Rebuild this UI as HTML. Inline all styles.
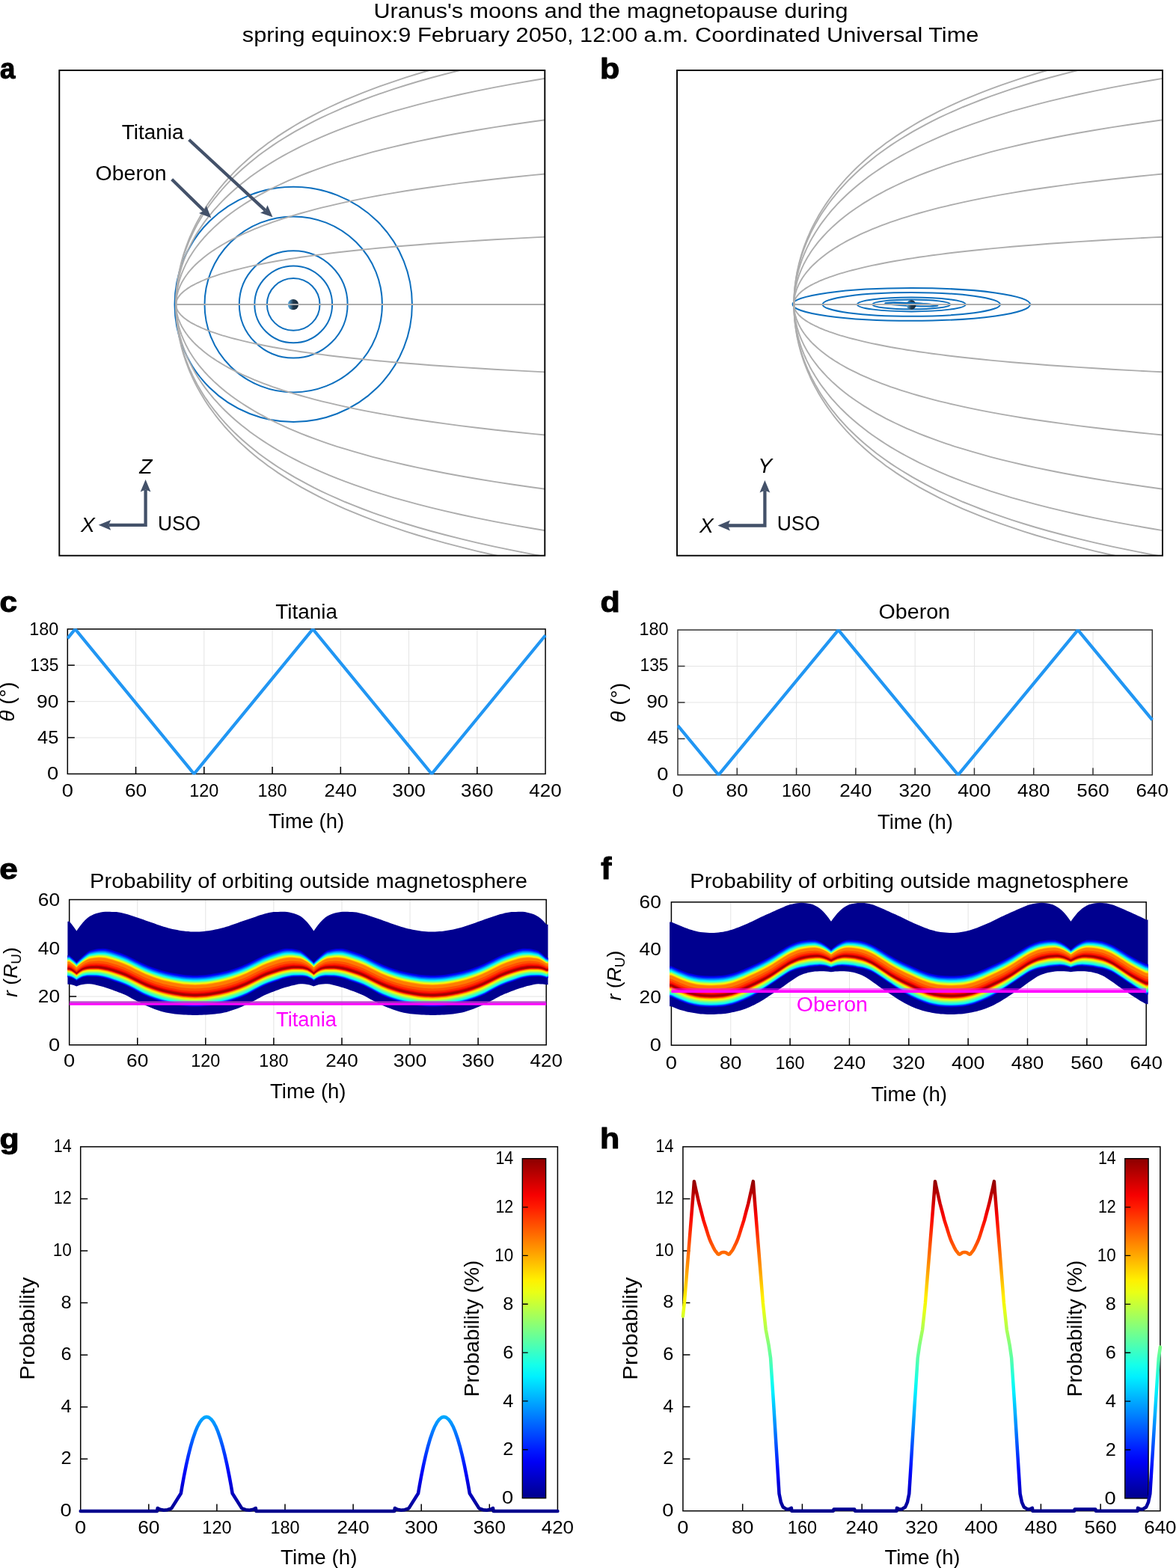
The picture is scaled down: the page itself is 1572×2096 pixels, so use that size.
<!DOCTYPE html>
<html lang="en">
<head>
<meta charset="utf-8">
<title>Uranus moons and the magnetopause</title>
<style>html,body{margin:0;padding:0;background:#fff;width:1572px;height:2096px;overflow:hidden}svg{display:block}text{font-family:'Liberation Sans', sans-serif;}</style>
</head>
<body>
<svg width="1572" height="2096" viewBox="0 0 1572 2096" role="img" aria-label="Uranus moons and the magnetopause during spring equinox">
<defs>
<clipPath id="clipA"><rect x="79.3" y="94" width="649" height="648.7"/></clipPath>
<linearGradient id="plA" x1="0" y1="0" x2="1" y2="0"><stop offset="0" stop-color="#5fb2ec"/><stop offset="0.12" stop-color="#4d96c8"/><stop offset="0.3" stop-color="#3d6d8e"/><stop offset="0.5" stop-color="#223a4e"/><stop offset="1" stop-color="#15293a"/></linearGradient>
<linearGradient id="plB" x1="0" y1="0" x2="1" y2="0"><stop offset="0" stop-color="#5fb2ec"/><stop offset="0.12" stop-color="#4d96c8"/><stop offset="0.3" stop-color="#3d6d8e"/><stop offset="0.5" stop-color="#223a4e"/><stop offset="1" stop-color="#15293a"/></linearGradient>
<clipPath id="clipB"><rect x="905" y="94" width="649" height="648.7"/></clipPath>
<clipPath id="clipT90"><rect x="89.6" y="840.2" width="640.98" height="195.2"/></clipPath>
<clipPath id="clipT906"><rect x="905.3" y="841.35" width="636.5" height="195.45"/></clipPath>
<linearGradient id="jg" gradientUnits="userSpaceOnUse" x1="0" y1="2019.9" x2="0" y2="1576.38"><stop offset="0" stop-color="#00008c"/><stop offset="0.0357" stop-color="#0000af"/><stop offset="0.0714" stop-color="#0000d3"/><stop offset="0.1071" stop-color="#0000f6"/><stop offset="0.1429" stop-color="#001bff"/><stop offset="0.1786" stop-color="#003fff"/><stop offset="0.2143" stop-color="#0062ff"/><stop offset="0.25" stop-color="#0086ff"/><stop offset="0.2857" stop-color="#00a9ff"/><stop offset="0.3214" stop-color="#00cdff"/><stop offset="0.3571" stop-color="#00f0ff"/><stop offset="0.3929" stop-color="#15ffea"/><stop offset="0.4286" stop-color="#38ffc7"/><stop offset="0.4643" stop-color="#5cffa3"/><stop offset="0.5" stop-color="#80ff80"/><stop offset="0.5357" stop-color="#a3ff5c"/><stop offset="0.5714" stop-color="#c7ff38"/><stop offset="0.6071" stop-color="#eaff15"/><stop offset="0.6429" stop-color="#fff000"/><stop offset="0.6786" stop-color="#ffcd00"/><stop offset="0.7143" stop-color="#ffa900"/><stop offset="0.75" stop-color="#ff8600"/><stop offset="0.7857" stop-color="#ff6200"/><stop offset="0.8214" stop-color="#ff3f00"/><stop offset="0.8571" stop-color="#ff1b00"/><stop offset="0.8929" stop-color="#f60000"/><stop offset="0.9286" stop-color="#d30000"/><stop offset="0.9643" stop-color="#af0000"/><stop offset="1" stop-color="#8c0000"/></linearGradient>
<linearGradient id="jgc" gradientUnits="userSpaceOnUse" x1="0" y1="2002.6" x2="0" y2="1548.7"><stop offset="0" stop-color="#00008c"/><stop offset="0.0357" stop-color="#0000af"/><stop offset="0.0714" stop-color="#0000d3"/><stop offset="0.1071" stop-color="#0000f6"/><stop offset="0.1429" stop-color="#001bff"/><stop offset="0.1786" stop-color="#003fff"/><stop offset="0.2143" stop-color="#0062ff"/><stop offset="0.25" stop-color="#0086ff"/><stop offset="0.2857" stop-color="#00a9ff"/><stop offset="0.3214" stop-color="#00cdff"/><stop offset="0.3571" stop-color="#00f0ff"/><stop offset="0.3929" stop-color="#15ffea"/><stop offset="0.4286" stop-color="#38ffc7"/><stop offset="0.4643" stop-color="#5cffa3"/><stop offset="0.5" stop-color="#80ff80"/><stop offset="0.5357" stop-color="#a3ff5c"/><stop offset="0.5714" stop-color="#c7ff38"/><stop offset="0.6071" stop-color="#eaff15"/><stop offset="0.6429" stop-color="#fff000"/><stop offset="0.6786" stop-color="#ffcd00"/><stop offset="0.7143" stop-color="#ffa900"/><stop offset="0.75" stop-color="#ff8600"/><stop offset="0.7857" stop-color="#ff6200"/><stop offset="0.8214" stop-color="#ff3f00"/><stop offset="0.8571" stop-color="#ff1b00"/><stop offset="0.8929" stop-color="#f60000"/><stop offset="0.9286" stop-color="#d30000"/><stop offset="0.9643" stop-color="#af0000"/><stop offset="1" stop-color="#8c0000"/></linearGradient>
<linearGradient id="jh" gradientUnits="userSpaceOnUse" x1="0" y1="2019.7" x2="0" y2="1576.36"><stop offset="0" stop-color="#00008c"/><stop offset="0.0357" stop-color="#0000af"/><stop offset="0.0714" stop-color="#0000d3"/><stop offset="0.1071" stop-color="#0000f6"/><stop offset="0.1429" stop-color="#001bff"/><stop offset="0.1786" stop-color="#003fff"/><stop offset="0.2143" stop-color="#0062ff"/><stop offset="0.25" stop-color="#0086ff"/><stop offset="0.2857" stop-color="#00a9ff"/><stop offset="0.3214" stop-color="#00cdff"/><stop offset="0.3571" stop-color="#00f0ff"/><stop offset="0.3929" stop-color="#15ffea"/><stop offset="0.4286" stop-color="#38ffc7"/><stop offset="0.4643" stop-color="#5cffa3"/><stop offset="0.5" stop-color="#80ff80"/><stop offset="0.5357" stop-color="#a3ff5c"/><stop offset="0.5714" stop-color="#c7ff38"/><stop offset="0.6071" stop-color="#eaff15"/><stop offset="0.6429" stop-color="#fff000"/><stop offset="0.6786" stop-color="#ffcd00"/><stop offset="0.7143" stop-color="#ffa900"/><stop offset="0.75" stop-color="#ff8600"/><stop offset="0.7857" stop-color="#ff6200"/><stop offset="0.8214" stop-color="#ff3f00"/><stop offset="0.8571" stop-color="#ff1b00"/><stop offset="0.8929" stop-color="#f60000"/><stop offset="0.9286" stop-color="#d30000"/><stop offset="0.9643" stop-color="#af0000"/><stop offset="1" stop-color="#8c0000"/></linearGradient>
<linearGradient id="jhc" gradientUnits="userSpaceOnUse" x1="0" y1="2002.9" x2="0" y2="1548.7"><stop offset="0" stop-color="#00008c"/><stop offset="0.0357" stop-color="#0000af"/><stop offset="0.0714" stop-color="#0000d3"/><stop offset="0.1071" stop-color="#0000f6"/><stop offset="0.1429" stop-color="#001bff"/><stop offset="0.1786" stop-color="#003fff"/><stop offset="0.2143" stop-color="#0062ff"/><stop offset="0.25" stop-color="#0086ff"/><stop offset="0.2857" stop-color="#00a9ff"/><stop offset="0.3214" stop-color="#00cdff"/><stop offset="0.3571" stop-color="#00f0ff"/><stop offset="0.3929" stop-color="#15ffea"/><stop offset="0.4286" stop-color="#38ffc7"/><stop offset="0.4643" stop-color="#5cffa3"/><stop offset="0.5" stop-color="#80ff80"/><stop offset="0.5357" stop-color="#a3ff5c"/><stop offset="0.5714" stop-color="#c7ff38"/><stop offset="0.6071" stop-color="#eaff15"/><stop offset="0.6429" stop-color="#fff000"/><stop offset="0.6786" stop-color="#ffcd00"/><stop offset="0.7143" stop-color="#ffa900"/><stop offset="0.75" stop-color="#ff8600"/><stop offset="0.7857" stop-color="#ff6200"/><stop offset="0.8214" stop-color="#ff3f00"/><stop offset="0.8571" stop-color="#ff1b00"/><stop offset="0.8929" stop-color="#f60000"/><stop offset="0.9286" stop-color="#d30000"/><stop offset="0.9643" stop-color="#af0000"/><stop offset="1" stop-color="#8c0000"/></linearGradient>
</defs>
<rect width="1572" height="2096" fill="#fff"/>
<g fill="none" stroke="#0d6fbe" stroke-width="2">
<ellipse cx="392.2" cy="406.9" rx="35.3" ry="34.95"/>
<ellipse cx="392.2" cy="406.9" rx="51.9" ry="51.38"/>
<ellipse cx="392.2" cy="406.9" rx="72.4" ry="71.68"/>
<ellipse cx="392.2" cy="406.9" rx="118.7" ry="117.51"/>
<ellipse cx="392.2" cy="406.9" rx="158.7" ry="157.11"/>
</g>
<g clip-path="url(#clipA)" fill="none" stroke="#adadad" stroke-width="1.9">
<path d="M235.2 407H728.3"/>
<path d="M235.2 407L235.3 405.8L235.3 404.1L235.3 402.1L235.4 399.8L235.5 397.4L235.6 394.8L235.7 392.1L235.9 389.3L236.2 386.4L236.5 383.4L236.8 380.3L237.3 377.1L237.7 373.8L238.2 370.4L238.8 367L239.5 363.5L240.2 360L241 356.4L241.9 352.7L242.8 349L243.9 345.2L245 341.3L246.2 337.5L247.5 333.5L248.9 329.6L250.4 325.5L251.9 321.5L253.6 317.4L255.4 313.3L257.3 309.1L259.3 304.9L261.4 300.6L263.6 296.4L266 292.1L268.5 287.7L271.1 283.4L273.8 279L276.7 274.6L279.7 270.1L282.9 265.7L286.2 261.2L289.7 256.7L293.3 252.1L297.1 247.6L301 243L305.2 238.4L309.5 233.8L314 229.2L318.7 224.5L323.6 219.9L328.8 215.2L334.1 210.5L339.7 205.8L345.5 201.1L351.6 196.4L358 191.6L364.6 186.9L371.5 182.1L378.7 177.4L386.3 172.6L394.2 167.8L402.5 162.9L411.2 158.1L420.2 153.3L429.8 148.4L439.8 143.5L450.3 138.6L461.4 133.7L473 128.8L485.3 123.8L498.3 118.8L512.1 113.8L526.7 108.8L542.2 103.7L558.7 98.5L576.3 93.4L595.1 88.1L615.4 82.8L637.1 77.4L660.7 72L686.2 66.4L714 60.8L744.4 55L777.8 49.1"/>
<path d="M235.2 407L235.3 408.2L235.3 409.9L235.3 411.9L235.4 414.2L235.5 416.6L235.6 419.2L235.7 421.9L235.9 424.7L236.2 427.6L236.5 430.6L236.8 433.7L237.3 436.9L237.7 440.2L238.2 443.6L238.8 447L239.5 450.5L240.2 454L241 457.6L241.9 461.3L242.8 465L243.9 468.8L245 472.7L246.2 476.5L247.5 480.5L248.9 484.4L250.4 488.5L251.9 492.5L253.6 496.6L255.4 500.7L257.3 504.9L259.3 509.1L261.4 513.4L263.6 517.6L266 521.9L268.5 526.3L271.1 530.6L273.8 535L276.7 539.4L279.7 543.9L282.9 548.3L286.2 552.8L289.7 557.3L293.3 561.9L297.1 566.4L301 571L305.2 575.6L309.5 580.2L314 584.8L318.7 589.5L323.6 594.1L328.8 598.8L334.1 603.5L339.7 608.2L345.5 612.9L351.6 617.6L358 622.4L364.6 627.1L371.5 631.9L378.7 636.6L386.3 641.4L394.2 646.2L402.5 651.1L411.2 655.9L420.2 660.7L429.8 665.6L439.8 670.5L450.3 675.4L461.4 680.3L473 685.2L485.3 690.2L498.3 695.2L512.1 700.2L526.7 705.2L542.2 710.3L558.7 715.5L576.3 720.6L595.1 725.9L615.4 731.2L637.1 736.6L660.7 742L686.2 747.6L714 753.2L744.4 759L777.8 764.9"/>
<path d="M235.2 407L235.3 405.9L235.3 404.2L235.3 402.2L235.4 400.1L235.5 397.7L235.6 395.3L235.7 392.6L235.9 389.9L236.2 387.1L236.5 384.2L236.8 381.2L237.3 378.1L237.7 374.9L238.2 371.7L238.8 368.4L239.5 365L240.2 361.6L241 358.1L241.9 354.5L242.8 350.9L243.9 347.3L245 343.6L246.2 339.8L247.5 336L248.9 332.2L250.4 328.3L251.9 324.4L253.6 320.4L255.4 316.5L257.3 312.4L259.3 308.4L261.4 304.3L263.6 300.1L266 296L268.5 291.8L271.1 287.6L273.8 283.3L276.7 279.1L279.7 274.8L282.9 270.5L286.2 266.1L289.7 261.8L293.3 257.4L297.1 253L301 248.6L305.2 244.2L309.5 239.7L314 235.2L318.7 230.8L323.6 226.3L328.8 221.7L334.1 217.2L339.7 212.7L345.5 208.1L351.6 203.6L358 199L364.6 194.4L371.5 189.8L378.7 185.2L386.3 180.6L394.2 175.9L402.5 171.3L411.2 166.6L420.2 161.9L429.8 157.2L439.8 152.5L450.3 147.8L461.4 143L473 138.3L485.3 133.5L498.3 128.7L512.1 123.8L526.7 118.9L542.2 114L558.7 109L576.3 104L595.1 99L615.4 93.9L637.1 88.7L660.7 83.4L686.2 78.1L714 72.6L744.4 67L777.8 61.3"/>
<path d="M235.2 407L235.3 408.1L235.3 409.8L235.3 411.8L235.4 413.9L235.5 416.3L235.6 418.7L235.7 421.4L235.9 424.1L236.2 426.9L236.5 429.8L236.8 432.8L237.3 435.9L237.7 439.1L238.2 442.3L238.8 445.6L239.5 449L240.2 452.4L241 455.9L241.9 459.5L242.8 463.1L243.9 466.7L245 470.4L246.2 474.2L247.5 478L248.9 481.8L250.4 485.7L251.9 489.6L253.6 493.6L255.4 497.5L257.3 501.6L259.3 505.6L261.4 509.7L263.6 513.9L266 518L268.5 522.2L271.1 526.4L273.8 530.7L276.7 534.9L279.7 539.2L282.9 543.5L286.2 547.9L289.7 552.2L293.3 556.6L297.1 561L301 565.4L305.2 569.8L309.5 574.3L314 578.8L318.7 583.2L323.6 587.7L328.8 592.3L334.1 596.8L339.7 601.3L345.5 605.9L351.6 610.4L358 615L364.6 619.6L371.5 624.2L378.7 628.8L386.3 633.4L394.2 638.1L402.5 642.7L411.2 647.4L420.2 652.1L429.8 656.8L439.8 661.5L450.3 666.2L461.4 671L473 675.7L485.3 680.5L498.3 685.3L512.1 690.2L526.7 695.1L542.2 700L558.7 705L576.3 710L595.1 715L615.4 720.1L637.1 725.3L660.7 730.6L686.2 735.9L714 741.4L744.4 747L777.8 752.7"/>
<path d="M235.2 407L235.3 406L235.3 404.5L235.3 402.7L235.4 400.8L235.5 398.7L235.6 396.5L235.7 394.1L235.9 391.7L236.2 389.2L236.5 386.5L236.8 383.9L237.3 381.1L237.7 378.2L238.2 375.3L238.8 372.4L239.5 369.4L240.2 366.3L241 363.1L241.9 360L242.8 356.7L243.9 353.5L245 350.1L246.2 346.8L247.5 343.4L248.9 339.9L250.4 336.5L251.9 332.9L253.6 329.4L255.4 325.8L257.3 322.2L259.3 318.6L261.4 314.9L263.6 311.2L266 307.5L268.5 303.7L271.1 299.9L273.8 296.1L276.7 292.3L279.7 288.5L282.9 284.6L286.2 280.7L289.7 276.8L293.3 272.9L297.1 268.9L301 265L305.2 261L309.5 257L314 253L318.7 249L323.6 244.9L328.8 240.9L334.1 236.8L339.7 232.8L345.5 228.7L351.6 224.6L358 220.5L364.6 216.4L371.5 212.3L378.7 208.1L386.3 204L394.2 199.8L402.5 195.6L411.2 191.5L420.2 187.3L429.8 183.1L439.8 178.8L450.3 174.6L461.4 170.3L473 166.1L485.3 161.8L498.3 157.4L512.1 153.1L526.7 148.7L542.2 144.3L558.7 139.9L576.3 135.4L595.1 130.8L615.4 126.3L637.1 121.6L660.7 116.9L686.2 112.1L714 107.2L744.4 102.2L777.8 97"/>
<path d="M235.2 407L235.3 408L235.3 409.5L235.3 411.3L235.4 413.2L235.5 415.3L235.6 417.5L235.7 419.9L235.9 422.3L236.2 424.8L236.5 427.5L236.8 430.1L237.3 432.9L237.7 435.8L238.2 438.7L238.8 441.6L239.5 444.6L240.2 447.7L241 450.9L241.9 454L242.8 457.3L243.9 460.5L245 463.9L246.2 467.2L247.5 470.6L248.9 474.1L250.4 477.5L251.9 481.1L253.6 484.6L255.4 488.2L257.3 491.8L259.3 495.4L261.4 499.1L263.6 502.8L266 506.5L268.5 510.3L271.1 514.1L273.8 517.9L276.7 521.7L279.7 525.5L282.9 529.4L286.2 533.3L289.7 537.2L293.3 541.1L297.1 545.1L301 549L305.2 553L309.5 557L314 561L318.7 565L323.6 569.1L328.8 573.1L334.1 577.2L339.7 581.2L345.5 585.3L351.6 589.4L358 593.5L364.6 597.6L371.5 601.7L378.7 605.9L386.3 610L394.2 614.2L402.5 618.4L411.2 622.5L420.2 626.7L429.8 630.9L439.8 635.2L450.3 639.4L461.4 643.7L473 647.9L485.3 652.2L498.3 656.6L512.1 660.9L526.7 665.3L542.2 669.7L558.7 674.1L576.3 678.6L595.1 683.2L615.4 687.7L637.1 692.4L660.7 697.1L686.2 701.9L714 706.8L744.4 711.8L777.8 717"/>
<path d="M235.2 407L235.3 406.2L235.3 404.9L235.3 403.5L235.4 401.9L235.5 400.2L235.6 398.4L235.7 396.5L235.9 394.5L236.2 392.4L236.5 390.3L236.8 388.1L237.3 385.8L237.7 383.5L238.2 381.2L238.8 378.7L239.5 376.3L240.2 373.8L241 371.2L241.9 368.6L242.8 366L243.9 363.3L245 360.6L246.2 357.8L247.5 355.1L248.9 352.2L250.4 349.4L251.9 346.5L253.6 343.6L255.4 340.7L257.3 337.8L259.3 334.8L261.4 331.8L263.6 328.8L266 325.7L268.5 322.7L271.1 319.6L273.8 316.5L276.7 313.4L279.7 310.2L282.9 307.1L286.2 303.9L289.7 300.7L293.3 297.5L297.1 294.3L301 291L305.2 287.8L309.5 284.5L314 281.3L318.7 278L323.6 274.7L328.8 271.4L334.1 268.1L339.7 264.7L345.5 261.4L351.6 258.1L358 254.7L364.6 251.4L371.5 248L378.7 244.6L386.3 241.2L394.2 237.8L402.5 234.4L411.2 231L420.2 227.6L429.8 224.1L439.8 220.7L450.3 217.2L461.4 213.8L473 210.3L485.3 206.8L498.3 203.2L512.1 199.7L526.7 196.1L542.2 192.5L558.7 188.9L576.3 185.2L595.1 181.5L615.4 177.8L637.1 174L660.7 170.1L686.2 166.2L714 162.2L744.4 158.1L777.8 153.9"/>
<path d="M235.2 407L235.3 407.8L235.3 409.1L235.3 410.5L235.4 412.1L235.5 413.8L235.6 415.6L235.7 417.5L235.9 419.5L236.2 421.6L236.5 423.7L236.8 425.9L237.3 428.2L237.7 430.5L238.2 432.8L238.8 435.3L239.5 437.7L240.2 440.2L241 442.8L241.9 445.4L242.8 448L243.9 450.7L245 453.4L246.2 456.2L247.5 458.9L248.9 461.8L250.4 464.6L251.9 467.5L253.6 470.4L255.4 473.3L257.3 476.2L259.3 479.2L261.4 482.2L263.6 485.2L266 488.3L268.5 491.3L271.1 494.4L273.8 497.5L276.7 500.6L279.7 503.8L282.9 506.9L286.2 510.1L289.7 513.3L293.3 516.5L297.1 519.7L301 523L305.2 526.2L309.5 529.5L314 532.7L318.7 536L323.6 539.3L328.8 542.6L334.1 545.9L339.7 549.3L345.5 552.6L351.6 555.9L358 559.3L364.6 562.6L371.5 566L378.7 569.4L386.3 572.8L394.2 576.2L402.5 579.6L411.2 583L420.2 586.4L429.8 589.9L439.8 593.3L450.3 596.8L461.4 600.2L473 603.7L485.3 607.2L498.3 610.8L512.1 614.3L526.7 617.9L542.2 621.5L558.7 625.1L576.3 628.8L595.1 632.5L615.4 636.2L637.1 640L660.7 643.9L686.2 647.8L714 651.8L744.4 655.9L777.8 660.1"/>
<path d="M235.2 407L235.3 406.4L235.3 405.5L235.3 404.5L235.4 403.4L235.5 402.2L235.6 400.9L235.7 399.6L235.9 398.2L236.2 396.7L236.5 395.2L236.8 393.6L237.3 392L237.7 390.4L238.2 388.7L238.8 387L239.5 385.3L240.2 383.5L241 381.7L241.9 379.8L242.8 378L243.9 376.1L245 374.2L246.2 372.2L247.5 370.3L248.9 368.3L250.4 366.3L251.9 364.2L253.6 362.2L255.4 360.1L257.3 358L259.3 355.9L261.4 353.8L263.6 351.7L266 349.5L268.5 347.4L271.1 345.2L273.8 343L276.7 340.8L279.7 338.6L282.9 336.3L286.2 334.1L289.7 331.8L293.3 329.6L297.1 327.3L301 325L305.2 322.7L309.5 320.4L314 318.1L318.7 315.8L323.6 313.4L328.8 311.1L334.1 308.8L339.7 306.4L345.5 304.1L351.6 301.7L358 299.3L364.6 296.9L371.5 294.6L378.7 292.2L386.3 289.8L394.2 287.4L402.5 285L411.2 282.6L420.2 280.1L429.8 277.7L439.8 275.3L450.3 272.8L461.4 270.4L473 267.9L485.3 265.4L498.3 262.9L512.1 260.4L526.7 257.9L542.2 255.3L558.7 252.8L576.3 250.2L595.1 247.6L615.4 244.9L637.1 242.2L660.7 239.5L686.2 236.7L714 233.9L744.4 231L777.8 228"/>
<path d="M235.2 407L235.3 407.6L235.3 408.5L235.3 409.5L235.4 410.6L235.5 411.8L235.6 413.1L235.7 414.4L235.9 415.8L236.2 417.3L236.5 418.8L236.8 420.4L237.3 422L237.7 423.6L238.2 425.3L238.8 427L239.5 428.7L240.2 430.5L241 432.3L241.9 434.2L242.8 436L243.9 437.9L245 439.8L246.2 441.8L247.5 443.7L248.9 445.7L250.4 447.7L251.9 449.8L253.6 451.8L255.4 453.9L257.3 456L259.3 458.1L261.4 460.2L263.6 462.3L266 464.5L268.5 466.6L271.1 468.8L273.8 471L276.7 473.2L279.7 475.4L282.9 477.7L286.2 479.9L289.7 482.2L293.3 484.4L297.1 486.7L301 489L305.2 491.3L309.5 493.6L314 495.9L318.7 498.2L323.6 500.6L328.8 502.9L334.1 505.2L339.7 507.6L345.5 509.9L351.6 512.3L358 514.7L364.6 517.1L371.5 519.4L378.7 521.8L386.3 524.2L394.2 526.6L402.5 529L411.2 531.4L420.2 533.9L429.8 536.3L439.8 538.7L450.3 541.2L461.4 543.6L473 546.1L485.3 548.6L498.3 551.1L512.1 553.6L526.7 556.1L542.2 558.7L558.7 561.2L576.3 563.8L595.1 566.4L615.4 569.1L637.1 571.8L660.7 574.5L686.2 577.3L714 580.1L744.4 583L777.8 586"/>
<path d="M235.2 407L235.3 406.7L235.3 406.2L235.3 405.7L235.4 405.1L235.5 404.5L235.6 403.9L235.7 403.2L235.9 402.4L236.2 401.7L236.5 400.9L236.8 400.1L237.3 399.3L237.7 398.4L238.2 397.5L238.8 396.7L239.5 395.7L240.2 394.8L241 393.9L241.9 392.9L242.8 392L243.9 391L245 390L246.2 389L247.5 388L248.9 387L250.4 385.9L251.9 384.9L253.6 383.8L255.4 382.7L257.3 381.7L259.3 380.6L261.4 379.5L263.6 378.4L266 377.3L268.5 376.1L271.1 375L273.8 373.9L276.7 372.7L279.7 371.6L282.9 370.4L286.2 369.3L289.7 368.1L293.3 366.9L297.1 365.7L301 364.6L305.2 363.4L309.5 362.2L314 361L318.7 359.8L323.6 358.6L328.8 357.4L334.1 356.1L339.7 354.9L345.5 353.7L351.6 352.5L358 351.3L364.6 350L371.5 348.8L378.7 347.6L386.3 346.3L394.2 345.1L402.5 343.8L411.2 342.6L420.2 341.3L429.8 340.1L439.8 338.8L450.3 337.5L461.4 336.3L473 335L485.3 333.7L498.3 332.4L512.1 331.1L526.7 329.8L542.2 328.5L558.7 327.2L576.3 325.8L595.1 324.5L615.4 323.1L637.1 321.7L660.7 320.3L686.2 318.9L714 317.4L744.4 315.9L777.8 314.4"/>
<path d="M235.2 407L235.3 407.3L235.3 407.8L235.3 408.3L235.4 408.9L235.5 409.5L235.6 410.1L235.7 410.8L235.9 411.6L236.2 412.3L236.5 413.1L236.8 413.9L237.3 414.7L237.7 415.6L238.2 416.5L238.8 417.3L239.5 418.3L240.2 419.2L241 420.1L241.9 421.1L242.8 422L243.9 423L245 424L246.2 425L247.5 426L248.9 427L250.4 428.1L251.9 429.1L253.6 430.2L255.4 431.3L257.3 432.3L259.3 433.4L261.4 434.5L263.6 435.6L266 436.7L268.5 437.9L271.1 439L273.8 440.1L276.7 441.3L279.7 442.4L282.9 443.6L286.2 444.7L289.7 445.9L293.3 447.1L297.1 448.3L301 449.4L305.2 450.6L309.5 451.8L314 453L318.7 454.2L323.6 455.4L328.8 456.6L334.1 457.9L339.7 459.1L345.5 460.3L351.6 461.5L358 462.7L364.6 464L371.5 465.2L378.7 466.4L386.3 467.7L394.2 468.9L402.5 470.2L411.2 471.4L420.2 472.7L429.8 473.9L439.8 475.2L450.3 476.5L461.4 477.7L473 479L485.3 480.3L498.3 481.6L512.1 482.9L526.7 484.2L542.2 485.5L558.7 486.8L576.3 488.2L595.1 489.5L615.4 490.9L637.1 492.3L660.7 493.7L686.2 495.1L714 496.6L744.4 498.1L777.8 499.6"/>
</g>
<circle cx="391.9" cy="407.1" r="7.2" fill="url(#plA)"/>
<path d="M383 407h18" stroke="#b6b6b6" stroke-width="1.9"/>
<path d="M252.6 186.8L354.59 281.13" stroke="#435169" stroke-width="4.2" fill="none"/>
<path d="M364.5 290.3L348 284.57L354.59 281.13L357.51 274.3Z" fill="#435169"/>
<path d="M229.7 239.7L272.66 281.85" stroke="#435169" stroke-width="4.2" fill="none"/>
<path d="M282.3 291.3L265.98 285.09L272.66 281.85L275.78 275.1Z" fill="#435169"/>
<path d="M145.2 701.8H194.6V654.5" stroke="#435169" stroke-width="4.3" fill="none" stroke-linejoin="miter"/>
<path d="M131.7 701.8l16.5 -6.9l-3 6.9l3 6.9Z" fill="#435169"/>
<path d="M194.6 641l-6.9 16.5l6.9 -3l6.9 3Z" fill="#435169"/>
<rect x="79.3" y="94.0" width="649.0" height="648.7" fill="none" stroke="#000" stroke-width="1.9"/>
<g fill="none" stroke="#0d6fbe" stroke-width="2">
<ellipse cx="1218.3" cy="406.9" rx="51.9" ry="6.4"/>
<ellipse cx="1218.3" cy="406.9" rx="72.4" ry="9.5"/>
<ellipse cx="1218.3" cy="406.9" rx="118.7" ry="15.9"/>
<ellipse cx="1218.3" cy="406.9" rx="158.7" ry="21.9"/>
<ellipse cx="1218.3" cy="407" rx="35.2" ry="1.9" transform="rotate(2.9 1218.3 407)"/>
</g>
<circle cx="1218" cy="407.5" r="6.5" fill="url(#plB)"/>
<path d="M1183.1 407A35.2 1.9 0 0 1 1253.5 407" fill="none" stroke="#0d6fbe" stroke-width="2" transform="rotate(2.9 1218.3 407)"/>
<g clip-path="url(#clipB)" fill="none" stroke="#adadad" stroke-width="1.9">
<path d="M1061.3 407H1554"/>
<path d="M1061.3 407L1061.3 405.8L1061.3 404.1L1061.4 402.1L1061.4 399.8L1061.5 397.4L1061.6 394.8L1061.8 392.1L1062 389.3L1062.2 386.4L1062.5 383.4L1062.9 380.3L1063.3 377.1L1063.8 373.8L1064.3 370.4L1064.9 367L1065.5 363.5L1066.3 360L1067.1 356.4L1067.9 352.7L1068.9 349L1069.9 345.2L1071 341.3L1072.2 337.5L1073.5 333.5L1074.9 329.6L1076.4 325.5L1078 321.5L1079.7 317.4L1081.5 313.3L1083.3 309.1L1085.3 304.9L1087.5 300.6L1089.7 296.4L1092.1 292.1L1094.5 287.7L1097.1 283.4L1099.9 279L1102.8 274.6L1105.8 270.1L1108.9 265.7L1112.2 261.2L1115.7 256.7L1119.3 252.1L1123.1 247.6L1127.1 243L1131.2 238.4L1135.5 233.8L1140.1 229.2L1144.8 224.5L1149.7 219.9L1154.8 215.2L1160.2 210.5L1165.7 205.8L1171.6 201.1L1177.7 196.4L1184 191.6L1190.6 186.9L1197.6 182.1L1204.8 177.4L1212.4 172.6L1220.3 167.8L1228.5 162.9L1237.2 158.1L1246.3 153.3L1255.8 148.4L1265.8 143.5L1276.3 138.6L1287.4 133.7L1299.1 128.8L1311.4 123.8L1324.4 118.8L1338.1 113.8L1352.7 108.8L1368.2 103.7L1384.7 98.5L1402.3 93.4L1421.2 88.1L1441.4 82.8L1463.2 77.4L1486.7 72L1512.3 66.4L1540 60.8L1570.5 55L1603.9 49.1"/>
<path d="M1061.3 407L1061.3 408.2L1061.3 409.9L1061.4 411.9L1061.4 414.2L1061.5 416.6L1061.6 419.2L1061.8 421.9L1062 424.7L1062.2 427.6L1062.5 430.6L1062.9 433.7L1063.3 436.9L1063.8 440.2L1064.3 443.6L1064.9 447L1065.5 450.5L1066.3 454L1067.1 457.6L1067.9 461.3L1068.9 465L1069.9 468.8L1071 472.7L1072.2 476.5L1073.5 480.5L1074.9 484.4L1076.4 488.5L1078 492.5L1079.7 496.6L1081.5 500.7L1083.3 504.9L1085.3 509.1L1087.5 513.4L1089.7 517.6L1092.1 521.9L1094.5 526.3L1097.1 530.6L1099.9 535L1102.8 539.4L1105.8 543.9L1108.9 548.3L1112.2 552.8L1115.7 557.3L1119.3 561.9L1123.1 566.4L1127.1 571L1131.2 575.6L1135.5 580.2L1140.1 584.8L1144.8 589.5L1149.7 594.1L1154.8 598.8L1160.2 603.5L1165.7 608.2L1171.6 612.9L1177.7 617.6L1184 622.4L1190.6 627.1L1197.6 631.9L1204.8 636.6L1212.4 641.4L1220.3 646.2L1228.5 651.1L1237.2 655.9L1246.3 660.7L1255.8 665.6L1265.8 670.5L1276.3 675.4L1287.4 680.3L1299.1 685.2L1311.4 690.2L1324.4 695.2L1338.1 700.2L1352.7 705.2L1368.2 710.3L1384.7 715.5L1402.3 720.6L1421.2 725.9L1441.4 731.2L1463.2 736.6L1486.7 742L1512.3 747.6L1540 753.2L1570.5 759L1603.9 764.9"/>
<path d="M1061.3 407L1061.3 405.9L1061.3 404.2L1061.4 402.2L1061.4 400.1L1061.5 397.7L1061.6 395.3L1061.8 392.6L1062 389.9L1062.2 387.1L1062.5 384.2L1062.9 381.2L1063.3 378.1L1063.8 374.9L1064.3 371.7L1064.9 368.4L1065.5 365L1066.3 361.6L1067.1 358.1L1067.9 354.5L1068.9 350.9L1069.9 347.3L1071 343.6L1072.2 339.8L1073.5 336L1074.9 332.2L1076.4 328.3L1078 324.4L1079.7 320.4L1081.5 316.5L1083.3 312.4L1085.3 308.4L1087.5 304.3L1089.7 300.1L1092.1 296L1094.5 291.8L1097.1 287.6L1099.9 283.3L1102.8 279.1L1105.8 274.8L1108.9 270.5L1112.2 266.1L1115.7 261.8L1119.3 257.4L1123.1 253L1127.1 248.6L1131.2 244.2L1135.5 239.7L1140.1 235.2L1144.8 230.8L1149.7 226.3L1154.8 221.7L1160.2 217.2L1165.7 212.7L1171.6 208.1L1177.7 203.6L1184 199L1190.6 194.4L1197.6 189.8L1204.8 185.2L1212.4 180.6L1220.3 175.9L1228.5 171.3L1237.2 166.6L1246.3 161.9L1255.8 157.2L1265.8 152.5L1276.3 147.8L1287.4 143L1299.1 138.3L1311.4 133.5L1324.4 128.7L1338.1 123.8L1352.7 118.9L1368.2 114L1384.7 109L1402.3 104L1421.2 99L1441.4 93.9L1463.2 88.7L1486.7 83.4L1512.3 78.1L1540 72.6L1570.5 67L1603.9 61.3"/>
<path d="M1061.3 407L1061.3 408.1L1061.3 409.8L1061.4 411.8L1061.4 413.9L1061.5 416.3L1061.6 418.7L1061.8 421.4L1062 424.1L1062.2 426.9L1062.5 429.8L1062.9 432.8L1063.3 435.9L1063.8 439.1L1064.3 442.3L1064.9 445.6L1065.5 449L1066.3 452.4L1067.1 455.9L1067.9 459.5L1068.9 463.1L1069.9 466.7L1071 470.4L1072.2 474.2L1073.5 478L1074.9 481.8L1076.4 485.7L1078 489.6L1079.7 493.6L1081.5 497.5L1083.3 501.6L1085.3 505.6L1087.5 509.7L1089.7 513.9L1092.1 518L1094.5 522.2L1097.1 526.4L1099.9 530.7L1102.8 534.9L1105.8 539.2L1108.9 543.5L1112.2 547.9L1115.7 552.2L1119.3 556.6L1123.1 561L1127.1 565.4L1131.2 569.8L1135.5 574.3L1140.1 578.8L1144.8 583.2L1149.7 587.7L1154.8 592.3L1160.2 596.8L1165.7 601.3L1171.6 605.9L1177.7 610.4L1184 615L1190.6 619.6L1197.6 624.2L1204.8 628.8L1212.4 633.4L1220.3 638.1L1228.5 642.7L1237.2 647.4L1246.3 652.1L1255.8 656.8L1265.8 661.5L1276.3 666.2L1287.4 671L1299.1 675.7L1311.4 680.5L1324.4 685.3L1338.1 690.2L1352.7 695.1L1368.2 700L1384.7 705L1402.3 710L1421.2 715L1441.4 720.1L1463.2 725.3L1486.7 730.6L1512.3 735.9L1540 741.4L1570.5 747L1603.9 752.7"/>
<path d="M1061.3 407L1061.3 406L1061.3 404.5L1061.4 402.7L1061.4 400.8L1061.5 398.7L1061.6 396.5L1061.8 394.1L1062 391.7L1062.2 389.2L1062.5 386.5L1062.9 383.9L1063.3 381.1L1063.8 378.2L1064.3 375.3L1064.9 372.4L1065.5 369.4L1066.3 366.3L1067.1 363.1L1067.9 360L1068.9 356.7L1069.9 353.5L1071 350.1L1072.2 346.8L1073.5 343.4L1074.9 339.9L1076.4 336.5L1078 332.9L1079.7 329.4L1081.5 325.8L1083.3 322.2L1085.3 318.6L1087.5 314.9L1089.7 311.2L1092.1 307.5L1094.5 303.7L1097.1 299.9L1099.9 296.1L1102.8 292.3L1105.8 288.5L1108.9 284.6L1112.2 280.7L1115.7 276.8L1119.3 272.9L1123.1 268.9L1127.1 265L1131.2 261L1135.5 257L1140.1 253L1144.8 249L1149.7 244.9L1154.8 240.9L1160.2 236.8L1165.7 232.8L1171.6 228.7L1177.7 224.6L1184 220.5L1190.6 216.4L1197.6 212.3L1204.8 208.1L1212.4 204L1220.3 199.8L1228.5 195.6L1237.2 191.5L1246.3 187.3L1255.8 183.1L1265.8 178.8L1276.3 174.6L1287.4 170.3L1299.1 166.1L1311.4 161.8L1324.4 157.4L1338.1 153.1L1352.7 148.7L1368.2 144.3L1384.7 139.9L1402.3 135.4L1421.2 130.8L1441.4 126.3L1463.2 121.6L1486.7 116.9L1512.3 112.1L1540 107.2L1570.5 102.2L1603.9 97"/>
<path d="M1061.3 407L1061.3 408L1061.3 409.5L1061.4 411.3L1061.4 413.2L1061.5 415.3L1061.6 417.5L1061.8 419.9L1062 422.3L1062.2 424.8L1062.5 427.5L1062.9 430.1L1063.3 432.9L1063.8 435.8L1064.3 438.7L1064.9 441.6L1065.5 444.6L1066.3 447.7L1067.1 450.9L1067.9 454L1068.9 457.3L1069.9 460.5L1071 463.9L1072.2 467.2L1073.5 470.6L1074.9 474.1L1076.4 477.5L1078 481.1L1079.7 484.6L1081.5 488.2L1083.3 491.8L1085.3 495.4L1087.5 499.1L1089.7 502.8L1092.1 506.5L1094.5 510.3L1097.1 514.1L1099.9 517.9L1102.8 521.7L1105.8 525.5L1108.9 529.4L1112.2 533.3L1115.7 537.2L1119.3 541.1L1123.1 545.1L1127.1 549L1131.2 553L1135.5 557L1140.1 561L1144.8 565L1149.7 569.1L1154.8 573.1L1160.2 577.2L1165.7 581.2L1171.6 585.3L1177.7 589.4L1184 593.5L1190.6 597.6L1197.6 601.7L1204.8 605.9L1212.4 610L1220.3 614.2L1228.5 618.4L1237.2 622.5L1246.3 626.7L1255.8 630.9L1265.8 635.2L1276.3 639.4L1287.4 643.7L1299.1 647.9L1311.4 652.2L1324.4 656.6L1338.1 660.9L1352.7 665.3L1368.2 669.7L1384.7 674.1L1402.3 678.6L1421.2 683.2L1441.4 687.7L1463.2 692.4L1486.7 697.1L1512.3 701.9L1540 706.8L1570.5 711.8L1603.9 717"/>
<path d="M1061.3 407L1061.3 406.2L1061.3 404.9L1061.4 403.5L1061.4 401.9L1061.5 400.2L1061.6 398.4L1061.8 396.5L1062 394.5L1062.2 392.4L1062.5 390.3L1062.9 388.1L1063.3 385.8L1063.8 383.5L1064.3 381.2L1064.9 378.7L1065.5 376.3L1066.3 373.8L1067.1 371.2L1067.9 368.6L1068.9 366L1069.9 363.3L1071 360.6L1072.2 357.8L1073.5 355.1L1074.9 352.2L1076.4 349.4L1078 346.5L1079.7 343.6L1081.5 340.7L1083.3 337.8L1085.3 334.8L1087.5 331.8L1089.7 328.8L1092.1 325.7L1094.5 322.7L1097.1 319.6L1099.9 316.5L1102.8 313.4L1105.8 310.2L1108.9 307.1L1112.2 303.9L1115.7 300.7L1119.3 297.5L1123.1 294.3L1127.1 291L1131.2 287.8L1135.5 284.5L1140.1 281.3L1144.8 278L1149.7 274.7L1154.8 271.4L1160.2 268.1L1165.7 264.7L1171.6 261.4L1177.7 258.1L1184 254.7L1190.6 251.4L1197.6 248L1204.8 244.6L1212.4 241.2L1220.3 237.8L1228.5 234.4L1237.2 231L1246.3 227.6L1255.8 224.1L1265.8 220.7L1276.3 217.2L1287.4 213.8L1299.1 210.3L1311.4 206.8L1324.4 203.2L1338.1 199.7L1352.7 196.1L1368.2 192.5L1384.7 188.9L1402.3 185.2L1421.2 181.5L1441.4 177.8L1463.2 174L1486.7 170.1L1512.3 166.2L1540 162.2L1570.5 158.1L1603.9 153.9"/>
<path d="M1061.3 407L1061.3 407.8L1061.3 409.1L1061.4 410.5L1061.4 412.1L1061.5 413.8L1061.6 415.6L1061.8 417.5L1062 419.5L1062.2 421.6L1062.5 423.7L1062.9 425.9L1063.3 428.2L1063.8 430.5L1064.3 432.8L1064.9 435.3L1065.5 437.7L1066.3 440.2L1067.1 442.8L1067.9 445.4L1068.9 448L1069.9 450.7L1071 453.4L1072.2 456.2L1073.5 458.9L1074.9 461.8L1076.4 464.6L1078 467.5L1079.7 470.4L1081.5 473.3L1083.3 476.2L1085.3 479.2L1087.5 482.2L1089.7 485.2L1092.1 488.3L1094.5 491.3L1097.1 494.4L1099.9 497.5L1102.8 500.6L1105.8 503.8L1108.9 506.9L1112.2 510.1L1115.7 513.3L1119.3 516.5L1123.1 519.7L1127.1 523L1131.2 526.2L1135.5 529.5L1140.1 532.7L1144.8 536L1149.7 539.3L1154.8 542.6L1160.2 545.9L1165.7 549.3L1171.6 552.6L1177.7 555.9L1184 559.3L1190.6 562.6L1197.6 566L1204.8 569.4L1212.4 572.8L1220.3 576.2L1228.5 579.6L1237.2 583L1246.3 586.4L1255.8 589.9L1265.8 593.3L1276.3 596.8L1287.4 600.2L1299.1 603.7L1311.4 607.2L1324.4 610.8L1338.1 614.3L1352.7 617.9L1368.2 621.5L1384.7 625.1L1402.3 628.8L1421.2 632.5L1441.4 636.2L1463.2 640L1486.7 643.9L1512.3 647.8L1540 651.8L1570.5 655.9L1603.9 660.1"/>
<path d="M1061.3 407L1061.3 406.4L1061.3 405.5L1061.4 404.5L1061.4 403.4L1061.5 402.2L1061.6 400.9L1061.8 399.6L1062 398.2L1062.2 396.7L1062.5 395.2L1062.9 393.6L1063.3 392L1063.8 390.4L1064.3 388.7L1064.9 387L1065.5 385.3L1066.3 383.5L1067.1 381.7L1067.9 379.8L1068.9 378L1069.9 376.1L1071 374.2L1072.2 372.2L1073.5 370.3L1074.9 368.3L1076.4 366.3L1078 364.2L1079.7 362.2L1081.5 360.1L1083.3 358L1085.3 355.9L1087.5 353.8L1089.7 351.7L1092.1 349.5L1094.5 347.4L1097.1 345.2L1099.9 343L1102.8 340.8L1105.8 338.6L1108.9 336.3L1112.2 334.1L1115.7 331.8L1119.3 329.6L1123.1 327.3L1127.1 325L1131.2 322.7L1135.5 320.4L1140.1 318.1L1144.8 315.8L1149.7 313.4L1154.8 311.1L1160.2 308.8L1165.7 306.4L1171.6 304.1L1177.7 301.7L1184 299.3L1190.6 296.9L1197.6 294.6L1204.8 292.2L1212.4 289.8L1220.3 287.4L1228.5 285L1237.2 282.6L1246.3 280.1L1255.8 277.7L1265.8 275.3L1276.3 272.8L1287.4 270.4L1299.1 267.9L1311.4 265.4L1324.4 262.9L1338.1 260.4L1352.7 257.9L1368.2 255.3L1384.7 252.8L1402.3 250.2L1421.2 247.6L1441.4 244.9L1463.2 242.2L1486.7 239.5L1512.3 236.7L1540 233.9L1570.5 231L1603.9 228"/>
<path d="M1061.3 407L1061.3 407.6L1061.3 408.5L1061.4 409.5L1061.4 410.6L1061.5 411.8L1061.6 413.1L1061.8 414.4L1062 415.8L1062.2 417.3L1062.5 418.8L1062.9 420.4L1063.3 422L1063.8 423.6L1064.3 425.3L1064.9 427L1065.5 428.7L1066.3 430.5L1067.1 432.3L1067.9 434.2L1068.9 436L1069.9 437.9L1071 439.8L1072.2 441.8L1073.5 443.7L1074.9 445.7L1076.4 447.7L1078 449.8L1079.7 451.8L1081.5 453.9L1083.3 456L1085.3 458.1L1087.5 460.2L1089.7 462.3L1092.1 464.5L1094.5 466.6L1097.1 468.8L1099.9 471L1102.8 473.2L1105.8 475.4L1108.9 477.7L1112.2 479.9L1115.7 482.2L1119.3 484.4L1123.1 486.7L1127.1 489L1131.2 491.3L1135.5 493.6L1140.1 495.9L1144.8 498.2L1149.7 500.6L1154.8 502.9L1160.2 505.2L1165.7 507.6L1171.6 509.9L1177.7 512.3L1184 514.7L1190.6 517.1L1197.6 519.4L1204.8 521.8L1212.4 524.2L1220.3 526.6L1228.5 529L1237.2 531.4L1246.3 533.9L1255.8 536.3L1265.8 538.7L1276.3 541.2L1287.4 543.6L1299.1 546.1L1311.4 548.6L1324.4 551.1L1338.1 553.6L1352.7 556.1L1368.2 558.7L1384.7 561.2L1402.3 563.8L1421.2 566.4L1441.4 569.1L1463.2 571.8L1486.7 574.5L1512.3 577.3L1540 580.1L1570.5 583L1603.9 586"/>
<path d="M1061.3 407L1061.3 406.7L1061.3 406.2L1061.4 405.7L1061.4 405.1L1061.5 404.5L1061.6 403.9L1061.8 403.2L1062 402.4L1062.2 401.7L1062.5 400.9L1062.9 400.1L1063.3 399.3L1063.8 398.4L1064.3 397.5L1064.9 396.7L1065.5 395.7L1066.3 394.8L1067.1 393.9L1067.9 392.9L1068.9 392L1069.9 391L1071 390L1072.2 389L1073.5 388L1074.9 387L1076.4 385.9L1078 384.9L1079.7 383.8L1081.5 382.7L1083.3 381.7L1085.3 380.6L1087.5 379.5L1089.7 378.4L1092.1 377.3L1094.5 376.1L1097.1 375L1099.9 373.9L1102.8 372.7L1105.8 371.6L1108.9 370.4L1112.2 369.3L1115.7 368.1L1119.3 366.9L1123.1 365.7L1127.1 364.6L1131.2 363.4L1135.5 362.2L1140.1 361L1144.8 359.8L1149.7 358.6L1154.8 357.4L1160.2 356.1L1165.7 354.9L1171.6 353.7L1177.7 352.5L1184 351.3L1190.6 350L1197.6 348.8L1204.8 347.6L1212.4 346.3L1220.3 345.1L1228.5 343.8L1237.2 342.6L1246.3 341.3L1255.8 340.1L1265.8 338.8L1276.3 337.5L1287.4 336.3L1299.1 335L1311.4 333.7L1324.4 332.4L1338.1 331.1L1352.7 329.8L1368.2 328.5L1384.7 327.2L1402.3 325.8L1421.2 324.5L1441.4 323.1L1463.2 321.7L1486.7 320.3L1512.3 318.9L1540 317.4L1570.5 315.9L1603.9 314.4"/>
<path d="M1061.3 407L1061.3 407.3L1061.3 407.8L1061.4 408.3L1061.4 408.9L1061.5 409.5L1061.6 410.1L1061.8 410.8L1062 411.6L1062.2 412.3L1062.5 413.1L1062.9 413.9L1063.3 414.7L1063.8 415.6L1064.3 416.5L1064.9 417.3L1065.5 418.3L1066.3 419.2L1067.1 420.1L1067.9 421.1L1068.9 422L1069.9 423L1071 424L1072.2 425L1073.5 426L1074.9 427L1076.4 428.1L1078 429.1L1079.7 430.2L1081.5 431.3L1083.3 432.3L1085.3 433.4L1087.5 434.5L1089.7 435.6L1092.1 436.7L1094.5 437.9L1097.1 439L1099.9 440.1L1102.8 441.3L1105.8 442.4L1108.9 443.6L1112.2 444.7L1115.7 445.9L1119.3 447.1L1123.1 448.3L1127.1 449.4L1131.2 450.6L1135.5 451.8L1140.1 453L1144.8 454.2L1149.7 455.4L1154.8 456.6L1160.2 457.9L1165.7 459.1L1171.6 460.3L1177.7 461.5L1184 462.7L1190.6 464L1197.6 465.2L1204.8 466.4L1212.4 467.7L1220.3 468.9L1228.5 470.2L1237.2 471.4L1246.3 472.7L1255.8 473.9L1265.8 475.2L1276.3 476.5L1287.4 477.7L1299.1 479L1311.4 480.3L1324.4 481.6L1338.1 482.9L1352.7 484.2L1368.2 485.5L1384.7 486.8L1402.3 488.2L1421.2 489.5L1441.4 490.9L1463.2 492.3L1486.7 493.7L1512.3 495.1L1540 496.6L1570.5 498.1L1603.9 499.6"/>
</g>
<path d="M973 702.5H1022.4V655.5" stroke="#435169" stroke-width="4.3" fill="none" stroke-linejoin="miter"/>
<path d="M959.5 702.5l16.5 -6.9l-3 6.9l3 6.9Z" fill="#435169"/>
<path d="M1022.4 642l-6.9 16.5l6.9 -3l6.9 3Z" fill="#435169"/>
<rect x="905.0" y="94.0" width="649.0" height="648.7" fill="none" stroke="#000" stroke-width="1.9"/>
<path d="M181.55 840.9V1034.5M272.81 840.9V1034.5M364.06 840.9V1034.5M455.32 840.9V1034.5M546.57 840.9V1034.5M637.83 840.9V1034.5M90.3 986.1H729.08M90.3 937.7H729.08M90.3 889.3H729.08" stroke="#e4e4e4" stroke-width="1" fill="none"/>
<path d="M181.55 1034.5v-9.5M272.81 1034.5v-9.5M364.06 1034.5v-9.5M455.32 1034.5v-9.5M546.57 1034.5v-9.5M637.83 1034.5v-9.5M90.3 986.1h9.5M90.3 937.7h9.5M90.3 889.3h9.5" stroke="#000" stroke-width="1.5" fill="none"/>
<rect x="90.3" y="840.9" width="638.78" height="193.6" fill="none" stroke="#000" stroke-width="1.5"/>
<text x="90.3" y="1065.2" font-size="23.3" text-anchor="middle" textLength="15.2" lengthAdjust="spacingAndGlyphs">0</text>
<text x="181.55" y="1065.2" font-size="23.3" text-anchor="middle" textLength="29.3" lengthAdjust="spacingAndGlyphs">60</text>
<text x="272.81" y="1065.2" font-size="23.3" text-anchor="middle" textLength="39.1" lengthAdjust="spacingAndGlyphs">120</text>
<text x="364.06" y="1065.2" font-size="23.3" text-anchor="middle" textLength="39.1" lengthAdjust="spacingAndGlyphs">180</text>
<text x="455.32" y="1065.2" font-size="23.3" text-anchor="middle" textLength="43.4" lengthAdjust="spacingAndGlyphs">240</text>
<text x="546.57" y="1065.2" font-size="23.3" text-anchor="middle" textLength="44.5" lengthAdjust="spacingAndGlyphs">300</text>
<text x="637.83" y="1065.2" font-size="23.3" text-anchor="middle" textLength="43.4" lengthAdjust="spacingAndGlyphs">360</text>
<text x="729.08" y="1065.2" font-size="23.3" text-anchor="middle" textLength="43.4" lengthAdjust="spacingAndGlyphs">420</text>
<text x="78.3" y="1042.3" font-size="23.3" text-anchor="end" textLength="15.2" lengthAdjust="spacingAndGlyphs">0</text>
<text x="78.3" y="993.9" font-size="23.3" text-anchor="end" textLength="28.2" lengthAdjust="spacingAndGlyphs">45</text>
<text x="78.3" y="945.5" font-size="23.3" text-anchor="end" textLength="29.3" lengthAdjust="spacingAndGlyphs">90</text>
<text x="78.3" y="897.1" font-size="23.3" text-anchor="end" textLength="38" lengthAdjust="spacingAndGlyphs">135</text>
<text x="78.3" y="848.7" font-size="23.3" text-anchor="end" textLength="39.1" lengthAdjust="spacingAndGlyphs">180</text>
<path d="M90.3 853.32L100.49 840.9L259.35 1034.5L418.21 840.9L577.07 1034.5L729.08 849.24" stroke="#2196f3" stroke-width="4.2" fill="none" stroke-linejoin="miter" clip-path="url(#clipT90)"/>
<path d="M985.29 842.05V1035.9M1064.58 842.05V1035.9M1143.86 842.05V1035.9M1223.15 842.05V1035.9M1302.44 842.05V1035.9M1381.72 842.05V1035.9M1461.01 842.05V1035.9M906 987.44H1540.3M906 938.98H1540.3M906 890.51H1540.3" stroke="#e4e4e4" stroke-width="1" fill="none"/>
<path d="M985.29 1035.9v-9.5M1064.58 1035.9v-9.5M1143.86 1035.9v-9.5M1223.15 1035.9v-9.5M1302.44 1035.9v-9.5M1381.72 1035.9v-9.5M1461.01 1035.9v-9.5M906 987.44h9.5M906 938.98h9.5M906 890.51h9.5" stroke="#333" stroke-width="1.5" fill="none"/>
<rect x="906" y="842.05" width="634.3" height="193.85" fill="none" stroke="#333" stroke-width="1.5"/>
<text x="906" y="1065.3" font-size="23.3" text-anchor="middle" textLength="15.2" lengthAdjust="spacingAndGlyphs">0</text>
<text x="985.29" y="1065.3" font-size="23.3" text-anchor="middle" textLength="29.3" lengthAdjust="spacingAndGlyphs">80</text>
<text x="1064.58" y="1065.3" font-size="23.3" text-anchor="middle" textLength="39.1" lengthAdjust="spacingAndGlyphs">160</text>
<text x="1143.86" y="1065.3" font-size="23.3" text-anchor="middle" textLength="43.4" lengthAdjust="spacingAndGlyphs">240</text>
<text x="1223.15" y="1065.3" font-size="23.3" text-anchor="middle" textLength="43.4" lengthAdjust="spacingAndGlyphs">320</text>
<text x="1302.44" y="1065.3" font-size="23.3" text-anchor="middle" textLength="44.5" lengthAdjust="spacingAndGlyphs">400</text>
<text x="1381.72" y="1065.3" font-size="23.3" text-anchor="middle" textLength="43.4" lengthAdjust="spacingAndGlyphs">480</text>
<text x="1461.01" y="1065.3" font-size="23.3" text-anchor="middle" textLength="43.4" lengthAdjust="spacingAndGlyphs">560</text>
<text x="1540.3" y="1065.3" font-size="23.3" text-anchor="middle" textLength="43.4" lengthAdjust="spacingAndGlyphs">640</text>
<text x="893.5" y="1042.8" font-size="23.3" text-anchor="end" textLength="15.2" lengthAdjust="spacingAndGlyphs">0</text>
<text x="893.5" y="994.34" font-size="23.3" text-anchor="end" textLength="28.2" lengthAdjust="spacingAndGlyphs">45</text>
<text x="893.5" y="945.88" font-size="23.3" text-anchor="end" textLength="29.3" lengthAdjust="spacingAndGlyphs">90</text>
<text x="893.5" y="897.41" font-size="23.3" text-anchor="end" textLength="38" lengthAdjust="spacingAndGlyphs">135</text>
<text x="893.5" y="848.95" font-size="23.3" text-anchor="end" textLength="39.1" lengthAdjust="spacingAndGlyphs">180</text>
<path d="M906 969.84L960.56 1035.9L1120.67 842.05L1280.78 1035.9L1440.89 842.05L1540.3 962.4" stroke="#2196f3" stroke-width="4.2" fill="none" stroke-linejoin="miter" clip-path="url(#clipT906)"/>
<path d="M183.75 1202.56V1396.8M274.82 1202.56V1396.8M365.9 1202.56V1396.8M456.97 1202.56V1396.8M548.05 1202.56V1396.8M639.12 1202.56V1396.8M92.67 1332.05H730.2M92.67 1267.31H730.2" stroke="#e4e4e4" stroke-width="1" fill="none"/>
<path d="M183.75 1396.8v-9.5M274.82 1396.8v-9.5M365.9 1396.8v-9.5M456.97 1396.8v-9.5M548.05 1396.8v-9.5M639.12 1396.8v-9.5M92.67 1332.05h9.5M92.67 1267.31h9.5" stroke="#000" stroke-width="1.5" fill="none"/>
<rect x="92.67" y="1202.56" width="637.53" height="194.24" fill="none" stroke="#000" stroke-width="1.5"/>
<text x="92.67" y="1426.25" font-size="23.3" text-anchor="middle" textLength="15.2" lengthAdjust="spacingAndGlyphs">0</text>
<text x="183.75" y="1426.25" font-size="23.3" text-anchor="middle" textLength="29.3" lengthAdjust="spacingAndGlyphs">60</text>
<text x="274.82" y="1426.25" font-size="23.3" text-anchor="middle" textLength="39.1" lengthAdjust="spacingAndGlyphs">120</text>
<text x="365.9" y="1426.25" font-size="23.3" text-anchor="middle" textLength="39.1" lengthAdjust="spacingAndGlyphs">180</text>
<text x="456.97" y="1426.25" font-size="23.3" text-anchor="middle" textLength="43.4" lengthAdjust="spacingAndGlyphs">240</text>
<text x="548.05" y="1426.25" font-size="23.3" text-anchor="middle" textLength="44.5" lengthAdjust="spacingAndGlyphs">300</text>
<text x="639.12" y="1426.25" font-size="23.3" text-anchor="middle" textLength="43.4" lengthAdjust="spacingAndGlyphs">360</text>
<text x="730.2" y="1426.25" font-size="23.3" text-anchor="middle" textLength="43.4" lengthAdjust="spacingAndGlyphs">420</text>
<text x="80.17" y="1405.2" font-size="23.3" text-anchor="end" textLength="15.2" lengthAdjust="spacingAndGlyphs">0</text>
<text x="80.17" y="1340.45" font-size="23.3" text-anchor="end" textLength="29.3" lengthAdjust="spacingAndGlyphs">20</text>
<text x="80.17" y="1275.71" font-size="23.3" text-anchor="end" textLength="29.3" lengthAdjust="spacingAndGlyphs">40</text>
<text x="80.17" y="1210.96" font-size="23.3" text-anchor="end" textLength="29.3" lengthAdjust="spacingAndGlyphs">60</text>
<path d="M90.4 1231.8L92.7 1231.8L95.7 1235.2L98.7 1239.2L101.7 1243.5L102.3 1244.5L104.7 1241L107.7 1236.9L110.7 1233.2L113.7 1230L116.7 1227.3L119.7 1225.1L122.7 1223.4L125.7 1222L128.7 1221L131.7 1220.3L134.7 1219.6L137.7 1219.1L140.7 1218.8L143.7 1218.8L146.7 1218.8L149.7 1218.9L152.7 1219L155.7 1219.1L158.7 1219.4L161.7 1220L164.7 1220.7L167.7 1221.5L170.7 1222.3L173.7 1223.2L176.7 1224.2L179.7 1225.2L182.7 1226.2L185.7 1227.2L188.7 1228.3L191.7 1229.3L194.7 1230.4L197.7 1231.4L200.7 1232.5L203.7 1233.6L206.7 1234.6L209.7 1235.7L212.7 1236.7L215.7 1237.7L218.7 1238.7L221.7 1239.6L224.7 1240.4L227.7 1241.2L230.7 1241.9L233.7 1242.6L236.7 1243.1L239.7 1243.7L242.7 1244.2L245.7 1244.6L248.7 1244.9L251.7 1245.1L254.7 1245.4L257.7 1245.5L260.7 1245.6L260.9 1245.6L263.7 1245.5L266.7 1245.4L269.7 1245.2L272.7 1244.9L275.7 1244.6L278.7 1244.2L281.7 1243.8L284.7 1243.2L287.7 1242.6L290.7 1242L293.7 1241.3L296.7 1240.5L299.7 1239.7L302.7 1238.8L305.7 1237.9L308.7 1236.8L311.7 1235.8L314.7 1234.8L317.7 1233.7L320.7 1232.6L323.7 1231.6L326.7 1230.5L329.7 1229.4L332.7 1228.4L335.7 1227.4L338.7 1226.4L341.7 1225.4L344.7 1224.3L347.7 1223.3L350.7 1222.4L353.7 1221.6L356.7 1220.8L359.7 1220.1L362.7 1219.5L365.7 1219.1L368.7 1219L371.7 1218.9L374.7 1218.8L377.7 1218.8L380.7 1218.8L383.7 1219L386.7 1219.5L389.7 1220.2L392.7 1220.9L395.7 1221.9L398.7 1223.2L401.7 1224.8L404.7 1226.9L407.7 1229.7L410.7 1232.7L413.7 1236.4L416.7 1240.5L419.4 1244.5L419.7 1244.1L422.7 1239.7L425.7 1235.7L428.7 1232.2L431.7 1229.2L434.7 1226.5L437.7 1224.5L440.7 1222.9L443.7 1221.7L446.7 1220.8L449.7 1220.1L452.7 1219.4L455.7 1219L458.7 1218.7L461.7 1218.8L464.7 1218.8L467.7 1218.9L470.7 1219L473.7 1219.2L476.7 1219.6L479.7 1220.2L482.7 1221L485.7 1221.7L488.7 1222.5L491.7 1223.5L494.7 1224.5L497.7 1225.5L500.7 1226.5L503.7 1227.5L506.7 1228.6L509.7 1229.6L512.7 1230.7L515.7 1231.7L518.7 1232.8L521.7 1233.9L524.7 1234.9L527.7 1236L530.7 1237L533.7 1238L536.7 1239L539.7 1239.8L542.7 1240.7L545.7 1241.4L548.7 1242.1L551.7 1242.7L554.7 1243.3L557.7 1243.8L560.7 1244.3L563.7 1244.7L566.7 1245L569.7 1245.2L572.7 1245.4L575.7 1245.6L578 1245.6L578.7 1245.6L581.7 1245.5L584.7 1245.3L587.7 1245.1L590.7 1244.9L593.7 1244.5L596.7 1244.1L599.7 1243.6L602.7 1243L605.7 1242.4L608.7 1241.8L611.7 1241.1L614.7 1240.3L617.7 1239.4L620.7 1238.5L623.7 1237.6L626.7 1236.5L629.7 1235.5L632.7 1234.4L635.7 1233.4L638.7 1232.3L641.7 1231.2L644.7 1230.2L647.7 1229.1L650.7 1228.1L653.7 1227.1L656.7 1226.1L659.7 1225L662.7 1224L665.7 1223L668.7 1222.1L671.7 1221.4L674.7 1220.6L677.7 1219.9L680.7 1219.4L683.7 1219.1L686.7 1218.9L689.7 1218.9L692.7 1218.8L695.7 1218.7L698.7 1218.8L701.7 1219.1L704.7 1219.7L707.7 1220.4L710.7 1221.2L713.7 1222.2L716.7 1223.7L719.7 1225.4L722.7 1227.7L725.7 1230.6L728.7 1233.8L730.2 1235.7L732.5 1235.7L732.5 1316.3L730.2 1316.3L728.7 1316L725.7 1315.6L722.7 1315.4L719.7 1315.2L716.7 1315.4L713.7 1316L710.7 1316.7L707.7 1317.4L704.7 1318.1L701.7 1319L698.7 1319.9L695.7 1320.8L692.7 1321.8L689.7 1322.8L686.7 1324L683.7 1325.1L680.7 1326.2L677.7 1327.4L674.7 1328.6L671.7 1329.9L668.7 1331.3L665.7 1332.9L662.7 1334.6L659.7 1336.3L656.7 1337.8L653.7 1339.4L650.7 1340.9L647.7 1342.3L644.7 1343.7L641.7 1345.1L638.7 1346.3L635.7 1347.6L632.7 1348.7L629.7 1349.8L626.7 1350.8L623.7 1351.8L620.7 1352.7L617.7 1353.4L614.7 1354L611.7 1354.5L608.7 1355L605.7 1355.4L602.7 1355.7L599.7 1355.9L596.7 1356.2L593.7 1356.4L590.7 1356.5L587.7 1356.7L584.7 1356.8L581.7 1356.9L578.7 1357L578 1357L575.7 1356.9L572.7 1356.8L569.7 1356.7L566.7 1356.6L563.7 1356.4L560.7 1356.3L557.7 1356.1L554.7 1355.8L551.7 1355.5L548.7 1355.2L545.7 1354.8L542.7 1354.3L539.7 1353.7L536.7 1353L533.7 1352.2L530.7 1351.3L527.7 1350.3L524.7 1349.2L521.7 1348.1L518.7 1346.9L515.7 1345.7L512.7 1344.4L509.7 1343L506.7 1341.6L503.7 1340.1L500.7 1338.6L497.7 1337L494.7 1335.4L491.7 1333.7L488.7 1332L485.7 1330.5L482.7 1329.2L479.7 1327.9L476.7 1326.8L473.7 1325.6L470.7 1324.5L467.7 1323.4L464.7 1322.3L461.7 1321.2L458.7 1320.3L455.7 1319.4L452.7 1318.5L449.7 1317.7L446.7 1317L443.7 1316.3L440.7 1315.6L437.7 1315.2L434.7 1315.3L431.7 1315.5L428.7 1315.8L425.7 1316.3L422.7 1317.2L419.7 1318.3L419.4 1318.5L416.7 1317.4L413.7 1316.5L410.7 1315.9L407.7 1315.5L404.7 1315.3L401.7 1315.2L398.7 1315.5L395.7 1316.2L392.7 1316.9L389.7 1317.6L386.7 1318.4L383.7 1319.2L380.7 1320.1L377.7 1321.1L374.7 1322.1L371.7 1323.2L368.7 1324.3L365.7 1325.4L362.7 1326.6L359.7 1327.7L356.7 1329L353.7 1330.3L350.7 1331.8L347.7 1333.4L344.7 1335.1L341.7 1336.7L338.7 1338.3L335.7 1339.8L332.7 1341.3L329.7 1342.8L326.7 1344.1L323.7 1345.4L320.7 1346.7L317.7 1347.9L314.7 1349L311.7 1350.1L308.7 1351.1L305.7 1352.1L302.7 1352.9L299.7 1353.6L296.7 1354.2L293.7 1354.7L290.7 1355.1L287.7 1355.5L284.7 1355.8L281.7 1356L278.7 1356.2L275.7 1356.4L272.7 1356.6L269.7 1356.7L266.7 1356.8L263.7 1356.9L260.9 1357L260.7 1357L257.7 1356.9L254.7 1356.8L251.7 1356.7L248.7 1356.5L245.7 1356.4L242.7 1356.2L239.7 1356L236.7 1355.7L233.7 1355.4L230.7 1355.1L227.7 1354.6L224.7 1354.1L221.7 1353.5L218.7 1352.8L215.7 1352L212.7 1351L209.7 1350L206.7 1348.9L203.7 1347.8L200.7 1346.6L197.7 1345.3L194.7 1344L191.7 1342.6L188.7 1341.1L185.7 1339.6L182.7 1338.1L179.7 1336.5L176.7 1334.9L173.7 1333.2L170.7 1331.6L167.7 1330.1L164.7 1328.8L161.7 1327.6L158.7 1326.4L155.7 1325.3L152.7 1324.2L149.7 1323L146.7 1322L143.7 1320.9L140.7 1320L137.7 1319.1L134.7 1318.3L131.7 1317.5L128.7 1316.8L125.7 1316.1L122.7 1315.5L119.7 1315.2L116.7 1315.3L113.7 1315.6L110.7 1315.9L107.7 1316.6L104.7 1317.5L102.3 1318.5L101.7 1318.2L98.7 1317.1L95.7 1316.3L92.7 1315.8L90.4 1315.8Z" fill="#00008f"/>
<path d="M90.4 1276.9L92.7 1276.9L95.7 1279.7L98.7 1282.3L101.7 1285.3L102.3 1286L104.7 1283.5L107.7 1280.8L110.7 1278.1L113.7 1275.4L116.7 1272.8L119.7 1270.7L122.7 1269.9L125.7 1269.2L128.7 1268.5L131.7 1268.1L134.7 1267.9L137.7 1267.8L140.7 1267.9L143.7 1268.5L146.7 1269.3L149.7 1270.1L152.7 1271.1L155.7 1272L158.7 1273L161.7 1274.1L164.7 1275.2L167.7 1276.4L170.7 1277.8L173.7 1279.2L176.7 1280.7L179.7 1282.3L182.7 1283.7L185.7 1285.2L188.7 1286.7L191.7 1288.1L194.7 1289.5L197.7 1290.7L200.7 1291.9L203.7 1293L206.7 1294.1L209.7 1295.1L212.7 1296L215.7 1296.9L218.7 1297.8L221.7 1298.5L224.7 1299.2L227.7 1299.9L230.7 1300.5L233.7 1301L236.7 1301.6L239.7 1302.1L242.7 1302.6L245.7 1302.9L248.7 1303.2L251.7 1303.4L254.7 1303.6L257.7 1303.7L260.7 1303.8L260.9 1303.8L263.7 1303.7L266.7 1303.6L269.7 1303.4L272.7 1303.2L275.7 1303L278.7 1302.6L281.7 1302.2L284.7 1301.6L287.7 1301.1L290.7 1300.6L293.7 1300L296.7 1299.3L299.7 1298.6L302.7 1297.9L305.7 1297L308.7 1296.2L311.7 1295.2L314.7 1294.2L317.7 1293.2L320.7 1292L323.7 1290.9L326.7 1289.6L329.7 1288.3L332.7 1286.9L335.7 1285.4L338.7 1283.9L341.7 1282.5L344.7 1280.9L347.7 1279.4L350.7 1277.9L353.7 1276.6L356.7 1275.4L359.7 1274.2L362.7 1273.2L365.7 1272.2L368.7 1271.2L371.7 1270.2L374.7 1269.4L377.7 1268.6L380.7 1268L383.7 1267.8L386.7 1267.9L389.7 1268L392.7 1268.5L395.7 1269.1L398.7 1269.8L401.7 1270.5L404.7 1272.6L407.7 1275L410.7 1277.7L413.7 1280.5L416.7 1283.2L419.4 1286L419.7 1285.7L422.7 1282.7L425.7 1280L428.7 1277.2L431.7 1274.6L434.7 1272.2L437.7 1270.4L440.7 1269.7L443.7 1269L446.7 1268.4L449.7 1268L452.7 1267.9L455.7 1267.8L458.7 1268.1L461.7 1268.7L464.7 1269.5L467.7 1270.4L470.7 1271.4L473.7 1272.3L476.7 1273.4L479.7 1274.4L482.7 1275.6L485.7 1276.8L488.7 1278.2L491.7 1279.7L494.7 1281.2L497.7 1282.7L500.7 1284.2L503.7 1285.7L506.7 1287.1L509.7 1288.6L512.7 1289.9L515.7 1291.1L518.7 1292.3L521.7 1293.4L524.7 1294.4L527.7 1295.4L530.7 1296.3L533.7 1297.2L536.7 1298L539.7 1298.8L542.7 1299.4L545.7 1300.1L548.7 1300.7L551.7 1301.2L554.7 1301.7L557.7 1302.2L560.7 1302.7L563.7 1303L566.7 1303.3L569.7 1303.5L572.7 1303.6L575.7 1303.7L578 1303.8L578.7 1303.8L581.7 1303.7L584.7 1303.6L587.7 1303.4L590.7 1303.2L593.7 1302.9L596.7 1302.5L599.7 1302L602.7 1301.5L605.7 1301L608.7 1300.4L611.7 1299.8L614.7 1299.1L617.7 1298.4L620.7 1297.6L623.7 1296.8L626.7 1295.9L629.7 1294.9L632.7 1293.9L635.7 1292.8L638.7 1291.7L641.7 1290.5L644.7 1289.2L647.7 1287.9L650.7 1286.4L653.7 1285L656.7 1283.5L659.7 1282L662.7 1280.5L665.7 1278.9L668.7 1277.5L671.7 1276.2L674.7 1275L677.7 1273.9L680.7 1272.9L683.7 1271.9L686.7 1270.9L689.7 1270L692.7 1269.1L695.7 1268.4L698.7 1267.8L701.7 1267.8L704.7 1267.9L707.7 1268.1L710.7 1268.6L713.7 1269.3L716.7 1270L719.7 1271L722.7 1273.3L725.7 1275.8L728.7 1278.7L730.2 1280L732.5 1280L732.5 1307.5L730.2 1307.5L728.7 1306.8L725.7 1306.1L722.7 1305.7L719.7 1305.6L716.7 1305.7L713.7 1305.7L710.7 1305.8L707.7 1306L704.7 1306.4L701.7 1307L698.7 1307.7L695.7 1308.5L692.7 1309.5L689.7 1310.6L686.7 1311.7L683.7 1312.7L680.7 1313.7L677.7 1314.8L674.7 1315.9L671.7 1317.2L668.7 1318.5L665.7 1319.9L662.7 1321.5L659.7 1323.1L656.7 1324.7L653.7 1326.4L650.7 1328.1L647.7 1329.7L644.7 1331.1L641.7 1332.3L638.7 1333.5L635.7 1334.6L632.7 1335.7L629.7 1336.7L626.7 1337.7L623.7 1338.6L620.7 1339.4L617.7 1340.2L614.7 1340.9L611.7 1341.6L608.7 1342.2L605.7 1342.8L602.7 1343.3L599.7 1343.8L596.7 1344.3L593.7 1344.7L590.7 1345L587.7 1345.2L584.7 1345.4L581.7 1345.5L578.7 1345.6L578 1345.6L575.7 1345.6L572.7 1345.4L569.7 1345.3L566.7 1345.1L563.7 1344.8L560.7 1344.5L557.7 1344.1L554.7 1343.5L551.7 1343L548.7 1342.5L545.7 1341.9L542.7 1341.3L539.7 1340.6L536.7 1339.8L533.7 1339L530.7 1338.1L527.7 1337.2L524.7 1336.2L521.7 1335.2L518.7 1334.1L515.7 1332.9L512.7 1331.7L509.7 1330.4L506.7 1328.9L503.7 1327.2L500.7 1325.5L497.7 1323.8L494.7 1322.2L491.7 1320.7L488.7 1319.2L485.7 1317.8L482.7 1316.5L479.7 1315.3L476.7 1314.2L473.7 1313.2L470.7 1312.2L467.7 1311.2L464.7 1310L461.7 1309L458.7 1308.1L455.7 1307.3L452.7 1306.7L449.7 1306.2L446.7 1305.9L443.7 1305.7L440.7 1305.7L437.7 1305.6L434.7 1305.6L431.7 1305.9L428.7 1306.4L425.7 1307.5L422.7 1309L419.7 1310.9L419.4 1311L416.7 1309.3L413.7 1307.7L410.7 1306.5L407.7 1306L404.7 1305.6L401.7 1305.6L398.7 1305.7L395.7 1305.7L392.7 1305.8L389.7 1306.1L386.7 1306.6L383.7 1307.2L380.7 1307.9L377.7 1308.8L374.7 1309.8L371.7 1311L368.7 1312L365.7 1313L362.7 1314L359.7 1315.1L356.7 1316.3L353.7 1317.5L350.7 1318.9L347.7 1320.4L344.7 1322L341.7 1323.5L338.7 1325.2L335.7 1326.9L332.7 1328.6L329.7 1330.1L326.7 1331.4L323.7 1332.7L320.7 1333.9L317.7 1335L314.7 1336L311.7 1337L308.7 1338L305.7 1338.9L302.7 1339.7L299.7 1340.4L296.7 1341.1L293.7 1341.8L290.7 1342.4L287.7 1342.9L284.7 1343.4L281.7 1344L278.7 1344.4L275.7 1344.8L272.7 1345L269.7 1345.2L266.7 1345.4L263.7 1345.5L260.9 1345.6L260.7 1345.6L257.7 1345.5L254.7 1345.4L251.7 1345.2L248.7 1345L245.7 1344.8L242.7 1344.4L239.7 1343.9L236.7 1343.4L233.7 1342.9L230.7 1342.3L227.7 1341.7L224.7 1341.1L221.7 1340.4L218.7 1339.6L215.7 1338.8L212.7 1337.9L209.7 1336.9L206.7 1335.9L203.7 1334.8L200.7 1333.7L197.7 1332.5L194.7 1331.3L191.7 1329.9L188.7 1328.4L185.7 1326.7L182.7 1325L179.7 1323.3L176.7 1321.8L173.7 1320.2L170.7 1318.7L167.7 1317.4L164.7 1316.1L161.7 1315L158.7 1313.9L155.7 1312.9L152.7 1311.9L149.7 1310.8L146.7 1309.7L143.7 1308.7L140.7 1307.8L137.7 1307.1L134.7 1306.5L131.7 1306.1L128.7 1305.8L125.7 1305.7L122.7 1305.7L119.7 1305.6L116.7 1305.6L113.7 1306L110.7 1306.6L107.7 1307.9L104.7 1309.5L102.3 1311L101.7 1310.6L98.7 1308.8L95.7 1307.3L92.7 1306.4L90.4 1306.4Z" fill="#0000cf"/>
<path d="M90.4 1277.7L92.7 1277.7L95.7 1280.5L98.7 1283L101.7 1286L102.3 1286.7L104.7 1284.2L107.7 1281.5L110.7 1278.9L113.7 1276.2L116.7 1273.8L119.7 1271.7L122.7 1270.9L125.7 1270.3L128.7 1269.6L131.7 1269.2L134.7 1269L137.7 1269L140.7 1269.1L143.7 1269.7L146.7 1270.4L149.7 1271.3L152.7 1272.3L155.7 1273.2L158.7 1274.2L161.7 1275.3L164.7 1276.4L167.7 1277.6L170.7 1278.9L173.7 1280.4L176.7 1281.9L179.7 1283.5L182.7 1284.9L185.7 1286.4L188.7 1287.9L191.7 1289.3L194.7 1290.7L197.7 1291.9L200.7 1293.1L203.7 1294.2L206.7 1295.3L209.7 1296.3L212.7 1297.2L215.7 1298.1L218.7 1299L221.7 1299.7L224.7 1300.4L227.7 1301.1L230.7 1301.7L233.7 1302.2L236.7 1302.8L239.7 1303.3L242.7 1303.7L245.7 1304.1L248.7 1304.4L251.7 1304.6L254.7 1304.8L257.7 1304.9L260.7 1305L260.9 1305L263.7 1304.9L266.7 1304.8L269.7 1304.6L272.7 1304.4L275.7 1304.2L278.7 1303.8L281.7 1303.3L284.7 1302.8L287.7 1302.3L290.7 1301.8L293.7 1301.2L296.7 1300.5L299.7 1299.8L302.7 1299.1L305.7 1298.2L308.7 1297.3L311.7 1296.4L314.7 1295.4L317.7 1294.4L320.7 1293.2L323.7 1292.1L326.7 1290.8L329.7 1289.5L332.7 1288.1L335.7 1286.6L338.7 1285.1L341.7 1283.6L344.7 1282.1L347.7 1280.6L350.7 1279.1L353.7 1277.8L356.7 1276.6L359.7 1275.4L362.7 1274.4L365.7 1273.4L368.7 1272.4L371.7 1271.4L374.7 1270.5L377.7 1269.8L380.7 1269.2L383.7 1269L386.7 1269L389.7 1269.2L392.7 1269.5L395.7 1270.2L398.7 1270.8L401.7 1271.5L404.7 1273.5L407.7 1275.9L410.7 1278.5L413.7 1281.2L416.7 1283.9L419.4 1286.7L419.7 1286.4L422.7 1283.4L425.7 1280.8L428.7 1278L431.7 1275.4L434.7 1273.1L437.7 1271.4L440.7 1270.7L443.7 1270.1L446.7 1269.5L449.7 1269.1L452.7 1269L455.7 1269L458.7 1269.3L461.7 1269.9L464.7 1270.7L467.7 1271.6L470.7 1272.6L473.7 1273.5L476.7 1274.5L479.7 1275.6L482.7 1276.8L485.7 1278L488.7 1279.4L491.7 1280.9L494.7 1282.4L497.7 1283.9L500.7 1285.4L503.7 1286.9L506.7 1288.3L509.7 1289.7L512.7 1291L515.7 1292.3L518.7 1293.4L521.7 1294.5L524.7 1295.6L527.7 1296.6L530.7 1297.5L533.7 1298.4L536.7 1299.2L539.7 1299.9L542.7 1300.6L545.7 1301.3L548.7 1301.9L551.7 1302.4L554.7 1302.9L557.7 1303.4L560.7 1303.9L563.7 1304.2L566.7 1304.4L569.7 1304.7L572.7 1304.8L575.7 1304.9L578 1305L578.7 1305L581.7 1304.9L584.7 1304.7L587.7 1304.6L590.7 1304.3L593.7 1304.1L596.7 1303.7L599.7 1303.2L602.7 1302.7L605.7 1302.1L608.7 1301.6L611.7 1301L614.7 1300.3L617.7 1299.6L620.7 1298.8L623.7 1298L626.7 1297.1L629.7 1296.1L632.7 1295.1L635.7 1294L638.7 1292.9L641.7 1291.7L644.7 1290.4L647.7 1289.1L650.7 1287.6L653.7 1286.1L656.7 1284.7L659.7 1283.2L662.7 1281.6L665.7 1280.1L668.7 1278.7L671.7 1277.4L674.7 1276.2L677.7 1275.1L680.7 1274L683.7 1273.1L686.7 1272.1L689.7 1271.2L692.7 1270.3L695.7 1269.6L698.7 1269L701.7 1269L704.7 1269L707.7 1269.2L710.7 1269.7L713.7 1270.4L716.7 1271L719.7 1272L722.7 1274.2L725.7 1276.7L728.7 1279.4L730.2 1280.7L732.5 1280.7L732.5 1306.9L730.2 1306.9L728.7 1306.3L725.7 1305.5L722.7 1305.1L719.7 1305L716.7 1305L713.7 1305.1L710.7 1305.2L707.7 1305.4L704.7 1305.8L701.7 1306.4L698.7 1307L695.7 1307.9L692.7 1308.8L689.7 1309.9L686.7 1311L683.7 1312L680.7 1313L677.7 1314.1L674.7 1315.2L671.7 1316.5L668.7 1317.8L665.7 1319.2L662.7 1320.8L659.7 1322.4L656.7 1324L653.7 1325.7L650.7 1327.4L647.7 1329L644.7 1330.3L641.7 1331.6L638.7 1332.8L635.7 1333.9L632.7 1335L629.7 1336L626.7 1336.9L623.7 1337.9L620.7 1338.7L617.7 1339.5L614.7 1340.2L611.7 1340.8L608.7 1341.5L605.7 1342L602.7 1342.5L599.7 1343.1L596.7 1343.6L593.7 1344L590.7 1344.2L587.7 1344.4L584.7 1344.6L581.7 1344.8L578.7 1344.8L578 1344.8L575.7 1344.8L572.7 1344.7L569.7 1344.5L566.7 1344.3L563.7 1344.1L560.7 1343.8L557.7 1343.3L554.7 1342.8L551.7 1342.3L548.7 1341.7L545.7 1341.1L542.7 1340.5L539.7 1339.8L536.7 1339.1L533.7 1338.3L530.7 1337.4L527.7 1336.5L524.7 1335.5L521.7 1334.4L518.7 1333.3L515.7 1332.2L512.7 1330.9L509.7 1329.6L506.7 1328.2L503.7 1326.5L500.7 1324.8L497.7 1323.1L494.7 1321.5L491.7 1320L488.7 1318.5L485.7 1317.1L482.7 1315.8L479.7 1314.6L476.7 1313.5L473.7 1312.5L470.7 1311.5L467.7 1310.5L464.7 1309.3L461.7 1308.3L458.7 1307.4L455.7 1306.7L452.7 1306.1L449.7 1305.6L446.7 1305.2L443.7 1305.1L440.7 1305.1L437.7 1305L434.7 1305L431.7 1305.3L428.7 1305.9L425.7 1306.9L422.7 1308.4L419.7 1310.4L419.4 1310.6L416.7 1308.7L413.7 1307.2L410.7 1306L407.7 1305.4L404.7 1305L401.7 1305L398.7 1305.1L395.7 1305.1L392.7 1305.2L389.7 1305.5L386.7 1306L383.7 1306.6L380.7 1307.3L377.7 1308.1L374.7 1309.1L371.7 1310.3L368.7 1311.3L365.7 1312.3L362.7 1313.3L359.7 1314.4L356.7 1315.6L353.7 1316.8L350.7 1318.2L347.7 1319.7L344.7 1321.3L341.7 1322.8L338.7 1324.5L335.7 1326.2L332.7 1327.9L329.7 1329.4L326.7 1330.7L323.7 1331.9L320.7 1333.1L317.7 1334.2L314.7 1335.3L311.7 1336.3L308.7 1337.2L305.7 1338.1L302.7 1338.9L299.7 1339.7L296.7 1340.4L293.7 1341L290.7 1341.6L287.7 1342.2L284.7 1342.7L281.7 1343.2L278.7 1343.7L275.7 1344.1L272.7 1344.3L269.7 1344.5L266.7 1344.7L263.7 1344.8L260.9 1344.8L260.7 1344.8L257.7 1344.8L254.7 1344.7L251.7 1344.5L248.7 1344.3L245.7 1344L242.7 1343.6L239.7 1343.2L236.7 1342.6L233.7 1342.1L230.7 1341.6L227.7 1341L224.7 1340.3L221.7 1339.6L218.7 1338.8L215.7 1338L212.7 1337.1L209.7 1336.2L206.7 1335.2L203.7 1334.1L200.7 1333L197.7 1331.8L194.7 1330.5L191.7 1329.2L188.7 1327.7L185.7 1326L182.7 1324.3L179.7 1322.6L176.7 1321.1L173.7 1319.5L170.7 1318L167.7 1316.7L164.7 1315.5L161.7 1314.3L158.7 1313.2L155.7 1312.2L152.7 1311.2L149.7 1310.1L146.7 1309L143.7 1308L140.7 1307.2L137.7 1306.5L134.7 1305.9L131.7 1305.4L128.7 1305.2L125.7 1305.1L122.7 1305L119.7 1305L116.7 1305L113.7 1305.4L110.7 1306.1L107.7 1307.4L104.7 1309L102.3 1310.6L101.7 1310.1L98.7 1308.2L95.7 1306.8L92.7 1305.8L90.4 1305.8Z" fill="#0000fa"/>
<path d="M90.4 1278.5L92.7 1278.5L95.7 1281.2L98.7 1283.7L101.7 1286.7L102.3 1287.3L104.7 1284.9L107.7 1282.2L110.7 1279.6L113.7 1277L116.7 1274.7L119.7 1272.7L122.7 1271.9L125.7 1271.3L128.7 1270.7L131.7 1270.3L134.7 1270.1L137.7 1270.1L140.7 1270.3L143.7 1270.8L146.7 1271.6L149.7 1272.5L152.7 1273.4L155.7 1274.4L158.7 1275.4L161.7 1276.4L164.7 1277.6L167.7 1278.8L170.7 1280.1L173.7 1281.5L176.7 1283.1L179.7 1284.6L182.7 1286.1L185.7 1287.6L188.7 1289L191.7 1290.5L194.7 1291.8L197.7 1293L200.7 1294.2L203.7 1295.4L206.7 1296.4L209.7 1297.4L212.7 1298.4L215.7 1299.3L218.7 1300.1L221.7 1300.9L224.7 1301.6L227.7 1302.2L230.7 1302.8L233.7 1303.4L236.7 1303.9L239.7 1304.4L242.7 1304.9L245.7 1305.3L248.7 1305.5L251.7 1305.7L254.7 1305.9L257.7 1306L260.7 1306.1L260.9 1306.1L263.7 1306.1L266.7 1305.9L269.7 1305.8L272.7 1305.6L275.7 1305.3L278.7 1304.9L281.7 1304.5L284.7 1304L287.7 1303.4L290.7 1302.9L293.7 1302.3L296.7 1301.6L299.7 1301L302.7 1300.2L305.7 1299.4L308.7 1298.5L311.7 1297.5L314.7 1296.5L317.7 1295.5L320.7 1294.4L323.7 1293.2L326.7 1292L329.7 1290.6L332.7 1289.2L335.7 1287.7L338.7 1286.3L341.7 1284.8L344.7 1283.3L347.7 1281.7L350.7 1280.3L353.7 1278.9L356.7 1277.7L359.7 1276.6L362.7 1275.5L365.7 1274.5L368.7 1273.5L371.7 1272.6L374.7 1271.7L377.7 1270.9L380.7 1270.3L383.7 1270.1L386.7 1270.1L389.7 1270.2L392.7 1270.6L395.7 1271.2L398.7 1271.8L401.7 1272.5L404.7 1274.4L407.7 1276.7L410.7 1279.2L413.7 1281.9L416.7 1284.5L419.4 1287.3L419.7 1287L422.7 1284L425.7 1281.5L428.7 1278.8L431.7 1276.3L434.7 1274L437.7 1272.4L440.7 1271.7L443.7 1271.1L446.7 1270.5L449.7 1270.2L452.7 1270.1L455.7 1270.1L458.7 1270.4L461.7 1271L464.7 1271.8L467.7 1272.7L470.7 1273.7L473.7 1274.7L476.7 1275.7L479.7 1276.8L482.7 1277.9L485.7 1279.2L488.7 1280.5L491.7 1282L494.7 1283.5L497.7 1285L500.7 1286.5L503.7 1288L506.7 1289.5L509.7 1290.9L512.7 1292.2L515.7 1293.4L518.7 1294.6L521.7 1295.7L524.7 1296.7L527.7 1297.7L530.7 1298.6L533.7 1299.5L536.7 1300.3L539.7 1301.1L542.7 1301.8L545.7 1302.4L548.7 1303L551.7 1303.5L554.7 1304.1L557.7 1304.6L560.7 1305L563.7 1305.4L566.7 1305.6L569.7 1305.8L572.7 1306L575.7 1306.1L578 1306.1L578.7 1306.1L581.7 1306L584.7 1305.9L587.7 1305.7L590.7 1305.5L593.7 1305.2L596.7 1304.8L599.7 1304.3L602.7 1303.8L605.7 1303.3L608.7 1302.7L611.7 1302.1L614.7 1301.4L617.7 1300.7L620.7 1300L623.7 1299.1L626.7 1298.2L629.7 1297.2L632.7 1296.2L635.7 1295.2L638.7 1294L641.7 1292.8L644.7 1291.6L647.7 1290.2L650.7 1288.8L653.7 1287.3L656.7 1285.8L659.7 1284.3L662.7 1282.8L665.7 1281.3L668.7 1279.8L671.7 1278.6L674.7 1277.4L677.7 1276.2L680.7 1275.2L683.7 1274.2L686.7 1273.2L689.7 1272.3L692.7 1271.4L695.7 1270.7L698.7 1270.2L701.7 1270.1L704.7 1270.1L707.7 1270.3L710.7 1270.8L713.7 1271.4L716.7 1272L719.7 1273L722.7 1275.1L725.7 1277.4L728.7 1280.1L730.2 1281.4L732.5 1281.4L732.5 1306.4L730.2 1306.4L728.7 1305.7L725.7 1305L722.7 1304.5L719.7 1304.4L716.7 1304.5L713.7 1304.5L710.7 1304.6L707.7 1304.8L704.7 1305.2L701.7 1305.8L698.7 1306.4L695.7 1307.2L692.7 1308.2L689.7 1309.3L686.7 1310.3L683.7 1311.3L680.7 1312.4L677.7 1313.4L674.7 1314.6L671.7 1315.8L668.7 1317.1L665.7 1318.6L662.7 1320.1L659.7 1321.7L656.7 1323.3L653.7 1325L650.7 1326.7L647.7 1328.3L644.7 1329.6L641.7 1330.9L638.7 1332.1L635.7 1333.2L632.7 1334.3L629.7 1335.3L626.7 1336.2L623.7 1337.2L620.7 1338L617.7 1338.8L614.7 1339.5L611.7 1340.1L608.7 1340.8L605.7 1341.3L602.7 1341.8L599.7 1342.4L596.7 1342.9L593.7 1343.3L590.7 1343.5L587.7 1343.7L584.7 1343.9L581.7 1344.1L578.7 1344.1L578 1344.1L575.7 1344.1L572.7 1344L569.7 1343.8L566.7 1343.6L563.7 1343.4L560.7 1343.1L557.7 1342.6L554.7 1342.1L551.7 1341.6L548.7 1341L545.7 1340.4L542.7 1339.8L539.7 1339.1L536.7 1338.4L533.7 1337.6L530.7 1336.7L527.7 1335.7L524.7 1334.8L521.7 1333.7L518.7 1332.6L515.7 1331.4L512.7 1330.2L509.7 1328.9L506.7 1327.5L503.7 1325.8L500.7 1324.1L497.7 1322.5L494.7 1320.9L491.7 1319.3L488.7 1317.8L485.7 1316.4L482.7 1315.2L479.7 1314L476.7 1312.9L473.7 1311.8L470.7 1310.8L467.7 1309.8L464.7 1308.7L461.7 1307.7L458.7 1306.8L455.7 1306.1L452.7 1305.5L449.7 1305L446.7 1304.6L443.7 1304.5L440.7 1304.5L437.7 1304.4L434.7 1304.4L431.7 1304.7L428.7 1305.3L425.7 1306.4L422.7 1308L419.7 1309.9L419.4 1310.1L416.7 1308.3L413.7 1306.7L410.7 1305.5L407.7 1304.8L404.7 1304.5L401.7 1304.4L398.7 1304.5L395.7 1304.5L392.7 1304.6L389.7 1304.9L386.7 1305.4L383.7 1306L380.7 1306.7L377.7 1307.5L374.7 1308.5L371.7 1309.6L368.7 1310.6L365.7 1311.6L362.7 1312.7L359.7 1313.8L356.7 1314.9L353.7 1316.2L350.7 1317.5L347.7 1319L344.7 1320.6L341.7 1322.2L338.7 1323.8L335.7 1325.5L332.7 1327.2L329.7 1328.7L326.7 1330L323.7 1331.2L320.7 1332.4L317.7 1333.5L314.7 1334.6L311.7 1335.6L308.7 1336.5L305.7 1337.4L302.7 1338.2L299.7 1339L296.7 1339.7L293.7 1340.3L290.7 1340.9L287.7 1341.5L284.7 1342L281.7 1342.5L278.7 1343L275.7 1343.3L272.7 1343.6L269.7 1343.8L266.7 1344L263.7 1344.1L260.9 1344.1L260.7 1344.1L257.7 1344.1L254.7 1344L251.7 1343.8L248.7 1343.6L245.7 1343.3L242.7 1342.9L239.7 1342.5L236.7 1341.9L233.7 1341.4L230.7 1340.9L227.7 1340.3L224.7 1339.6L221.7 1338.9L218.7 1338.1L215.7 1337.3L212.7 1336.4L209.7 1335.5L206.7 1334.5L203.7 1333.4L200.7 1332.3L197.7 1331.1L194.7 1329.8L191.7 1328.5L188.7 1327L185.7 1325.3L182.7 1323.6L179.7 1322L176.7 1320.4L173.7 1318.8L170.7 1317.4L167.7 1316L164.7 1314.8L161.7 1313.6L158.7 1312.5L155.7 1311.5L152.7 1310.5L149.7 1309.5L146.7 1308.4L143.7 1307.4L140.7 1306.6L137.7 1305.9L134.7 1305.3L131.7 1304.8L128.7 1304.6L125.7 1304.5L122.7 1304.5L119.7 1304.4L116.7 1304.5L113.7 1304.9L110.7 1305.6L107.7 1306.9L104.7 1308.5L102.3 1310.1L101.7 1309.6L98.7 1307.7L95.7 1306.2L92.7 1305.2L90.4 1305.2Z" fill="#0026ff"/>
<path d="M90.4 1279L92.7 1279L95.7 1281.7L98.7 1284.2L101.7 1287.1L102.3 1287.8L104.7 1285.4L107.7 1282.7L110.7 1280.1L113.7 1277.6L116.7 1275.3L119.7 1273.4L122.7 1272.6L125.7 1272L128.7 1271.5L131.7 1271.1L134.7 1270.9L137.7 1270.9L140.7 1271.1L143.7 1271.7L146.7 1272.4L149.7 1273.3L152.7 1274.3L155.7 1275.2L158.7 1276.2L161.7 1277.3L164.7 1278.4L167.7 1279.6L170.7 1280.9L173.7 1282.4L176.7 1283.9L179.7 1285.4L182.7 1286.9L185.7 1288.4L188.7 1289.9L191.7 1291.3L194.7 1292.6L197.7 1293.9L200.7 1295.1L203.7 1296.2L206.7 1297.3L209.7 1298.3L212.7 1299.2L215.7 1300.1L218.7 1300.9L221.7 1301.7L224.7 1302.4L227.7 1303.1L230.7 1303.7L233.7 1304.2L236.7 1304.7L239.7 1305.3L242.7 1305.7L245.7 1306.1L248.7 1306.4L251.7 1306.6L254.7 1306.8L257.7 1306.9L260.7 1306.9L260.9 1306.9L263.7 1306.9L266.7 1306.8L269.7 1306.6L272.7 1306.4L275.7 1306.2L278.7 1305.8L281.7 1305.3L284.7 1304.8L287.7 1304.3L290.7 1303.7L293.7 1303.1L296.7 1302.5L299.7 1301.8L302.7 1301L305.7 1300.2L308.7 1299.3L311.7 1298.4L314.7 1297.4L317.7 1296.3L320.7 1295.2L323.7 1294L326.7 1292.8L329.7 1291.5L332.7 1290.1L335.7 1288.6L338.7 1287.1L341.7 1285.6L344.7 1284.1L347.7 1282.6L350.7 1281.1L353.7 1279.8L356.7 1278.6L359.7 1277.4L362.7 1276.3L365.7 1275.3L368.7 1274.4L371.7 1273.4L374.7 1272.5L377.7 1271.8L380.7 1271.2L383.7 1271L386.7 1270.9L389.7 1271L392.7 1271.4L395.7 1272L398.7 1272.6L401.7 1273.2L404.7 1275.1L407.7 1277.3L410.7 1279.8L413.7 1282.4L416.7 1285L419.4 1287.8L419.7 1287.5L422.7 1284.5L425.7 1282L428.7 1279.3L431.7 1276.9L434.7 1274.7L437.7 1273.1L440.7 1272.5L443.7 1271.9L446.7 1271.3L449.7 1271L452.7 1270.9L455.7 1271L458.7 1271.3L461.7 1271.9L464.7 1272.7L467.7 1273.6L470.7 1274.5L473.7 1275.5L476.7 1276.5L479.7 1277.6L482.7 1278.8L485.7 1280L488.7 1281.4L491.7 1282.8L494.7 1284.4L497.7 1285.9L500.7 1287.4L503.7 1288.8L506.7 1290.3L509.7 1291.7L512.7 1293L515.7 1294.3L518.7 1295.4L521.7 1296.5L524.7 1297.6L527.7 1298.6L530.7 1299.5L533.7 1300.4L536.7 1301.2L539.7 1301.9L542.7 1302.6L545.7 1303.2L548.7 1303.8L551.7 1304.4L554.7 1304.9L557.7 1305.4L560.7 1305.9L563.7 1306.2L566.7 1306.4L569.7 1306.6L572.7 1306.8L575.7 1306.9L578 1306.9L578.7 1306.9L581.7 1306.9L584.7 1306.7L587.7 1306.5L590.7 1306.3L593.7 1306.1L596.7 1305.7L599.7 1305.2L602.7 1304.7L605.7 1304.1L608.7 1303.6L611.7 1303L614.7 1302.3L617.7 1301.6L620.7 1300.8L623.7 1300L626.7 1299L629.7 1298.1L632.7 1297.1L635.7 1296L638.7 1294.9L641.7 1293.7L644.7 1292.4L647.7 1291.1L650.7 1289.6L653.7 1288.1L656.7 1286.7L659.7 1285.2L662.7 1283.6L665.7 1282.1L668.7 1280.7L671.7 1279.4L674.7 1278.2L677.7 1277.1L680.7 1276L683.7 1275L686.7 1274.1L689.7 1273.1L692.7 1272.3L695.7 1271.6L698.7 1271L701.7 1270.9L704.7 1270.9L707.7 1271.1L710.7 1271.6L713.7 1272.1L716.7 1272.8L719.7 1273.7L722.7 1275.7L725.7 1278L728.7 1280.7L730.2 1282L732.5 1282L732.5 1306.1L730.2 1306.1L728.7 1305.4L725.7 1304.7L722.7 1304.2L719.7 1304L716.7 1304.1L713.7 1304.1L710.7 1304.2L707.7 1304.4L704.7 1304.8L701.7 1305.4L698.7 1306L695.7 1306.8L692.7 1307.8L689.7 1308.9L686.7 1309.9L683.7 1310.9L680.7 1311.9L677.7 1313L674.7 1314.2L671.7 1315.4L668.7 1316.7L665.7 1318.1L662.7 1319.7L659.7 1321.3L656.7 1322.9L653.7 1324.6L650.7 1326.2L647.7 1327.8L644.7 1329.2L641.7 1330.4L638.7 1331.6L635.7 1332.8L632.7 1333.8L629.7 1334.8L626.7 1335.8L623.7 1336.7L620.7 1337.6L617.7 1338.3L614.7 1339L611.7 1339.7L608.7 1340.3L605.7 1340.9L602.7 1341.4L599.7 1341.9L596.7 1342.4L593.7 1342.8L590.7 1343.1L587.7 1343.3L584.7 1343.5L581.7 1343.6L578.7 1343.7L578 1343.7L575.7 1343.7L572.7 1343.6L569.7 1343.4L566.7 1343.2L563.7 1343L560.7 1342.6L557.7 1342.2L554.7 1341.6L551.7 1341.1L548.7 1340.6L545.7 1340L542.7 1339.4L539.7 1338.7L536.7 1337.9L533.7 1337.1L530.7 1336.2L527.7 1335.3L524.7 1334.3L521.7 1333.3L518.7 1332.2L515.7 1331L512.7 1329.8L509.7 1328.5L506.7 1327L503.7 1325.4L500.7 1323.7L497.7 1322L494.7 1320.4L491.7 1318.9L488.7 1317.4L485.7 1316L482.7 1314.7L479.7 1313.5L476.7 1312.4L473.7 1311.4L470.7 1310.4L467.7 1309.4L464.7 1308.3L461.7 1307.3L458.7 1306.4L455.7 1305.7L452.7 1305.1L449.7 1304.6L446.7 1304.3L443.7 1304.2L440.7 1304.1L437.7 1304.1L434.7 1304.1L431.7 1304.4L428.7 1305L425.7 1306.1L422.7 1307.6L419.7 1309.6L419.4 1309.8L416.7 1308L413.7 1306.3L410.7 1305.1L407.7 1304.5L404.7 1304.1L401.7 1304.1L398.7 1304.1L395.7 1304.2L392.7 1304.2L389.7 1304.5L386.7 1305L383.7 1305.6L380.7 1306.3L377.7 1307.1L374.7 1308.1L371.7 1309.2L368.7 1310.2L365.7 1311.2L362.7 1312.2L359.7 1313.3L356.7 1314.5L353.7 1315.8L350.7 1317.1L347.7 1318.6L344.7 1320.2L341.7 1321.7L338.7 1323.4L335.7 1325.1L332.7 1326.7L329.7 1328.2L326.7 1329.5L323.7 1330.8L320.7 1332L317.7 1333.1L314.7 1334.1L311.7 1335.1L308.7 1336.1L305.7 1337L302.7 1337.8L299.7 1338.5L296.7 1339.2L293.7 1339.9L290.7 1340.5L287.7 1341L284.7 1341.6L281.7 1342.1L278.7 1342.5L275.7 1342.9L272.7 1343.1L269.7 1343.4L266.7 1343.5L263.7 1343.6L260.9 1343.7L260.7 1343.7L257.7 1343.6L254.7 1343.5L251.7 1343.3L248.7 1343.1L245.7 1342.9L242.7 1342.5L239.7 1342L236.7 1341.5L233.7 1341L230.7 1340.4L227.7 1339.8L224.7 1339.2L221.7 1338.5L218.7 1337.7L215.7 1336.9L212.7 1336L209.7 1335L206.7 1334L203.7 1332.9L200.7 1331.8L197.7 1330.6L194.7 1329.4L191.7 1328.1L188.7 1326.5L185.7 1324.8L182.7 1323.2L179.7 1321.5L176.7 1320L173.7 1318.4L170.7 1316.9L167.7 1315.6L164.7 1314.4L161.7 1313.2L158.7 1312.1L155.7 1311.1L152.7 1310.1L149.7 1309.1L146.7 1308L143.7 1307L140.7 1306.2L137.7 1305.5L134.7 1304.9L131.7 1304.5L128.7 1304.2L125.7 1304.1L122.7 1304.1L119.7 1304.1L116.7 1304.1L113.7 1304.6L110.7 1305.2L107.7 1306.5L104.7 1308.2L102.3 1309.8L101.7 1309.3L98.7 1307.4L95.7 1305.9L92.7 1304.9L90.4 1304.9Z" fill="#0051ff"/>
<path d="M90.4 1279.6L92.7 1279.6L95.7 1282.2L98.7 1284.7L101.7 1287.6L102.3 1288.3L104.7 1285.9L107.7 1283.2L110.7 1280.7L113.7 1278.2L116.7 1276L119.7 1274.1L122.7 1273.4L125.7 1272.8L128.7 1272.2L131.7 1271.9L134.7 1271.7L137.7 1271.8L140.7 1271.9L143.7 1272.5L146.7 1273.3L149.7 1274.2L152.7 1275.1L155.7 1276.1L158.7 1277.1L161.7 1278.1L164.7 1279.3L167.7 1280.5L170.7 1281.8L173.7 1283.2L176.7 1284.8L179.7 1286.3L182.7 1287.8L185.7 1289.2L188.7 1290.7L191.7 1292.2L194.7 1293.5L197.7 1294.7L200.7 1295.9L203.7 1297L206.7 1298.1L209.7 1299.1L212.7 1300.1L215.7 1301L218.7 1301.8L221.7 1302.6L224.7 1303.3L227.7 1303.9L230.7 1304.5L233.7 1305.1L236.7 1305.6L239.7 1306.1L242.7 1306.6L245.7 1307L248.7 1307.2L251.7 1307.4L254.7 1307.6L257.7 1307.7L260.7 1307.8L260.9 1307.8L263.7 1307.7L266.7 1307.6L269.7 1307.5L272.7 1307.2L275.7 1307L278.7 1306.6L281.7 1306.2L284.7 1305.7L287.7 1305.1L290.7 1304.6L293.7 1304L296.7 1303.3L299.7 1302.6L302.7 1301.9L305.7 1301.1L308.7 1300.2L311.7 1299.2L314.7 1298.2L317.7 1297.2L320.7 1296.1L323.7 1294.9L326.7 1293.6L329.7 1292.3L332.7 1290.9L335.7 1289.4L338.7 1287.9L341.7 1286.5L344.7 1284.9L347.7 1283.4L350.7 1281.9L353.7 1280.6L356.7 1279.4L359.7 1278.3L362.7 1277.2L365.7 1276.2L368.7 1275.2L371.7 1274.3L374.7 1273.4L377.7 1272.6L380.7 1272L383.7 1271.8L386.7 1271.7L389.7 1271.8L392.7 1272.2L395.7 1272.7L398.7 1273.3L401.7 1273.9L404.7 1275.7L407.7 1277.9L410.7 1280.3L413.7 1282.9L416.7 1285.5L419.4 1288.3L419.7 1288L422.7 1285L425.7 1282.5L428.7 1279.9L431.7 1277.5L434.7 1275.4L437.7 1273.8L440.7 1273.2L443.7 1272.6L446.7 1272.1L449.7 1271.8L452.7 1271.7L455.7 1271.8L458.7 1272.1L461.7 1272.7L464.7 1273.5L467.7 1274.4L470.7 1275.4L473.7 1276.4L476.7 1277.4L479.7 1278.5L482.7 1279.6L485.7 1280.8L488.7 1282.2L491.7 1283.7L494.7 1285.2L497.7 1286.7L500.7 1288.2L503.7 1289.7L506.7 1291.2L509.7 1292.6L512.7 1293.9L515.7 1295.1L518.7 1296.3L521.7 1297.4L524.7 1298.4L527.7 1299.4L530.7 1300.3L533.7 1301.2L536.7 1302L539.7 1302.8L542.7 1303.5L545.7 1304.1L548.7 1304.7L551.7 1305.2L554.7 1305.7L557.7 1306.3L560.7 1306.7L563.7 1307.1L566.7 1307.3L569.7 1307.5L572.7 1307.7L575.7 1307.8L578 1307.8L578.7 1307.8L581.7 1307.7L584.7 1307.6L587.7 1307.4L590.7 1307.2L593.7 1306.9L596.7 1306.5L599.7 1306L602.7 1305.5L605.7 1305L608.7 1304.4L611.7 1303.8L614.7 1303.1L617.7 1302.4L620.7 1301.7L623.7 1300.8L626.7 1299.9L629.7 1298.9L632.7 1297.9L635.7 1296.9L638.7 1295.7L641.7 1294.5L644.7 1293.3L647.7 1291.9L650.7 1290.5L653.7 1289L656.7 1287.5L659.7 1286L662.7 1284.5L665.7 1283L668.7 1281.5L671.7 1280.2L674.7 1279.1L677.7 1277.9L680.7 1276.9L683.7 1275.9L686.7 1274.9L689.7 1274L692.7 1273.1L695.7 1272.4L698.7 1271.8L701.7 1271.8L704.7 1271.8L707.7 1271.9L710.7 1272.3L713.7 1272.9L716.7 1273.5L719.7 1274.4L722.7 1276.3L725.7 1278.6L728.7 1281.2L730.2 1282.5L732.5 1282.5L732.5 1305.7L730.2 1305.7L728.7 1305.1L725.7 1304.3L722.7 1303.8L719.7 1303.7L716.7 1303.7L713.7 1303.8L710.7 1303.8L707.7 1304L704.7 1304.4L701.7 1305L698.7 1305.6L695.7 1306.4L692.7 1307.4L689.7 1308.4L686.7 1309.5L683.7 1310.5L680.7 1311.5L677.7 1312.6L674.7 1313.7L671.7 1315L668.7 1316.3L665.7 1317.7L662.7 1319.3L659.7 1320.8L656.7 1322.5L653.7 1324.1L650.7 1325.8L647.7 1327.4L644.7 1328.7L641.7 1330L638.7 1331.2L635.7 1332.3L632.7 1333.4L629.7 1334.4L626.7 1335.3L623.7 1336.3L620.7 1337.1L617.7 1337.9L614.7 1338.6L611.7 1339.2L608.7 1339.9L605.7 1340.4L602.7 1340.9L599.7 1341.5L596.7 1342L593.7 1342.4L590.7 1342.6L587.7 1342.8L584.7 1343L581.7 1343.2L578.7 1343.2L578 1343.2L575.7 1343.2L572.7 1343.1L569.7 1342.9L566.7 1342.7L563.7 1342.5L560.7 1342.2L557.7 1341.7L554.7 1341.2L551.7 1340.7L548.7 1340.1L545.7 1339.5L542.7 1338.9L539.7 1338.2L536.7 1337.5L533.7 1336.7L530.7 1335.8L527.7 1334.8L524.7 1333.9L521.7 1332.8L518.7 1331.7L515.7 1330.5L512.7 1329.3L509.7 1328L506.7 1326.6L503.7 1324.9L500.7 1323.2L497.7 1321.6L494.7 1320L491.7 1318.5L488.7 1316.9L485.7 1315.6L482.7 1314.3L479.7 1313.1L476.7 1312L473.7 1311L470.7 1310L467.7 1309L464.7 1307.9L461.7 1306.9L458.7 1306L455.7 1305.3L452.7 1304.7L449.7 1304.2L446.7 1303.9L443.7 1303.8L440.7 1303.7L437.7 1303.7L434.7 1303.7L431.7 1304L428.7 1304.6L425.7 1305.8L422.7 1307.3L419.7 1309.3L419.4 1309.5L416.7 1307.6L413.7 1306L410.7 1304.8L407.7 1304.1L404.7 1303.7L401.7 1303.7L398.7 1303.7L395.7 1303.8L392.7 1303.9L389.7 1304.1L386.7 1304.6L383.7 1305.2L380.7 1305.9L377.7 1306.7L374.7 1307.7L371.7 1308.8L368.7 1309.8L365.7 1310.8L362.7 1311.8L359.7 1312.9L356.7 1314.1L353.7 1315.3L350.7 1316.7L347.7 1318.2L344.7 1319.7L341.7 1321.3L338.7 1323L335.7 1324.6L332.7 1326.3L329.7 1327.8L326.7 1329.1L323.7 1330.3L320.7 1331.5L317.7 1332.6L314.7 1333.7L311.7 1334.7L308.7 1335.6L305.7 1336.5L302.7 1337.3L299.7 1338.1L296.7 1338.8L293.7 1339.4L290.7 1340L287.7 1340.6L284.7 1341.1L281.7 1341.6L278.7 1342.1L275.7 1342.4L272.7 1342.7L269.7 1342.9L266.7 1343.1L263.7 1343.2L260.9 1343.2L260.7 1343.2L257.7 1343.2L254.7 1343.1L251.7 1342.9L248.7 1342.7L245.7 1342.4L242.7 1342L239.7 1341.6L236.7 1341L233.7 1340.5L230.7 1340L227.7 1339.4L224.7 1338.7L221.7 1338L218.7 1337.2L215.7 1336.4L212.7 1335.5L209.7 1334.6L206.7 1333.6L203.7 1332.5L200.7 1331.4L197.7 1330.2L194.7 1328.9L191.7 1327.6L188.7 1326.1L185.7 1324.4L182.7 1322.7L179.7 1321.1L176.7 1319.5L173.7 1318L170.7 1316.5L167.7 1315.2L164.7 1313.9L161.7 1312.8L158.7 1311.7L155.7 1310.7L152.7 1309.7L149.7 1308.6L146.7 1307.5L143.7 1306.6L140.7 1305.8L137.7 1305.1L134.7 1304.5L131.7 1304.1L128.7 1303.8L125.7 1303.8L122.7 1303.7L119.7 1303.7L116.7 1303.8L113.7 1304.2L110.7 1304.9L107.7 1306.2L104.7 1307.9L102.3 1309.5L101.7 1309L98.7 1307.1L95.7 1305.6L92.7 1304.6L90.4 1304.6Z" fill="#007cff"/>
<path d="M90.4 1280.2L92.7 1280.2L95.7 1282.7L98.7 1285.2L101.7 1288.1L102.3 1288.8L104.7 1286.4L107.7 1283.8L110.7 1281.2L113.7 1278.8L116.7 1276.6L119.7 1274.8L122.7 1274.1L125.7 1273.5L128.7 1273L131.7 1272.7L134.7 1272.6L137.7 1272.6L140.7 1272.8L143.7 1273.4L146.7 1274.1L149.7 1275L152.7 1275.9L155.7 1276.9L158.7 1277.9L161.7 1279L164.7 1280.1L167.7 1281.3L170.7 1282.6L173.7 1284.1L176.7 1285.6L179.7 1287.1L182.7 1288.6L185.7 1290.1L188.7 1291.6L191.7 1293L194.7 1294.3L197.7 1295.6L200.7 1296.8L203.7 1297.9L206.7 1299L209.7 1300L212.7 1300.9L215.7 1301.8L218.7 1302.6L221.7 1303.4L224.7 1304.1L227.7 1304.8L230.7 1305.4L233.7 1305.9L236.7 1306.4L239.7 1307L242.7 1307.4L245.7 1307.8L248.7 1308.1L251.7 1308.3L254.7 1308.5L257.7 1308.6L260.7 1308.6L260.9 1308.6L263.7 1308.6L266.7 1308.5L269.7 1308.3L272.7 1308.1L275.7 1307.8L278.7 1307.5L281.7 1307L284.7 1306.5L287.7 1306L290.7 1305.4L293.7 1304.8L296.7 1304.2L299.7 1303.5L302.7 1302.7L305.7 1301.9L308.7 1301L311.7 1300.1L314.7 1299.1L317.7 1298L320.7 1296.9L323.7 1295.7L326.7 1294.5L329.7 1293.2L332.7 1291.7L335.7 1290.3L338.7 1288.8L341.7 1287.3L344.7 1285.8L347.7 1284.3L350.7 1282.8L353.7 1281.5L356.7 1280.2L359.7 1279.1L362.7 1278L365.7 1277L368.7 1276.1L371.7 1275.1L374.7 1274.2L377.7 1273.5L380.7 1272.9L383.7 1272.6L386.7 1272.6L389.7 1272.6L392.7 1272.9L395.7 1273.5L398.7 1274L401.7 1274.6L404.7 1276.4L407.7 1278.5L410.7 1280.9L413.7 1283.4L416.7 1286L419.4 1288.8L419.7 1288.5L422.7 1285.5L425.7 1283L428.7 1280.5L431.7 1278.1L434.7 1276L437.7 1274.5L440.7 1273.9L443.7 1273.4L446.7 1272.9L449.7 1272.6L452.7 1272.6L455.7 1272.6L458.7 1273L461.7 1273.6L464.7 1274.4L467.7 1275.3L470.7 1276.2L473.7 1277.2L476.7 1278.2L479.7 1279.3L482.7 1280.5L485.7 1281.7L488.7 1283L491.7 1284.5L494.7 1286.1L497.7 1287.6L500.7 1289L503.7 1290.5L506.7 1292L509.7 1293.4L512.7 1294.7L515.7 1295.9L518.7 1297.1L521.7 1298.2L524.7 1299.3L527.7 1300.2L530.7 1301.2L533.7 1302.1L536.7 1302.9L539.7 1303.6L542.7 1304.3L545.7 1304.9L548.7 1305.5L551.7 1306.1L554.7 1306.6L557.7 1307.1L560.7 1307.6L563.7 1307.9L566.7 1308.1L569.7 1308.3L572.7 1308.5L575.7 1308.6L578 1308.6L578.7 1308.6L581.7 1308.6L584.7 1308.4L587.7 1308.2L590.7 1308L593.7 1307.7L596.7 1307.3L599.7 1306.9L602.7 1306.3L605.7 1305.8L608.7 1305.3L611.7 1304.6L614.7 1304L617.7 1303.3L620.7 1302.5L623.7 1301.6L626.7 1300.7L629.7 1299.8L632.7 1298.8L635.7 1297.7L638.7 1296.6L641.7 1295.4L644.7 1294.1L647.7 1292.7L650.7 1291.3L653.7 1289.8L656.7 1288.3L659.7 1286.9L662.7 1285.3L665.7 1283.8L668.7 1282.4L671.7 1281.1L674.7 1279.9L677.7 1278.8L680.7 1277.7L683.7 1276.7L686.7 1275.8L689.7 1274.8L692.7 1274L695.7 1273.3L698.7 1272.7L701.7 1272.6L704.7 1272.6L707.7 1272.7L710.7 1273.1L713.7 1273.6L716.7 1274.2L719.7 1275.1L722.7 1277L725.7 1279.2L728.7 1281.7L730.2 1283L732.5 1283L732.5 1305.4L730.2 1305.4L728.7 1304.7L725.7 1304L722.7 1303.5L719.7 1303.3L716.7 1303.3L713.7 1303.4L710.7 1303.4L707.7 1303.6L704.7 1304L701.7 1304.6L698.7 1305.3L695.7 1306L692.7 1307L689.7 1308L686.7 1309.1L683.7 1310.1L680.7 1311.1L677.7 1312.2L674.7 1313.3L671.7 1314.5L668.7 1315.8L665.7 1317.3L662.7 1318.8L659.7 1320.4L656.7 1322L653.7 1323.7L650.7 1325.3L647.7 1326.9L644.7 1328.3L641.7 1329.5L638.7 1330.7L635.7 1331.9L632.7 1332.9L629.7 1333.9L626.7 1334.9L623.7 1335.8L620.7 1336.6L617.7 1337.4L614.7 1338.1L611.7 1338.8L608.7 1339.4L605.7 1340L602.7 1340.5L599.7 1341L596.7 1341.5L593.7 1341.9L590.7 1342.2L587.7 1342.4L584.7 1342.6L581.7 1342.7L578.7 1342.8L578 1342.8L575.7 1342.8L572.7 1342.7L569.7 1342.5L566.7 1342.3L563.7 1342L560.7 1341.7L557.7 1341.3L554.7 1340.7L551.7 1340.2L548.7 1339.7L545.7 1339.1L542.7 1338.5L539.7 1337.8L536.7 1337L533.7 1336.2L530.7 1335.3L527.7 1334.4L524.7 1333.4L521.7 1332.4L518.7 1331.3L515.7 1330.1L512.7 1328.9L509.7 1327.6L506.7 1326.1L503.7 1324.5L500.7 1322.8L497.7 1321.2L494.7 1319.6L491.7 1318L488.7 1316.5L485.7 1315.1L482.7 1313.9L479.7 1312.7L476.7 1311.6L473.7 1310.6L470.7 1309.6L467.7 1308.6L464.7 1307.5L461.7 1306.5L458.7 1305.6L455.7 1304.9L452.7 1304.3L449.7 1303.8L446.7 1303.5L443.7 1303.4L440.7 1303.4L437.7 1303.3L434.7 1303.3L431.7 1303.7L428.7 1304.3L425.7 1305.4L422.7 1307L419.7 1309L419.4 1309.2L416.7 1307.3L413.7 1305.7L410.7 1304.4L407.7 1303.8L404.7 1303.4L401.7 1303.3L398.7 1303.4L395.7 1303.4L392.7 1303.5L389.7 1303.7L386.7 1304.2L383.7 1304.8L380.7 1305.5L377.7 1306.3L374.7 1307.3L371.7 1308.4L368.7 1309.4L365.7 1310.4L362.7 1311.4L359.7 1312.5L356.7 1313.7L353.7 1314.9L350.7 1316.3L347.7 1317.8L344.7 1319.3L341.7 1320.9L338.7 1322.5L335.7 1324.2L332.7 1325.8L329.7 1327.3L326.7 1328.6L323.7 1329.9L320.7 1331.1L317.7 1332.2L314.7 1333.2L311.7 1334.2L308.7 1335.2L305.7 1336.1L302.7 1336.9L299.7 1337.6L296.7 1338.3L293.7 1339L290.7 1339.6L287.7 1340.1L284.7 1340.7L281.7 1341.2L278.7 1341.6L275.7 1342L272.7 1342.2L269.7 1342.4L266.7 1342.6L263.7 1342.7L260.9 1342.8L260.7 1342.8L257.7 1342.7L254.7 1342.6L251.7 1342.4L248.7 1342.2L245.7 1342L242.7 1341.6L239.7 1341.1L236.7 1340.6L233.7 1340.1L230.7 1339.5L227.7 1338.9L224.7 1338.3L221.7 1337.6L218.7 1336.8L215.7 1336L212.7 1335.1L209.7 1334.1L206.7 1333.1L203.7 1332L200.7 1330.9L197.7 1329.7L194.7 1328.5L191.7 1327.2L188.7 1325.6L185.7 1324L182.7 1322.3L179.7 1320.7L176.7 1319.1L173.7 1317.6L170.7 1316.1L167.7 1314.8L164.7 1313.5L161.7 1312.4L158.7 1311.3L155.7 1310.3L152.7 1309.3L149.7 1308.2L146.7 1307.1L143.7 1306.2L140.7 1305.4L137.7 1304.7L134.7 1304.1L131.7 1303.7L128.7 1303.5L125.7 1303.4L122.7 1303.3L119.7 1303.3L116.7 1303.4L113.7 1303.9L110.7 1304.5L107.7 1305.9L104.7 1307.6L102.3 1309.2L101.7 1308.7L98.7 1306.8L95.7 1305.2L92.7 1304.2L90.4 1304.2Z" fill="#00a7ff"/>
<path d="M90.4 1280.7L92.7 1280.7L95.7 1283.2L98.7 1285.7L101.7 1288.6L102.3 1289.3L104.7 1286.9L107.7 1284.3L110.7 1281.8L113.7 1279.4L116.7 1277.3L119.7 1275.5L122.7 1274.9L125.7 1274.3L128.7 1273.8L131.7 1273.4L134.7 1273.4L137.7 1273.4L140.7 1273.6L143.7 1274.2L146.7 1275L149.7 1275.8L152.7 1276.8L155.7 1277.8L158.7 1278.8L161.7 1279.8L164.7 1280.9L167.7 1282.2L170.7 1283.5L173.7 1284.9L176.7 1286.4L179.7 1288L182.7 1289.4L185.7 1290.9L188.7 1292.4L191.7 1293.8L194.7 1295.2L197.7 1296.4L200.7 1297.6L203.7 1298.7L206.7 1299.8L209.7 1300.8L212.7 1301.7L215.7 1302.6L218.7 1303.5L221.7 1304.2L224.7 1304.9L227.7 1305.6L230.7 1306.2L233.7 1306.8L236.7 1307.3L239.7 1307.8L242.7 1308.3L245.7 1308.7L248.7 1308.9L251.7 1309.1L254.7 1309.3L257.7 1309.4L260.7 1309.5L260.9 1309.5L263.7 1309.4L266.7 1309.3L269.7 1309.1L272.7 1308.9L275.7 1308.7L278.7 1308.3L281.7 1307.9L284.7 1307.3L287.7 1306.8L290.7 1306.3L293.7 1305.7L296.7 1305L299.7 1304.3L302.7 1303.6L305.7 1302.8L308.7 1301.9L311.7 1300.9L314.7 1299.9L317.7 1298.9L320.7 1297.8L323.7 1296.6L326.7 1295.3L329.7 1294L332.7 1292.6L335.7 1291.1L338.7 1289.6L341.7 1288.2L344.7 1286.6L347.7 1285.1L350.7 1283.6L353.7 1282.3L356.7 1281.1L359.7 1280L362.7 1278.9L365.7 1277.9L368.7 1276.9L371.7 1276L374.7 1275.1L377.7 1274.3L380.7 1273.7L383.7 1273.4L386.7 1273.4L389.7 1273.4L392.7 1273.7L395.7 1274.2L398.7 1274.8L401.7 1275.4L404.7 1277L407.7 1279.1L410.7 1281.4L413.7 1284L416.7 1286.5L419.4 1289.3L419.7 1289L422.7 1286L425.7 1283.5L428.7 1281L431.7 1278.7L434.7 1276.7L437.7 1275.3L440.7 1274.7L443.7 1274.1L446.7 1273.6L449.7 1273.4L452.7 1273.4L455.7 1273.5L458.7 1273.8L461.7 1274.4L464.7 1275.2L467.7 1276.1L470.7 1277.1L473.7 1278L476.7 1279.1L479.7 1280.1L482.7 1281.3L485.7 1282.5L488.7 1283.9L491.7 1285.4L494.7 1286.9L497.7 1288.4L500.7 1289.9L503.7 1291.4L506.7 1292.8L509.7 1294.3L512.7 1295.6L515.7 1296.8L518.7 1298L521.7 1299.1L524.7 1300.1L527.7 1301.1L530.7 1302L533.7 1302.9L536.7 1303.7L539.7 1304.5L542.7 1305.1L545.7 1305.8L548.7 1306.4L551.7 1306.9L554.7 1307.4L557.7 1307.9L560.7 1308.4L563.7 1308.7L566.7 1309L569.7 1309.2L572.7 1309.3L575.7 1309.4L578 1309.5L578.7 1309.5L581.7 1309.4L584.7 1309.3L587.7 1309.1L590.7 1308.9L593.7 1308.6L596.7 1308.2L599.7 1307.7L602.7 1307.2L605.7 1306.7L608.7 1306.1L611.7 1305.5L614.7 1304.8L617.7 1304.1L620.7 1303.3L623.7 1302.5L626.7 1301.6L629.7 1300.6L632.7 1299.6L635.7 1298.5L638.7 1297.4L641.7 1296.2L644.7 1295L647.7 1293.6L650.7 1292.2L653.7 1290.7L656.7 1289.2L659.7 1287.7L662.7 1286.2L665.7 1284.7L668.7 1283.2L671.7 1281.9L674.7 1280.7L677.7 1279.6L680.7 1278.6L683.7 1277.6L686.7 1276.6L689.7 1275.7L692.7 1274.8L695.7 1274.1L698.7 1273.5L701.7 1273.4L704.7 1273.4L707.7 1273.5L710.7 1273.9L713.7 1274.4L716.7 1275L719.7 1275.8L722.7 1277.6L725.7 1279.8L728.7 1282.3L730.2 1283.5L732.5 1283.5L732.5 1305.1L730.2 1305.1L728.7 1304.4L725.7 1303.6L722.7 1303.1L719.7 1302.9L716.7 1303L713.7 1303L710.7 1303.1L707.7 1303.2L704.7 1303.7L701.7 1304.2L698.7 1304.9L695.7 1305.6L692.7 1306.5L689.7 1307.6L686.7 1308.7L683.7 1309.7L680.7 1310.7L677.7 1311.7L674.7 1312.9L671.7 1314.1L668.7 1315.4L665.7 1316.9L662.7 1318.4L659.7 1320L656.7 1321.6L653.7 1323.2L650.7 1324.9L647.7 1326.5L644.7 1327.8L641.7 1329.1L638.7 1330.3L635.7 1331.4L632.7 1332.5L629.7 1333.5L626.7 1334.4L623.7 1335.4L620.7 1336.2L617.7 1337L614.7 1337.7L611.7 1338.3L608.7 1339L605.7 1339.5L602.7 1340L599.7 1340.6L596.7 1341.1L593.7 1341.5L590.7 1341.7L587.7 1341.9L584.7 1342.1L581.7 1342.3L578.7 1342.3L578 1342.3L575.7 1342.3L572.7 1342.2L569.7 1342L566.7 1341.8L563.7 1341.6L560.7 1341.3L557.7 1340.8L554.7 1340.3L551.7 1339.8L548.7 1339.2L545.7 1338.6L542.7 1338L539.7 1337.3L536.7 1336.6L533.7 1335.8L530.7 1334.9L527.7 1333.9L524.7 1333L521.7 1331.9L518.7 1330.8L515.7 1329.6L512.7 1328.4L509.7 1327.1L506.7 1325.7L503.7 1324L500.7 1322.4L497.7 1320.7L494.7 1319.2L491.7 1317.6L488.7 1316.1L485.7 1314.7L482.7 1313.5L479.7 1312.3L476.7 1311.2L473.7 1310.1L470.7 1309.1L467.7 1308.1L464.7 1307L461.7 1306L458.7 1305.2L455.7 1304.5L452.7 1303.9L449.7 1303.4L446.7 1303.1L443.7 1303L440.7 1303L437.7 1303L434.7 1303L431.7 1303.3L428.7 1304L425.7 1305.1L422.7 1306.7L419.7 1308.7L419.4 1308.9L416.7 1307L413.7 1305.4L410.7 1304.1L407.7 1303.4L404.7 1303L401.7 1303L398.7 1303L395.7 1303L392.7 1303.1L389.7 1303.3L386.7 1303.8L383.7 1304.4L380.7 1305.1L377.7 1305.9L374.7 1306.9L371.7 1307.9L368.7 1309L365.7 1310L362.7 1311L359.7 1312.1L356.7 1313.2L353.7 1314.5L350.7 1315.8L347.7 1317.3L344.7 1318.9L341.7 1320.4L338.7 1322.1L335.7 1323.7L332.7 1325.4L329.7 1326.9L326.7 1328.2L323.7 1329.4L320.7 1330.6L317.7 1331.7L314.7 1332.8L311.7 1333.8L308.7 1334.7L305.7 1335.6L302.7 1336.4L299.7 1337.2L296.7 1337.9L293.7 1338.5L290.7 1339.1L287.7 1339.7L284.7 1340.2L281.7 1340.7L278.7 1341.2L275.7 1341.5L272.7 1341.8L269.7 1342L266.7 1342.2L263.7 1342.3L260.9 1342.3L260.7 1342.3L257.7 1342.3L254.7 1342.2L251.7 1342L248.7 1341.8L245.7 1341.5L242.7 1341.1L239.7 1340.7L236.7 1340.1L233.7 1339.6L230.7 1339.1L227.7 1338.5L224.7 1337.8L221.7 1337.1L218.7 1336.3L215.7 1335.5L212.7 1334.6L209.7 1333.7L206.7 1332.7L203.7 1331.6L200.7 1330.5L197.7 1329.3L194.7 1328L191.7 1326.7L188.7 1325.2L185.7 1323.5L182.7 1321.9L179.7 1320.2L176.7 1318.7L173.7 1317.1L170.7 1315.7L167.7 1314.3L164.7 1313.1L161.7 1311.9L158.7 1310.9L155.7 1309.8L152.7 1308.8L149.7 1307.8L146.7 1306.7L143.7 1305.8L140.7 1305L137.7 1304.3L134.7 1303.7L131.7 1303.3L128.7 1303.1L125.7 1303L122.7 1303L119.7 1302.9L116.7 1303L113.7 1303.5L110.7 1304.2L107.7 1305.6L104.7 1307.3L102.3 1308.9L101.7 1308.5L98.7 1306.5L95.7 1304.9L92.7 1303.9L90.4 1303.9Z" fill="#00d2ff"/>
<path d="M90.4 1281.3L92.7 1281.3L95.7 1283.8L98.7 1286.2L101.7 1289.1L102.3 1289.7L104.7 1287.4L107.7 1284.8L110.7 1282.3L113.7 1280L116.7 1277.9L119.7 1276.2L122.7 1275.6L125.7 1275.1L128.7 1274.6L131.7 1274.2L134.7 1274.2L137.7 1274.3L140.7 1274.5L143.7 1275.1L146.7 1275.8L149.7 1276.7L152.7 1277.6L155.7 1278.6L158.7 1279.6L161.7 1280.7L164.7 1281.8L167.7 1283L170.7 1284.3L173.7 1285.8L176.7 1287.3L179.7 1288.8L182.7 1290.3L185.7 1291.8L188.7 1293.3L191.7 1294.7L194.7 1296L197.7 1297.3L200.7 1298.5L203.7 1299.6L206.7 1300.6L209.7 1301.6L212.7 1302.6L215.7 1303.5L218.7 1304.3L221.7 1305.1L224.7 1305.8L227.7 1306.4L230.7 1307L233.7 1307.6L236.7 1308.1L239.7 1308.6L242.7 1309.1L245.7 1309.5L248.7 1309.7L251.7 1310L254.7 1310.1L257.7 1310.3L260.7 1310.3L260.9 1310.3L263.7 1310.3L266.7 1310.2L269.7 1310L272.7 1309.8L275.7 1309.5L278.7 1309.2L281.7 1308.7L284.7 1308.2L287.7 1307.7L290.7 1307.1L293.7 1306.5L296.7 1305.9L299.7 1305.2L302.7 1304.4L305.7 1303.6L308.7 1302.7L311.7 1301.8L314.7 1300.8L317.7 1299.7L320.7 1298.6L323.7 1297.4L326.7 1296.2L329.7 1294.9L332.7 1293.4L335.7 1292L338.7 1290.5L341.7 1289L344.7 1287.5L347.7 1285.9L350.7 1284.5L353.7 1283.2L356.7 1281.9L359.7 1280.8L362.7 1279.7L365.7 1278.7L368.7 1277.8L371.7 1276.8L374.7 1275.9L377.7 1275.1L380.7 1274.5L383.7 1274.3L386.7 1274.2L389.7 1274.2L392.7 1274.5L395.7 1275L398.7 1275.5L401.7 1276.1L404.7 1277.7L407.7 1279.7L410.7 1282L413.7 1284.5L416.7 1287L419.4 1289.7L419.7 1289.5L422.7 1286.5L425.7 1284L428.7 1281.6L431.7 1279.3L434.7 1277.4L437.7 1276L440.7 1275.4L443.7 1274.9L446.7 1274.4L449.7 1274.2L452.7 1274.2L455.7 1274.3L458.7 1274.6L461.7 1275.3L464.7 1276.1L467.7 1277L470.7 1277.9L473.7 1278.9L476.7 1279.9L479.7 1281L482.7 1282.1L485.7 1283.4L488.7 1284.7L491.7 1286.2L494.7 1287.8L497.7 1289.3L500.7 1290.7L503.7 1292.2L506.7 1293.7L509.7 1295.1L512.7 1296.4L515.7 1297.6L518.7 1298.8L521.7 1299.9L524.7 1301L527.7 1301.9L530.7 1302.9L533.7 1303.8L536.7 1304.6L539.7 1305.3L542.7 1306L545.7 1306.6L548.7 1307.2L551.7 1307.8L554.7 1308.3L557.7 1308.8L560.7 1309.2L563.7 1309.6L566.7 1309.8L569.7 1310L572.7 1310.2L575.7 1310.3L578 1310.3L578.7 1310.3L581.7 1310.3L584.7 1310.1L587.7 1309.9L590.7 1309.7L593.7 1309.4L596.7 1309L599.7 1308.6L602.7 1308L605.7 1307.5L608.7 1306.9L611.7 1306.3L614.7 1305.7L617.7 1305L620.7 1304.2L623.7 1303.3L626.7 1302.4L629.7 1301.5L632.7 1300.5L635.7 1299.4L638.7 1298.3L641.7 1297.1L644.7 1295.8L647.7 1294.4L650.7 1293L653.7 1291.5L656.7 1290L659.7 1288.6L662.7 1287L665.7 1285.5L668.7 1284.1L671.7 1282.8L674.7 1281.6L677.7 1280.5L680.7 1279.4L683.7 1278.4L686.7 1277.5L689.7 1276.5L692.7 1275.7L695.7 1274.9L698.7 1274.4L701.7 1274.2L704.7 1274.2L707.7 1274.3L710.7 1274.6L713.7 1275.2L716.7 1275.7L719.7 1276.5L722.7 1278.3L725.7 1280.4L728.7 1282.8L730.2 1284L732.5 1284L732.5 1304.7L730.2 1304.7L728.7 1304L725.7 1303.3L722.7 1302.8L719.7 1302.6L716.7 1302.6L713.7 1302.6L710.7 1302.7L707.7 1302.9L704.7 1303.3L701.7 1303.8L698.7 1304.5L695.7 1305.2L692.7 1306.1L689.7 1307.2L686.7 1308.2L683.7 1309.2L680.7 1310.2L677.7 1311.3L674.7 1312.5L671.7 1313.7L668.7 1315L665.7 1316.4L662.7 1318L659.7 1319.5L656.7 1321.2L653.7 1322.8L650.7 1324.4L647.7 1326L644.7 1327.4L641.7 1328.6L638.7 1329.8L635.7 1331L632.7 1332L629.7 1333L626.7 1334L623.7 1334.9L620.7 1335.7L617.7 1336.5L614.7 1337.2L611.7 1337.9L608.7 1338.5L605.7 1339.1L602.7 1339.6L599.7 1340.1L596.7 1340.6L593.7 1341L590.7 1341.3L587.7 1341.5L584.7 1341.7L581.7 1341.8L578.7 1341.9L578 1341.9L575.7 1341.9L572.7 1341.8L569.7 1341.6L566.7 1341.4L563.7 1341.1L560.7 1340.8L557.7 1340.4L554.7 1339.8L551.7 1339.3L548.7 1338.8L545.7 1338.2L542.7 1337.6L539.7 1336.9L536.7 1336.1L533.7 1335.3L530.7 1334.4L527.7 1333.5L524.7 1332.5L521.7 1331.5L518.7 1330.4L515.7 1329.2L512.7 1328L509.7 1326.7L506.7 1325.2L503.7 1323.6L500.7 1321.9L497.7 1320.3L494.7 1318.7L491.7 1317.2L488.7 1315.7L485.7 1314.3L482.7 1313L479.7 1311.9L476.7 1310.8L473.7 1309.7L470.7 1308.7L467.7 1307.7L464.7 1306.6L461.7 1305.6L458.7 1304.8L455.7 1304.1L452.7 1303.5L449.7 1303L446.7 1302.7L443.7 1302.7L440.7 1302.6L437.7 1302.6L434.7 1302.6L431.7 1303L428.7 1303.6L425.7 1304.8L422.7 1306.4L419.7 1308.4L419.4 1308.6L416.7 1306.7L413.7 1305L410.7 1303.7L407.7 1303.1L404.7 1302.7L401.7 1302.6L398.7 1302.6L395.7 1302.6L392.7 1302.7L389.7 1303L386.7 1303.4L383.7 1304L380.7 1304.7L377.7 1305.5L374.7 1306.4L371.7 1307.5L368.7 1308.5L365.7 1309.5L362.7 1310.6L359.7 1311.7L356.7 1312.8L353.7 1314.1L350.7 1315.4L347.7 1316.9L344.7 1318.5L341.7 1320L338.7 1321.6L335.7 1323.3L332.7 1324.9L329.7 1326.4L326.7 1327.7L323.7 1329L320.7 1330.2L317.7 1331.3L314.7 1332.3L311.7 1333.3L308.7 1334.3L305.7 1335.2L302.7 1336L299.7 1336.7L296.7 1337.4L293.7 1338.1L290.7 1338.7L287.7 1339.2L284.7 1339.8L281.7 1340.3L278.7 1340.7L275.7 1341.1L272.7 1341.3L269.7 1341.5L266.7 1341.7L263.7 1341.8L260.9 1341.9L260.7 1341.9L257.7 1341.8L254.7 1341.7L251.7 1341.5L248.7 1341.3L245.7 1341.1L242.7 1340.7L239.7 1340.2L236.7 1339.7L233.7 1339.2L230.7 1338.6L227.7 1338L224.7 1337.4L221.7 1336.7L218.7 1335.9L215.7 1335.1L212.7 1334.2L209.7 1333.2L206.7 1332.2L203.7 1331.1L200.7 1330L197.7 1328.8L194.7 1327.6L191.7 1326.3L188.7 1324.7L185.7 1323.1L182.7 1321.4L179.7 1319.8L176.7 1318.3L173.7 1316.7L170.7 1315.2L167.7 1313.9L164.7 1312.7L161.7 1311.5L158.7 1310.4L155.7 1309.4L152.7 1308.4L149.7 1307.4L146.7 1306.3L143.7 1305.4L140.7 1304.6L137.7 1303.9L134.7 1303.4L131.7 1302.9L128.7 1302.7L125.7 1302.6L122.7 1302.6L119.7 1302.6L116.7 1302.7L113.7 1303.2L110.7 1303.9L107.7 1305.2L104.7 1307L102.3 1308.6L101.7 1308.2L98.7 1306.2L95.7 1304.6L92.7 1303.5L90.4 1303.5Z" fill="#00fdff"/>
<path d="M90.4 1281.8L92.7 1281.8L95.7 1284.2L98.7 1286.7L101.7 1289.5L102.3 1290.2L104.7 1287.8L107.7 1285.3L110.7 1282.8L113.7 1280.6L116.7 1278.5L119.7 1276.9L122.7 1276.3L125.7 1275.8L128.7 1275.3L131.7 1275L134.7 1274.9L137.7 1275L140.7 1275.3L143.7 1275.8L146.7 1276.6L149.7 1277.5L152.7 1278.4L155.7 1279.4L158.7 1280.4L161.7 1281.4L164.7 1282.6L167.7 1283.8L170.7 1285.1L173.7 1286.5L176.7 1288.1L179.7 1289.6L182.7 1291.1L185.7 1292.6L188.7 1294L191.7 1295.5L194.7 1296.8L197.7 1298.1L200.7 1299.2L203.7 1300.4L206.7 1301.4L209.7 1302.4L212.7 1303.4L215.7 1304.3L218.7 1305.1L221.7 1305.9L224.7 1306.6L227.7 1307.2L230.7 1307.8L233.7 1308.4L236.7 1308.9L239.7 1309.4L242.7 1309.9L245.7 1310.3L248.7 1310.5L251.7 1310.7L254.7 1310.9L257.7 1311.1L260.7 1311.1L260.9 1311.1L263.7 1311.1L266.7 1310.9L269.7 1310.8L272.7 1310.6L275.7 1310.3L278.7 1310L281.7 1309.5L284.7 1309L287.7 1308.4L290.7 1307.9L293.7 1307.3L296.7 1306.7L299.7 1306L302.7 1305.2L305.7 1304.4L308.7 1303.5L311.7 1302.5L314.7 1301.6L317.7 1300.5L320.7 1299.4L323.7 1298.2L326.7 1297L329.7 1295.6L332.7 1294.2L335.7 1292.7L338.7 1291.3L341.7 1289.8L344.7 1288.3L347.7 1286.7L350.7 1285.3L353.7 1283.9L356.7 1282.7L359.7 1281.6L362.7 1280.5L365.7 1279.5L368.7 1278.5L371.7 1277.6L374.7 1276.7L377.7 1275.9L380.7 1275.3L383.7 1275.1L386.7 1274.9L389.7 1275L392.7 1275.2L395.7 1275.7L398.7 1276.2L401.7 1276.7L404.7 1278.3L407.7 1280.3L410.7 1282.5L413.7 1285L416.7 1287.5L419.4 1290.2L419.7 1289.9L422.7 1287L425.7 1284.5L428.7 1282.1L431.7 1279.9L434.7 1278L437.7 1276.7L440.7 1276.1L443.7 1275.6L446.7 1275.2L449.7 1275L452.7 1275L455.7 1275.1L458.7 1275.4L461.7 1276.1L464.7 1276.8L467.7 1277.8L470.7 1278.7L473.7 1279.7L476.7 1280.7L479.7 1281.8L482.7 1282.9L485.7 1284.2L488.7 1285.5L491.7 1287L494.7 1288.5L497.7 1290.1L500.7 1291.5L503.7 1293L506.7 1294.5L509.7 1295.9L512.7 1297.2L515.7 1298.4L518.7 1299.6L521.7 1300.7L524.7 1301.7L527.7 1302.7L530.7 1303.7L533.7 1304.5L536.7 1305.4L539.7 1306.1L542.7 1306.8L545.7 1307.4L548.7 1308L551.7 1308.5L554.7 1309.1L557.7 1309.6L560.7 1310L563.7 1310.4L566.7 1310.6L569.7 1310.8L572.7 1311L575.7 1311.1L578 1311.1L578.7 1311.1L581.7 1311L584.7 1310.9L587.7 1310.7L590.7 1310.5L593.7 1310.2L596.7 1309.8L599.7 1309.3L602.7 1308.8L605.7 1308.3L608.7 1307.7L611.7 1307.1L614.7 1306.5L617.7 1305.7L620.7 1305L623.7 1304.1L626.7 1303.2L629.7 1302.3L632.7 1301.2L635.7 1300.2L638.7 1299L641.7 1297.8L644.7 1296.6L647.7 1295.2L650.7 1293.8L653.7 1292.3L656.7 1290.8L659.7 1289.3L662.7 1287.8L665.7 1286.3L668.7 1284.8L671.7 1283.6L674.7 1282.4L677.7 1281.3L680.7 1280.2L683.7 1279.2L686.7 1278.2L689.7 1277.3L692.7 1276.4L695.7 1275.7L698.7 1275.2L701.7 1275L704.7 1274.9L707.7 1275L710.7 1275.4L713.7 1275.9L716.7 1276.4L719.7 1277.2L722.7 1278.9L725.7 1280.9L728.7 1283.3L730.2 1284.5L732.5 1284.5L732.5 1304.2L730.2 1304.2L728.7 1303.5L725.7 1302.7L722.7 1302.1L719.7 1301.9L716.7 1302L713.7 1302L710.7 1302L707.7 1302.2L704.7 1302.6L701.7 1303.2L698.7 1303.8L695.7 1304.5L692.7 1305.4L689.7 1306.5L686.7 1307.5L683.7 1308.5L680.7 1309.5L677.7 1310.6L674.7 1311.7L671.7 1313L668.7 1314.3L665.7 1315.7L662.7 1317.3L659.7 1318.8L656.7 1320.4L653.7 1322L650.7 1323.7L647.7 1325.2L644.7 1326.6L641.7 1327.8L638.7 1329L635.7 1330.2L632.7 1331.3L629.7 1332.3L626.7 1333.2L623.7 1334.1L620.7 1335L617.7 1335.7L614.7 1336.5L611.7 1337.1L608.7 1337.7L605.7 1338.3L602.7 1338.8L599.7 1339.3L596.7 1339.8L593.7 1340.2L590.7 1340.5L587.7 1340.7L584.7 1340.9L581.7 1341L578.7 1341.1L578 1341.1L575.7 1341.1L572.7 1341L569.7 1340.8L566.7 1340.6L563.7 1340.4L560.7 1340L557.7 1339.6L554.7 1339.1L551.7 1338.5L548.7 1338L545.7 1337.4L542.7 1336.8L539.7 1336.1L536.7 1335.4L533.7 1334.5L530.7 1333.7L527.7 1332.7L524.7 1331.7L521.7 1330.7L518.7 1329.6L515.7 1328.4L512.7 1327.2L509.7 1325.9L506.7 1324.4L503.7 1322.8L500.7 1321.2L497.7 1319.6L494.7 1318L491.7 1316.4L488.7 1314.9L485.7 1313.6L482.7 1312.3L479.7 1311.1L476.7 1310L473.7 1309L470.7 1308L467.7 1307L464.7 1305.9L461.7 1305L458.7 1304.1L455.7 1303.5L452.7 1302.9L449.7 1302.4L446.7 1302.1L443.7 1302L440.7 1302L437.7 1302L434.7 1302L431.7 1302.4L428.7 1303L425.7 1304.2L422.7 1305.9L419.7 1307.9L419.4 1308.1L416.7 1306.2L413.7 1304.5L410.7 1303.2L407.7 1302.5L404.7 1302L401.7 1302L398.7 1302L395.7 1302L392.7 1302.1L389.7 1302.3L386.7 1302.8L383.7 1303.4L380.7 1304L377.7 1304.8L374.7 1305.7L371.7 1306.8L368.7 1307.8L365.7 1308.8L362.7 1309.8L359.7 1310.9L356.7 1312.1L353.7 1313.3L350.7 1314.7L347.7 1316.2L344.7 1317.7L341.7 1319.3L338.7 1320.9L335.7 1322.5L332.7 1324.2L329.7 1325.6L326.7 1327L323.7 1328.2L320.7 1329.4L317.7 1330.5L314.7 1331.6L311.7 1332.6L308.7 1333.5L305.7 1334.4L302.7 1335.2L299.7 1336L296.7 1336.7L293.7 1337.3L290.7 1337.9L287.7 1338.5L284.7 1339L281.7 1339.5L278.7 1340L275.7 1340.3L272.7 1340.6L269.7 1340.8L266.7 1341L263.7 1341.1L260.9 1341.1L260.7 1341.1L257.7 1341.1L254.7 1340.9L251.7 1340.8L248.7 1340.5L245.7 1340.3L242.7 1339.9L239.7 1339.4L236.7 1338.9L233.7 1338.4L230.7 1337.8L227.7 1337.2L224.7 1336.6L221.7 1335.9L218.7 1335.1L215.7 1334.3L212.7 1333.4L209.7 1332.4L206.7 1331.4L203.7 1330.4L200.7 1329.2L197.7 1328.1L194.7 1326.8L191.7 1325.5L188.7 1324L185.7 1322.3L182.7 1320.7L179.7 1319.1L176.7 1317.5L173.7 1316L170.7 1314.5L167.7 1313.2L164.7 1311.9L161.7 1310.8L158.7 1309.7L155.7 1308.7L152.7 1307.7L149.7 1306.7L146.7 1305.6L143.7 1304.7L140.7 1303.9L137.7 1303.3L134.7 1302.7L131.7 1302.3L128.7 1302.1L125.7 1302L122.7 1302L119.7 1301.9L116.7 1302.1L113.7 1302.5L110.7 1303.3L107.7 1304.7L104.7 1306.4L102.3 1308.1L101.7 1307.6L98.7 1305.6L95.7 1304L92.7 1302.9L90.4 1302.9Z" fill="#29ffd6"/>
<path d="M90.4 1282.3L92.7 1282.3L95.7 1284.7L98.7 1287.1L101.7 1289.9L102.3 1290.6L104.7 1288.2L107.7 1285.7L110.7 1283.2L113.7 1281L116.7 1279.1L119.7 1277.5L122.7 1276.9L125.7 1276.4L128.7 1275.9L131.7 1275.6L134.7 1275.6L137.7 1275.7L140.7 1275.9L143.7 1276.5L146.7 1277.3L149.7 1278.2L152.7 1279.1L155.7 1280.1L158.7 1281.1L161.7 1282.1L164.7 1283.3L167.7 1284.5L170.7 1285.8L173.7 1287.2L176.7 1288.8L179.7 1290.3L182.7 1291.8L185.7 1293.3L188.7 1294.7L191.7 1296.2L194.7 1297.5L197.7 1298.7L200.7 1299.9L203.7 1301.1L206.7 1302.1L209.7 1303.1L212.7 1304.1L215.7 1305L218.7 1305.8L221.7 1306.6L224.7 1307.3L227.7 1307.9L230.7 1308.5L233.7 1309.1L236.7 1309.6L239.7 1310.1L242.7 1310.6L245.7 1311L248.7 1311.2L251.7 1311.4L254.7 1311.6L257.7 1311.7L260.7 1311.8L260.9 1311.8L263.7 1311.8L266.7 1311.6L269.7 1311.5L272.7 1311.2L275.7 1311L278.7 1310.6L281.7 1310.2L284.7 1309.7L287.7 1309.1L290.7 1308.6L293.7 1308L296.7 1307.3L299.7 1306.7L302.7 1305.9L305.7 1305.1L308.7 1304.2L311.7 1303.2L314.7 1302.2L317.7 1301.2L320.7 1300.1L323.7 1298.9L326.7 1297.7L329.7 1296.3L332.7 1294.9L335.7 1293.4L338.7 1292L341.7 1290.5L344.7 1289L347.7 1287.4L350.7 1286L353.7 1284.6L356.7 1283.4L359.7 1282.3L362.7 1281.2L365.7 1280.2L368.7 1279.2L371.7 1278.3L374.7 1277.4L377.7 1276.6L380.7 1276L383.7 1275.7L386.7 1275.6L389.7 1275.6L392.7 1275.9L395.7 1276.3L398.7 1276.8L401.7 1277.3L404.7 1278.9L407.7 1280.8L410.7 1283L413.7 1285.4L416.7 1287.9L419.4 1290.6L419.7 1290.3L422.7 1287.4L425.7 1285L428.7 1282.6L431.7 1280.4L434.7 1278.6L437.7 1277.2L440.7 1276.7L443.7 1276.2L446.7 1275.8L449.7 1275.6L452.7 1275.6L455.7 1275.8L458.7 1276.1L461.7 1276.7L464.7 1277.5L467.7 1278.4L470.7 1279.4L473.7 1280.4L476.7 1281.4L479.7 1282.5L482.7 1283.6L485.7 1284.8L488.7 1286.2L491.7 1287.7L494.7 1289.2L497.7 1290.7L500.7 1292.2L503.7 1293.7L506.7 1295.2L509.7 1296.6L512.7 1297.9L515.7 1299.1L518.7 1300.3L521.7 1301.4L524.7 1302.4L527.7 1303.4L530.7 1304.3L533.7 1305.2L536.7 1306L539.7 1306.8L542.7 1307.5L545.7 1308.1L548.7 1308.7L551.7 1309.2L554.7 1309.8L557.7 1310.3L560.7 1310.7L563.7 1311.1L566.7 1311.3L569.7 1311.5L572.7 1311.7L575.7 1311.8L578 1311.8L578.7 1311.8L581.7 1311.7L584.7 1311.6L587.7 1311.4L590.7 1311.2L593.7 1310.9L596.7 1310.5L599.7 1310L602.7 1309.5L605.7 1309L608.7 1308.4L611.7 1307.8L614.7 1307.1L617.7 1306.4L620.7 1305.7L623.7 1304.8L626.7 1303.9L629.7 1302.9L632.7 1301.9L635.7 1300.9L638.7 1299.7L641.7 1298.5L644.7 1297.3L647.7 1295.9L650.7 1294.5L653.7 1293L656.7 1291.5L659.7 1290L662.7 1288.5L665.7 1287L668.7 1285.5L671.7 1284.3L674.7 1283.1L677.7 1281.9L680.7 1280.9L683.7 1279.9L686.7 1278.9L689.7 1278L692.7 1277.1L695.7 1276.4L698.7 1275.9L701.7 1275.7L704.7 1275.6L707.7 1275.7L710.7 1276L713.7 1276.5L716.7 1277L719.7 1277.7L722.7 1279.4L725.7 1281.4L728.7 1283.7L730.2 1284.9L732.5 1284.9L732.5 1303.2L730.2 1303.2L728.7 1302.5L725.7 1301.6L722.7 1301.1L719.7 1300.9L716.7 1300.9L713.7 1300.9L710.7 1300.9L707.7 1301.1L704.7 1301.5L701.7 1302L698.7 1302.7L695.7 1303.4L692.7 1304.3L689.7 1305.3L686.7 1306.3L683.7 1307.3L680.7 1308.3L677.7 1309.4L674.7 1310.5L671.7 1311.7L668.7 1313L665.7 1314.5L662.7 1316L659.7 1317.6L656.7 1319.2L653.7 1320.8L650.7 1322.4L647.7 1323.9L644.7 1325.3L641.7 1326.5L638.7 1327.7L635.7 1328.9L632.7 1329.9L629.7 1330.9L626.7 1331.9L623.7 1332.8L620.7 1333.7L617.7 1334.4L614.7 1335.1L611.7 1335.8L608.7 1336.4L605.7 1337L602.7 1337.5L599.7 1338L596.7 1338.5L593.7 1338.9L590.7 1339.2L587.7 1339.4L584.7 1339.6L581.7 1339.7L578.7 1339.8L578 1339.8L575.7 1339.8L572.7 1339.7L569.7 1339.5L566.7 1339.3L563.7 1339.1L560.7 1338.7L557.7 1338.3L554.7 1337.8L551.7 1337.2L548.7 1336.7L545.7 1336.1L542.7 1335.5L539.7 1334.8L536.7 1334L533.7 1333.2L530.7 1332.3L527.7 1331.4L524.7 1330.4L521.7 1329.4L518.7 1328.3L515.7 1327.1L512.7 1325.9L509.7 1324.6L506.7 1323.1L503.7 1321.5L500.7 1319.9L497.7 1318.3L494.7 1316.8L491.7 1315.2L488.7 1313.7L485.7 1312.3L482.7 1311.1L479.7 1309.9L476.7 1308.8L473.7 1307.8L470.7 1306.8L467.7 1305.8L464.7 1304.7L461.7 1303.8L458.7 1303L455.7 1302.3L452.7 1301.7L449.7 1301.3L446.7 1301L443.7 1300.9L440.7 1300.9L437.7 1300.9L434.7 1300.9L431.7 1301.3L428.7 1302L425.7 1303.2L422.7 1304.9L419.7 1307.1L419.4 1307.3L416.7 1305.3L413.7 1303.5L410.7 1302.2L407.7 1301.5L404.7 1301L401.7 1300.9L398.7 1300.9L395.7 1300.9L392.7 1301L389.7 1301.2L386.7 1301.6L383.7 1302.2L380.7 1302.9L377.7 1303.6L374.7 1304.5L371.7 1305.6L368.7 1306.6L365.7 1307.6L362.7 1308.6L359.7 1309.7L356.7 1310.9L353.7 1312.1L350.7 1313.4L347.7 1314.9L344.7 1316.5L341.7 1318L338.7 1319.6L335.7 1321.2L332.7 1322.9L329.7 1324.3L326.7 1325.7L323.7 1326.9L320.7 1328.1L317.7 1329.2L314.7 1330.2L311.7 1331.2L308.7 1332.2L305.7 1333.1L302.7 1333.9L299.7 1334.7L296.7 1335.3L293.7 1336L290.7 1336.6L287.7 1337.1L284.7 1337.7L281.7 1338.2L278.7 1338.6L275.7 1339L272.7 1339.3L269.7 1339.5L266.7 1339.6L263.7 1339.8L260.9 1339.8L260.7 1339.8L257.7 1339.7L254.7 1339.6L251.7 1339.4L248.7 1339.2L245.7 1339L242.7 1338.6L239.7 1338.1L236.7 1337.6L233.7 1337.1L230.7 1336.5L227.7 1335.9L224.7 1335.3L221.7 1334.6L218.7 1333.8L215.7 1333L212.7 1332.1L209.7 1331.1L206.7 1330.1L203.7 1329.1L200.7 1327.9L197.7 1326.7L194.7 1325.5L191.7 1324.2L188.7 1322.7L185.7 1321L182.7 1319.4L179.7 1317.8L176.7 1316.3L173.7 1314.7L170.7 1313.3L167.7 1311.9L164.7 1310.7L161.7 1309.6L158.7 1308.5L155.7 1307.5L152.7 1306.5L149.7 1305.5L146.7 1304.4L143.7 1303.5L140.7 1302.8L137.7 1302.1L134.7 1301.6L131.7 1301.1L128.7 1300.9L125.7 1300.9L122.7 1300.9L119.7 1300.9L116.7 1301L113.7 1301.5L110.7 1302.3L107.7 1303.7L104.7 1305.5L102.3 1307.3L101.7 1306.8L98.7 1304.7L95.7 1303L92.7 1301.9L90.4 1301.9Z" fill="#54ffab"/>
<path d="M90.4 1282.7L92.7 1282.7L95.7 1285.1L98.7 1287.5L101.7 1290.3L102.3 1291L104.7 1288.6L107.7 1286.1L110.7 1283.7L113.7 1281.5L116.7 1279.6L119.7 1278.1L122.7 1277.5L125.7 1277L128.7 1276.5L131.7 1276.3L134.7 1276.3L137.7 1276.4L140.7 1276.6L143.7 1277.2L146.7 1278L149.7 1278.8L152.7 1279.8L155.7 1280.8L158.7 1281.8L161.7 1282.8L164.7 1284L167.7 1285.2L170.7 1286.5L173.7 1287.9L176.7 1289.5L179.7 1291L182.7 1292.5L185.7 1293.9L188.7 1295.4L191.7 1296.8L194.7 1298.2L197.7 1299.4L200.7 1300.6L203.7 1301.7L206.7 1302.8L209.7 1303.8L212.7 1304.8L215.7 1305.7L218.7 1306.5L221.7 1307.3L224.7 1308L227.7 1308.6L230.7 1309.2L233.7 1309.8L236.7 1310.3L239.7 1310.8L242.7 1311.3L245.7 1311.7L248.7 1311.9L251.7 1312.1L254.7 1312.3L257.7 1312.4L260.7 1312.5L260.9 1312.5L263.7 1312.4L266.7 1312.3L269.7 1312.1L272.7 1311.9L275.7 1311.7L278.7 1311.3L281.7 1310.9L284.7 1310.4L287.7 1309.8L290.7 1309.3L293.7 1308.7L296.7 1308L299.7 1307.3L302.7 1306.6L305.7 1305.8L308.7 1304.9L311.7 1303.9L314.7 1302.9L317.7 1301.9L320.7 1300.8L323.7 1299.6L326.7 1298.3L329.7 1297L332.7 1295.6L335.7 1294.1L338.7 1292.6L341.7 1291.2L344.7 1289.6L347.7 1288.1L350.7 1286.6L353.7 1285.3L356.7 1284.1L359.7 1283L362.7 1281.9L365.7 1280.9L368.7 1279.9L371.7 1279L374.7 1278.1L377.7 1277.3L380.7 1276.7L383.7 1276.4L386.7 1276.3L389.7 1276.3L392.7 1276.5L395.7 1276.9L398.7 1277.4L401.7 1277.9L404.7 1279.4L407.7 1281.3L410.7 1283.4L413.7 1285.8L416.7 1288.3L419.4 1291L419.7 1290.7L422.7 1287.8L425.7 1285.4L428.7 1283L431.7 1280.9L434.7 1279.1L437.7 1277.8L440.7 1277.3L443.7 1276.9L446.7 1276.4L449.7 1276.3L452.7 1276.3L455.7 1276.4L458.7 1276.8L461.7 1277.4L464.7 1278.2L467.7 1279.1L470.7 1280.1L473.7 1281.1L476.7 1282.1L479.7 1283.2L482.7 1284.3L485.7 1285.5L488.7 1286.9L491.7 1288.4L494.7 1289.9L497.7 1291.4L500.7 1292.9L503.7 1294.4L506.7 1295.9L509.7 1297.3L512.7 1298.6L515.7 1299.8L518.7 1301L521.7 1302.1L524.7 1303.1L527.7 1304.1L530.7 1305L533.7 1305.9L536.7 1306.7L539.7 1307.5L542.7 1308.2L545.7 1308.8L548.7 1309.4L551.7 1309.9L554.7 1310.4L557.7 1311L560.7 1311.4L563.7 1311.7L566.7 1312L569.7 1312.2L572.7 1312.3L575.7 1312.5L578 1312.5L578.7 1312.5L581.7 1312.4L584.7 1312.3L587.7 1312.1L590.7 1311.9L593.7 1311.6L596.7 1311.2L599.7 1310.7L602.7 1310.2L605.7 1309.7L608.7 1309.1L611.7 1308.5L614.7 1307.8L617.7 1307.1L620.7 1306.3L623.7 1305.5L626.7 1304.6L629.7 1303.6L632.7 1302.6L635.7 1301.6L638.7 1300.4L641.7 1299.2L644.7 1298L647.7 1296.6L650.7 1295.2L653.7 1293.7L656.7 1292.2L659.7 1290.7L662.7 1289.2L665.7 1287.7L668.7 1286.2L671.7 1284.9L674.7 1283.7L677.7 1282.6L680.7 1281.6L683.7 1280.6L686.7 1279.6L689.7 1278.7L692.7 1277.8L695.7 1277.1L698.7 1276.5L701.7 1276.4L704.7 1276.3L707.7 1276.3L710.7 1276.6L713.7 1277.1L716.7 1277.6L719.7 1278.3L722.7 1279.9L725.7 1281.9L728.7 1284.1L730.2 1285.3L732.5 1285.3L732.5 1302.4L730.2 1302.4L728.7 1301.7L725.7 1300.8L722.7 1300.2L719.7 1300L716.7 1300L713.7 1300L710.7 1300L707.7 1300.2L704.7 1300.5L701.7 1301.1L698.7 1301.7L695.7 1302.4L692.7 1303.3L689.7 1304.3L686.7 1305.3L683.7 1306.3L680.7 1307.3L677.7 1308.3L674.7 1309.5L671.7 1310.7L668.7 1312L665.7 1313.4L662.7 1315L659.7 1316.5L656.7 1318.1L653.7 1319.7L650.7 1321.3L647.7 1322.8L644.7 1324.2L641.7 1325.4L638.7 1326.6L635.7 1327.8L632.7 1328.8L629.7 1329.8L626.7 1330.8L623.7 1331.7L620.7 1332.6L617.7 1333.3L614.7 1334.1L611.7 1334.7L608.7 1335.3L605.7 1335.9L602.7 1336.4L599.7 1336.9L596.7 1337.4L593.7 1337.8L590.7 1338.1L587.7 1338.3L584.7 1338.5L581.7 1338.6L578.7 1338.7L578 1338.7L575.7 1338.7L572.7 1338.6L569.7 1338.4L566.7 1338.2L563.7 1338L560.7 1337.6L557.7 1337.2L554.7 1336.7L551.7 1336.1L548.7 1335.6L545.7 1335L542.7 1334.4L539.7 1333.7L536.7 1332.9L533.7 1332.1L530.7 1331.3L527.7 1330.3L524.7 1329.3L521.7 1328.3L518.7 1327.2L515.7 1326L512.7 1324.8L509.7 1323.5L506.7 1322L503.7 1320.5L500.7 1318.9L497.7 1317.3L494.7 1315.7L491.7 1314.2L488.7 1312.7L485.7 1311.3L482.7 1310L479.7 1308.9L476.7 1307.8L473.7 1306.7L470.7 1305.8L467.7 1304.8L464.7 1303.7L461.7 1302.8L458.7 1302L455.7 1301.4L452.7 1300.8L449.7 1300.3L446.7 1300.1L443.7 1300L440.7 1300L437.7 1300L434.7 1300.1L431.7 1300.5L428.7 1301.2L425.7 1302.4L422.7 1304.2L419.7 1306.4L419.4 1306.6L416.7 1304.5L413.7 1302.7L410.7 1301.3L407.7 1300.6L404.7 1300.1L401.7 1300L398.7 1300L395.7 1300L392.7 1300L389.7 1300.3L386.7 1300.7L383.7 1301.3L380.7 1301.9L377.7 1302.6L374.7 1303.6L371.7 1304.6L368.7 1305.6L365.7 1306.6L362.7 1307.6L359.7 1308.7L356.7 1309.8L353.7 1311.1L350.7 1312.4L347.7 1313.9L344.7 1315.4L341.7 1317L338.7 1318.6L335.7 1320.2L332.7 1321.8L329.7 1323.2L326.7 1324.6L323.7 1325.8L320.7 1327L317.7 1328.1L314.7 1329.2L311.7 1330.1L308.7 1331.1L305.7 1332L302.7 1332.8L299.7 1333.6L296.7 1334.3L293.7 1334.9L290.7 1335.5L287.7 1336L284.7 1336.6L281.7 1337.1L278.7 1337.6L275.7 1337.9L272.7 1338.2L269.7 1338.4L266.7 1338.5L263.7 1338.7L260.9 1338.7L260.7 1338.7L257.7 1338.7L254.7 1338.5L251.7 1338.3L248.7 1338.1L245.7 1337.9L242.7 1337.5L239.7 1337L236.7 1336.5L233.7 1336L230.7 1335.4L227.7 1334.8L224.7 1334.2L221.7 1333.5L218.7 1332.7L215.7 1331.9L212.7 1331L209.7 1330L206.7 1329L203.7 1328L200.7 1326.8L197.7 1325.7L194.7 1324.4L191.7 1323.1L188.7 1321.6L185.7 1320L182.7 1318.4L179.7 1316.8L176.7 1315.2L173.7 1313.7L170.7 1312.2L167.7 1310.9L164.7 1309.7L161.7 1308.5L158.7 1307.5L155.7 1306.4L152.7 1305.5L149.7 1304.5L146.7 1303.4L143.7 1302.5L140.7 1301.8L137.7 1301.2L134.7 1300.6L131.7 1300.2L128.7 1300L125.7 1300L122.7 1300L119.7 1300L116.7 1300.2L113.7 1300.7L110.7 1301.4L107.7 1302.9L104.7 1304.8L102.3 1306.6L101.7 1306.1L98.7 1303.9L95.7 1302.2L92.7 1301.1L90.4 1301.1Z" fill="#80ff80"/>
<path d="M90.4 1283.2L92.7 1283.2L95.7 1285.5L98.7 1287.9L101.7 1290.7L102.3 1291.4L104.7 1289L107.7 1286.5L110.7 1284.1L113.7 1282L116.7 1280.2L119.7 1278.6L122.7 1278.1L125.7 1277.6L128.7 1277.2L131.7 1276.9L134.7 1276.9L137.7 1277.1L140.7 1277.3L143.7 1277.9L146.7 1278.7L149.7 1279.5L152.7 1280.5L155.7 1281.4L158.7 1282.4L161.7 1283.5L164.7 1284.6L167.7 1285.8L170.7 1287.2L173.7 1288.6L176.7 1290.1L179.7 1291.7L182.7 1293.1L185.7 1294.6L188.7 1296.1L191.7 1297.5L194.7 1298.9L197.7 1300.1L200.7 1301.3L203.7 1302.4L206.7 1303.5L209.7 1304.5L212.7 1305.4L215.7 1306.3L218.7 1307.2L221.7 1307.9L224.7 1308.6L227.7 1309.3L230.7 1309.9L233.7 1310.4L236.7 1311L239.7 1311.5L242.7 1312L245.7 1312.3L248.7 1312.6L251.7 1312.8L254.7 1313L257.7 1313.1L260.7 1313.2L260.9 1313.2L263.7 1313.1L266.7 1313L269.7 1312.8L272.7 1312.6L275.7 1312.4L278.7 1312L281.7 1311.6L284.7 1311L287.7 1310.5L290.7 1310L293.7 1309.4L296.7 1308.7L299.7 1308L302.7 1307.3L305.7 1306.4L308.7 1305.6L311.7 1304.6L314.7 1303.6L317.7 1302.6L320.7 1301.5L323.7 1300.3L326.7 1299L329.7 1297.7L332.7 1296.3L335.7 1294.8L338.7 1293.3L341.7 1291.9L344.7 1290.3L347.7 1288.8L350.7 1287.3L353.7 1286L356.7 1284.8L359.7 1283.6L362.7 1282.6L365.7 1281.6L368.7 1280.6L371.7 1279.6L374.7 1278.8L377.7 1278L380.7 1277.4L383.7 1277.1L386.7 1276.9L389.7 1276.9L392.7 1277.1L395.7 1277.6L398.7 1278L401.7 1278.5L404.7 1279.9L407.7 1281.8L410.7 1283.8L413.7 1286.2L416.7 1288.7L419.4 1291.4L419.7 1291.1L422.7 1288.2L425.7 1285.8L428.7 1283.5L431.7 1281.4L434.7 1279.7L437.7 1278.4L440.7 1277.9L443.7 1277.5L446.7 1277.1L449.7 1276.9L452.7 1277L455.7 1277.1L458.7 1277.5L461.7 1278.1L464.7 1278.9L467.7 1279.8L470.7 1280.8L473.7 1281.7L476.7 1282.8L479.7 1283.8L482.7 1285L485.7 1286.2L488.7 1287.6L491.7 1289.1L494.7 1290.6L497.7 1292.1L500.7 1293.6L503.7 1295.1L506.7 1296.5L509.7 1298L512.7 1299.3L515.7 1300.5L518.7 1301.7L521.7 1302.8L524.7 1303.8L527.7 1304.8L530.7 1305.7L533.7 1306.6L536.7 1307.4L539.7 1308.2L542.7 1308.8L545.7 1309.5L548.7 1310.1L551.7 1310.6L554.7 1311.1L557.7 1311.6L560.7 1312.1L563.7 1312.4L566.7 1312.7L569.7 1312.9L572.7 1313L575.7 1313.1L578 1313.2L578.7 1313.2L581.7 1313.1L584.7 1313L587.7 1312.8L590.7 1312.6L593.7 1312.3L596.7 1311.9L599.7 1311.4L602.7 1310.9L605.7 1310.4L608.7 1309.8L611.7 1309.2L614.7 1308.5L617.7 1307.8L620.7 1307L623.7 1306.2L626.7 1305.3L629.7 1304.3L632.7 1303.3L635.7 1302.2L638.7 1301.1L641.7 1299.9L644.7 1298.6L647.7 1297.3L650.7 1295.8L653.7 1294.4L656.7 1292.9L659.7 1291.4L662.7 1289.9L665.7 1288.3L668.7 1286.9L671.7 1285.6L674.7 1284.4L677.7 1283.3L680.7 1282.3L683.7 1281.3L686.7 1280.3L689.7 1279.4L692.7 1278.5L695.7 1277.8L698.7 1277.2L701.7 1277L704.7 1276.9L707.7 1277L710.7 1277.3L713.7 1277.7L716.7 1278.2L719.7 1278.9L722.7 1280.5L725.7 1282.4L728.7 1284.6L730.2 1285.8L732.5 1285.8L732.5 1301.7L730.2 1301.7L728.7 1300.9L725.7 1300L722.7 1299.5L719.7 1299.2L716.7 1299.2L713.7 1299.2L710.7 1299.2L707.7 1299.3L704.7 1299.7L701.7 1300.2L698.7 1300.9L695.7 1301.5L692.7 1302.4L689.7 1303.4L686.7 1304.4L683.7 1305.4L680.7 1306.4L677.7 1307.4L674.7 1308.6L671.7 1309.8L668.7 1311.1L665.7 1312.5L662.7 1314L659.7 1315.6L656.7 1317.2L653.7 1318.7L650.7 1320.3L647.7 1321.8L644.7 1323.2L641.7 1324.5L638.7 1325.7L635.7 1326.8L632.7 1327.9L629.7 1328.9L626.7 1329.8L623.7 1330.7L620.7 1331.6L617.7 1332.4L614.7 1333.1L611.7 1333.7L608.7 1334.3L605.7 1334.9L602.7 1335.4L599.7 1336L596.7 1336.4L593.7 1336.8L590.7 1337.1L587.7 1337.3L584.7 1337.5L581.7 1337.7L578.7 1337.7L578 1337.7L575.7 1337.7L572.7 1337.6L569.7 1337.4L566.7 1337.2L563.7 1337L560.7 1336.6L557.7 1336.2L554.7 1335.7L551.7 1335.2L548.7 1334.6L545.7 1334L542.7 1333.4L539.7 1332.7L536.7 1332L533.7 1331.2L530.7 1330.3L527.7 1329.3L524.7 1328.4L521.7 1327.3L518.7 1326.2L515.7 1325L512.7 1323.8L509.7 1322.5L506.7 1321.1L503.7 1319.5L500.7 1317.9L497.7 1316.3L494.7 1314.8L491.7 1313.2L488.7 1311.7L485.7 1310.4L482.7 1309.1L479.7 1308L476.7 1306.9L473.7 1305.8L470.7 1304.8L467.7 1303.9L464.7 1302.8L461.7 1301.9L458.7 1301.2L455.7 1300.5L452.7 1300L449.7 1299.5L446.7 1299.2L443.7 1299.2L440.7 1299.2L437.7 1299.2L434.7 1299.3L431.7 1299.7L428.7 1300.4L425.7 1301.7L422.7 1303.5L419.7 1305.7L419.4 1305.9L416.7 1303.9L413.7 1302L410.7 1300.6L407.7 1299.8L404.7 1299.3L401.7 1299.2L398.7 1299.2L395.7 1299.2L392.7 1299.2L389.7 1299.4L386.7 1299.9L383.7 1300.4L380.7 1301.1L377.7 1301.8L374.7 1302.7L371.7 1303.7L368.7 1304.7L365.7 1305.7L362.7 1306.7L359.7 1307.8L356.7 1308.9L353.7 1310.1L350.7 1311.5L347.7 1313L344.7 1314.5L341.7 1316.1L338.7 1317.6L335.7 1319.2L332.7 1320.8L329.7 1322.3L326.7 1323.6L323.7 1324.8L320.7 1326L317.7 1327.1L314.7 1328.2L311.7 1329.2L308.7 1330.1L305.7 1331L302.7 1331.8L299.7 1332.6L296.7 1333.3L293.7 1333.9L290.7 1334.5L287.7 1335.1L284.7 1335.6L281.7 1336.1L278.7 1336.6L275.7 1336.9L272.7 1337.2L269.7 1337.4L266.7 1337.6L263.7 1337.7L260.9 1337.7L260.7 1337.7L257.7 1337.7L254.7 1337.5L251.7 1337.4L248.7 1337.2L245.7 1336.9L242.7 1336.5L239.7 1336.1L236.7 1335.5L233.7 1335L230.7 1334.5L227.7 1333.8L224.7 1333.2L221.7 1332.5L218.7 1331.7L215.7 1330.9L212.7 1330L209.7 1329L206.7 1328.1L203.7 1327L200.7 1325.9L197.7 1324.7L194.7 1323.4L191.7 1322.1L188.7 1320.6L185.7 1319L182.7 1317.4L179.7 1315.9L176.7 1314.3L173.7 1312.8L170.7 1311.3L167.7 1310L164.7 1308.8L161.7 1307.6L158.7 1306.5L155.7 1305.5L152.7 1304.6L149.7 1303.5L146.7 1302.6L143.7 1301.7L140.7 1301L137.7 1300.4L134.7 1299.8L131.7 1299.4L128.7 1299.2L125.7 1299.2L122.7 1299.2L119.7 1299.2L116.7 1299.4L113.7 1299.9L110.7 1300.7L107.7 1302.2L104.7 1304.1L102.3 1305.9L101.7 1305.4L98.7 1303.3L95.7 1301.5L92.7 1300.3L90.4 1300.3Z" fill="#abff54"/>
<path d="M90.4 1283.7L92.7 1283.7L95.7 1285.9L98.7 1288.3L101.7 1291.1L102.3 1291.8L104.7 1289.5L107.7 1286.9L110.7 1284.6L113.7 1282.5L116.7 1280.7L119.7 1279.2L122.7 1278.7L125.7 1278.2L128.7 1277.8L131.7 1277.6L134.7 1277.6L137.7 1277.7L140.7 1278L143.7 1278.6L146.7 1279.3L149.7 1280.2L152.7 1281.2L155.7 1282.1L158.7 1283.1L161.7 1284.2L164.7 1285.3L167.7 1286.5L170.7 1287.8L173.7 1289.3L176.7 1290.8L179.7 1292.4L182.7 1293.8L185.7 1295.3L188.7 1296.8L191.7 1298.2L194.7 1299.6L197.7 1300.8L200.7 1302L203.7 1303.1L206.7 1304.2L209.7 1305.2L212.7 1306.1L215.7 1307L218.7 1307.9L221.7 1308.6L224.7 1309.3L227.7 1310L230.7 1310.6L233.7 1311.1L236.7 1311.7L239.7 1312.2L242.7 1312.7L245.7 1313L248.7 1313.3L251.7 1313.5L254.7 1313.7L257.7 1313.8L260.7 1313.9L260.9 1313.9L263.7 1313.8L266.7 1313.7L269.7 1313.5L272.7 1313.3L275.7 1313.1L278.7 1312.7L281.7 1312.2L284.7 1311.7L287.7 1311.2L290.7 1310.7L293.7 1310.1L296.7 1309.4L299.7 1308.7L302.7 1308L305.7 1307.1L308.7 1306.2L311.7 1305.3L314.7 1304.3L317.7 1303.3L320.7 1302.1L323.7 1301L326.7 1299.7L329.7 1298.4L332.7 1297L335.7 1295.5L338.7 1294L341.7 1292.5L344.7 1291L347.7 1289.5L350.7 1288L353.7 1286.7L356.7 1285.5L359.7 1284.3L362.7 1283.3L365.7 1282.3L368.7 1281.3L371.7 1280.3L374.7 1279.4L377.7 1278.7L380.7 1278.1L383.7 1277.8L386.7 1277.6L389.7 1277.6L392.7 1277.8L395.7 1278.2L398.7 1278.6L401.7 1279.1L404.7 1280.5L407.7 1282.3L410.7 1284.3L413.7 1286.6L416.7 1289.1L419.4 1291.8L419.7 1291.5L422.7 1288.6L425.7 1286.2L428.7 1283.9L431.7 1281.9L434.7 1280.2L437.7 1279L440.7 1278.5L443.7 1278.1L446.7 1277.7L449.7 1277.6L452.7 1277.6L455.7 1277.8L458.7 1278.2L461.7 1278.8L464.7 1279.6L467.7 1280.5L470.7 1281.5L473.7 1282.4L476.7 1283.4L479.7 1284.5L482.7 1285.7L485.7 1286.9L488.7 1288.3L491.7 1289.8L494.7 1291.3L497.7 1292.8L500.7 1294.3L503.7 1295.8L506.7 1297.2L509.7 1298.6L512.7 1299.9L515.7 1301.2L518.7 1302.3L521.7 1303.4L524.7 1304.5L527.7 1305.5L530.7 1306.4L533.7 1307.3L536.7 1308.1L539.7 1308.8L542.7 1309.5L545.7 1310.2L548.7 1310.8L551.7 1311.3L554.7 1311.8L557.7 1312.3L560.7 1312.8L563.7 1313.1L566.7 1313.4L569.7 1313.6L572.7 1313.7L575.7 1313.8L578 1313.9L578.7 1313.9L581.7 1313.8L584.7 1313.7L587.7 1313.5L590.7 1313.2L593.7 1313L596.7 1312.6L599.7 1312.1L602.7 1311.6L605.7 1311L608.7 1310.5L611.7 1309.9L614.7 1309.2L617.7 1308.5L620.7 1307.7L623.7 1306.9L626.7 1306L629.7 1305L632.7 1304L635.7 1302.9L638.7 1301.8L641.7 1300.6L644.7 1299.3L647.7 1298L650.7 1296.5L653.7 1295.1L656.7 1293.6L659.7 1292.1L662.7 1290.6L665.7 1289L668.7 1287.6L671.7 1286.3L674.7 1285.1L677.7 1284L680.7 1283L683.7 1282L686.7 1281L689.7 1280.1L692.7 1279.2L695.7 1278.5L698.7 1277.9L701.7 1277.7L704.7 1277.6L707.7 1277.6L710.7 1277.9L713.7 1278.3L716.7 1278.8L719.7 1279.4L722.7 1281L725.7 1282.9L728.7 1285L730.2 1286.2L732.5 1286.2L732.5 1301L730.2 1301L728.7 1300.2L725.7 1299.3L722.7 1298.7L719.7 1298.4L716.7 1298.4L713.7 1298.4L710.7 1298.4L707.7 1298.5L704.7 1298.9L701.7 1299.4L698.7 1300L695.7 1300.7L692.7 1301.5L689.7 1302.5L686.7 1303.5L683.7 1304.4L680.7 1305.4L677.7 1306.5L674.7 1307.6L671.7 1308.9L668.7 1310.1L665.7 1311.6L662.7 1313.1L659.7 1314.7L656.7 1316.2L653.7 1317.8L650.7 1319.4L647.7 1320.9L644.7 1322.2L641.7 1323.5L638.7 1324.7L635.7 1325.8L632.7 1326.9L629.7 1327.9L626.7 1328.9L623.7 1329.8L620.7 1330.6L617.7 1331.4L614.7 1332.1L611.7 1332.8L608.7 1333.4L605.7 1333.9L602.7 1334.5L599.7 1335L596.7 1335.5L593.7 1335.9L590.7 1336.1L587.7 1336.4L584.7 1336.5L581.7 1336.7L578.7 1336.8L578 1336.8L575.7 1336.7L572.7 1336.6L569.7 1336.5L566.7 1336.2L563.7 1336L560.7 1335.7L557.7 1335.2L554.7 1334.7L551.7 1334.2L548.7 1333.7L545.7 1333.1L542.7 1332.4L539.7 1331.7L536.7 1331L533.7 1330.2L530.7 1329.3L527.7 1328.4L524.7 1327.4L521.7 1326.3L518.7 1325.2L515.7 1324.1L512.7 1322.8L509.7 1321.5L506.7 1320.1L503.7 1318.5L500.7 1317L497.7 1315.4L494.7 1313.9L491.7 1312.3L488.7 1310.8L485.7 1309.5L482.7 1308.2L479.7 1307L476.7 1306L473.7 1304.9L470.7 1303.9L467.7 1303L464.7 1302L461.7 1301.1L458.7 1300.3L455.7 1299.7L452.7 1299.1L449.7 1298.7L446.7 1298.4L443.7 1298.4L440.7 1298.4L437.7 1298.4L434.7 1298.5L431.7 1299L428.7 1299.7L425.7 1301L422.7 1302.8L419.7 1305.1L419.4 1305.3L416.7 1303.2L413.7 1301.3L410.7 1299.8L407.7 1299.1L404.7 1298.5L401.7 1298.4L398.7 1298.4L395.7 1298.4L392.7 1298.4L389.7 1298.6L386.7 1299L383.7 1299.6L380.7 1300.2L377.7 1300.9L374.7 1301.8L371.7 1302.8L368.7 1303.8L365.7 1304.7L362.7 1305.8L359.7 1306.8L356.7 1308L353.7 1309.2L350.7 1310.6L347.7 1312.1L344.7 1313.6L341.7 1315.1L338.7 1316.7L335.7 1318.3L332.7 1319.8L329.7 1321.3L326.7 1322.6L323.7 1323.9L320.7 1325L317.7 1326.2L314.7 1327.2L311.7 1328.2L308.7 1329.1L305.7 1330L302.7 1330.9L299.7 1331.6L296.7 1332.3L293.7 1333L290.7 1333.5L287.7 1334.1L284.7 1334.6L281.7 1335.1L278.7 1335.6L275.7 1336L272.7 1336.2L269.7 1336.4L266.7 1336.6L263.7 1336.7L260.9 1336.8L260.7 1336.8L257.7 1336.7L254.7 1336.6L251.7 1336.4L248.7 1336.2L245.7 1335.9L242.7 1335.5L239.7 1335.1L236.7 1334.6L233.7 1334L230.7 1333.5L227.7 1332.9L224.7 1332.2L221.7 1331.5L218.7 1330.8L215.7 1329.9L212.7 1329L209.7 1328.1L206.7 1327.1L203.7 1326L200.7 1324.9L197.7 1323.7L194.7 1322.5L191.7 1321.1L188.7 1319.6L185.7 1318.1L182.7 1316.5L179.7 1314.9L176.7 1313.4L173.7 1311.9L170.7 1310.4L167.7 1309.1L164.7 1307.9L161.7 1306.7L158.7 1305.6L155.7 1304.6L152.7 1303.6L149.7 1302.6L146.7 1301.7L143.7 1300.8L140.7 1300.1L137.7 1299.5L134.7 1299L131.7 1298.6L128.7 1298.4L125.7 1298.4L122.7 1298.4L119.7 1298.4L116.7 1298.6L113.7 1299.2L110.7 1300L107.7 1301.5L104.7 1303.5L102.3 1305.3L101.7 1304.8L98.7 1302.6L95.7 1300.8L92.7 1299.6L90.4 1299.6Z" fill="#d6ff29"/>
<path d="M90.4 1284.1L92.7 1284.1L95.7 1286.4L98.7 1288.7L101.7 1291.5L102.3 1292.2L104.7 1289.9L107.7 1287.4L110.7 1285L113.7 1283L116.7 1281.2L119.7 1279.8L122.7 1279.3L125.7 1278.9L128.7 1278.5L131.7 1278.2L134.7 1278.3L137.7 1278.4L140.7 1278.7L143.7 1279.3L146.7 1280.1L149.7 1280.9L152.7 1281.9L155.7 1282.8L158.7 1283.8L161.7 1284.9L164.7 1286L167.7 1287.2L170.7 1288.6L173.7 1290L176.7 1291.5L179.7 1293.1L182.7 1294.5L185.7 1296L188.7 1297.5L191.7 1298.9L194.7 1300.3L197.7 1301.5L200.7 1302.7L203.7 1303.8L206.7 1304.9L209.7 1305.9L212.7 1306.8L215.7 1307.7L218.7 1308.6L221.7 1309.3L224.7 1310L227.7 1310.7L230.7 1311.3L233.7 1311.8L236.7 1312.4L239.7 1312.9L242.7 1313.4L245.7 1313.7L248.7 1314L251.7 1314.2L254.7 1314.4L257.7 1314.5L260.7 1314.6L260.9 1314.6L263.7 1314.5L266.7 1314.4L269.7 1314.2L272.7 1314L275.7 1313.8L278.7 1313.4L281.7 1313L284.7 1312.4L287.7 1311.9L290.7 1311.4L293.7 1310.8L296.7 1310.1L299.7 1309.4L302.7 1308.7L305.7 1307.8L308.7 1307L311.7 1306L314.7 1305L317.7 1304L320.7 1302.9L323.7 1301.7L326.7 1300.4L329.7 1299.1L332.7 1297.7L335.7 1296.2L338.7 1294.7L341.7 1293.3L344.7 1291.7L347.7 1290.2L350.7 1288.7L353.7 1287.4L356.7 1286.2L359.7 1285L362.7 1284L365.7 1283L368.7 1282L371.7 1281L374.7 1280.2L377.7 1279.4L380.7 1278.8L383.7 1278.5L386.7 1278.3L389.7 1278.2L392.7 1278.4L395.7 1278.8L398.7 1279.2L401.7 1279.7L404.7 1281L407.7 1282.8L410.7 1284.8L413.7 1287.1L416.7 1289.5L419.4 1292.2L419.7 1291.9L422.7 1289.1L425.7 1286.7L428.7 1284.4L431.7 1282.4L434.7 1280.8L437.7 1279.6L440.7 1279.2L443.7 1278.7L446.7 1278.4L449.7 1278.2L452.7 1278.3L455.7 1278.5L458.7 1278.9L461.7 1279.5L464.7 1280.3L467.7 1281.2L470.7 1282.2L473.7 1283.1L476.7 1284.2L479.7 1285.2L482.7 1286.4L485.7 1287.6L488.7 1289L491.7 1290.5L494.7 1292L497.7 1293.5L500.7 1295L503.7 1296.5L506.7 1297.9L509.7 1299.4L512.7 1300.7L515.7 1301.9L518.7 1303.1L521.7 1304.2L524.7 1305.2L527.7 1306.2L530.7 1307.1L533.7 1308L536.7 1308.8L539.7 1309.6L542.7 1310.2L545.7 1310.9L548.7 1311.5L551.7 1312L554.7 1312.5L557.7 1313L560.7 1313.5L563.7 1313.8L566.7 1314.1L569.7 1314.3L572.7 1314.4L575.7 1314.5L578 1314.6L578.7 1314.6L581.7 1314.5L584.7 1314.4L587.7 1314.2L590.7 1314L593.7 1313.7L596.7 1313.3L599.7 1312.8L602.7 1312.3L605.7 1311.8L608.7 1311.2L611.7 1310.6L614.7 1309.9L617.7 1309.2L620.7 1308.4L623.7 1307.6L626.7 1306.7L629.7 1305.7L632.7 1304.7L635.7 1303.6L638.7 1302.5L641.7 1301.3L644.7 1300L647.7 1298.7L650.7 1297.2L653.7 1295.8L656.7 1294.3L659.7 1292.8L662.7 1291.3L665.7 1289.7L668.7 1288.3L671.7 1287L674.7 1285.8L677.7 1284.7L680.7 1283.7L683.7 1282.7L686.7 1281.7L689.7 1280.8L692.7 1279.9L695.7 1279.2L698.7 1278.6L701.7 1278.4L704.7 1278.3L707.7 1278.3L710.7 1278.5L713.7 1278.9L716.7 1279.4L719.7 1280L722.7 1281.5L725.7 1283.4L728.7 1285.5L730.2 1286.6L732.5 1286.6L732.5 1300.4L730.2 1300.4L728.7 1299.6L725.7 1298.7L722.7 1298L719.7 1297.7L716.7 1297.7L713.7 1297.7L710.7 1297.7L707.7 1297.8L704.7 1298.2L701.7 1298.7L698.7 1299.3L695.7 1300L692.7 1300.8L689.7 1301.7L686.7 1302.7L683.7 1303.7L680.7 1304.7L677.7 1305.7L674.7 1306.9L671.7 1308.1L668.7 1309.4L665.7 1310.8L662.7 1312.3L659.7 1313.9L656.7 1315.4L653.7 1317L650.7 1318.5L647.7 1320L644.7 1321.4L641.7 1322.7L638.7 1323.9L635.7 1325L632.7 1326.1L629.7 1327.1L626.7 1328L623.7 1328.9L620.7 1329.8L617.7 1330.6L614.7 1331.3L611.7 1331.9L608.7 1332.6L605.7 1333.1L602.7 1333.6L599.7 1334.2L596.7 1334.6L593.7 1335L590.7 1335.3L587.7 1335.5L584.7 1335.7L581.7 1335.9L578.7 1335.9L578 1335.9L575.7 1335.9L572.7 1335.8L569.7 1335.6L566.7 1335.4L563.7 1335.2L560.7 1334.9L557.7 1334.4L554.7 1333.9L551.7 1333.4L548.7 1332.8L545.7 1332.2L542.7 1331.6L539.7 1330.9L536.7 1330.2L533.7 1329.4L530.7 1328.5L527.7 1327.5L524.7 1326.6L521.7 1325.5L518.7 1324.4L515.7 1323.2L512.7 1322L509.7 1320.7L506.7 1319.3L503.7 1317.7L500.7 1316.2L497.7 1314.6L494.7 1313.1L491.7 1311.5L488.7 1310L485.7 1308.7L482.7 1307.4L479.7 1306.3L476.7 1305.2L473.7 1304.2L470.7 1303.2L467.7 1302.2L464.7 1301.2L461.7 1300.3L458.7 1299.6L455.7 1299L452.7 1298.4L449.7 1298L446.7 1297.7L443.7 1297.7L440.7 1297.7L437.7 1297.7L434.7 1297.8L431.7 1298.3L428.7 1299.1L425.7 1300.4L422.7 1302.3L419.7 1304.5L419.4 1304.8L416.7 1302.6L413.7 1300.7L410.7 1299.2L407.7 1298.4L404.7 1297.9L401.7 1297.7L398.7 1297.7L395.7 1297.7L392.7 1297.7L389.7 1297.9L386.7 1298.3L383.7 1298.9L380.7 1299.5L377.7 1300.2L374.7 1301L371.7 1302L368.7 1303L365.7 1304L362.7 1305L359.7 1306.1L356.7 1307.2L353.7 1308.5L350.7 1309.8L347.7 1311.3L344.7 1312.8L341.7 1314.4L338.7 1315.9L335.7 1317.5L332.7 1319L329.7 1320.5L326.7 1321.8L323.7 1323L320.7 1324.2L317.7 1325.3L314.7 1326.4L311.7 1327.4L308.7 1328.3L305.7 1329.2L302.7 1330L299.7 1330.8L296.7 1331.5L293.7 1332.1L290.7 1332.7L287.7 1333.3L284.7 1333.8L281.7 1334.3L278.7 1334.8L275.7 1335.1L272.7 1335.4L269.7 1335.6L266.7 1335.8L263.7 1335.9L260.9 1335.9L260.7 1335.9L257.7 1335.9L254.7 1335.8L251.7 1335.6L248.7 1335.4L245.7 1335.1L242.7 1334.7L239.7 1334.3L236.7 1333.7L233.7 1333.2L230.7 1332.7L227.7 1332.1L224.7 1331.4L221.7 1330.7L218.7 1329.9L215.7 1329.1L212.7 1328.2L209.7 1327.3L206.7 1326.3L203.7 1325.2L200.7 1324.1L197.7 1322.9L194.7 1321.6L191.7 1320.3L188.7 1318.8L185.7 1317.3L182.7 1315.7L179.7 1314.2L176.7 1312.6L173.7 1311.1L170.7 1309.6L167.7 1308.3L164.7 1307.1L161.7 1305.9L158.7 1304.9L155.7 1303.9L152.7 1302.9L149.7 1301.9L146.7 1300.9L143.7 1300.1L140.7 1299.4L137.7 1298.8L134.7 1298.3L131.7 1297.9L128.7 1297.7L125.7 1297.7L122.7 1297.7L119.7 1297.7L116.7 1297.9L113.7 1298.5L110.7 1299.3L107.7 1300.9L104.7 1302.9L102.3 1304.8L101.7 1304.2L98.7 1302L95.7 1300.2L92.7 1299L90.4 1299Z" fill="#fffd00"/>
<path d="M90.4 1284.7L92.7 1284.7L95.7 1286.9L98.7 1289.2L101.7 1292L102.3 1292.6L104.7 1290.3L107.7 1287.8L110.7 1285.5L113.7 1283.6L116.7 1281.9L119.7 1280.5L122.7 1280L125.7 1279.6L128.7 1279.2L131.7 1279L134.7 1279L137.7 1279.2L140.7 1279.5L143.7 1280.1L146.7 1280.9L149.7 1281.7L152.7 1282.7L155.7 1283.7L158.7 1284.7L161.7 1285.7L164.7 1286.8L167.7 1288.1L170.7 1289.4L173.7 1290.8L176.7 1292.3L179.7 1293.9L182.7 1295.3L185.7 1296.8L188.7 1298.3L191.7 1299.7L194.7 1301.1L197.7 1302.3L200.7 1303.5L203.7 1304.6L206.7 1305.7L209.7 1306.7L212.7 1307.6L215.7 1308.5L218.7 1309.4L221.7 1310.1L224.7 1310.8L227.7 1311.5L230.7 1312.1L233.7 1312.7L236.7 1313.2L239.7 1313.7L242.7 1314.2L245.7 1314.5L248.7 1314.8L251.7 1315L254.7 1315.2L257.7 1315.3L260.7 1315.4L260.9 1315.4L263.7 1315.3L266.7 1315.2L269.7 1315L272.7 1314.8L275.7 1314.6L278.7 1314.2L281.7 1313.8L284.7 1313.2L287.7 1312.7L290.7 1312.2L293.7 1311.6L296.7 1310.9L299.7 1310.2L302.7 1309.5L305.7 1308.7L308.7 1307.8L311.7 1306.8L314.7 1305.8L317.7 1304.8L320.7 1303.7L323.7 1302.5L326.7 1301.2L329.7 1299.9L332.7 1298.5L335.7 1297L338.7 1295.5L341.7 1294.1L344.7 1292.5L347.7 1291L350.7 1289.5L353.7 1288.2L356.7 1287L359.7 1285.9L362.7 1284.8L365.7 1283.8L368.7 1282.8L371.7 1281.9L374.7 1281L377.7 1280.2L380.7 1279.6L383.7 1279.3L386.7 1279.1L389.7 1279L392.7 1279.2L395.7 1279.5L398.7 1279.9L401.7 1280.4L404.7 1281.7L407.7 1283.4L410.7 1285.3L413.7 1287.6L416.7 1290L419.4 1292.6L419.7 1292.4L422.7 1289.5L425.7 1287.1L428.7 1284.9L431.7 1283L434.7 1281.4L437.7 1280.3L440.7 1279.9L443.7 1279.5L446.7 1279.1L449.7 1279L452.7 1279.1L455.7 1279.3L458.7 1279.7L461.7 1280.3L464.7 1281.1L467.7 1282L470.7 1283L473.7 1283.9L476.7 1285L479.7 1286L482.7 1287.2L485.7 1288.4L488.7 1289.8L491.7 1291.3L494.7 1292.8L497.7 1294.3L500.7 1295.8L503.7 1297.3L506.7 1298.7L509.7 1300.2L512.7 1301.5L515.7 1302.7L518.7 1303.9L521.7 1305L524.7 1306L527.7 1307L530.7 1307.9L533.7 1308.8L536.7 1309.6L539.7 1310.4L542.7 1311L545.7 1311.7L548.7 1312.3L551.7 1312.8L554.7 1313.3L557.7 1313.8L560.7 1314.3L563.7 1314.6L566.7 1314.9L569.7 1315.1L572.7 1315.2L575.7 1315.3L578 1315.4L578.7 1315.4L581.7 1315.3L584.7 1315.2L587.7 1315L590.7 1314.8L593.7 1314.5L596.7 1314.1L599.7 1313.6L602.7 1313.1L605.7 1312.6L608.7 1312L611.7 1311.4L614.7 1310.7L617.7 1310L620.7 1309.2L623.7 1308.4L626.7 1307.5L629.7 1306.5L632.7 1305.5L635.7 1304.4L638.7 1303.3L641.7 1302.1L644.7 1300.8L647.7 1299.5L650.7 1298L653.7 1296.6L656.7 1295.1L659.7 1293.6L662.7 1292.1L665.7 1290.6L668.7 1289.1L671.7 1287.8L674.7 1286.6L677.7 1285.5L680.7 1284.5L683.7 1283.5L686.7 1282.5L689.7 1281.6L692.7 1280.7L695.7 1280L698.7 1279.4L701.7 1279.2L704.7 1279L707.7 1279L710.7 1279.3L713.7 1279.7L716.7 1280.1L719.7 1280.7L722.7 1282.1L725.7 1283.9L728.7 1286L730.2 1287.1L732.5 1287.1L732.5 1299.8L730.2 1299.8L728.7 1299L725.7 1298.1L722.7 1297.4L719.7 1297.1L716.7 1297.1L713.7 1297.1L710.7 1297.1L707.7 1297.2L704.7 1297.5L701.7 1298.1L698.7 1298.6L695.7 1299.3L692.7 1300.1L689.7 1301L686.7 1302L683.7 1303L680.7 1304L677.7 1305L674.7 1306.2L671.7 1307.4L668.7 1308.7L665.7 1310.1L662.7 1311.6L659.7 1313.2L656.7 1314.7L653.7 1316.3L650.7 1317.8L647.7 1319.3L644.7 1320.7L641.7 1321.9L638.7 1323.1L635.7 1324.3L632.7 1325.3L629.7 1326.3L626.7 1327.3L623.7 1328.2L620.7 1329.1L617.7 1329.8L614.7 1330.5L611.7 1331.2L608.7 1331.8L605.7 1332.4L602.7 1332.9L599.7 1333.4L596.7 1333.9L593.7 1334.3L590.7 1334.6L587.7 1334.8L584.7 1335L581.7 1335.1L578.7 1335.2L578 1335.2L575.7 1335.2L572.7 1335.1L569.7 1334.9L566.7 1334.7L563.7 1334.5L560.7 1334.1L557.7 1333.7L554.7 1333.1L551.7 1332.6L548.7 1332.1L545.7 1331.5L542.7 1330.9L539.7 1330.2L536.7 1329.4L533.7 1328.6L530.7 1327.7L527.7 1326.8L524.7 1325.8L521.7 1324.8L518.7 1323.7L515.7 1322.5L512.7 1321.3L509.7 1320L506.7 1318.5L503.7 1317L500.7 1315.5L497.7 1313.9L494.7 1312.4L491.7 1310.8L488.7 1309.3L485.7 1308L482.7 1306.7L479.7 1305.6L476.7 1304.5L473.7 1303.5L470.7 1302.5L467.7 1301.5L464.7 1300.5L461.7 1299.7L458.7 1298.9L455.7 1298.3L452.7 1297.8L449.7 1297.3L446.7 1297.1L443.7 1297.1L440.7 1297.1L437.7 1297.1L434.7 1297.2L431.7 1297.7L428.7 1298.5L425.7 1299.8L422.7 1301.7L419.7 1304.1L419.4 1304.3L416.7 1302.1L413.7 1300.2L410.7 1298.7L407.7 1297.9L404.7 1297.3L401.7 1297.1L398.7 1297.1L395.7 1297.1L392.7 1297.1L389.7 1297.3L386.7 1297.7L383.7 1298.2L380.7 1298.8L377.7 1299.5L374.7 1300.4L371.7 1301.3L368.7 1302.3L365.7 1303.3L362.7 1304.3L359.7 1305.4L356.7 1306.5L353.7 1307.8L350.7 1309.1L347.7 1310.6L344.7 1312.1L341.7 1313.6L338.7 1315.2L335.7 1316.7L332.7 1318.3L329.7 1319.7L326.7 1321L323.7 1322.3L320.7 1323.5L317.7 1324.6L314.7 1325.6L311.7 1326.6L308.7 1327.6L305.7 1328.5L302.7 1329.3L299.7 1330L296.7 1330.7L293.7 1331.4L290.7 1332L287.7 1332.5L284.7 1333.1L281.7 1333.6L278.7 1334L275.7 1334.4L272.7 1334.6L269.7 1334.9L266.7 1335L263.7 1335.1L260.9 1335.2L260.7 1335.2L257.7 1335.1L254.7 1335L251.7 1334.8L248.7 1334.6L245.7 1334.4L242.7 1334L239.7 1333.5L236.7 1333L233.7 1332.5L230.7 1331.9L227.7 1331.3L224.7 1330.7L221.7 1330L218.7 1329.2L215.7 1328.4L212.7 1327.5L209.7 1326.5L206.7 1325.5L203.7 1324.4L200.7 1323.3L197.7 1322.1L194.7 1320.9L191.7 1319.6L188.7 1318.1L185.7 1316.5L182.7 1315L179.7 1313.5L176.7 1311.9L173.7 1310.4L170.7 1308.9L167.7 1307.6L164.7 1306.4L161.7 1305.2L158.7 1304.2L155.7 1303.2L152.7 1302.2L149.7 1301.2L146.7 1300.2L143.7 1299.4L140.7 1298.8L137.7 1298.2L134.7 1297.6L131.7 1297.2L128.7 1297.1L125.7 1297.1L122.7 1297.1L119.7 1297.1L116.7 1297.3L113.7 1297.9L110.7 1298.8L107.7 1300.4L104.7 1302.4L102.3 1304.3L101.7 1303.7L98.7 1301.5L95.7 1299.6L92.7 1298.4L90.4 1298.4Z" fill="#ffd200"/>
<path d="M90.4 1285.2L92.7 1285.2L95.7 1287.4L98.7 1289.7L101.7 1292.4L102.3 1293.1L104.7 1290.8L107.7 1288.3L110.7 1286.1L113.7 1284.2L116.7 1282.5L119.7 1281.2L122.7 1280.7L125.7 1280.3L128.7 1279.9L131.7 1279.8L134.7 1279.8L137.7 1280L140.7 1280.3L143.7 1280.9L146.7 1281.7L149.7 1282.5L152.7 1283.5L155.7 1284.5L158.7 1285.5L161.7 1286.5L164.7 1287.7L167.7 1288.9L170.7 1290.2L173.7 1291.6L176.7 1293.1L179.7 1294.7L182.7 1296.2L185.7 1297.6L188.7 1299.1L191.7 1300.5L194.7 1301.9L197.7 1303.1L200.7 1304.3L203.7 1305.4L206.7 1306.5L209.7 1307.5L212.7 1308.5L215.7 1309.4L218.7 1310.2L221.7 1310.9L224.7 1311.6L227.7 1312.3L230.7 1312.9L233.7 1313.5L236.7 1314L239.7 1314.5L242.7 1315L245.7 1315.4L248.7 1315.6L251.7 1315.8L254.7 1316L257.7 1316.1L260.7 1316.2L260.9 1316.2L263.7 1316.1L266.7 1316L269.7 1315.8L272.7 1315.6L275.7 1315.4L278.7 1315L281.7 1314.6L284.7 1314L287.7 1313.5L290.7 1313L293.7 1312.4L296.7 1311.7L299.7 1311L302.7 1310.3L305.7 1309.5L308.7 1308.6L311.7 1307.6L314.7 1306.6L317.7 1305.6L320.7 1304.5L323.7 1303.3L326.7 1302L329.7 1300.7L332.7 1299.3L335.7 1297.8L338.7 1296.3L341.7 1294.9L344.7 1293.3L347.7 1291.8L350.7 1290.3L353.7 1289L356.7 1287.8L359.7 1286.7L362.7 1285.6L365.7 1284.6L368.7 1283.6L371.7 1282.7L374.7 1281.8L377.7 1281L380.7 1280.4L383.7 1280.1L386.7 1279.8L389.7 1279.8L392.7 1279.9L395.7 1280.3L398.7 1280.6L401.7 1281.1L404.7 1282.3L407.7 1283.9L410.7 1285.8L413.7 1288L416.7 1290.5L419.4 1293.1L419.7 1292.8L422.7 1290L425.7 1287.6L428.7 1285.5L431.7 1283.6L434.7 1282L437.7 1281L440.7 1280.6L443.7 1280.2L446.7 1279.9L449.7 1279.8L452.7 1279.9L455.7 1280.1L458.7 1280.5L461.7 1281.1L464.7 1281.9L467.7 1282.8L470.7 1283.8L473.7 1284.8L476.7 1285.8L479.7 1286.9L482.7 1288L485.7 1289.2L488.7 1290.6L491.7 1292.1L494.7 1293.6L497.7 1295.1L500.7 1296.6L503.7 1298.1L506.7 1299.6L509.7 1301L512.7 1302.3L515.7 1303.5L518.7 1304.7L521.7 1305.8L524.7 1306.8L527.7 1307.8L530.7 1308.7L533.7 1309.6L536.7 1310.4L539.7 1311.2L542.7 1311.8L545.7 1312.5L548.7 1313.1L551.7 1313.6L554.7 1314.1L557.7 1314.6L560.7 1315.1L563.7 1315.4L566.7 1315.7L569.7 1315.9L572.7 1316L575.7 1316.2L578 1316.2L578.7 1316.2L581.7 1316.1L584.7 1316L587.7 1315.8L590.7 1315.6L593.7 1315.3L596.7 1314.9L599.7 1314.4L602.7 1313.9L605.7 1313.4L608.7 1312.8L611.7 1312.2L614.7 1311.5L617.7 1310.8L620.7 1310L623.7 1309.2L626.7 1308.3L629.7 1307.3L632.7 1306.3L635.7 1305.2L638.7 1304.1L641.7 1302.9L644.7 1301.7L647.7 1300.3L650.7 1298.9L653.7 1297.4L656.7 1295.9L659.7 1294.4L662.7 1292.9L665.7 1291.4L668.7 1289.9L671.7 1288.6L674.7 1287.4L677.7 1286.3L680.7 1285.3L683.7 1284.3L686.7 1283.3L689.7 1282.4L692.7 1281.5L695.7 1280.8L698.7 1280.2L701.7 1280L704.7 1279.8L707.7 1279.8L710.7 1280L713.7 1280.4L716.7 1280.8L719.7 1281.4L722.7 1282.8L725.7 1284.5L728.7 1286.5L730.2 1287.6L732.5 1287.6L732.5 1299.3L730.2 1299.3L728.7 1298.4L725.7 1297.5L722.7 1296.8L719.7 1296.5L716.7 1296.5L713.7 1296.4L710.7 1296.4L707.7 1296.6L704.7 1296.9L701.7 1297.4L698.7 1298L695.7 1298.6L692.7 1299.4L689.7 1300.3L686.7 1301.3L683.7 1302.3L680.7 1303.3L677.7 1304.3L674.7 1305.5L671.7 1306.7L668.7 1308L665.7 1309.4L662.7 1310.9L659.7 1312.5L656.7 1314L653.7 1315.5L650.7 1317.1L647.7 1318.6L644.7 1319.9L641.7 1321.2L638.7 1322.4L635.7 1323.5L632.7 1324.6L629.7 1325.6L626.7 1326.5L623.7 1327.5L620.7 1328.3L617.7 1329.1L614.7 1329.8L611.7 1330.4L608.7 1331.1L605.7 1331.6L602.7 1332.1L599.7 1332.7L596.7 1333.2L593.7 1333.6L590.7 1333.8L587.7 1334L584.7 1334.2L581.7 1334.4L578.7 1334.4L578 1334.4L575.7 1334.4L572.7 1334.3L569.7 1334.1L566.7 1333.9L563.7 1333.7L560.7 1333.4L557.7 1332.9L554.7 1332.4L551.7 1331.9L548.7 1331.3L545.7 1330.7L542.7 1330.1L539.7 1329.4L536.7 1328.7L533.7 1327.9L530.7 1327L527.7 1326.1L524.7 1325.1L521.7 1324L518.7 1322.9L515.7 1321.8L512.7 1320.5L509.7 1319.2L506.7 1317.8L503.7 1316.3L500.7 1314.7L497.7 1313.2L494.7 1311.7L491.7 1310.1L488.7 1308.6L485.7 1307.3L482.7 1306L479.7 1304.9L476.7 1303.8L473.7 1302.8L470.7 1301.8L467.7 1300.8L464.7 1299.8L461.7 1299L458.7 1298.3L455.7 1297.7L452.7 1297.1L449.7 1296.7L446.7 1296.5L443.7 1296.4L440.7 1296.4L437.7 1296.5L434.7 1296.6L431.7 1297.2L428.7 1297.9L425.7 1299.3L422.7 1301.2L419.7 1303.6L419.4 1303.8L416.7 1301.6L413.7 1299.6L410.7 1298.1L407.7 1297.3L404.7 1296.7L401.7 1296.5L398.7 1296.4L395.7 1296.4L392.7 1296.4L389.7 1296.6L386.7 1297L383.7 1297.6L380.7 1298.2L377.7 1298.8L374.7 1299.7L371.7 1300.6L368.7 1301.6L365.7 1302.6L362.7 1303.6L359.7 1304.7L356.7 1305.8L353.7 1307L350.7 1308.4L347.7 1309.9L344.7 1311.4L341.7 1312.9L338.7 1314.5L335.7 1316L332.7 1317.5L329.7 1319L326.7 1320.3L323.7 1321.5L320.7 1322.7L317.7 1323.8L314.7 1324.9L311.7 1325.9L308.7 1326.8L305.7 1327.7L302.7 1328.5L299.7 1329.3L296.7 1330L293.7 1330.6L290.7 1331.2L287.7 1331.8L284.7 1332.3L281.7 1332.8L278.7 1333.3L275.7 1333.7L272.7 1333.9L269.7 1334.1L266.7 1334.3L263.7 1334.4L260.9 1334.4L260.7 1334.4L257.7 1334.4L254.7 1334.3L251.7 1334.1L248.7 1333.9L245.7 1333.6L242.7 1333.2L239.7 1332.8L236.7 1332.2L233.7 1331.7L230.7 1331.2L227.7 1330.6L224.7 1329.9L221.7 1329.2L218.7 1328.4L215.7 1327.6L212.7 1326.7L209.7 1325.8L206.7 1324.8L203.7 1323.7L200.7 1322.6L197.7 1321.4L194.7 1320.1L191.7 1318.8L188.7 1317.3L185.7 1315.8L182.7 1314.3L179.7 1312.7L176.7 1311.2L173.7 1309.7L170.7 1308.2L167.7 1306.9L164.7 1305.7L161.7 1304.5L158.7 1303.5L155.7 1302.5L152.7 1301.5L149.7 1300.5L146.7 1299.6L143.7 1298.8L140.7 1298.1L137.7 1297.5L134.7 1297L131.7 1296.6L128.7 1296.4L125.7 1296.4L122.7 1296.4L119.7 1296.5L116.7 1296.8L113.7 1297.4L110.7 1298.2L107.7 1299.9L104.7 1301.9L102.3 1303.8L101.7 1303.3L98.7 1301L95.7 1299.1L92.7 1297.8L90.4 1297.8Z" fill="#ffa700"/>
<path d="M90.4 1285.8L92.7 1285.8L95.7 1287.9L98.7 1290.2L101.7 1292.9L102.3 1293.5L104.7 1291.3L107.7 1288.8L110.7 1286.6L113.7 1284.7L116.7 1283.1L119.7 1281.9L122.7 1281.4L125.7 1281L128.7 1280.7L131.7 1280.5L134.7 1280.6L137.7 1280.8L140.7 1281.1L143.7 1281.7L146.7 1282.5L149.7 1283.3L152.7 1284.3L155.7 1285.3L158.7 1286.3L161.7 1287.3L164.7 1288.5L167.7 1289.7L170.7 1291L173.7 1292.4L176.7 1294L179.7 1295.5L182.7 1297L185.7 1298.4L188.7 1299.9L191.7 1301.3L194.7 1302.7L197.7 1303.9L200.7 1305.1L203.7 1306.2L206.7 1307.3L209.7 1308.3L212.7 1309.3L215.7 1310.2L218.7 1311L221.7 1311.8L224.7 1312.5L227.7 1313.1L230.7 1313.7L233.7 1314.3L236.7 1314.8L239.7 1315.3L242.7 1315.8L245.7 1316.2L248.7 1316.4L251.7 1316.6L254.7 1316.8L257.7 1316.9L260.7 1317L260.9 1317L263.7 1316.9L266.7 1316.8L269.7 1316.6L272.7 1316.4L275.7 1316.2L278.7 1315.8L281.7 1315.4L284.7 1314.9L287.7 1314.3L290.7 1313.8L293.7 1313.2L296.7 1312.5L299.7 1311.8L302.7 1311.1L305.7 1310.3L308.7 1309.4L311.7 1308.4L314.7 1307.4L317.7 1306.4L320.7 1305.3L323.7 1304.1L326.7 1302.8L329.7 1301.5L332.7 1300.1L335.7 1298.6L338.7 1297.1L341.7 1295.7L344.7 1294.1L347.7 1292.6L350.7 1291.1L353.7 1289.8L356.7 1288.6L359.7 1287.5L362.7 1286.4L365.7 1285.4L368.7 1284.4L371.7 1283.5L374.7 1282.6L377.7 1281.8L380.7 1281.2L383.7 1280.8L386.7 1280.6L389.7 1280.5L392.7 1280.6L395.7 1281L398.7 1281.4L401.7 1281.7L404.7 1282.9L407.7 1284.5L410.7 1286.3L413.7 1288.5L416.7 1291L419.4 1293.5L419.7 1293.3L422.7 1290.5L425.7 1288.1L428.7 1286L431.7 1284.2L434.7 1282.7L437.7 1281.7L440.7 1281.3L443.7 1280.9L446.7 1280.6L449.7 1280.5L452.7 1280.6L455.7 1280.9L458.7 1281.3L461.7 1281.9L464.7 1282.7L467.7 1283.6L470.7 1284.6L473.7 1285.6L476.7 1286.6L479.7 1287.7L482.7 1288.8L485.7 1290L488.7 1291.4L491.7 1292.9L494.7 1294.4L497.7 1295.9L500.7 1297.4L503.7 1298.9L506.7 1300.4L509.7 1301.8L512.7 1303.1L515.7 1304.3L518.7 1305.5L521.7 1306.6L524.7 1307.6L527.7 1308.6L530.7 1309.5L533.7 1310.4L536.7 1311.2L539.7 1312L542.7 1312.7L545.7 1313.3L548.7 1313.9L551.7 1314.4L554.7 1314.9L557.7 1315.5L560.7 1315.9L563.7 1316.2L566.7 1316.5L569.7 1316.7L572.7 1316.8L575.7 1317L578 1317L578.7 1317L581.7 1316.9L584.7 1316.8L587.7 1316.6L590.7 1316.4L593.7 1316.1L596.7 1315.7L599.7 1315.2L602.7 1314.7L605.7 1314.2L608.7 1313.6L611.7 1313L614.7 1312.3L617.7 1311.6L620.7 1310.8L623.7 1310L626.7 1309.1L629.7 1308.1L632.7 1307.1L635.7 1306.1L638.7 1304.9L641.7 1303.7L644.7 1302.5L647.7 1301.1L650.7 1299.7L653.7 1298.2L656.7 1296.7L659.7 1295.2L662.7 1293.7L665.7 1292.2L668.7 1290.7L671.7 1289.4L674.7 1288.2L677.7 1287.1L680.7 1286.1L683.7 1285.1L686.7 1284.1L689.7 1283.2L692.7 1282.3L695.7 1281.6L698.7 1281L701.7 1280.8L704.7 1280.6L707.7 1280.5L710.7 1280.7L713.7 1281.1L716.7 1281.5L719.7 1282L722.7 1283.4L725.7 1285L728.7 1287L730.2 1288.1L732.5 1288.1L732.5 1298.7L730.2 1298.7L728.7 1297.9L725.7 1296.9L722.7 1296.2L719.7 1295.9L716.7 1295.8L713.7 1295.8L710.7 1295.8L707.7 1295.9L704.7 1296.3L701.7 1296.8L698.7 1297.3L695.7 1298L692.7 1298.7L689.7 1299.7L686.7 1300.6L683.7 1301.6L680.7 1302.6L677.7 1303.6L674.7 1304.8L671.7 1306L668.7 1307.3L665.7 1308.7L662.7 1310.2L659.7 1311.8L656.7 1313.3L653.7 1314.8L650.7 1316.3L647.7 1317.8L644.7 1319.2L641.7 1320.4L638.7 1321.6L635.7 1322.8L632.7 1323.8L629.7 1324.8L626.7 1325.8L623.7 1326.7L620.7 1327.6L617.7 1328.3L614.7 1329L611.7 1329.7L608.7 1330.3L605.7 1330.9L602.7 1331.4L599.7 1331.9L596.7 1332.4L593.7 1332.8L590.7 1333.1L587.7 1333.3L584.7 1333.5L581.7 1333.6L578.7 1333.7L578 1333.7L575.7 1333.7L572.7 1333.6L569.7 1333.4L566.7 1333.2L563.7 1333L560.7 1332.6L557.7 1332.2L554.7 1331.7L551.7 1331.1L548.7 1330.6L545.7 1330L542.7 1329.4L539.7 1328.7L536.7 1327.9L533.7 1327.1L530.7 1326.2L527.7 1325.3L524.7 1324.3L521.7 1323.3L518.7 1322.2L515.7 1321L512.7 1319.8L509.7 1318.5L506.7 1317.1L503.7 1315.5L500.7 1314L497.7 1312.5L494.7 1311L491.7 1309.4L488.7 1307.9L485.7 1306.6L482.7 1305.3L479.7 1304.2L476.7 1303.1L473.7 1302.1L470.7 1301.1L467.7 1300.1L464.7 1299.2L461.7 1298.3L458.7 1297.6L455.7 1297L452.7 1296.5L449.7 1296.1L446.7 1295.8L443.7 1295.8L440.7 1295.8L437.7 1295.9L434.7 1296L431.7 1296.6L428.7 1297.4L425.7 1298.7L422.7 1300.7L419.7 1303.1L419.4 1303.3L416.7 1301.1L413.7 1299.1L410.7 1297.5L407.7 1296.7L404.7 1296.1L401.7 1295.9L398.7 1295.8L395.7 1295.8L392.7 1295.8L389.7 1296L386.7 1296.4L383.7 1296.9L380.7 1297.5L377.7 1298.2L374.7 1299L371.7 1299.9L368.7 1300.9L365.7 1301.9L362.7 1302.9L359.7 1304L356.7 1305.1L353.7 1306.3L350.7 1307.7L347.7 1309.2L344.7 1310.7L341.7 1312.2L338.7 1313.7L335.7 1315.3L332.7 1316.8L329.7 1318.2L326.7 1319.6L323.7 1320.8L320.7 1322L317.7 1323.1L314.7 1324.1L311.7 1325.1L308.7 1326.1L305.7 1327L302.7 1327.8L299.7 1328.6L296.7 1329.2L293.7 1329.9L290.7 1330.5L287.7 1331L284.7 1331.6L281.7 1332.1L278.7 1332.5L275.7 1332.9L272.7 1333.2L269.7 1333.4L266.7 1333.5L263.7 1333.7L260.9 1333.7L260.7 1333.7L257.7 1333.6L254.7 1333.5L251.7 1333.3L248.7 1333.1L245.7 1332.9L242.7 1332.5L239.7 1332L236.7 1331.5L233.7 1331L230.7 1330.4L227.7 1329.8L224.7 1329.2L221.7 1328.5L218.7 1327.7L215.7 1326.9L212.7 1326L209.7 1325L206.7 1324L203.7 1323L200.7 1321.8L197.7 1320.6L194.7 1319.4L191.7 1318.1L188.7 1316.6L185.7 1315.1L182.7 1313.6L179.7 1312L176.7 1310.5L173.7 1309L170.7 1307.5L167.7 1306.2L164.7 1305L161.7 1303.8L158.7 1302.8L155.7 1301.8L152.7 1300.8L149.7 1299.8L146.7 1298.9L143.7 1298.1L140.7 1297.5L137.7 1296.9L134.7 1296.3L131.7 1296L128.7 1295.8L125.7 1295.8L122.7 1295.8L119.7 1295.9L116.7 1296.2L113.7 1296.8L110.7 1297.7L107.7 1299.3L104.7 1301.4L102.3 1303.3L101.7 1302.8L98.7 1300.4L95.7 1298.5L92.7 1297.3L90.4 1297.3Z" fill="#ff7c00"/>
<path d="M90.4 1288.7L92.7 1288.7L95.7 1290.6L98.7 1292.8L101.7 1295.4L102.3 1296L104.7 1293.9L107.7 1291.5L110.7 1289.4L113.7 1287.8L116.7 1286.5L119.7 1285.6L122.7 1285.2L125.7 1285L128.7 1284.7L131.7 1284.6L134.7 1284.8L137.7 1285.1L140.7 1285.5L143.7 1286.1L146.7 1286.9L149.7 1287.7L152.7 1288.7L155.7 1289.6L158.7 1290.6L161.7 1291.7L164.7 1292.8L167.7 1294L170.7 1295.4L173.7 1296.8L176.7 1298.3L179.7 1299.9L182.7 1301.3L185.7 1302.8L188.7 1304.3L191.7 1305.7L194.7 1307.1L197.7 1308.3L200.7 1309.5L203.7 1310.6L206.7 1311.7L209.7 1312.7L212.7 1313.6L215.7 1314.5L218.7 1315.4L221.7 1316.1L224.7 1316.8L227.7 1317.5L230.7 1318.1L233.7 1318.6L236.7 1319.2L239.7 1319.7L242.7 1320.2L245.7 1320.5L248.7 1320.8L251.7 1321L254.7 1321.2L257.7 1321.3L260.7 1321.4L260.9 1321.4L263.7 1321.3L266.7 1321.2L269.7 1321L272.7 1320.8L275.7 1320.6L278.7 1320.2L281.7 1319.8L284.7 1319.2L287.7 1318.7L290.7 1318.2L293.7 1317.6L296.7 1316.9L299.7 1316.2L302.7 1315.5L305.7 1314.6L308.7 1313.8L311.7 1312.8L314.7 1311.8L317.7 1310.8L320.7 1309.6L323.7 1308.5L326.7 1307.2L329.7 1305.9L332.7 1304.5L335.7 1303L338.7 1301.5L341.7 1300.1L344.7 1298.5L347.7 1297L350.7 1295.5L353.7 1294.2L356.7 1293L359.7 1291.8L362.7 1290.8L365.7 1289.8L368.7 1288.8L371.7 1287.8L374.7 1287L377.7 1286.2L380.7 1285.6L383.7 1285.2L386.7 1284.8L389.7 1284.7L392.7 1284.7L395.7 1284.9L398.7 1285.2L401.7 1285.5L404.7 1286.4L407.7 1287.7L410.7 1289.2L413.7 1291.2L416.7 1293.5L419.4 1296L419.7 1295.8L422.7 1293.1L425.7 1290.8L428.7 1288.9L431.7 1287.4L434.7 1286.2L437.7 1285.4L440.7 1285.1L443.7 1284.9L446.7 1284.7L449.7 1284.7L452.7 1284.9L455.7 1285.2L458.7 1285.7L461.7 1286.3L464.7 1287.1L467.7 1288L470.7 1289L473.7 1289.9L476.7 1291L479.7 1292L482.7 1293.2L485.7 1294.4L488.7 1295.8L491.7 1297.3L494.7 1298.8L497.7 1300.3L500.7 1301.8L503.7 1303.3L506.7 1304.7L509.7 1306.1L512.7 1307.5L515.7 1308.7L518.7 1309.9L521.7 1311L524.7 1312L527.7 1313L530.7 1313.9L533.7 1314.8L536.7 1315.6L539.7 1316.4L542.7 1317L545.7 1317.7L548.7 1318.3L551.7 1318.8L554.7 1319.3L557.7 1319.8L560.7 1320.3L563.7 1320.6L566.7 1320.9L569.7 1321.1L572.7 1321.2L575.7 1321.3L578 1321.4L578.7 1321.4L581.7 1321.3L584.7 1321.2L587.7 1321L590.7 1320.8L593.7 1320.5L596.7 1320.1L599.7 1319.6L602.7 1319.1L605.7 1318.6L608.7 1318L611.7 1317.4L614.7 1316.7L617.7 1316L620.7 1315.2L623.7 1314.4L626.7 1313.5L629.7 1312.5L632.7 1311.5L635.7 1310.4L638.7 1309.3L641.7 1308.1L644.7 1306.8L647.7 1305.5L650.7 1304L653.7 1302.6L656.7 1301.1L659.7 1299.6L662.7 1298.1L665.7 1296.5L668.7 1295.1L671.7 1293.8L674.7 1292.6L677.7 1291.5L680.7 1290.5L683.7 1289.5L686.7 1288.5L689.7 1287.6L692.7 1286.7L695.7 1286L698.7 1285.4L701.7 1285.1L704.7 1284.8L707.7 1284.6L710.7 1284.8L713.7 1285L716.7 1285.3L719.7 1285.7L722.7 1286.7L725.7 1288.1L728.7 1289.7L730.2 1290.8L732.5 1290.8L732.5 1298.3L730.2 1298.3L728.7 1297.5L725.7 1296.5L722.7 1295.8L719.7 1295.5L716.7 1295.4L713.7 1295.4L710.7 1295.4L707.7 1295.5L704.7 1295.8L701.7 1296.3L698.7 1296.9L695.7 1297.5L692.7 1298.3L689.7 1299.2L686.7 1300.1L683.7 1301.1L680.7 1302.1L677.7 1303.2L674.7 1304.3L671.7 1305.5L668.7 1306.8L665.7 1308.2L662.7 1309.7L659.7 1311.3L656.7 1312.8L653.7 1314.3L650.7 1315.8L647.7 1317.3L644.7 1318.6L641.7 1319.9L638.7 1321.1L635.7 1322.2L632.7 1323.3L629.7 1324.3L626.7 1325.3L623.7 1326.2L620.7 1327L617.7 1327.8L614.7 1328.5L611.7 1329.2L608.7 1329.8L605.7 1330.4L602.7 1330.9L599.7 1331.4L596.7 1331.9L593.7 1332.3L590.7 1332.6L587.7 1332.8L584.7 1333L581.7 1333.1L578.7 1333.2L578 1333.2L575.7 1333.1L572.7 1333L569.7 1332.9L566.7 1332.7L563.7 1332.4L560.7 1332.1L557.7 1331.6L554.7 1331.1L551.7 1330.6L548.7 1330.1L545.7 1329.5L542.7 1328.8L539.7 1328.2L536.7 1327.4L533.7 1326.6L530.7 1325.7L527.7 1324.8L524.7 1323.8L521.7 1322.8L518.7 1321.7L515.7 1320.5L512.7 1319.3L509.7 1318L506.7 1316.5L503.7 1315L500.7 1313.5L497.7 1312L494.7 1310.5L491.7 1308.9L488.7 1307.4L485.7 1306.1L482.7 1304.8L479.7 1303.7L476.7 1302.6L473.7 1301.6L470.7 1300.6L467.7 1299.6L464.7 1298.7L461.7 1297.8L458.7 1297.2L455.7 1296.6L452.7 1296L449.7 1295.6L446.7 1295.4L443.7 1295.4L440.7 1295.4L437.7 1295.4L434.7 1295.6L431.7 1296.2L428.7 1297L425.7 1298.4L422.7 1300.3L419.7 1302.7L419.4 1303L416.7 1300.7L413.7 1298.7L410.7 1297.1L407.7 1296.3L404.7 1295.7L401.7 1295.4L398.7 1295.4L395.7 1295.4L392.7 1295.4L389.7 1295.6L386.7 1296L383.7 1296.5L380.7 1297.1L377.7 1297.7L374.7 1298.5L371.7 1299.5L368.7 1300.4L365.7 1301.4L362.7 1302.4L359.7 1303.5L356.7 1304.6L353.7 1305.9L350.7 1307.2L347.7 1308.7L344.7 1310.2L341.7 1311.7L338.7 1313.2L335.7 1314.8L332.7 1316.3L329.7 1317.7L326.7 1319L323.7 1320.3L320.7 1321.5L317.7 1322.6L314.7 1323.6L311.7 1324.6L308.7 1325.6L305.7 1326.5L302.7 1327.3L299.7 1328L296.7 1328.7L293.7 1329.4L290.7 1330L287.7 1330.5L284.7 1331L281.7 1331.6L278.7 1332L275.7 1332.4L272.7 1332.6L269.7 1332.8L266.7 1333L263.7 1333.1L260.9 1333.2L260.7 1333.2L257.7 1333.1L254.7 1333L251.7 1332.8L248.7 1332.6L245.7 1332.3L242.7 1332L239.7 1331.5L236.7 1331L233.7 1330.4L230.7 1329.9L227.7 1329.3L224.7 1328.6L221.7 1327.9L218.7 1327.2L215.7 1326.3L212.7 1325.4L209.7 1324.5L206.7 1323.5L203.7 1322.4L200.7 1321.3L197.7 1320.1L194.7 1318.9L191.7 1317.5L188.7 1316.1L185.7 1314.6L182.7 1313.1L179.7 1311.5L176.7 1310L173.7 1308.5L170.7 1307L167.7 1305.7L164.7 1304.5L161.7 1303.4L158.7 1302.3L155.7 1301.3L152.7 1300.3L149.7 1299.3L146.7 1298.4L143.7 1297.6L140.7 1297L137.7 1296.4L134.7 1295.9L131.7 1295.5L128.7 1295.4L125.7 1295.4L122.7 1295.4L119.7 1295.5L116.7 1295.7L113.7 1296.4L110.7 1297.3L107.7 1298.9L104.7 1301L102.3 1303L101.7 1302.4L98.7 1300.1L95.7 1298.1L92.7 1296.9L90.4 1296.9Z" fill="#ff5100"/>
<path d="M90.4 1290.8L92.7 1290.8L95.7 1292.5L98.7 1294.7L101.7 1297.3L102.3 1297.9L104.7 1295.7L107.7 1293.4L110.7 1291.4L113.7 1290.1L116.7 1289L119.7 1288.2L122.7 1288L125.7 1287.8L128.7 1287.7L131.7 1287.7L134.7 1287.9L137.7 1288.3L140.7 1288.7L143.7 1289.3L146.7 1290L149.7 1290.9L152.7 1291.9L155.7 1292.8L158.7 1293.8L161.7 1294.9L164.7 1296L167.7 1297.2L170.7 1298.5L173.7 1300L176.7 1301.5L179.7 1303.1L182.7 1304.5L185.7 1306L188.7 1307.5L191.7 1308.9L194.7 1310.3L197.7 1311.5L200.7 1312.7L203.7 1313.8L206.7 1314.9L209.7 1315.9L212.7 1316.8L215.7 1317.7L218.7 1318.6L221.7 1319.3L224.7 1320L227.7 1320.7L230.7 1321.3L233.7 1321.8L236.7 1322.4L239.7 1322.9L242.7 1323.4L245.7 1323.7L248.7 1324L251.7 1324.2L254.7 1324.4L257.7 1324.5L260.7 1324.6L260.9 1324.6L263.7 1324.5L266.7 1324.4L269.7 1324.2L272.7 1324L275.7 1323.8L278.7 1323.4L281.7 1322.9L284.7 1322.4L287.7 1321.9L290.7 1321.4L293.7 1320.8L296.7 1320.1L299.7 1319.4L302.7 1318.7L305.7 1317.8L308.7 1316.9L311.7 1316L314.7 1315L317.7 1314L320.7 1312.8L323.7 1311.7L326.7 1310.4L329.7 1309.1L332.7 1307.7L335.7 1306.2L338.7 1304.7L341.7 1303.2L344.7 1301.7L347.7 1300.2L350.7 1298.7L353.7 1297.4L356.7 1296.2L359.7 1295L362.7 1294L365.7 1293L368.7 1292L371.7 1291L374.7 1290.1L377.7 1289.4L380.7 1288.8L383.7 1288.3L386.7 1287.9L389.7 1287.7L392.7 1287.6L395.7 1287.8L398.7 1288L401.7 1288.2L404.7 1288.9L407.7 1289.9L410.7 1291.2L413.7 1293.1L416.7 1295.4L419.4 1297.9L419.7 1297.6L422.7 1295L425.7 1292.8L428.7 1291L431.7 1289.7L434.7 1288.7L437.7 1288.2L440.7 1287.9L443.7 1287.8L446.7 1287.6L449.7 1287.7L452.7 1288L455.7 1288.4L458.7 1288.9L461.7 1289.5L464.7 1290.3L467.7 1291.2L470.7 1292.2L473.7 1293.1L476.7 1294.1L479.7 1295.2L482.7 1296.4L485.7 1297.6L488.7 1299L491.7 1300.5L494.7 1302L497.7 1303.5L500.7 1305L503.7 1306.5L506.7 1307.9L509.7 1309.3L512.7 1310.6L515.7 1311.9L518.7 1313L521.7 1314.1L524.7 1315.2L527.7 1316.2L530.7 1317.1L533.7 1318L536.7 1318.8L539.7 1319.5L542.7 1320.2L545.7 1320.9L548.7 1321.5L551.7 1322L554.7 1322.5L557.7 1323L560.7 1323.5L563.7 1323.8L566.7 1324.1L569.7 1324.3L572.7 1324.4L575.7 1324.5L578 1324.6L578.7 1324.6L581.7 1324.5L584.7 1324.3L587.7 1324.2L590.7 1323.9L593.7 1323.7L596.7 1323.3L599.7 1322.8L602.7 1322.3L605.7 1321.7L608.7 1321.2L611.7 1320.6L614.7 1319.9L617.7 1319.2L620.7 1318.4L623.7 1317.6L626.7 1316.7L629.7 1315.7L632.7 1314.7L635.7 1313.6L638.7 1312.5L641.7 1311.3L644.7 1310L647.7 1308.7L650.7 1307.2L653.7 1305.7L656.7 1304.3L659.7 1302.8L662.7 1301.3L665.7 1299.7L668.7 1298.3L671.7 1297L674.7 1295.8L677.7 1294.7L680.7 1293.7L683.7 1292.7L686.7 1291.7L689.7 1290.8L692.7 1289.9L695.7 1289.2L698.7 1288.6L701.7 1288.2L704.7 1287.8L707.7 1287.6L710.7 1287.7L713.7 1287.8L716.7 1288L719.7 1288.3L722.7 1289.2L725.7 1290.3L728.7 1291.7L730.2 1292.7L732.5 1292.7L732.5 1298L730.2 1298L728.7 1297.2L725.7 1296.2L722.7 1295.5L719.7 1295.1L716.7 1295L713.7 1295L710.7 1295L707.7 1295.1L704.7 1295.4L701.7 1295.9L698.7 1296.5L695.7 1297.1L692.7 1297.9L689.7 1298.8L686.7 1299.7L683.7 1300.7L680.7 1301.7L677.7 1302.7L674.7 1303.9L671.7 1305.1L668.7 1306.3L665.7 1307.8L662.7 1309.3L659.7 1310.8L656.7 1312.4L653.7 1313.9L650.7 1315.4L647.7 1316.8L644.7 1318.2L641.7 1319.5L638.7 1320.7L635.7 1321.8L632.7 1322.9L629.7 1323.9L626.7 1324.8L623.7 1325.7L620.7 1326.6L617.7 1327.4L614.7 1328.1L611.7 1328.7L608.7 1329.3L605.7 1329.9L602.7 1330.4L599.7 1331L596.7 1331.4L593.7 1331.8L590.7 1332.1L587.7 1332.3L584.7 1332.5L581.7 1332.7L578.7 1332.7L578 1332.7L575.7 1332.7L572.7 1332.6L569.7 1332.4L566.7 1332.2L563.7 1332L560.7 1331.6L557.7 1331.2L554.7 1330.7L551.7 1330.2L548.7 1329.6L545.7 1329L542.7 1328.4L539.7 1327.7L536.7 1327L533.7 1326.2L530.7 1325.3L527.7 1324.3L524.7 1323.4L521.7 1322.3L518.7 1321.2L515.7 1320L512.7 1318.8L509.7 1317.5L506.7 1316.1L503.7 1314.6L500.7 1313.1L497.7 1311.6L494.7 1310L491.7 1308.5L488.7 1307L485.7 1305.7L482.7 1304.4L479.7 1303.3L476.7 1302.2L473.7 1301.2L470.7 1300.2L467.7 1299.2L464.7 1298.3L461.7 1297.4L458.7 1296.8L455.7 1296.2L452.7 1295.7L449.7 1295.2L446.7 1295L443.7 1295L440.7 1295L437.7 1295.1L434.7 1295.2L431.7 1295.8L428.7 1296.6L425.7 1298L422.7 1300L419.7 1302.4L419.4 1302.7L416.7 1300.4L413.7 1298.4L410.7 1296.8L407.7 1295.9L404.7 1295.3L401.7 1295.1L398.7 1295L395.7 1295L392.7 1295L389.7 1295.2L386.7 1295.6L383.7 1296.1L380.7 1296.7L377.7 1297.3L374.7 1298.1L371.7 1299L368.7 1300L365.7 1301L362.7 1302L359.7 1303.1L356.7 1304.2L353.7 1305.4L350.7 1306.8L347.7 1308.2L344.7 1309.8L341.7 1311.3L338.7 1312.8L335.7 1314.3L332.7 1315.8L329.7 1317.3L326.7 1318.6L323.7 1319.8L320.7 1321L317.7 1322.1L314.7 1323.2L311.7 1324.2L308.7 1325.1L305.7 1326L302.7 1326.8L299.7 1327.6L296.7 1328.3L293.7 1328.9L290.7 1329.5L287.7 1330.1L284.7 1330.6L281.7 1331.1L278.7 1331.6L275.7 1331.9L272.7 1332.2L269.7 1332.4L266.7 1332.6L263.7 1332.7L260.9 1332.7L260.7 1332.7L257.7 1332.7L254.7 1332.5L251.7 1332.4L248.7 1332.1L245.7 1331.9L242.7 1331.5L239.7 1331L236.7 1330.5L233.7 1330L230.7 1329.4L227.7 1328.8L224.7 1328.2L221.7 1327.5L218.7 1326.7L215.7 1325.9L212.7 1325L209.7 1324L206.7 1323L203.7 1322L200.7 1320.9L197.7 1319.7L194.7 1318.4L191.7 1317.1L188.7 1315.6L185.7 1314.1L182.7 1312.6L179.7 1311.1L176.7 1309.6L173.7 1308L170.7 1306.6L167.7 1305.3L164.7 1304.1L161.7 1302.9L158.7 1301.9L155.7 1300.9L152.7 1299.9L149.7 1298.9L146.7 1298L143.7 1297.2L140.7 1296.6L137.7 1296L134.7 1295.5L131.7 1295.1L128.7 1295L125.7 1295L122.7 1295L119.7 1295.1L116.7 1295.4L113.7 1296L110.7 1296.9L107.7 1298.6L104.7 1300.7L102.3 1302.7L101.7 1302.1L98.7 1299.8L95.7 1297.8L92.7 1296.5L90.4 1296.5Z" fill="#ff2600"/>
<path d="M90.4 1292.4L92.7 1292.4L95.7 1294L98.7 1296.1L101.7 1298.6L102.3 1299.2L104.7 1297.1L107.7 1294.8L110.7 1292.9L113.7 1291.8L116.7 1290.8L119.7 1290.2L122.7 1290L125.7 1289.9L128.7 1289.8L131.7 1289.9L134.7 1290.1L137.7 1290.6L140.7 1291.1L143.7 1291.6L146.7 1292.4L149.7 1293.3L152.7 1294.2L155.7 1295.2L158.7 1296.2L161.7 1297.2L164.7 1298.4L167.7 1299.6L170.7 1300.9L173.7 1302.3L176.7 1303.9L179.7 1305.4L182.7 1306.9L185.7 1308.4L188.7 1309.8L191.7 1311.3L194.7 1312.6L197.7 1313.9L200.7 1315L203.7 1316.2L206.7 1317.2L209.7 1318.2L212.7 1319.2L215.7 1320.1L218.7 1320.9L221.7 1321.7L224.7 1322.4L227.7 1323L230.7 1323.6L233.7 1324.2L236.7 1324.7L239.7 1325.2L242.7 1325.7L245.7 1326.1L248.7 1326.3L251.7 1326.5L254.7 1326.7L257.7 1326.9L260.7 1326.9L260.9 1326.9L263.7 1326.9L266.7 1326.7L269.7 1326.6L272.7 1326.4L275.7 1326.1L278.7 1325.8L281.7 1325.3L284.7 1324.8L287.7 1324.2L290.7 1323.7L293.7 1323.1L296.7 1322.5L299.7 1321.8L302.7 1321L305.7 1320.2L308.7 1319.3L311.7 1318.3L314.7 1317.4L317.7 1316.3L320.7 1315.2L323.7 1314L326.7 1312.8L329.7 1311.4L332.7 1310L335.7 1308.5L338.7 1307.1L341.7 1305.6L344.7 1304.1L347.7 1302.5L350.7 1301.1L353.7 1299.7L356.7 1298.5L359.7 1297.4L362.7 1296.3L365.7 1295.3L368.7 1294.3L371.7 1293.4L374.7 1292.5L377.7 1291.7L380.7 1291.1L383.7 1290.6L386.7 1290.2L389.7 1289.9L392.7 1289.8L395.7 1289.9L398.7 1290L401.7 1290.2L404.7 1290.7L407.7 1291.6L410.7 1292.8L413.7 1294.6L416.7 1296.8L419.4 1299.2L419.7 1298.9L422.7 1296.4L425.7 1294.2L428.7 1292.6L431.7 1291.4L434.7 1290.6L437.7 1290.2L440.7 1290L443.7 1289.9L446.7 1289.8L449.7 1289.9L452.7 1290.3L455.7 1290.7L458.7 1291.2L461.7 1291.9L464.7 1292.6L467.7 1293.5L470.7 1294.5L473.7 1295.5L476.7 1296.5L479.7 1297.6L482.7 1298.7L485.7 1300L488.7 1301.3L491.7 1302.8L494.7 1304.3L497.7 1305.9L500.7 1307.3L503.7 1308.8L506.7 1310.3L509.7 1311.7L512.7 1313L515.7 1314.2L518.7 1315.4L521.7 1316.5L524.7 1317.5L527.7 1318.5L530.7 1319.5L533.7 1320.3L536.7 1321.1L539.7 1321.9L542.7 1322.6L545.7 1323.2L548.7 1323.8L551.7 1324.3L554.7 1324.9L557.7 1325.4L560.7 1325.8L563.7 1326.2L566.7 1326.4L569.7 1326.6L572.7 1326.8L575.7 1326.9L578 1326.9L578.7 1326.9L581.7 1326.8L584.7 1326.7L587.7 1326.5L590.7 1326.3L593.7 1326L596.7 1325.6L599.7 1325.1L602.7 1324.6L605.7 1324.1L608.7 1323.5L611.7 1322.9L614.7 1322.3L617.7 1321.5L620.7 1320.8L623.7 1319.9L626.7 1319L629.7 1318.1L632.7 1317L635.7 1316L638.7 1314.8L641.7 1313.6L644.7 1312.4L647.7 1311L650.7 1309.6L653.7 1308.1L656.7 1306.6L659.7 1305.1L662.7 1303.6L665.7 1302.1L668.7 1300.6L671.7 1299.4L674.7 1298.2L677.7 1297L680.7 1296L683.7 1295L686.7 1294L689.7 1293.1L692.7 1292.2L695.7 1291.5L698.7 1291L701.7 1290.5L704.7 1290.1L707.7 1289.8L710.7 1289.8L713.7 1289.9L716.7 1290.1L719.7 1290.3L722.7 1291L725.7 1292L728.7 1293.2L730.2 1294.2L732.5 1294.2L732.5 1297.7L730.2 1297.7L728.7 1296.8L725.7 1295.8L722.7 1295.1L719.7 1294.7L716.7 1294.7L713.7 1294.6L710.7 1294.6L707.7 1294.7L704.7 1295L701.7 1295.5L698.7 1296.1L695.7 1296.7L692.7 1297.5L689.7 1298.3L686.7 1299.3L683.7 1300.3L680.7 1301.3L677.7 1302.3L674.7 1303.4L671.7 1304.6L668.7 1305.9L665.7 1307.4L662.7 1308.9L659.7 1310.4L656.7 1311.9L653.7 1313.4L650.7 1314.9L647.7 1316.4L644.7 1317.7L641.7 1319L638.7 1320.2L635.7 1321.3L632.7 1322.4L629.7 1323.4L626.7 1324.4L623.7 1325.3L620.7 1326.1L617.7 1326.9L614.7 1327.6L611.7 1328.3L608.7 1328.9L605.7 1329.5L602.7 1330L599.7 1330.5L596.7 1331L593.7 1331.4L590.7 1331.7L587.7 1331.9L584.7 1332.1L581.7 1332.2L578.7 1332.3L578 1332.3L575.7 1332.2L572.7 1332.1L569.7 1332L566.7 1331.8L563.7 1331.5L560.7 1331.2L557.7 1330.7L554.7 1330.2L551.7 1329.7L548.7 1329.2L545.7 1328.6L542.7 1327.9L539.7 1327.3L536.7 1326.5L533.7 1325.7L530.7 1324.8L527.7 1323.9L524.7 1322.9L521.7 1321.9L518.7 1320.8L515.7 1319.6L512.7 1318.4L509.7 1317.1L506.7 1315.6L503.7 1314.1L500.7 1312.6L497.7 1311.1L494.7 1309.6L491.7 1308.1L488.7 1306.6L485.7 1305.2L482.7 1304L479.7 1302.8L476.7 1301.8L473.7 1300.7L470.7 1299.8L467.7 1298.8L464.7 1297.9L461.7 1297L458.7 1296.4L455.7 1295.8L452.7 1295.3L449.7 1294.9L446.7 1294.6L443.7 1294.6L440.7 1294.6L437.7 1294.7L434.7 1294.9L431.7 1295.5L428.7 1296.3L425.7 1297.7L422.7 1299.7L419.7 1302.2L419.4 1302.4L416.7 1300.1L413.7 1298L410.7 1296.4L407.7 1295.6L404.7 1295L401.7 1294.7L398.7 1294.6L395.7 1294.6L392.7 1294.6L389.7 1294.8L386.7 1295.2L383.7 1295.7L380.7 1296.3L377.7 1296.9L374.7 1297.7L371.7 1298.6L368.7 1299.6L365.7 1300.6L362.7 1301.6L359.7 1302.6L356.7 1303.8L353.7 1305L350.7 1306.3L347.7 1307.8L344.7 1309.3L341.7 1310.9L338.7 1312.4L335.7 1313.9L332.7 1315.4L329.7 1316.8L326.7 1318.1L323.7 1319.4L320.7 1320.6L317.7 1321.7L314.7 1322.7L311.7 1323.7L308.7 1324.7L305.7 1325.6L302.7 1326.4L299.7 1327.1L296.7 1327.8L293.7 1328.5L290.7 1329.1L287.7 1329.6L284.7 1330.1L281.7 1330.7L278.7 1331.1L275.7 1331.5L272.7 1331.7L269.7 1331.9L266.7 1332.1L263.7 1332.2L260.9 1332.3L260.7 1332.3L257.7 1332.2L254.7 1332.1L251.7 1331.9L248.7 1331.7L245.7 1331.4L242.7 1331.1L239.7 1330.6L236.7 1330.1L233.7 1329.5L230.7 1329L227.7 1328.4L224.7 1327.7L221.7 1327L218.7 1326.3L215.7 1325.4L212.7 1324.5L209.7 1323.6L206.7 1322.6L203.7 1321.5L200.7 1320.4L197.7 1319.2L194.7 1318L191.7 1316.6L188.7 1315.2L185.7 1313.7L182.7 1312.2L179.7 1310.7L176.7 1309.2L173.7 1307.6L170.7 1306.2L167.7 1304.8L164.7 1303.6L161.7 1302.5L158.7 1301.4L155.7 1300.4L152.7 1299.5L149.7 1298.5L146.7 1297.6L143.7 1296.8L140.7 1296.2L137.7 1295.6L134.7 1295.1L131.7 1294.8L128.7 1294.6L125.7 1294.6L122.7 1294.7L119.7 1294.7L116.7 1295L113.7 1295.7L110.7 1296.6L107.7 1298.3L104.7 1300.4L102.3 1302.4L101.7 1301.8L98.7 1299.4L95.7 1297.5L92.7 1296.2L90.4 1296.2Z" fill="#fa0000"/>
<path d="M90.4 1293.2L92.7 1293.2L95.7 1294.6L98.7 1296.7L101.7 1299.2L102.3 1299.8L104.7 1297.7L107.7 1295.5L110.7 1293.7L113.7 1292.6L116.7 1291.7L119.7 1291.2L122.7 1291L125.7 1290.9L128.7 1290.8L131.7 1290.9L134.7 1291.2L137.7 1291.7L140.7 1292.2L143.7 1292.8L146.7 1293.5L149.7 1294.4L152.7 1295.3L155.7 1296.3L158.7 1297.3L161.7 1298.4L164.7 1299.5L167.7 1300.7L170.7 1302L173.7 1303.5L176.7 1305L179.7 1306.5L182.7 1308L185.7 1309.5L188.7 1311L191.7 1312.4L194.7 1313.7L197.7 1315L200.7 1316.2L203.7 1317.3L206.7 1318.3L209.7 1319.3L212.7 1320.3L215.7 1321.2L218.7 1322L221.7 1322.8L224.7 1323.5L227.7 1324.1L230.7 1324.7L233.7 1325.3L236.7 1325.8L239.7 1326.3L242.7 1326.8L245.7 1327.2L248.7 1327.4L251.7 1327.7L254.7 1327.8L257.7 1328L260.7 1328L260.9 1328L263.7 1328L266.7 1327.9L269.7 1327.7L272.7 1327.5L275.7 1327.2L278.7 1326.9L281.7 1326.4L284.7 1325.9L287.7 1325.4L290.7 1324.8L293.7 1324.2L296.7 1323.6L299.7 1322.9L302.7 1322.1L305.7 1321.3L308.7 1320.4L311.7 1319.5L314.7 1318.5L317.7 1317.4L320.7 1316.3L323.7 1315.1L326.7 1313.9L329.7 1312.6L332.7 1311.1L335.7 1309.7L338.7 1308.2L341.7 1306.7L344.7 1305.2L347.7 1303.6L350.7 1302.2L353.7 1300.8L356.7 1299.6L359.7 1298.5L362.7 1297.4L365.7 1296.4L368.7 1295.5L371.7 1294.5L374.7 1293.6L377.7 1292.8L380.7 1292.2L383.7 1291.7L386.7 1291.3L389.7 1290.9L392.7 1290.8L395.7 1290.9L398.7 1291L401.7 1291.1L404.7 1291.6L407.7 1292.4L410.7 1293.5L413.7 1295.3L416.7 1297.4L419.4 1299.8L419.7 1299.6L422.7 1297L425.7 1294.9L428.7 1293.3L431.7 1292.3L434.7 1291.5L437.7 1291.1L440.7 1291L443.7 1290.9L446.7 1290.8L449.7 1291L452.7 1291.3L455.7 1291.8L458.7 1292.3L461.7 1293L464.7 1293.8L467.7 1294.7L470.7 1295.6L473.7 1296.6L476.7 1297.6L479.7 1298.7L482.7 1299.8L485.7 1301.1L488.7 1302.4L491.7 1303.9L494.7 1305.5L497.7 1307L500.7 1308.4L503.7 1309.9L506.7 1311.4L509.7 1312.8L512.7 1314.1L515.7 1315.3L518.7 1316.5L521.7 1317.6L524.7 1318.6L527.7 1319.6L530.7 1320.6L533.7 1321.4L536.7 1322.3L539.7 1323L542.7 1323.7L545.7 1324.3L548.7 1324.9L551.7 1325.5L554.7 1326L557.7 1326.5L560.7 1326.9L563.7 1327.3L566.7 1327.5L569.7 1327.7L572.7 1327.9L575.7 1328L578 1328L578.7 1328L581.7 1327.9L584.7 1327.8L587.7 1327.6L590.7 1327.4L593.7 1327.1L596.7 1326.7L599.7 1326.2L602.7 1325.7L605.7 1325.2L608.7 1324.6L611.7 1324L614.7 1323.4L617.7 1322.7L620.7 1321.9L623.7 1321L626.7 1320.1L629.7 1319.2L632.7 1318.2L635.7 1317.1L638.7 1315.9L641.7 1314.7L644.7 1313.5L647.7 1312.1L650.7 1310.7L653.7 1309.2L656.7 1307.7L659.7 1306.2L662.7 1304.7L665.7 1303.2L668.7 1301.8L671.7 1300.5L674.7 1299.3L677.7 1298.2L680.7 1297.1L683.7 1296.1L686.7 1295.2L689.7 1294.2L692.7 1293.4L695.7 1292.6L698.7 1292.1L701.7 1291.6L704.7 1291.1L707.7 1290.9L710.7 1290.8L713.7 1290.9L716.7 1291L719.7 1291.2L722.7 1291.8L725.7 1292.7L728.7 1293.9L730.2 1294.9L732.5 1294.9L732.5 1297.4L730.2 1297.4L728.7 1296.5L725.7 1295.5L722.7 1294.8L719.7 1294.4L716.7 1294.3L713.7 1294.3L710.7 1294.3L707.7 1294.4L704.7 1294.7L701.7 1295.2L698.7 1295.8L695.7 1296.4L692.7 1297.1L689.7 1298L686.7 1298.9L683.7 1299.9L680.7 1300.9L677.7 1301.9L674.7 1303.1L671.7 1304.3L668.7 1305.5L665.7 1307L662.7 1308.5L659.7 1310L656.7 1311.5L653.7 1313L650.7 1314.5L647.7 1316L644.7 1317.3L641.7 1318.6L638.7 1319.8L635.7 1320.9L632.7 1322L629.7 1323L626.7 1324L623.7 1324.9L620.7 1325.7L617.7 1326.5L614.7 1327.2L611.7 1327.9L608.7 1328.5L605.7 1329.1L602.7 1329.6L599.7 1330.1L596.7 1330.6L593.7 1331L590.7 1331.3L587.7 1331.5L584.7 1331.7L581.7 1331.8L578.7 1331.9L578 1331.9L575.7 1331.8L572.7 1331.7L569.7 1331.6L566.7 1331.4L563.7 1331.1L560.7 1330.8L557.7 1330.3L554.7 1329.8L551.7 1329.3L548.7 1328.8L545.7 1328.2L542.7 1327.5L539.7 1326.9L536.7 1326.1L533.7 1325.3L530.7 1324.4L527.7 1323.5L524.7 1322.5L521.7 1321.5L518.7 1320.4L515.7 1319.2L512.7 1318L509.7 1316.7L506.7 1315.2L503.7 1313.8L500.7 1312.2L497.7 1310.8L494.7 1309.2L491.7 1307.7L488.7 1306.2L485.7 1304.9L482.7 1303.6L479.7 1302.5L476.7 1301.4L473.7 1300.4L470.7 1299.4L467.7 1298.4L464.7 1297.5L461.7 1296.7L458.7 1296L455.7 1295.5L452.7 1294.9L449.7 1294.5L446.7 1294.3L443.7 1294.3L440.7 1294.3L437.7 1294.4L434.7 1294.6L431.7 1295.1L428.7 1296L425.7 1297.4L422.7 1299.4L419.7 1301.9L419.4 1302.1L416.7 1299.8L413.7 1297.7L410.7 1296.1L407.7 1295.3L404.7 1294.6L401.7 1294.4L398.7 1294.3L395.7 1294.3L392.7 1294.3L389.7 1294.5L386.7 1294.8L383.7 1295.4L380.7 1295.9L377.7 1296.6L374.7 1297.3L371.7 1298.3L368.7 1299.2L365.7 1300.2L362.7 1301.2L359.7 1302.3L356.7 1303.4L353.7 1304.6L350.7 1306L347.7 1307.4L344.7 1309L341.7 1310.5L338.7 1312L335.7 1313.5L332.7 1315L329.7 1316.4L326.7 1317.7L323.7 1319L320.7 1320.2L317.7 1321.3L314.7 1322.3L311.7 1323.3L308.7 1324.3L305.7 1325.2L302.7 1326L299.7 1326.7L296.7 1327.4L293.7 1328.1L290.7 1328.7L287.7 1329.2L284.7 1329.7L281.7 1330.3L278.7 1330.7L275.7 1331.1L272.7 1331.3L269.7 1331.5L266.7 1331.7L263.7 1331.8L260.9 1331.9L260.7 1331.9L257.7 1331.8L254.7 1331.7L251.7 1331.5L248.7 1331.3L245.7 1331L242.7 1330.7L239.7 1330.2L236.7 1329.7L233.7 1329.2L230.7 1328.6L227.7 1328L224.7 1327.3L221.7 1326.6L218.7 1325.9L215.7 1325L212.7 1324.1L209.7 1323.2L206.7 1322.2L203.7 1321.1L200.7 1320L197.7 1318.8L194.7 1317.6L191.7 1316.2L188.7 1314.8L185.7 1313.3L182.7 1311.8L179.7 1310.3L176.7 1308.8L173.7 1307.2L170.7 1305.8L167.7 1304.5L164.7 1303.3L161.7 1302.1L158.7 1301.1L155.7 1300.1L152.7 1299.1L149.7 1298.1L146.7 1297.2L143.7 1296.5L140.7 1295.9L137.7 1295.3L134.7 1294.8L131.7 1294.4L128.7 1294.3L125.7 1294.3L122.7 1294.3L119.7 1294.4L116.7 1294.7L113.7 1295.4L110.7 1296.3L107.7 1298L104.7 1300.1L102.3 1302.1L101.7 1301.6L98.7 1299.2L95.7 1297.2L92.7 1295.9L90.4 1295.9Z" fill="#cf0000"/>
<path d="M90.4 1293.8L92.7 1293.8L95.7 1295.2L98.7 1297.3L101.7 1299.8L102.3 1300.4L104.7 1298.3L107.7 1296.1L110.7 1294.3L113.7 1293.2L116.7 1292.4L119.7 1292L122.7 1291.8L125.7 1291.8L128.7 1291.7L131.7 1291.8L134.7 1292.1L137.7 1292.6L140.7 1293.1L143.7 1293.7L146.7 1294.4L149.7 1295.3L152.7 1296.3L155.7 1297.2L158.7 1298.2L161.7 1299.3L164.7 1300.4L167.7 1301.6L170.7 1302.9L173.7 1304.4L176.7 1305.9L179.7 1307.5L182.7 1308.9L185.7 1310.4L188.7 1311.9L191.7 1313.3L194.7 1314.7L197.7 1315.9L200.7 1317.1L203.7 1318.2L206.7 1319.3L209.7 1320.3L212.7 1321.2L215.7 1322.1L218.7 1323L221.7 1323.7L224.7 1324.4L227.7 1325.1L230.7 1325.7L233.7 1326.2L236.7 1326.8L239.7 1327.3L242.7 1327.7L245.7 1328.1L248.7 1328.4L251.7 1328.6L254.7 1328.8L257.7 1328.9L260.7 1329L260.9 1329L263.7 1328.9L266.7 1328.8L269.7 1328.6L272.7 1328.4L275.7 1328.2L278.7 1327.8L281.7 1327.3L284.7 1326.8L287.7 1326.3L290.7 1325.8L293.7 1325.2L296.7 1324.5L299.7 1323.8L302.7 1323.1L305.7 1322.2L308.7 1321.3L311.7 1320.4L314.7 1319.4L317.7 1318.4L320.7 1317.2L323.7 1316.1L326.7 1314.8L329.7 1313.5L332.7 1312.1L335.7 1310.6L338.7 1309.1L341.7 1307.6L344.7 1306.1L347.7 1304.6L350.7 1303.1L353.7 1301.8L356.7 1300.6L359.7 1299.4L362.7 1298.4L365.7 1297.4L368.7 1296.4L371.7 1295.4L374.7 1294.5L377.7 1293.8L380.7 1293.2L383.7 1292.6L386.7 1292.2L389.7 1291.8L392.7 1291.7L395.7 1291.7L398.7 1291.8L401.7 1291.9L404.7 1292.3L407.7 1293.1L410.7 1294.1L413.7 1295.8L416.7 1298L419.4 1300.4L419.7 1300.1L422.7 1297.6L425.7 1295.5L428.7 1293.9L431.7 1292.9L434.7 1292.2L437.7 1291.9L440.7 1291.8L443.7 1291.7L446.7 1291.7L449.7 1291.9L452.7 1292.2L455.7 1292.7L458.7 1293.3L461.7 1293.9L464.7 1294.7L467.7 1295.6L470.7 1296.6L473.7 1297.5L476.7 1298.5L479.7 1299.6L482.7 1300.8L485.7 1302L488.7 1303.4L491.7 1304.9L494.7 1306.4L497.7 1307.9L500.7 1309.4L503.7 1310.9L506.7 1312.3L509.7 1313.7L512.7 1315L515.7 1316.3L518.7 1317.4L521.7 1318.5L524.7 1319.6L527.7 1320.6L530.7 1321.5L533.7 1322.4L536.7 1323.2L539.7 1323.9L542.7 1324.6L545.7 1325.3L548.7 1325.9L551.7 1326.4L554.7 1326.9L557.7 1327.4L560.7 1327.9L563.7 1328.2L566.7 1328.5L569.7 1328.7L572.7 1328.8L575.7 1328.9L578 1329L578.7 1329L581.7 1328.9L584.7 1328.7L587.7 1328.6L590.7 1328.3L593.7 1328.1L596.7 1327.7L599.7 1327.2L602.7 1326.7L605.7 1326.1L608.7 1325.6L611.7 1325L614.7 1324.3L617.7 1323.6L620.7 1322.8L623.7 1322L626.7 1321.1L629.7 1320.1L632.7 1319.1L635.7 1318L638.7 1316.9L641.7 1315.7L644.7 1314.4L647.7 1313.1L650.7 1311.6L653.7 1310.1L656.7 1308.7L659.7 1307.2L662.7 1305.7L665.7 1304.1L668.7 1302.7L671.7 1301.4L674.7 1300.2L677.7 1299.1L680.7 1298.1L683.7 1297.1L686.7 1296.1L689.7 1295.2L692.7 1294.3L695.7 1293.6L698.7 1293L701.7 1292.5L704.7 1292L707.7 1291.8L710.7 1291.7L713.7 1291.8L716.7 1291.9L719.7 1292L722.7 1292.5L725.7 1293.4L728.7 1294.5L730.2 1295.4L732.5 1295.4L732.5 1297.1L730.2 1297.1L728.7 1296.2L725.7 1295.2L722.7 1294.5L719.7 1294.1L716.7 1294L713.7 1294L710.7 1294L707.7 1294L704.7 1294.4L701.7 1294.9L698.7 1295.4L695.7 1296L692.7 1296.7L689.7 1297.6L686.7 1298.6L683.7 1299.5L680.7 1300.5L677.7 1301.6L674.7 1302.7L671.7 1303.9L668.7 1305.2L665.7 1306.6L662.7 1308.1L659.7 1309.7L656.7 1311.2L653.7 1312.7L650.7 1314.1L647.7 1315.6L644.7 1317L641.7 1318.2L638.7 1319.4L635.7 1320.5L632.7 1321.6L629.7 1322.6L626.7 1323.6L623.7 1324.5L620.7 1325.3L617.7 1326.1L614.7 1326.8L611.7 1327.5L608.7 1328.1L605.7 1328.7L602.7 1329.2L599.7 1329.7L596.7 1330.2L593.7 1330.6L590.7 1330.9L587.7 1331.1L584.7 1331.3L581.7 1331.4L578.7 1331.5L578 1331.5L575.7 1331.5L572.7 1331.3L569.7 1331.2L566.7 1331L563.7 1330.7L560.7 1330.4L557.7 1330L554.7 1329.4L551.7 1328.9L548.7 1328.4L545.7 1327.8L542.7 1327.2L539.7 1326.5L536.7 1325.7L533.7 1324.9L530.7 1324L527.7 1323.1L524.7 1322.1L521.7 1321.1L518.7 1320L515.7 1318.8L512.7 1317.6L509.7 1316.3L506.7 1314.9L503.7 1313.4L500.7 1311.9L497.7 1310.4L494.7 1308.9L491.7 1307.3L488.7 1305.8L485.7 1304.5L482.7 1303.3L479.7 1302.1L476.7 1301L473.7 1300L470.7 1299L467.7 1298.1L464.7 1297.1L461.7 1296.3L458.7 1295.7L455.7 1295.1L452.7 1294.6L449.7 1294.2L446.7 1294L443.7 1294L440.7 1294L437.7 1294L434.7 1294.3L431.7 1294.8L428.7 1295.7L425.7 1297.1L422.7 1299.2L419.7 1301.6L419.4 1301.9L416.7 1299.6L413.7 1297.5L410.7 1295.8L407.7 1295L404.7 1294.3L401.7 1294.1L398.7 1294L395.7 1294L392.7 1294L389.7 1294.1L386.7 1294.5L383.7 1295L380.7 1295.6L377.7 1296.2L374.7 1297L371.7 1297.9L368.7 1298.9L365.7 1299.8L362.7 1300.8L359.7 1301.9L356.7 1303L353.7 1304.3L350.7 1305.6L347.7 1307.1L344.7 1308.6L341.7 1310.1L338.7 1311.6L335.7 1313.1L332.7 1314.6L329.7 1316L326.7 1317.3L323.7 1318.6L320.7 1319.8L317.7 1320.9L314.7 1321.9L311.7 1322.9L308.7 1323.9L305.7 1324.8L302.7 1325.6L299.7 1326.3L296.7 1327L293.7 1327.7L290.7 1328.3L287.7 1328.8L284.7 1329.3L281.7 1329.9L278.7 1330.3L275.7 1330.7L272.7 1330.9L269.7 1331.1L266.7 1331.3L263.7 1331.4L260.9 1331.5L260.7 1331.5L257.7 1331.4L254.7 1331.3L251.7 1331.1L248.7 1330.9L245.7 1330.7L242.7 1330.3L239.7 1329.8L236.7 1329.3L233.7 1328.8L230.7 1328.2L227.7 1327.6L224.7 1327L221.7 1326.2L218.7 1325.5L215.7 1324.7L212.7 1323.8L209.7 1322.8L206.7 1321.8L203.7 1320.7L200.7 1319.6L197.7 1318.4L194.7 1317.2L191.7 1315.8L188.7 1314.4L185.7 1312.9L182.7 1311.4L179.7 1309.9L176.7 1308.4L173.7 1306.9L170.7 1305.4L167.7 1304.1L164.7 1302.9L161.7 1301.8L158.7 1300.7L155.7 1299.7L152.7 1298.7L149.7 1297.8L146.7 1296.9L143.7 1296.1L140.7 1295.5L137.7 1295L134.7 1294.5L131.7 1294.1L128.7 1294L125.7 1294L122.7 1294L119.7 1294.1L116.7 1294.4L113.7 1295.1L110.7 1296L107.7 1297.7L104.7 1299.9L102.3 1301.9L101.7 1301.3L98.7 1298.9L95.7 1296.9L92.7 1295.6L90.4 1295.6Z" fill="#a40000"/>
<rect x="92.67" y="1338.4" width="637.53" height="2.5" fill="#b432c8" opacity="0.9"/>
<rect x="92.67" y="1340.9" width="637.53" height="2.8" fill="#f0f"/>
<path d="M976.75 1205.87V1397.2M1056.1 1205.87V1397.2M1135.45 1205.87V1397.2M1214.8 1205.87V1397.2M1294.15 1205.87V1397.2M1373.5 1205.87V1397.2M1452.85 1205.87V1397.2M897.4 1333.42H1532.2M897.4 1269.65H1532.2" stroke="#e4e4e4" stroke-width="1" fill="none"/>
<path d="M976.75 1397.2v-9.5M1056.1 1397.2v-9.5M1135.45 1397.2v-9.5M1214.8 1397.2v-9.5M1294.15 1397.2v-9.5M1373.5 1397.2v-9.5M1452.85 1397.2v-9.5M897.4 1333.42h9.5M897.4 1269.65h9.5" stroke="#000" stroke-width="1.5" fill="none"/>
<rect x="897.4" y="1205.87" width="634.8" height="191.33" fill="none" stroke="#000" stroke-width="1.5"/>
<text x="897.4" y="1429.3" font-size="23.3" text-anchor="middle" textLength="15.2" lengthAdjust="spacingAndGlyphs">0</text>
<text x="976.75" y="1429.3" font-size="23.3" text-anchor="middle" textLength="29.3" lengthAdjust="spacingAndGlyphs">80</text>
<text x="1056.1" y="1429.3" font-size="23.3" text-anchor="middle" textLength="39.1" lengthAdjust="spacingAndGlyphs">160</text>
<text x="1135.45" y="1429.3" font-size="23.3" text-anchor="middle" textLength="43.4" lengthAdjust="spacingAndGlyphs">240</text>
<text x="1214.8" y="1429.3" font-size="23.3" text-anchor="middle" textLength="43.4" lengthAdjust="spacingAndGlyphs">320</text>
<text x="1294.15" y="1429.3" font-size="23.3" text-anchor="middle" textLength="44.5" lengthAdjust="spacingAndGlyphs">400</text>
<text x="1373.5" y="1429.3" font-size="23.3" text-anchor="middle" textLength="43.4" lengthAdjust="spacingAndGlyphs">480</text>
<text x="1452.85" y="1429.3" font-size="23.3" text-anchor="middle" textLength="43.4" lengthAdjust="spacingAndGlyphs">560</text>
<text x="1532.2" y="1429.3" font-size="23.3" text-anchor="middle" textLength="43.4" lengthAdjust="spacingAndGlyphs">640</text>
<text x="883.9" y="1404.9" font-size="23.3" text-anchor="end" textLength="15.2" lengthAdjust="spacingAndGlyphs">0</text>
<text x="883.9" y="1341.12" font-size="23.3" text-anchor="end" textLength="29.3" lengthAdjust="spacingAndGlyphs">20</text>
<text x="883.9" y="1277.35" font-size="23.3" text-anchor="end" textLength="29.3" lengthAdjust="spacingAndGlyphs">40</text>
<text x="883.9" y="1213.57" font-size="23.3" text-anchor="end" textLength="29.3" lengthAdjust="spacingAndGlyphs">60</text>
<path d="M895.1 1232.4L897.4 1232.4L900.4 1233.7L903.4 1235.1L906.4 1236.3L909.4 1237.6L912.4 1238.8L915.4 1240L918.4 1241.1L921.4 1242.2L924.4 1243.1L927.4 1244L930.4 1244.8L933.4 1245.4L936.4 1245.9L939.4 1246.3L942.4 1246.6L945.4 1246.8L948.4 1247L950.7 1247L951.4 1247L954.4 1246.9L957.4 1246.7L960.4 1246.4L963.4 1246.1L966.4 1245.7L969.4 1245.1L972.4 1244.4L975.4 1243.6L978.4 1242.7L981.4 1241.7L984.4 1240.6L987.4 1239.4L990.4 1238.2L993.4 1237L996.4 1235.8L999.4 1234.5L1002.4 1233.1L1005.4 1231.7L1008.4 1230.3L1011.4 1228.8L1014.4 1227.3L1017.4 1225.8L1020.4 1224.4L1023.4 1223.1L1026.4 1221.7L1029.4 1220.4L1032.4 1219L1035.4 1217.7L1038.4 1216.3L1041.4 1215L1044.4 1213.8L1047.4 1212.5L1050.4 1211.1L1053.4 1210L1056.4 1209L1059.4 1208.4L1062.4 1207.8L1065.4 1207.3L1068.4 1206.9L1071.4 1206.8L1074.4 1207L1077.4 1207.3L1080.4 1207.7L1083.4 1208.3L1086.4 1209L1089.4 1210.4L1092.4 1212.1L1095.4 1214.1L1098.4 1216.6L1101.4 1219.6L1104.4 1222.9L1107.4 1226.8L1110.4 1230.9L1111 1231.7L1113.4 1228.3L1116.4 1224.4L1119.4 1220.7L1122.4 1217.7L1125.4 1215L1128.4 1212.8L1131.4 1211L1134.4 1209.5L1137.4 1208.5L1140.4 1207.9L1143.4 1207.4L1146.4 1207.1L1149.4 1206.9L1152.4 1206.9L1155.4 1207.1L1158.4 1207.6L1161.4 1208.1L1164.4 1208.7L1167.4 1209.6L1170.4 1210.7L1173.4 1212L1176.4 1213.3L1179.4 1214.5L1182.4 1215.8L1185.4 1217.2L1188.4 1218.5L1191.4 1219.9L1194.4 1221.2L1197.4 1222.6L1200.4 1223.9L1203.4 1225.3L1206.4 1226.7L1209.4 1228.2L1212.4 1229.7L1215.4 1231.2L1218.4 1232.6L1221.4 1234L1224.4 1235.3L1227.4 1236.6L1230.4 1237.8L1233.4 1239L1236.4 1240.2L1239.4 1241.3L1242.4 1242.4L1245.4 1243.3L1248.4 1244.1L1251.4 1244.9L1254.4 1245.5L1257.4 1246L1260.4 1246.3L1263.4 1246.6L1266.4 1246.8L1269.4 1247L1271.2 1247L1272.4 1247L1275.4 1246.9L1278.4 1246.7L1281.4 1246.4L1284.4 1246.1L1287.4 1245.6L1290.4 1245L1293.4 1244.3L1296.4 1243.4L1299.4 1242.6L1302.4 1241.6L1305.4 1240.4L1308.4 1239.2L1311.4 1238L1314.4 1236.8L1317.4 1235.5L1320.4 1234.2L1323.4 1232.9L1326.4 1231.5L1329.4 1230L1332.4 1228.5L1335.4 1227L1338.4 1225.6L1341.4 1224.2L1344.4 1222.8L1347.4 1221.5L1350.4 1220.1L1353.4 1218.8L1356.4 1217.4L1359.4 1216.1L1362.4 1214.8L1365.4 1213.5L1368.4 1212.2L1371.4 1210.9L1374.4 1209.8L1377.4 1208.9L1380.4 1208.2L1383.4 1207.7L1386.4 1207.2L1389.4 1206.9L1392.4 1206.8L1395.4 1207L1398.4 1207.3L1401.4 1207.8L1404.4 1208.4L1407.4 1209.2L1410.4 1210.7L1413.4 1212.4L1416.4 1214.5L1419.4 1217.1L1422.4 1220.1L1425.4 1223.6L1428.4 1227.5L1431.4 1231.7L1431.4 1231.7L1434.4 1227.6L1437.4 1223.7L1440.4 1220.1L1443.4 1217.2L1446.4 1214.6L1449.4 1212.5L1452.4 1210.7L1455.4 1209.3L1458.4 1208.4L1461.4 1207.8L1464.4 1207.3L1467.4 1207L1470.4 1206.8L1473.4 1206.9L1476.4 1207.2L1479.4 1207.6L1482.4 1208.2L1485.4 1208.9L1488.4 1209.7L1491.4 1210.9L1494.4 1212.2L1497.4 1213.5L1500.4 1214.8L1503.4 1216.1L1506.4 1217.4L1509.4 1218.8L1512.4 1220.1L1515.4 1221.5L1518.4 1222.8L1521.4 1224.2L1524.4 1225.6L1527.4 1227L1530.4 1228.5L1532.2 1229.4L1534.5 1229.4L1534.5 1342.3L1532.2 1342.3L1530.4 1341.3L1527.4 1339.6L1524.4 1337.9L1521.4 1336.1L1518.4 1334.1L1515.4 1332.2L1512.4 1330.2L1509.4 1328.2L1506.4 1326.2L1503.4 1324.2L1500.4 1322.2L1497.4 1320.1L1494.4 1317.9L1491.4 1315.7L1488.4 1313.5L1485.4 1311.5L1482.4 1309.5L1479.4 1307.5L1476.4 1305.6L1473.4 1304L1470.4 1302.7L1467.4 1301.6L1464.4 1300.7L1461.4 1299.9L1458.4 1299.3L1455.4 1298.9L1452.4 1298.5L1449.4 1298.3L1446.4 1298.3L1443.4 1298.3L1440.4 1298.3L1437.4 1298.5L1434.4 1298.8L1431.4 1299.3L1431.4 1299.3L1428.4 1298.8L1425.4 1298.5L1422.4 1298.3L1419.4 1298.3L1416.4 1298.3L1413.4 1298.3L1410.4 1298.5L1407.4 1298.9L1404.4 1299.4L1401.4 1299.9L1398.4 1300.7L1395.4 1301.7L1392.4 1302.7L1389.4 1304L1386.4 1305.6L1383.4 1307.5L1380.4 1309.5L1377.4 1311.5L1374.4 1313.6L1371.4 1315.8L1368.4 1318L1365.4 1320.2L1362.4 1322.2L1359.4 1324.2L1356.4 1326.2L1353.4 1328.2L1350.4 1330.2L1347.4 1332.2L1344.4 1334.2L1341.4 1336.1L1338.4 1337.9L1335.4 1339.7L1332.4 1341.3L1329.4 1342.9L1326.4 1344.4L1323.4 1345.7L1320.4 1347L1317.4 1348.2L1314.4 1349.3L1311.4 1350.3L1308.4 1351.1L1305.4 1351.9L1302.4 1352.6L1299.4 1353.2L1296.4 1353.8L1293.4 1354.3L1290.4 1354.8L1287.4 1355.2L1284.4 1355.4L1281.4 1355.6L1278.4 1355.8L1275.4 1355.9L1272.4 1356L1271.2 1356L1269.4 1356L1266.4 1355.9L1263.4 1355.8L1260.4 1355.6L1257.4 1355.4L1254.4 1355.1L1251.4 1354.7L1248.4 1354.2L1245.4 1353.7L1242.4 1353.1L1239.4 1352.5L1236.4 1351.8L1233.4 1351L1230.4 1350.1L1227.4 1349.1L1224.4 1348L1221.4 1346.8L1218.4 1345.5L1215.4 1344.1L1212.4 1342.6L1209.4 1341L1206.4 1339.3L1203.4 1337.6L1200.4 1335.8L1197.4 1333.8L1194.4 1331.8L1191.4 1329.8L1188.4 1327.8L1185.4 1325.9L1182.4 1323.9L1179.4 1321.8L1176.4 1319.7L1173.4 1317.6L1170.4 1315.3L1167.4 1313.2L1164.4 1311.1L1161.4 1309.1L1158.4 1307.1L1155.4 1305.3L1152.4 1303.7L1149.4 1302.5L1146.4 1301.5L1143.4 1300.6L1140.4 1299.8L1137.4 1299.3L1134.4 1298.8L1131.4 1298.5L1128.4 1298.3L1125.4 1298.3L1122.4 1298.3L1119.4 1298.4L1116.4 1298.6L1113.4 1298.9L1111 1299.3L1110.4 1299.2L1107.4 1298.8L1104.4 1298.5L1101.4 1298.3L1098.4 1298.3L1095.4 1298.3L1092.4 1298.4L1089.4 1298.6L1086.4 1299L1083.4 1299.4L1080.4 1300.1L1077.4 1300.9L1074.4 1301.8L1071.4 1302.9L1068.4 1304.3L1065.4 1305.9L1062.4 1307.9L1059.4 1309.9L1056.4 1311.9L1053.4 1314L1050.4 1316.2L1047.4 1318.4L1044.4 1320.5L1041.4 1322.6L1038.4 1324.6L1035.4 1326.6L1032.4 1328.6L1029.4 1330.5L1026.4 1332.5L1023.4 1334.5L1020.4 1336.4L1017.4 1338.3L1014.4 1340L1011.4 1341.6L1008.4 1343.2L1005.4 1344.6L1002.4 1346L999.4 1347.2L996.4 1348.4L993.4 1349.5L990.4 1350.4L987.4 1351.3L984.4 1352L981.4 1352.7L978.4 1353.3L975.4 1353.9L972.4 1354.4L969.4 1354.9L966.4 1355.2L963.4 1355.5L960.4 1355.6L957.4 1355.8L954.4 1355.9L951.4 1356L950.7 1356L948.4 1355.9L945.4 1355.9L942.4 1355.7L939.4 1355.6L936.4 1355.4L933.4 1355L930.4 1354.6L927.4 1354.1L924.4 1353.6L921.4 1353L918.4 1352.4L915.4 1351.6L912.4 1350.8L909.4 1349.9L906.4 1348.9L903.4 1347.8L900.4 1346.6L897.4 1345.3L895.1 1345.3Z" fill="#00008f"/>
<path d="M895.1 1291.2L897.4 1291.2L900.4 1292.5L903.4 1293.9L906.4 1295.2L909.4 1296.5L912.4 1297.7L915.4 1298.8L918.4 1299.9L921.4 1300.9L924.4 1301.6L927.4 1302.3L930.4 1302.9L933.4 1303.4L936.4 1303.8L939.4 1304L942.4 1304.2L945.4 1304.3L948.4 1304.4L950.7 1304.4L951.4 1304.4L954.4 1304.4L957.4 1304.3L960.4 1304.1L963.4 1303.9L966.4 1303.7L969.4 1303.2L972.4 1302.7L975.4 1302L978.4 1301.3L981.4 1300.4L984.4 1299.4L987.4 1298.3L990.4 1297.1L993.4 1295.9L996.4 1294.6L999.4 1293.3L1002.4 1291.9L1005.4 1290.6L1008.4 1289.2L1011.4 1287.9L1014.4 1286.5L1017.4 1285L1020.4 1283.5L1023.4 1282L1026.4 1280.4L1029.4 1278.7L1032.4 1277L1035.4 1275.2L1038.4 1273.4L1041.4 1271.5L1044.4 1269.7L1047.4 1267.9L1050.4 1266.1L1053.4 1264.4L1056.4 1262.9L1059.4 1261.6L1062.4 1260.4L1065.4 1259.3L1068.4 1258.4L1071.4 1257.8L1074.4 1257.3L1077.4 1256.9L1080.4 1256.6L1083.4 1256.5L1086.4 1256.5L1089.4 1256.5L1092.4 1257.3L1095.4 1258.4L1098.4 1259.9L1101.4 1261.7L1104.4 1263.7L1107.4 1266L1110.4 1268.5L1111 1268.9L1113.4 1266.9L1116.4 1264.5L1119.4 1262.3L1122.4 1260.5L1125.4 1258.9L1128.4 1257.6L1131.4 1256.8L1134.4 1256.5L1137.4 1256.5L1140.4 1256.5L1143.4 1256.8L1146.4 1257.1L1149.4 1257.6L1152.4 1258.2L1155.4 1259L1158.4 1260L1161.4 1261.2L1164.4 1262.4L1167.4 1263.9L1170.4 1265.5L1173.4 1267.3L1176.4 1269.1L1179.4 1270.8L1182.4 1272.7L1185.4 1274.5L1188.4 1276.4L1191.4 1278.1L1194.4 1279.8L1197.4 1281.4L1200.4 1283L1203.4 1284.5L1206.4 1285.9L1209.4 1287.4L1212.4 1288.7L1215.4 1290.1L1218.4 1291.4L1221.4 1292.8L1224.4 1294.1L1227.4 1295.5L1230.4 1296.7L1233.4 1297.9L1236.4 1299L1239.4 1300.1L1242.4 1301L1245.4 1301.8L1248.4 1302.4L1251.4 1303L1254.4 1303.5L1257.4 1303.8L1260.4 1304L1263.4 1304.2L1266.4 1304.3L1269.4 1304.4L1271.2 1304.4L1272.4 1304.4L1275.4 1304.4L1278.4 1304.2L1281.4 1304.1L1284.4 1303.9L1287.4 1303.6L1290.4 1303.1L1293.4 1302.6L1296.4 1301.9L1299.4 1301.2L1302.4 1300.3L1305.4 1299.2L1308.4 1298.1L1311.4 1296.9L1314.4 1295.7L1317.4 1294.4L1320.4 1293.1L1323.4 1291.7L1326.4 1290.3L1329.4 1289L1332.4 1287.6L1335.4 1286.2L1338.4 1284.8L1341.4 1283.3L1344.4 1281.7L1347.4 1280.1L1350.4 1278.4L1353.4 1276.7L1356.4 1274.9L1359.4 1273L1362.4 1271.2L1365.4 1269.4L1368.4 1267.6L1371.4 1265.8L1374.4 1264.2L1377.4 1262.7L1380.4 1261.4L1383.4 1260.2L1386.4 1259.2L1389.4 1258.3L1392.4 1257.7L1395.4 1257.2L1398.4 1256.8L1401.4 1256.6L1404.4 1256.5L1407.4 1256.5L1410.4 1256.6L1413.4 1257.5L1416.4 1258.6L1419.4 1260.2L1422.4 1262L1425.4 1264.1L1428.4 1266.4L1431.4 1268.9L1431.4 1268.9L1434.4 1266.5L1437.4 1264.1L1440.4 1262L1443.4 1260.2L1446.4 1258.7L1449.4 1257.5L1452.4 1256.6L1455.4 1256.5L1458.4 1256.5L1461.4 1256.6L1464.4 1256.8L1467.4 1257.2L1470.4 1257.7L1473.4 1258.3L1476.4 1259.2L1479.4 1260.2L1482.4 1261.4L1485.4 1262.7L1488.4 1264.1L1491.4 1265.8L1494.4 1267.6L1497.4 1269.4L1500.4 1271.1L1503.4 1273L1506.4 1274.9L1509.4 1276.7L1512.4 1278.4L1515.4 1280.1L1518.4 1281.7L1521.4 1283.2L1524.4 1284.7L1527.4 1286.2L1530.4 1287.6L1532.2 1288.4L1534.5 1288.4L1534.5 1329.4L1532.2 1329.4L1530.4 1328.3L1527.4 1326.5L1524.4 1324.6L1521.4 1322.6L1518.4 1320.7L1515.4 1318.6L1512.4 1316.5L1509.4 1314.5L1506.4 1312.5L1503.4 1310.5L1500.4 1308.4L1497.4 1306.4L1494.4 1304.4L1491.4 1302.5L1488.4 1300.6L1485.4 1298.9L1482.4 1297.7L1479.4 1296.7L1476.4 1295.8L1473.4 1295L1470.4 1294.5L1467.4 1294.1L1464.4 1293.4L1461.4 1292.8L1458.4 1292.4L1455.4 1292.1L1452.4 1291.8L1449.4 1291.7L1446.4 1291.4L1443.4 1291.4L1440.4 1291.7L1437.4 1292.3L1434.4 1293.1L1431.4 1294L1431.4 1294L1428.4 1293.1L1425.4 1292.2L1422.4 1291.6L1419.4 1291.4L1416.4 1291.4L1413.4 1291.7L1410.4 1291.8L1407.4 1292.1L1404.4 1292.4L1401.4 1292.8L1398.4 1293.4L1395.4 1294.1L1392.4 1294.5L1389.4 1295L1386.4 1295.8L1383.4 1296.7L1380.4 1297.8L1377.4 1299L1374.4 1300.6L1371.4 1302.5L1368.4 1304.5L1365.4 1306.5L1362.4 1308.4L1359.4 1310.5L1356.4 1312.6L1353.4 1314.6L1350.4 1316.5L1347.4 1318.7L1344.4 1320.7L1341.4 1322.7L1338.4 1324.6L1335.4 1326.5L1332.4 1328.3L1329.4 1330.1L1326.4 1331.9L1323.4 1333.5L1320.4 1334.9L1317.4 1336.3L1314.4 1337.6L1311.4 1338.8L1308.4 1340L1305.4 1341.1L1302.4 1342.2L1299.4 1343.1L1296.4 1343.8L1293.4 1344.5L1290.4 1345.1L1287.4 1345.5L1284.4 1345.8L1281.4 1346L1278.4 1346.2L1275.4 1346.3L1272.4 1346.4L1271.2 1346.4L1269.4 1346.4L1266.4 1346.3L1263.4 1346.2L1260.4 1346L1257.4 1345.8L1254.4 1345.4L1251.4 1345L1248.4 1344.3L1245.4 1343.7L1242.4 1342.9L1239.4 1342L1236.4 1340.9L1233.4 1339.7L1230.4 1338.6L1227.4 1337.3L1224.4 1336L1221.4 1334.6L1218.4 1333.3L1215.4 1331.6L1212.4 1329.8L1209.4 1328L1206.4 1326.2L1203.4 1324.2L1200.4 1322.3L1197.4 1320.3L1194.4 1318.2L1191.4 1316.1L1188.4 1314.2L1185.4 1312.2L1182.4 1310.1L1179.4 1308L1176.4 1306.1L1173.4 1304.1L1170.4 1302.1L1167.4 1300.3L1164.4 1298.7L1161.4 1297.5L1158.4 1296.5L1155.4 1295.6L1152.4 1294.9L1149.4 1294.4L1146.4 1294L1143.4 1293.3L1140.4 1292.7L1137.4 1292.4L1134.4 1292L1131.4 1291.8L1128.4 1291.6L1125.4 1291.3L1122.4 1291.5L1119.4 1291.7L1116.4 1292.4L1113.4 1293.3L1111 1294L1110.4 1293.9L1107.4 1292.9L1104.4 1292.1L1101.4 1291.6L1098.4 1291.4L1095.4 1291.4L1092.4 1291.7L1089.4 1291.9L1086.4 1292.2L1083.4 1292.5L1080.4 1292.9L1077.4 1293.6L1074.4 1294.2L1071.4 1294.6L1068.4 1295.1L1065.4 1295.9L1062.4 1296.9L1059.4 1297.9L1056.4 1299.2L1053.4 1300.9L1050.4 1302.8L1047.4 1304.8L1044.4 1306.8L1041.4 1308.8L1038.4 1310.9L1035.4 1312.9L1032.4 1314.9L1029.4 1316.9L1026.4 1319L1023.4 1321L1020.4 1323L1017.4 1325L1014.4 1326.8L1011.4 1328.7L1008.4 1330.4L1005.4 1332.2L1002.4 1333.8L999.4 1335.1L996.4 1336.5L993.4 1337.8L990.4 1339L987.4 1340.2L984.4 1341.3L981.4 1342.3L978.4 1343.2L975.4 1343.9L972.4 1344.6L969.4 1345.2L966.4 1345.6L963.4 1345.9L960.4 1346.1L957.4 1346.2L954.4 1346.3L951.4 1346.4L950.7 1346.4L948.4 1346.4L945.4 1346.3L942.4 1346.1L939.4 1346L936.4 1345.7L933.4 1345.4L930.4 1344.9L927.4 1344.2L924.4 1343.5L921.4 1342.8L918.4 1341.8L915.4 1340.7L912.4 1339.5L909.4 1338.4L906.4 1337.1L903.4 1335.8L900.4 1334.4L897.4 1333L895.1 1333Z" fill="#0000cf"/>
<path d="M895.1 1292.4L897.4 1292.4L900.4 1293.7L903.4 1295.1L906.4 1296.4L909.4 1297.7L912.4 1298.8L915.4 1300L918.4 1301.1L921.4 1302L924.4 1302.8L927.4 1303.5L930.4 1304.1L933.4 1304.6L936.4 1305L939.4 1305.2L942.4 1305.4L945.4 1305.5L948.4 1305.6L950.7 1305.6L951.4 1305.6L954.4 1305.6L957.4 1305.5L960.4 1305.3L963.4 1305.1L966.4 1304.8L969.4 1304.4L972.4 1303.8L975.4 1303.2L978.4 1302.5L981.4 1301.6L984.4 1300.6L987.4 1299.5L990.4 1298.3L993.4 1297.1L996.4 1295.8L999.4 1294.5L1002.4 1293.1L1005.4 1291.7L1008.4 1290.4L1011.4 1289L1014.4 1287.6L1017.4 1286.2L1020.4 1284.7L1023.4 1283.1L1026.4 1281.5L1029.4 1279.8L1032.4 1278.1L1035.4 1276.4L1038.4 1274.5L1041.4 1272.6L1044.4 1270.8L1047.4 1269L1050.4 1267.2L1053.4 1265.5L1056.4 1264L1059.4 1262.7L1062.4 1261.5L1065.4 1260.4L1068.4 1259.5L1071.4 1258.8L1074.4 1258.3L1077.4 1257.9L1080.4 1257.6L1083.4 1257.4L1086.4 1257.4L1089.4 1257.5L1092.4 1258.2L1095.4 1259.3L1098.4 1260.7L1101.4 1262.4L1104.4 1264.4L1107.4 1266.7L1110.4 1269.1L1111 1269.6L1113.4 1267.6L1116.4 1265.3L1119.4 1263.1L1122.4 1261.4L1125.4 1259.8L1128.4 1258.5L1131.4 1257.7L1134.4 1257.4L1137.4 1257.4L1140.4 1257.5L1143.4 1257.8L1146.4 1258.1L1149.4 1258.6L1152.4 1259.2L1155.4 1260L1158.4 1261.1L1161.4 1262.2L1164.4 1263.5L1167.4 1264.9L1170.4 1266.6L1173.4 1268.4L1176.4 1270.2L1179.4 1271.9L1182.4 1273.8L1185.4 1275.7L1188.4 1277.5L1191.4 1279.2L1194.4 1280.9L1197.4 1282.5L1200.4 1284.1L1203.4 1285.6L1206.4 1287.1L1209.4 1288.5L1212.4 1289.9L1215.4 1291.2L1218.4 1292.6L1221.4 1294L1224.4 1295.3L1227.4 1296.6L1230.4 1297.9L1233.4 1299L1236.4 1300.2L1239.4 1301.3L1242.4 1302.2L1245.4 1302.9L1248.4 1303.6L1251.4 1304.2L1254.4 1304.7L1257.4 1305L1260.4 1305.2L1263.4 1305.4L1266.4 1305.5L1269.4 1305.6L1271.2 1305.6L1272.4 1305.6L1275.4 1305.6L1278.4 1305.4L1281.4 1305.3L1284.4 1305.1L1287.4 1304.8L1290.4 1304.3L1293.4 1303.7L1296.4 1303.1L1299.4 1302.3L1302.4 1301.4L1305.4 1300.4L1308.4 1299.3L1311.4 1298.1L1314.4 1296.9L1317.4 1295.6L1320.4 1294.2L1323.4 1292.8L1326.4 1291.5L1329.4 1290.2L1332.4 1288.8L1335.4 1287.4L1338.4 1285.9L1341.4 1284.4L1344.4 1282.9L1347.4 1281.2L1350.4 1279.5L1353.4 1277.8L1356.4 1276L1359.4 1274.1L1362.4 1272.3L1365.4 1270.5L1368.4 1268.7L1371.4 1266.9L1374.4 1265.2L1377.4 1263.7L1380.4 1262.5L1383.4 1261.3L1386.4 1260.2L1389.4 1259.3L1392.4 1258.7L1395.4 1258.2L1398.4 1257.8L1401.4 1257.5L1404.4 1257.4L1407.4 1257.4L1410.4 1257.6L1413.4 1258.4L1416.4 1259.5L1419.4 1261L1422.4 1262.8L1425.4 1264.8L1428.4 1267.2L1431.4 1269.6L1431.4 1269.6L1434.4 1267.2L1437.4 1264.9L1440.4 1262.8L1443.4 1261.1L1446.4 1259.5L1449.4 1258.4L1452.4 1257.6L1455.4 1257.4L1458.4 1257.4L1461.4 1257.5L1464.4 1257.8L1467.4 1258.2L1470.4 1258.7L1473.4 1259.3L1476.4 1260.2L1479.4 1261.3L1482.4 1262.5L1485.4 1263.7L1488.4 1265.2L1491.4 1266.9L1494.4 1268.7L1497.4 1270.5L1500.4 1272.2L1503.4 1274.1L1506.4 1276L1509.4 1277.8L1512.4 1279.5L1515.4 1281.2L1518.4 1282.8L1521.4 1284.4L1524.4 1285.9L1527.4 1287.4L1530.4 1288.8L1532.2 1289.6L1534.5 1289.6L1534.5 1328.7L1532.2 1328.7L1530.4 1327.6L1527.4 1325.8L1524.4 1323.9L1521.4 1322L1518.4 1320L1515.4 1318L1512.4 1315.9L1509.4 1313.9L1506.4 1311.9L1503.4 1309.9L1500.4 1307.8L1497.4 1305.8L1494.4 1303.8L1491.4 1301.9L1488.4 1300L1485.4 1298.3L1482.4 1297.1L1479.4 1296L1476.4 1295.1L1473.4 1294.4L1470.4 1293.8L1467.4 1293.4L1464.4 1292.7L1461.4 1292.1L1458.4 1291.7L1455.4 1291.4L1452.4 1291.2L1449.4 1291L1446.4 1290.7L1443.4 1290.8L1440.4 1291.1L1437.4 1291.7L1434.4 1292.6L1431.4 1293.5L1431.4 1293.5L1428.4 1292.6L1425.4 1291.7L1422.4 1291.1L1419.4 1290.8L1416.4 1290.7L1413.4 1291L1410.4 1291.2L1407.4 1291.4L1404.4 1291.7L1401.4 1292.2L1398.4 1292.8L1395.4 1293.4L1392.4 1293.8L1389.4 1294.4L1386.4 1295.1L1383.4 1296.1L1380.4 1297.1L1377.4 1298.4L1374.4 1300L1371.4 1301.9L1368.4 1303.9L1365.4 1305.9L1362.4 1307.8L1359.4 1309.9L1356.4 1312L1353.4 1314L1350.4 1315.9L1347.4 1318L1344.4 1320.1L1341.4 1322L1338.4 1323.9L1335.4 1325.8L1332.4 1327.6L1329.4 1329.4L1326.4 1331.2L1323.4 1332.8L1320.4 1334.1L1317.4 1335.5L1314.4 1336.8L1311.4 1338L1308.4 1339.2L1305.4 1340.3L1302.4 1341.4L1299.4 1342.3L1296.4 1343.1L1293.4 1343.7L1290.4 1344.3L1287.4 1344.8L1284.4 1345.1L1281.4 1345.3L1278.4 1345.5L1275.4 1345.6L1272.4 1345.6L1271.2 1345.6L1269.4 1345.6L1266.4 1345.6L1263.4 1345.4L1260.4 1345.3L1257.4 1345L1254.4 1344.7L1251.4 1344.2L1248.4 1343.6L1245.4 1342.9L1242.4 1342.2L1239.4 1341.2L1236.4 1340.1L1233.4 1339L1230.4 1337.8L1227.4 1336.6L1224.4 1335.2L1221.4 1333.9L1218.4 1332.5L1215.4 1330.8L1212.4 1329.1L1209.4 1327.3L1206.4 1325.5L1203.4 1323.6L1200.4 1321.6L1197.4 1319.7L1194.4 1317.6L1191.4 1315.5L1188.4 1313.6L1185.4 1311.6L1182.4 1309.5L1179.4 1307.5L1176.4 1305.5L1173.4 1303.5L1170.4 1301.5L1167.4 1299.7L1164.4 1298.1L1161.4 1296.9L1158.4 1295.9L1155.4 1295L1152.4 1294.2L1149.4 1293.8L1146.4 1293.3L1143.4 1292.6L1140.4 1292.1L1137.4 1291.7L1134.4 1291.4L1131.4 1291.1L1128.4 1290.9L1125.4 1290.7L1122.4 1290.8L1119.4 1291.1L1116.4 1291.9L1113.4 1292.7L1111 1293.5L1110.4 1293.3L1107.4 1292.4L1104.4 1291.5L1101.4 1291L1098.4 1290.8L1095.4 1290.7L1092.4 1291L1089.4 1291.2L1086.4 1291.5L1083.4 1291.8L1080.4 1292.3L1077.4 1292.9L1074.4 1293.5L1071.4 1293.9L1068.4 1294.5L1065.4 1295.3L1062.4 1296.2L1059.4 1297.3L1056.4 1298.6L1053.4 1300.3L1050.4 1302.2L1047.4 1304.2L1044.4 1306.2L1041.4 1308.2L1038.4 1310.3L1035.4 1312.3L1032.4 1314.3L1029.4 1316.3L1026.4 1318.4L1023.4 1320.4L1020.4 1322.4L1017.4 1324.3L1014.4 1326.1L1011.4 1327.9L1008.4 1329.7L1005.4 1331.5L1002.4 1333L999.4 1334.4L996.4 1335.7L993.4 1337L990.4 1338.2L987.4 1339.4L984.4 1340.5L981.4 1341.6L978.4 1342.5L975.4 1343.2L972.4 1343.8L969.4 1344.4L966.4 1344.9L963.4 1345.1L960.4 1345.3L957.4 1345.5L954.4 1345.6L951.4 1345.6L950.7 1345.6L948.4 1345.6L945.4 1345.6L942.4 1345.4L939.4 1345.2L936.4 1345L933.4 1344.6L930.4 1344.1L927.4 1343.5L924.4 1342.8L921.4 1342L918.4 1341L915.4 1339.9L912.4 1338.8L909.4 1337.6L906.4 1336.3L903.4 1335L900.4 1333.6L897.4 1332.3L895.1 1332.3Z" fill="#0000fa"/>
<path d="M895.1 1293.5L897.4 1293.5L900.4 1294.8L903.4 1296.2L906.4 1297.5L909.4 1298.8L912.4 1300L915.4 1301.1L918.4 1302.2L921.4 1303.2L924.4 1304L927.4 1304.6L930.4 1305.3L933.4 1305.8L936.4 1306.1L939.4 1306.4L942.4 1306.5L945.4 1306.7L948.4 1306.8L950.7 1306.8L951.4 1306.8L954.4 1306.7L957.4 1306.6L960.4 1306.5L963.4 1306.3L966.4 1306L969.4 1305.6L972.4 1305L975.4 1304.3L978.4 1303.6L981.4 1302.8L984.4 1301.7L987.4 1300.6L990.4 1299.4L993.4 1298.2L996.4 1296.9L999.4 1295.6L1002.4 1294.2L1005.4 1292.9L1008.4 1291.5L1011.4 1290.1L1014.4 1288.7L1017.4 1287.3L1020.4 1285.8L1023.4 1284.2L1026.4 1282.6L1029.4 1281L1032.4 1279.2L1035.4 1277.4L1038.4 1275.6L1041.4 1273.7L1044.4 1271.9L1047.4 1270.1L1050.4 1268.3L1053.4 1266.6L1056.4 1265L1059.4 1263.7L1062.4 1262.5L1065.4 1261.4L1068.4 1260.5L1071.4 1259.8L1074.4 1259.3L1077.4 1258.9L1080.4 1258.5L1083.4 1258.4L1086.4 1258.4L1089.4 1258.4L1092.4 1259.1L1095.4 1260.1L1098.4 1261.6L1101.4 1263.2L1104.4 1265.2L1107.4 1267.4L1110.4 1269.8L1111 1270.2L1113.4 1268.3L1116.4 1266L1119.4 1263.8L1122.4 1262.1L1125.4 1260.6L1128.4 1259.4L1131.4 1258.6L1134.4 1258.4L1137.4 1258.4L1140.4 1258.5L1143.4 1258.7L1146.4 1259.1L1149.4 1259.6L1152.4 1260.2L1155.4 1261L1158.4 1262.1L1161.4 1263.3L1164.4 1264.5L1167.4 1266L1170.4 1267.6L1173.4 1269.4L1176.4 1271.2L1179.4 1273L1182.4 1274.9L1185.4 1276.8L1188.4 1278.6L1191.4 1280.3L1194.4 1282L1197.4 1283.7L1200.4 1285.2L1203.4 1286.7L1206.4 1288.2L1209.4 1289.6L1212.4 1291L1215.4 1292.4L1218.4 1293.7L1221.4 1295.1L1224.4 1296.4L1227.4 1297.8L1230.4 1299L1233.4 1300.2L1236.4 1301.3L1239.4 1302.4L1242.4 1303.3L1245.4 1304.1L1248.4 1304.8L1251.4 1305.4L1254.4 1305.9L1257.4 1306.2L1260.4 1306.4L1263.4 1306.6L1266.4 1306.7L1269.4 1306.8L1271.2 1306.8L1272.4 1306.8L1275.4 1306.7L1278.4 1306.6L1281.4 1306.4L1284.4 1306.2L1287.4 1305.9L1290.4 1305.5L1293.4 1304.9L1296.4 1304.2L1299.4 1303.5L1302.4 1302.6L1305.4 1301.5L1308.4 1300.4L1311.4 1299.2L1314.4 1298L1317.4 1296.7L1320.4 1295.3L1323.4 1294L1326.4 1292.6L1329.4 1291.3L1332.4 1289.9L1335.4 1288.5L1338.4 1287L1341.4 1285.5L1344.4 1284L1347.4 1282.3L1350.4 1280.6L1353.4 1278.9L1356.4 1277.1L1359.4 1275.2L1362.4 1273.4L1365.4 1271.6L1368.4 1269.8L1371.4 1268L1374.4 1266.3L1377.4 1264.8L1380.4 1263.5L1383.4 1262.3L1386.4 1261.2L1389.4 1260.3L1392.4 1259.7L1395.4 1259.2L1398.4 1258.8L1401.4 1258.5L1404.4 1258.4L1407.4 1258.4L1410.4 1258.5L1413.4 1259.3L1416.4 1260.3L1419.4 1261.8L1422.4 1263.5L1425.4 1265.6L1428.4 1267.8L1431.4 1270.2L1431.4 1270.2L1434.4 1267.9L1437.4 1265.6L1440.4 1263.5L1443.4 1261.9L1446.4 1260.4L1449.4 1259.3L1452.4 1258.5L1455.4 1258.4L1458.4 1258.4L1461.4 1258.5L1464.4 1258.8L1467.4 1259.2L1470.4 1259.7L1473.4 1260.3L1476.4 1261.2L1479.4 1262.3L1482.4 1263.5L1485.4 1264.8L1488.4 1266.2L1491.4 1267.9L1494.4 1269.7L1497.4 1271.5L1500.4 1273.3L1503.4 1275.2L1506.4 1277.1L1509.4 1278.9L1512.4 1280.6L1515.4 1282.3L1518.4 1283.9L1521.4 1285.5L1524.4 1287L1527.4 1288.5L1530.4 1289.9L1532.2 1290.7L1534.5 1290.7L1534.5 1328L1532.2 1328L1530.4 1326.9L1527.4 1325.1L1524.4 1323.3L1521.4 1321.4L1518.4 1319.4L1515.4 1317.4L1512.4 1315.3L1509.4 1313.4L1506.4 1311.4L1503.4 1309.3L1500.4 1307.2L1497.4 1305.3L1494.4 1303.3L1491.4 1301.3L1488.4 1299.4L1485.4 1297.8L1482.4 1296.5L1479.4 1295.5L1476.4 1294.5L1473.4 1293.7L1470.4 1293.2L1467.4 1292.8L1464.4 1292.1L1461.4 1291.5L1458.4 1291.1L1455.4 1290.8L1452.4 1290.5L1449.4 1290.4L1446.4 1290.1L1443.4 1290.2L1440.4 1290.5L1437.4 1291.2L1434.4 1292.1L1431.4 1293.1L1431.4 1293.1L1428.4 1292.1L1425.4 1291.2L1422.4 1290.5L1419.4 1290.2L1416.4 1290.1L1413.4 1290.4L1410.4 1290.5L1407.4 1290.8L1404.4 1291.1L1401.4 1291.5L1398.4 1292.1L1395.4 1292.8L1392.4 1293.2L1389.4 1293.7L1386.4 1294.5L1383.4 1295.5L1380.4 1296.6L1377.4 1297.8L1374.4 1299.5L1371.4 1301.3L1368.4 1303.3L1365.4 1305.3L1362.4 1307.3L1359.4 1309.3L1356.4 1311.4L1353.4 1313.4L1350.4 1315.4L1347.4 1317.4L1344.4 1319.4L1341.4 1321.4L1338.4 1323.3L1335.4 1325.1L1332.4 1326.9L1329.4 1328.7L1326.4 1330.4L1323.4 1332L1320.4 1333.4L1317.4 1334.8L1314.4 1336.1L1311.4 1337.3L1308.4 1338.5L1305.4 1339.6L1302.4 1340.7L1299.4 1341.6L1296.4 1342.3L1293.4 1343L1290.4 1343.6L1287.4 1344.1L1284.4 1344.4L1281.4 1344.6L1278.4 1344.8L1275.4 1344.9L1272.4 1344.9L1271.2 1344.9L1269.4 1344.9L1266.4 1344.9L1263.4 1344.7L1260.4 1344.6L1257.4 1344.3L1254.4 1344L1251.4 1343.5L1248.4 1342.9L1245.4 1342.2L1242.4 1341.4L1239.4 1340.5L1236.4 1339.4L1233.4 1338.3L1230.4 1337.1L1227.4 1335.8L1224.4 1334.5L1221.4 1333.1L1218.4 1331.8L1215.4 1330.1L1212.4 1328.4L1209.4 1326.6L1206.4 1324.8L1203.4 1322.9L1200.4 1321L1197.4 1319.1L1194.4 1317L1191.4 1314.9L1188.4 1313L1185.4 1311L1182.4 1308.9L1179.4 1306.9L1176.4 1304.9L1173.4 1302.9L1170.4 1301L1167.4 1299.1L1164.4 1297.5L1161.4 1296.3L1158.4 1295.3L1155.4 1294.3L1152.4 1293.6L1149.4 1293.1L1146.4 1292.7L1143.4 1292L1140.4 1291.4L1137.4 1291L1134.4 1290.7L1131.4 1290.5L1128.4 1290.3L1125.4 1290.1L1122.4 1290.3L1119.4 1290.6L1116.4 1291.3L1113.4 1292.2L1111 1293.1L1110.4 1292.9L1107.4 1291.9L1104.4 1291L1101.4 1290.5L1098.4 1290.2L1095.4 1290.1L1092.4 1290.4L1089.4 1290.6L1086.4 1290.8L1083.4 1291.1L1080.4 1291.6L1077.4 1292.2L1074.4 1292.8L1071.4 1293.3L1068.4 1293.9L1065.4 1294.7L1062.4 1295.7L1059.4 1296.8L1056.4 1298.1L1053.4 1299.8L1050.4 1301.7L1047.4 1303.7L1044.4 1305.6L1041.4 1307.6L1038.4 1309.7L1035.4 1311.8L1032.4 1313.7L1029.4 1315.7L1026.4 1317.8L1023.4 1319.8L1020.4 1321.7L1017.4 1323.6L1014.4 1325.5L1011.4 1327.3L1008.4 1329L1005.4 1330.7L1002.4 1332.3L999.4 1333.6L996.4 1335L993.4 1336.3L990.4 1337.5L987.4 1338.7L984.4 1339.8L981.4 1340.9L978.4 1341.7L975.4 1342.5L972.4 1343.1L969.4 1343.7L966.4 1344.1L963.4 1344.4L960.4 1344.6L957.4 1344.8L954.4 1344.9L951.4 1344.9L950.7 1344.9L948.4 1344.9L945.4 1344.9L942.4 1344.7L939.4 1344.5L936.4 1344.3L933.4 1343.9L930.4 1343.4L927.4 1342.8L924.4 1342.1L921.4 1341.3L918.4 1340.3L915.4 1339.2L912.4 1338.1L909.4 1336.9L906.4 1335.6L903.4 1334.3L900.4 1332.9L897.4 1331.5L895.1 1331.5Z" fill="#0026ff"/>
<path d="M895.1 1294.3L897.4 1294.3L900.4 1295.7L903.4 1297L906.4 1298.4L909.4 1299.6L912.4 1300.8L915.4 1302L918.4 1303L921.4 1304L924.4 1304.8L927.4 1305.5L930.4 1306.1L933.4 1306.6L936.4 1307L939.4 1307.2L942.4 1307.4L945.4 1307.5L948.4 1307.6L950.7 1307.6L951.4 1307.6L954.4 1307.6L957.4 1307.5L960.4 1307.3L963.4 1307.1L966.4 1306.8L969.4 1306.4L972.4 1305.8L975.4 1305.2L978.4 1304.5L981.4 1303.6L984.4 1302.6L987.4 1301.4L990.4 1300.3L993.4 1299.1L996.4 1297.8L999.4 1296.4L1002.4 1295L1005.4 1293.7L1008.4 1292.3L1011.4 1291L1014.4 1289.6L1017.4 1288.1L1020.4 1286.6L1023.4 1285.1L1026.4 1283.4L1029.4 1281.8L1032.4 1280.1L1035.4 1278.2L1038.4 1276.4L1041.4 1274.5L1044.4 1272.7L1047.4 1270.9L1050.4 1269L1053.4 1267.3L1056.4 1265.8L1059.4 1264.5L1062.4 1263.2L1065.4 1262.1L1068.4 1261.2L1071.4 1260.5L1074.4 1260L1077.4 1259.6L1080.4 1259.2L1083.4 1259.1L1086.4 1259.1L1089.4 1259.1L1092.4 1259.8L1095.4 1260.7L1098.4 1262.1L1101.4 1263.8L1104.4 1265.7L1107.4 1267.9L1110.4 1270.3L1111 1270.7L1113.4 1268.8L1116.4 1266.5L1119.4 1264.4L1122.4 1262.7L1125.4 1261.2L1128.4 1260.1L1131.4 1259.3L1134.4 1259.1L1137.4 1259.1L1140.4 1259.2L1143.4 1259.4L1146.4 1259.8L1149.4 1260.3L1152.4 1260.9L1155.4 1261.8L1158.4 1262.8L1161.4 1264L1164.4 1265.3L1167.4 1266.7L1170.4 1268.4L1173.4 1270.2L1176.4 1272L1179.4 1273.8L1182.4 1275.7L1185.4 1277.6L1188.4 1279.4L1191.4 1281.1L1194.4 1282.8L1197.4 1284.5L1200.4 1286L1203.4 1287.6L1206.4 1289L1209.4 1290.5L1212.4 1291.8L1215.4 1293.2L1218.4 1294.5L1221.4 1295.9L1224.4 1297.3L1227.4 1298.6L1230.4 1299.8L1233.4 1301L1236.4 1302.2L1239.4 1303.2L1242.4 1304.2L1245.4 1304.9L1248.4 1305.6L1251.4 1306.2L1254.4 1306.7L1257.4 1307L1260.4 1307.2L1263.4 1307.4L1266.4 1307.6L1269.4 1307.6L1271.2 1307.6L1272.4 1307.6L1275.4 1307.6L1278.4 1307.5L1281.4 1307.3L1284.4 1307.1L1287.4 1306.8L1290.4 1306.3L1293.4 1305.7L1296.4 1305.1L1299.4 1304.3L1302.4 1303.4L1305.4 1302.4L1308.4 1301.2L1311.4 1300.1L1314.4 1298.8L1317.4 1297.5L1320.4 1296.2L1323.4 1294.8L1326.4 1293.4L1329.4 1292.1L1332.4 1290.7L1335.4 1289.3L1338.4 1287.9L1341.4 1286.3L1344.4 1284.8L1347.4 1283.2L1350.4 1281.5L1353.4 1279.7L1356.4 1277.9L1359.4 1276L1362.4 1274.1L1365.4 1272.3L1368.4 1270.5L1371.4 1268.7L1374.4 1267L1377.4 1265.5L1380.4 1264.2L1383.4 1263L1386.4 1262L1389.4 1261.1L1392.4 1260.4L1395.4 1259.9L1398.4 1259.5L1401.4 1259.2L1404.4 1259.1L1407.4 1259.1L1410.4 1259.2L1413.4 1259.9L1416.4 1261L1419.4 1262.4L1422.4 1264.1L1425.4 1266.1L1428.4 1268.3L1431.4 1270.7L1431.4 1270.7L1434.4 1268.4L1437.4 1266.1L1440.4 1264.1L1443.4 1262.5L1446.4 1261L1449.4 1259.9L1452.4 1259.2L1455.4 1259.1L1458.4 1259.1L1461.4 1259.2L1464.4 1259.5L1467.4 1259.9L1470.4 1260.4L1473.4 1261.1L1476.4 1261.9L1479.4 1263L1482.4 1264.2L1485.4 1265.5L1488.4 1267L1491.4 1268.7L1494.4 1270.5L1497.4 1272.3L1500.4 1274.1L1503.4 1276L1506.4 1277.9L1509.4 1279.7L1512.4 1281.4L1515.4 1283.1L1518.4 1284.8L1521.4 1286.3L1524.4 1287.8L1527.4 1289.3L1530.4 1290.7L1532.2 1291.5L1534.5 1291.5L1534.5 1327.5L1532.2 1327.5L1530.4 1326.5L1527.4 1324.7L1524.4 1322.8L1521.4 1321L1518.4 1319L1515.4 1317L1512.4 1314.9L1509.4 1313L1506.4 1311L1503.4 1308.9L1500.4 1306.9L1497.4 1304.9L1494.4 1302.9L1491.4 1300.9L1488.4 1299.1L1485.4 1297.4L1482.4 1296.2L1479.4 1295.1L1476.4 1294.1L1473.4 1293.3L1470.4 1292.8L1467.4 1292.3L1464.4 1291.7L1461.4 1291.1L1458.4 1290.7L1455.4 1290.4L1452.4 1290.1L1449.4 1290L1446.4 1289.7L1443.4 1289.8L1440.4 1290.2L1437.4 1290.8L1434.4 1291.8L1431.4 1292.8L1431.4 1292.8L1428.4 1291.7L1425.4 1290.8L1422.4 1290.2L1419.4 1289.8L1416.4 1289.7L1413.4 1290L1410.4 1290.1L1407.4 1290.4L1404.4 1290.7L1401.4 1291.1L1398.4 1291.7L1395.4 1292.3L1392.4 1292.8L1389.4 1293.3L1386.4 1294.1L1383.4 1295.1L1380.4 1296.2L1377.4 1297.4L1374.4 1299.1L1371.4 1301L1368.4 1302.9L1365.4 1304.9L1362.4 1306.9L1359.4 1309L1356.4 1311L1353.4 1313L1350.4 1315L1347.4 1317.1L1344.4 1319.1L1341.4 1321L1338.4 1322.9L1335.4 1324.7L1332.4 1326.5L1329.4 1328.3L1326.4 1330L1323.4 1331.6L1320.4 1332.9L1317.4 1334.3L1314.4 1335.6L1311.4 1336.9L1308.4 1338L1305.4 1339.2L1302.4 1340.2L1299.4 1341.2L1296.4 1341.9L1293.4 1342.6L1290.4 1343.2L1287.4 1343.6L1284.4 1343.9L1281.4 1344.1L1278.4 1344.3L1275.4 1344.5L1272.4 1344.5L1271.2 1344.5L1269.4 1344.5L1266.4 1344.4L1263.4 1344.3L1260.4 1344.1L1257.4 1343.9L1254.4 1343.6L1251.4 1343.1L1248.4 1342.4L1245.4 1341.8L1242.4 1341L1239.4 1340L1236.4 1339L1233.4 1337.8L1230.4 1336.6L1227.4 1335.4L1224.4 1334.1L1221.4 1332.7L1218.4 1331.3L1215.4 1329.7L1212.4 1327.9L1209.4 1326.2L1206.4 1324.4L1203.4 1322.5L1200.4 1320.6L1197.4 1318.7L1194.4 1316.7L1191.4 1314.6L1188.4 1312.7L1185.4 1310.6L1182.4 1308.6L1179.4 1306.5L1176.4 1304.6L1173.4 1302.6L1170.4 1300.6L1167.4 1298.8L1164.4 1297.1L1161.4 1296L1158.4 1294.9L1155.4 1294L1152.4 1293.2L1149.4 1292.7L1146.4 1292.2L1143.4 1291.6L1140.4 1291L1137.4 1290.6L1134.4 1290.3L1131.4 1290.1L1128.4 1289.9L1125.4 1289.7L1122.4 1289.9L1119.4 1290.2L1116.4 1291L1113.4 1291.9L1111 1292.8L1110.4 1292.6L1107.4 1291.6L1104.4 1290.7L1101.4 1290.1L1098.4 1289.8L1095.4 1289.7L1092.4 1290L1089.4 1290.1L1086.4 1290.4L1083.4 1290.7L1080.4 1291.2L1077.4 1291.8L1074.4 1292.4L1071.4 1292.9L1068.4 1293.5L1065.4 1294.3L1062.4 1295.3L1059.4 1296.4L1056.4 1297.7L1053.4 1299.4L1050.4 1301.3L1047.4 1303.3L1044.4 1305.3L1041.4 1307.3L1038.4 1309.3L1035.4 1311.4L1032.4 1313.4L1029.4 1315.4L1026.4 1317.4L1023.4 1319.4L1020.4 1321.3L1017.4 1323.2L1014.4 1325L1011.4 1326.8L1008.4 1328.6L1005.4 1330.3L1002.4 1331.8L999.4 1333.2L996.4 1334.5L993.4 1335.9L990.4 1337.1L987.4 1338.2L984.4 1339.4L981.4 1340.4L978.4 1341.3L975.4 1342L972.4 1342.7L969.4 1343.3L966.4 1343.7L963.4 1344L960.4 1344.2L957.4 1344.4L954.4 1344.5L951.4 1344.5L950.7 1344.5L948.4 1344.5L945.4 1344.4L942.4 1344.3L939.4 1344.1L936.4 1343.8L933.4 1343.5L930.4 1343L927.4 1342.3L924.4 1341.6L921.4 1340.8L918.4 1339.9L915.4 1338.8L912.4 1337.6L909.4 1336.4L906.4 1335.2L903.4 1333.8L900.4 1332.4L897.4 1331.1L895.1 1331.1Z" fill="#0051ff"/>
<path d="M895.1 1295.1L897.4 1295.1L900.4 1296.5L903.4 1297.9L906.4 1299.2L909.4 1300.5L912.4 1301.6L915.4 1302.8L918.4 1303.9L921.4 1304.9L924.4 1305.6L927.4 1306.3L930.4 1307L933.4 1307.5L936.4 1307.8L939.4 1308.1L942.4 1308.2L945.4 1308.4L948.4 1308.5L950.7 1308.5L951.4 1308.5L954.4 1308.4L957.4 1308.3L960.4 1308.2L963.4 1308L966.4 1307.7L969.4 1307.3L972.4 1306.7L975.4 1306L978.4 1305.3L981.4 1304.4L984.4 1303.4L987.4 1302.3L990.4 1301.1L993.4 1299.9L996.4 1298.6L999.4 1297.2L1002.4 1295.9L1005.4 1294.5L1008.4 1293.2L1011.4 1291.8L1014.4 1290.4L1017.4 1288.9L1020.4 1287.4L1023.4 1285.9L1026.4 1284.3L1029.4 1282.6L1032.4 1280.9L1035.4 1279.1L1038.4 1277.2L1041.4 1275.3L1044.4 1273.4L1047.4 1271.6L1050.4 1269.8L1053.4 1268.1L1056.4 1266.5L1059.4 1265.2L1062.4 1264L1065.4 1262.9L1068.4 1262L1071.4 1261.3L1074.4 1260.7L1077.4 1260.3L1080.4 1260L1083.4 1259.8L1086.4 1259.8L1089.4 1259.8L1092.4 1260.4L1095.4 1261.4L1098.4 1262.7L1101.4 1264.3L1104.4 1266.2L1107.4 1268.4L1110.4 1270.8L1111 1271.2L1113.4 1269.3L1116.4 1267.1L1119.4 1265L1122.4 1263.3L1125.4 1261.8L1128.4 1260.7L1131.4 1260L1134.4 1259.8L1137.4 1259.8L1140.4 1259.9L1143.4 1260.1L1146.4 1260.6L1149.4 1261.1L1152.4 1261.7L1155.4 1262.5L1158.4 1263.6L1161.4 1264.8L1164.4 1266L1167.4 1267.5L1170.4 1269.2L1173.4 1271L1176.4 1272.8L1179.4 1274.6L1182.4 1276.5L1185.4 1278.4L1188.4 1280.2L1191.4 1281.9L1194.4 1283.7L1197.4 1285.3L1200.4 1286.9L1203.4 1288.4L1206.4 1289.9L1209.4 1291.3L1212.4 1292.7L1215.4 1294L1218.4 1295.4L1221.4 1296.7L1224.4 1298.1L1227.4 1299.4L1230.4 1300.7L1233.4 1301.8L1236.4 1303L1239.4 1304.1L1242.4 1305L1245.4 1305.8L1248.4 1306.4L1251.4 1307.1L1254.4 1307.5L1257.4 1307.9L1260.4 1308.1L1263.4 1308.3L1266.4 1308.4L1269.4 1308.5L1271.2 1308.5L1272.4 1308.5L1275.4 1308.4L1278.4 1308.3L1281.4 1308.1L1284.4 1307.9L1287.4 1307.6L1290.4 1307.2L1293.4 1306.6L1296.4 1305.9L1299.4 1305.2L1302.4 1304.3L1305.4 1303.2L1308.4 1302.1L1311.4 1300.9L1314.4 1299.7L1317.4 1298.4L1320.4 1297L1323.4 1295.6L1326.4 1294.3L1329.4 1292.9L1332.4 1291.6L1335.4 1290.1L1338.4 1288.7L1341.4 1287.2L1344.4 1285.6L1347.4 1284L1350.4 1282.3L1353.4 1280.6L1356.4 1278.7L1359.4 1276.8L1362.4 1274.9L1365.4 1273.1L1368.4 1271.3L1371.4 1269.5L1374.4 1267.8L1377.4 1266.3L1380.4 1265L1383.4 1263.8L1386.4 1262.7L1389.4 1261.8L1392.4 1261.2L1395.4 1260.6L1398.4 1260.2L1401.4 1259.9L1404.4 1259.8L1407.4 1259.8L1410.4 1259.8L1413.4 1260.6L1416.4 1261.6L1419.4 1263L1422.4 1264.6L1425.4 1266.6L1428.4 1268.8L1431.4 1271.2L1431.4 1271.2L1434.4 1268.9L1437.4 1266.7L1440.4 1264.7L1443.4 1263L1446.4 1261.6L1449.4 1260.6L1452.4 1259.9L1455.4 1259.8L1458.4 1259.8L1461.4 1259.9L1464.4 1260.2L1467.4 1260.6L1470.4 1261.2L1473.4 1261.8L1476.4 1262.7L1479.4 1263.8L1482.4 1265L1485.4 1266.3L1488.4 1267.8L1491.4 1269.5L1494.4 1271.3L1497.4 1273.1L1500.4 1274.9L1503.4 1276.8L1506.4 1278.7L1509.4 1280.5L1512.4 1282.2L1515.4 1283.9L1518.4 1285.6L1521.4 1287.1L1524.4 1288.6L1527.4 1290.1L1530.4 1291.5L1532.2 1292.4L1534.5 1292.4L1534.5 1327.1L1532.2 1327.1L1530.4 1326L1527.4 1324.3L1524.4 1322.4L1521.4 1320.6L1518.4 1318.6L1515.4 1316.6L1512.4 1314.6L1509.4 1312.6L1506.4 1310.6L1503.4 1308.6L1500.4 1306.5L1497.4 1304.5L1494.4 1302.5L1491.4 1300.6L1488.4 1298.7L1485.4 1297L1482.4 1295.8L1479.4 1294.7L1476.4 1293.7L1473.4 1292.9L1470.4 1292.4L1467.4 1291.9L1464.4 1291.2L1461.4 1290.7L1458.4 1290.2L1455.4 1289.9L1452.4 1289.7L1449.4 1289.6L1446.4 1289.3L1443.4 1289.5L1440.4 1289.8L1437.4 1290.5L1434.4 1291.4L1431.4 1292.5L1431.4 1292.5L1428.4 1291.4L1425.4 1290.5L1422.4 1289.8L1419.4 1289.5L1416.4 1289.3L1413.4 1289.6L1410.4 1289.7L1407.4 1290L1404.4 1290.3L1401.4 1290.7L1398.4 1291.3L1395.4 1291.9L1392.4 1292.4L1389.4 1292.9L1386.4 1293.7L1383.4 1294.7L1380.4 1295.8L1377.4 1297.1L1374.4 1298.7L1371.4 1300.6L1368.4 1302.6L1365.4 1304.6L1362.4 1306.5L1359.4 1308.6L1356.4 1310.7L1353.4 1312.7L1350.4 1314.6L1347.4 1316.7L1344.4 1318.7L1341.4 1320.6L1338.4 1322.5L1335.4 1324.3L1332.4 1326.1L1329.4 1327.8L1326.4 1329.5L1323.4 1331.1L1320.4 1332.5L1317.4 1333.8L1314.4 1335.2L1311.4 1336.4L1308.4 1337.6L1305.4 1338.7L1302.4 1339.8L1299.4 1340.7L1296.4 1341.4L1293.4 1342.1L1290.4 1342.7L1287.4 1343.2L1284.4 1343.5L1281.4 1343.7L1278.4 1343.9L1275.4 1344L1272.4 1344.1L1271.2 1344.1L1269.4 1344.1L1266.4 1344L1263.4 1343.9L1260.4 1343.7L1257.4 1343.4L1254.4 1343.1L1251.4 1342.6L1248.4 1342L1245.4 1341.3L1242.4 1340.5L1239.4 1339.6L1236.4 1338.5L1233.4 1337.3L1230.4 1336.2L1227.4 1334.9L1224.4 1333.6L1221.4 1332.2L1218.4 1330.8L1215.4 1329.2L1212.4 1327.5L1209.4 1325.7L1206.4 1323.9L1203.4 1322.1L1200.4 1320.2L1197.4 1318.3L1194.4 1316.3L1191.4 1314.2L1188.4 1312.3L1185.4 1310.3L1182.4 1308.2L1179.4 1306.2L1176.4 1304.2L1173.4 1302.2L1170.4 1300.2L1167.4 1298.4L1164.4 1296.8L1161.4 1295.6L1158.4 1294.5L1155.4 1293.6L1152.4 1292.8L1149.4 1292.3L1146.4 1291.8L1143.4 1291.1L1140.4 1290.6L1137.4 1290.2L1134.4 1289.9L1131.4 1289.7L1128.4 1289.5L1125.4 1289.3L1122.4 1289.5L1119.4 1289.9L1116.4 1290.7L1113.4 1291.6L1111 1292.5L1110.4 1292.3L1107.4 1291.3L1104.4 1290.3L1101.4 1289.7L1098.4 1289.4L1095.4 1289.3L1092.4 1289.6L1089.4 1289.7L1086.4 1290L1083.4 1290.3L1080.4 1290.8L1077.4 1291.4L1074.4 1292L1071.4 1292.5L1068.4 1293.1L1065.4 1293.9L1062.4 1294.9L1059.4 1296L1056.4 1297.3L1053.4 1299L1050.4 1300.9L1047.4 1302.9L1044.4 1304.9L1041.4 1306.9L1038.4 1309L1035.4 1311L1032.4 1313L1029.4 1315L1026.4 1317L1023.4 1319L1020.4 1320.9L1017.4 1322.8L1014.4 1324.6L1011.4 1326.4L1008.4 1328.1L1005.4 1329.8L1002.4 1331.3L999.4 1332.7L996.4 1334.1L993.4 1335.4L990.4 1336.6L987.4 1337.8L984.4 1338.9L981.4 1340L978.4 1340.8L975.4 1341.6L972.4 1342.2L969.4 1342.8L966.4 1343.2L963.4 1343.5L960.4 1343.7L957.4 1343.9L954.4 1344L951.4 1344.1L950.7 1344.1L948.4 1344.1L945.4 1344L942.4 1343.8L939.4 1343.6L936.4 1343.4L933.4 1343L930.4 1342.5L927.4 1341.9L924.4 1341.2L921.4 1340.4L918.4 1339.4L915.4 1338.3L912.4 1337.1L909.4 1336L906.4 1334.7L903.4 1333.4L900.4 1332L897.4 1330.6L895.1 1330.6Z" fill="#007cff"/>
<path d="M895.1 1296L897.4 1296L900.4 1297.3L903.4 1298.7L906.4 1300L909.4 1301.3L912.4 1302.5L915.4 1303.6L918.4 1304.7L921.4 1305.7L924.4 1306.5L927.4 1307.2L930.4 1307.8L933.4 1308.3L936.4 1308.7L939.4 1308.9L942.4 1309.1L945.4 1309.2L948.4 1309.3L950.7 1309.3L951.4 1309.3L954.4 1309.3L957.4 1309.2L960.4 1309L963.4 1308.8L966.4 1308.5L969.4 1308.1L972.4 1307.5L975.4 1306.9L978.4 1306.2L981.4 1305.3L984.4 1304.2L987.4 1303.1L990.4 1301.9L993.4 1300.7L996.4 1299.4L999.4 1298.1L1002.4 1296.7L1005.4 1295.3L1008.4 1294L1011.4 1292.6L1014.4 1291.2L1017.4 1289.8L1020.4 1288.2L1023.4 1286.7L1026.4 1285.1L1029.4 1283.4L1032.4 1281.7L1035.4 1279.9L1038.4 1278L1041.4 1276.1L1044.4 1274.2L1047.4 1272.4L1050.4 1270.6L1053.4 1268.9L1056.4 1267.3L1059.4 1266L1062.4 1264.7L1065.4 1263.6L1068.4 1262.7L1071.4 1262L1074.4 1261.5L1077.4 1261L1080.4 1260.7L1083.4 1260.5L1086.4 1260.4L1089.4 1260.5L1092.4 1261.1L1095.4 1262L1098.4 1263.3L1101.4 1264.9L1104.4 1266.8L1107.4 1269L1110.4 1271.2L1111 1271.7L1113.4 1269.8L1116.4 1267.6L1119.4 1265.5L1122.4 1263.9L1125.4 1262.4L1128.4 1261.4L1131.4 1260.6L1134.4 1260.4L1137.4 1260.5L1140.4 1260.6L1143.4 1260.9L1146.4 1261.3L1149.4 1261.8L1152.4 1262.4L1155.4 1263.3L1158.4 1264.3L1161.4 1265.5L1164.4 1266.8L1167.4 1268.3L1170.4 1269.9L1173.4 1271.7L1176.4 1273.6L1179.4 1275.4L1182.4 1277.3L1185.4 1279.2L1188.4 1281L1191.4 1282.8L1194.4 1284.5L1197.4 1286.1L1200.4 1287.7L1203.4 1289.2L1206.4 1290.7L1209.4 1292.1L1212.4 1293.5L1215.4 1294.8L1218.4 1296.2L1221.4 1297.6L1224.4 1298.9L1227.4 1300.3L1230.4 1301.5L1233.4 1302.7L1236.4 1303.8L1239.4 1304.9L1242.4 1305.9L1245.4 1306.6L1248.4 1307.3L1251.4 1307.9L1254.4 1308.4L1257.4 1308.7L1260.4 1308.9L1263.4 1309.1L1266.4 1309.3L1269.4 1309.3L1271.2 1309.3L1272.4 1309.3L1275.4 1309.3L1278.4 1309.2L1281.4 1309L1284.4 1308.8L1287.4 1308.5L1290.4 1308L1293.4 1307.4L1296.4 1306.7L1299.4 1306L1302.4 1305.1L1305.4 1304L1308.4 1302.9L1311.4 1301.7L1314.4 1300.5L1317.4 1299.2L1320.4 1297.8L1323.4 1296.5L1326.4 1295.1L1329.4 1293.7L1332.4 1292.4L1335.4 1291L1338.4 1289.5L1341.4 1288L1344.4 1286.4L1347.4 1284.8L1350.4 1283.1L1353.4 1281.4L1356.4 1279.5L1359.4 1277.6L1362.4 1275.7L1365.4 1273.9L1368.4 1272.1L1371.4 1270.3L1374.4 1268.6L1377.4 1267.1L1380.4 1265.8L1383.4 1264.5L1386.4 1263.5L1389.4 1262.5L1392.4 1261.9L1395.4 1261.4L1398.4 1260.9L1401.4 1260.6L1404.4 1260.5L1407.4 1260.4L1410.4 1260.5L1413.4 1261.2L1416.4 1262.2L1419.4 1263.6L1422.4 1265.2L1425.4 1267.2L1428.4 1269.3L1431.4 1271.6L1431.4 1271.7L1434.4 1269.4L1437.4 1267.2L1440.4 1265.2L1443.4 1263.6L1446.4 1262.2L1449.4 1261.2L1452.4 1260.5L1455.4 1260.4L1458.4 1260.5L1461.4 1260.6L1464.4 1260.9L1467.4 1261.4L1470.4 1261.9L1473.4 1262.5L1476.4 1263.4L1479.4 1264.5L1482.4 1265.7L1485.4 1267L1488.4 1268.5L1491.4 1270.2L1494.4 1272.1L1497.4 1273.9L1500.4 1275.7L1503.4 1277.6L1506.4 1279.5L1509.4 1281.3L1512.4 1283.1L1515.4 1284.8L1518.4 1286.4L1521.4 1288L1524.4 1289.5L1527.4 1290.9L1530.4 1292.4L1532.2 1293.2L1534.5 1293.2L1534.5 1326.6L1532.2 1326.6L1530.4 1325.6L1527.4 1323.8L1524.4 1322L1521.4 1320.2L1518.4 1318.2L1515.4 1316.3L1512.4 1314.2L1509.4 1312.3L1506.4 1310.3L1503.4 1308.2L1500.4 1306.1L1497.4 1304.2L1494.4 1302.2L1491.4 1300.2L1488.4 1298.3L1485.4 1296.7L1482.4 1295.4L1479.4 1294.3L1476.4 1293.3L1473.4 1292.5L1470.4 1292L1467.4 1291.5L1464.4 1290.8L1461.4 1290.2L1458.4 1289.8L1455.4 1289.5L1452.4 1289.3L1449.4 1289.1L1446.4 1288.9L1443.4 1289.1L1440.4 1289.4L1437.4 1290.2L1434.4 1291.1L1431.4 1292.2L1431.4 1292.2L1428.4 1291.1L1425.4 1290.2L1422.4 1289.4L1419.4 1289.1L1416.4 1288.9L1413.4 1289.1L1410.4 1289.3L1407.4 1289.5L1404.4 1289.8L1401.4 1290.3L1398.4 1290.8L1395.4 1291.5L1392.4 1292L1389.4 1292.5L1386.4 1293.3L1383.4 1294.3L1380.4 1295.4L1377.4 1296.7L1374.4 1298.4L1371.4 1300.2L1368.4 1302.2L1365.4 1304.2L1362.4 1306.2L1359.4 1308.2L1356.4 1310.3L1353.4 1312.3L1350.4 1314.2L1347.4 1316.3L1344.4 1318.3L1341.4 1320.2L1338.4 1322.1L1335.4 1323.9L1332.4 1325.6L1329.4 1327.4L1326.4 1329.1L1323.4 1330.6L1320.4 1332L1317.4 1333.4L1314.4 1334.7L1311.4 1335.9L1308.4 1337.1L1305.4 1338.3L1302.4 1339.3L1299.4 1340.2L1296.4 1341L1293.4 1341.7L1290.4 1342.3L1287.4 1342.7L1284.4 1343L1281.4 1343.3L1278.4 1343.4L1275.4 1343.6L1272.4 1343.6L1271.2 1343.6L1269.4 1343.6L1266.4 1343.5L1263.4 1343.4L1260.4 1343.2L1257.4 1343L1254.4 1342.6L1251.4 1342.1L1248.4 1341.5L1245.4 1340.8L1242.4 1340.1L1239.4 1339.1L1236.4 1338L1233.4 1336.9L1230.4 1335.7L1227.4 1334.5L1224.4 1333.1L1221.4 1331.8L1218.4 1330.4L1215.4 1328.7L1212.4 1327L1209.4 1325.3L1206.4 1323.5L1203.4 1321.7L1200.4 1319.8L1197.4 1317.9L1194.4 1315.9L1191.4 1313.8L1188.4 1311.9L1185.4 1309.9L1182.4 1307.8L1179.4 1305.8L1176.4 1303.8L1173.4 1301.8L1170.4 1299.9L1167.4 1298L1164.4 1296.4L1161.4 1295.2L1158.4 1294.1L1155.4 1293.2L1152.4 1292.4L1149.4 1291.9L1146.4 1291.4L1143.4 1290.7L1140.4 1290.2L1137.4 1289.8L1134.4 1289.5L1131.4 1289.3L1128.4 1289.1L1125.4 1288.9L1122.4 1289.2L1119.4 1289.5L1116.4 1290.3L1113.4 1291.3L1111 1292.2L1110.4 1292L1107.4 1290.9L1104.4 1290L1101.4 1289.4L1098.4 1289L1095.4 1288.9L1092.4 1289.2L1089.4 1289.3L1086.4 1289.6L1083.4 1289.9L1080.4 1290.3L1077.4 1291L1074.4 1291.6L1071.4 1292.1L1068.4 1292.7L1065.4 1293.5L1062.4 1294.5L1059.4 1295.7L1056.4 1297L1053.4 1298.7L1050.4 1300.6L1047.4 1302.6L1044.4 1304.5L1041.4 1306.5L1038.4 1308.6L1035.4 1310.7L1032.4 1312.6L1029.4 1314.6L1026.4 1316.6L1023.4 1318.6L1020.4 1320.5L1017.4 1322.4L1014.4 1324.2L1011.4 1325.9L1008.4 1327.7L1005.4 1329.4L1002.4 1330.9L999.4 1332.3L996.4 1333.6L993.4 1334.9L990.4 1336.1L987.4 1337.3L984.4 1338.5L981.4 1339.5L978.4 1340.4L975.4 1341.1L972.4 1341.8L969.4 1342.3L966.4 1342.8L963.4 1343.1L960.4 1343.3L957.4 1343.5L954.4 1343.6L951.4 1343.6L950.7 1343.6L948.4 1343.6L945.4 1343.5L942.4 1343.4L939.4 1343.2L936.4 1342.9L933.4 1342.6L930.4 1342L927.4 1341.4L924.4 1340.7L921.4 1339.9L918.4 1338.9L915.4 1337.8L912.4 1336.7L909.4 1335.5L906.4 1334.2L903.4 1332.9L900.4 1331.5L897.4 1330.1L895.1 1330.1Z" fill="#00a7ff"/>
<path d="M895.1 1296.8L897.4 1296.8L900.4 1298.2L903.4 1299.5L906.4 1300.9L909.4 1302.1L912.4 1303.3L915.4 1304.5L918.4 1305.6L921.4 1306.5L924.4 1307.3L927.4 1308L930.4 1308.6L933.4 1309.2L936.4 1309.5L939.4 1309.8L942.4 1310L945.4 1310.1L948.4 1310.2L950.7 1310.2L951.4 1310.2L954.4 1310.2L957.4 1310L960.4 1309.9L963.4 1309.7L966.4 1309.4L969.4 1308.9L972.4 1308.4L975.4 1307.7L978.4 1307L981.4 1306.1L984.4 1305.1L987.4 1303.9L990.4 1302.8L993.4 1301.6L996.4 1300.3L999.4 1298.9L1002.4 1297.5L1005.4 1296.2L1008.4 1294.8L1011.4 1293.4L1014.4 1292L1017.4 1290.6L1020.4 1289.1L1023.4 1287.5L1026.4 1285.9L1029.4 1284.2L1032.4 1282.5L1035.4 1280.7L1038.4 1278.8L1041.4 1276.8L1044.4 1275L1047.4 1273.2L1050.4 1271.4L1053.4 1269.6L1056.4 1268.1L1059.4 1266.7L1062.4 1265.5L1065.4 1264.4L1068.4 1263.4L1071.4 1262.7L1074.4 1262.2L1077.4 1261.7L1080.4 1261.4L1083.4 1261.2L1086.4 1261.1L1089.4 1261.1L1092.4 1261.7L1095.4 1262.6L1098.4 1263.9L1101.4 1265.5L1104.4 1267.3L1107.4 1269.5L1110.4 1271.7L1111 1272.1L1113.4 1270.3L1116.4 1268.1L1119.4 1266.1L1122.4 1264.5L1125.4 1263.1L1128.4 1262L1131.4 1261.3L1134.4 1261.1L1137.4 1261.2L1140.4 1261.3L1143.4 1261.6L1146.4 1262L1149.4 1262.5L1152.4 1263.1L1155.4 1264L1158.4 1265.1L1161.4 1266.3L1164.4 1267.6L1167.4 1269L1170.4 1270.7L1173.4 1272.5L1176.4 1274.4L1179.4 1276.2L1182.4 1278.1L1185.4 1280L1188.4 1281.8L1191.4 1283.6L1194.4 1285.3L1197.4 1286.9L1200.4 1288.5L1203.4 1290L1206.4 1291.5L1209.4 1292.9L1212.4 1294.3L1215.4 1295.7L1218.4 1297L1221.4 1298.4L1224.4 1299.8L1227.4 1301.1L1230.4 1302.3L1233.4 1303.5L1236.4 1304.7L1239.4 1305.7L1242.4 1306.7L1245.4 1307.5L1248.4 1308.1L1251.4 1308.7L1254.4 1309.2L1257.4 1309.6L1260.4 1309.8L1263.4 1310L1266.4 1310.1L1269.4 1310.2L1271.2 1310.2L1272.4 1310.2L1275.4 1310.1L1278.4 1310L1281.4 1309.8L1284.4 1309.6L1287.4 1309.3L1290.4 1308.9L1293.4 1308.3L1296.4 1307.6L1299.4 1306.9L1302.4 1305.9L1305.4 1304.9L1308.4 1303.7L1311.4 1302.6L1314.4 1301.3L1317.4 1300L1320.4 1298.7L1323.4 1297.3L1326.4 1295.9L1329.4 1294.6L1332.4 1293.2L1335.4 1291.8L1338.4 1290.3L1341.4 1288.8L1344.4 1287.2L1347.4 1285.6L1350.4 1283.9L1353.4 1282.2L1356.4 1280.3L1359.4 1278.4L1362.4 1276.5L1365.4 1274.7L1368.4 1272.9L1371.4 1271.1L1374.4 1269.3L1377.4 1267.8L1380.4 1266.5L1383.4 1265.3L1386.4 1264.2L1389.4 1263.3L1392.4 1262.6L1395.4 1262.1L1398.4 1261.6L1401.4 1261.3L1404.4 1261.2L1407.4 1261.1L1410.4 1261.2L1413.4 1261.9L1416.4 1262.8L1419.4 1264.2L1422.4 1265.8L1425.4 1267.7L1428.4 1269.8L1431.4 1272.1L1431.4 1272.1L1434.4 1269.9L1437.4 1267.7L1440.4 1265.8L1443.4 1264.2L1446.4 1262.8L1449.4 1261.9L1452.4 1261.2L1455.4 1261.1L1458.4 1261.2L1461.4 1261.3L1464.4 1261.6L1467.4 1262.1L1470.4 1262.6L1473.4 1263.3L1476.4 1264.2L1479.4 1265.3L1482.4 1266.5L1485.4 1267.8L1488.4 1269.3L1491.4 1271L1494.4 1272.8L1497.4 1274.7L1500.4 1276.5L1503.4 1278.4L1506.4 1280.3L1509.4 1282.1L1512.4 1283.9L1515.4 1285.6L1518.4 1287.2L1521.4 1288.8L1524.4 1290.3L1527.4 1291.8L1530.4 1293.2L1532.2 1294L1534.5 1294L1534.5 1326.2L1532.2 1326.2L1530.4 1325.2L1527.4 1323.4L1524.4 1321.6L1521.4 1319.8L1518.4 1317.9L1515.4 1315.9L1512.4 1313.8L1509.4 1311.9L1506.4 1309.9L1503.4 1307.8L1500.4 1305.8L1497.4 1303.8L1494.4 1301.8L1491.4 1299.8L1488.4 1298L1485.4 1296.3L1482.4 1295.1L1479.4 1293.9L1476.4 1292.9L1473.4 1292.1L1470.4 1291.5L1467.4 1291.1L1464.4 1290.4L1461.4 1289.8L1458.4 1289.4L1455.4 1289.1L1452.4 1288.9L1449.4 1288.7L1446.4 1288.5L1443.4 1288.7L1440.4 1289.1L1437.4 1289.8L1434.4 1290.8L1431.4 1291.9L1431.4 1291.8L1428.4 1290.8L1425.4 1289.8L1422.4 1289.1L1419.4 1288.7L1416.4 1288.5L1413.4 1288.7L1410.4 1288.9L1407.4 1289.1L1404.4 1289.4L1401.4 1289.8L1398.4 1290.4L1395.4 1291.1L1392.4 1291.6L1389.4 1292.1L1386.4 1292.9L1383.4 1293.9L1380.4 1295.1L1377.4 1296.3L1374.4 1298L1371.4 1299.9L1368.4 1301.9L1365.4 1303.8L1362.4 1305.8L1359.4 1307.9L1356.4 1309.9L1353.4 1311.9L1350.4 1313.9L1347.4 1315.9L1344.4 1317.9L1341.4 1319.8L1338.4 1321.6L1335.4 1323.4L1332.4 1325.2L1329.4 1326.9L1326.4 1328.6L1323.4 1330.2L1320.4 1331.6L1317.4 1332.9L1314.4 1334.2L1311.4 1335.5L1308.4 1336.7L1305.4 1337.8L1302.4 1338.9L1299.4 1339.8L1296.4 1340.5L1293.4 1341.2L1290.4 1341.8L1287.4 1342.3L1284.4 1342.6L1281.4 1342.8L1278.4 1343L1275.4 1343.1L1272.4 1343.2L1271.2 1343.2L1269.4 1343.2L1266.4 1343.1L1263.4 1343L1260.4 1342.8L1257.4 1342.5L1254.4 1342.2L1251.4 1341.7L1248.4 1341.1L1245.4 1340.4L1242.4 1339.6L1239.4 1338.7L1236.4 1337.6L1233.4 1336.4L1230.4 1335.2L1227.4 1334L1224.4 1332.7L1221.4 1331.3L1218.4 1329.9L1215.4 1328.3L1212.4 1326.6L1209.4 1324.9L1206.4 1323.1L1203.4 1321.3L1200.4 1319.4L1197.4 1317.5L1194.4 1315.5L1191.4 1313.5L1188.4 1311.6L1185.4 1309.5L1182.4 1307.5L1179.4 1305.4L1176.4 1303.5L1173.4 1301.5L1170.4 1299.5L1167.4 1297.7L1164.4 1296L1161.4 1294.8L1158.4 1293.7L1155.4 1292.8L1152.4 1292L1149.4 1291.5L1146.4 1291L1143.4 1290.3L1140.4 1289.7L1137.4 1289.4L1134.4 1289.1L1131.4 1288.8L1128.4 1288.7L1125.4 1288.5L1122.4 1288.8L1119.4 1289.2L1116.4 1290L1113.4 1291L1111 1291.9L1110.4 1291.7L1107.4 1290.6L1104.4 1289.6L1101.4 1289L1098.4 1288.7L1095.4 1288.5L1092.4 1288.8L1089.4 1288.9L1086.4 1289.2L1083.4 1289.5L1080.4 1289.9L1077.4 1290.5L1074.4 1291.2L1071.4 1291.6L1068.4 1292.3L1065.4 1293.1L1062.4 1294.1L1059.4 1295.3L1056.4 1296.6L1053.4 1298.3L1050.4 1300.2L1047.4 1302.2L1044.4 1304.2L1041.4 1306.2L1038.4 1308.2L1035.4 1310.3L1032.4 1312.3L1029.4 1314.2L1026.4 1316.3L1023.4 1318.2L1020.4 1320.1L1017.4 1322L1014.4 1323.8L1011.4 1325.5L1008.4 1327.2L1005.4 1328.9L1002.4 1330.4L999.4 1331.8L996.4 1333.2L993.4 1334.5L990.4 1335.7L987.4 1336.9L984.4 1338L981.4 1339L978.4 1339.9L975.4 1340.6L972.4 1341.3L969.4 1341.9L966.4 1342.3L963.4 1342.6L960.4 1342.8L957.4 1343L954.4 1343.1L951.4 1343.2L950.7 1343.2L948.4 1343.2L945.4 1343.1L942.4 1342.9L939.4 1342.7L936.4 1342.5L933.4 1342.1L930.4 1341.6L927.4 1341L924.4 1340.3L921.4 1339.5L918.4 1338.5L915.4 1337.4L912.4 1336.2L909.4 1335L906.4 1333.8L903.4 1332.4L900.4 1331L897.4 1329.7L895.1 1329.7Z" fill="#00d2ff"/>
<path d="M895.1 1297.6L897.4 1297.6L900.4 1299L903.4 1300.4L906.4 1301.7L909.4 1303L912.4 1304.1L915.4 1305.3L918.4 1306.4L921.4 1307.4L924.4 1308.2L927.4 1308.9L930.4 1309.5L933.4 1310L936.4 1310.4L939.4 1310.6L942.4 1310.8L945.4 1311L948.4 1311L950.7 1311L951.4 1311L954.4 1311L957.4 1310.9L960.4 1310.7L963.4 1310.5L966.4 1310.2L969.4 1309.8L972.4 1309.2L975.4 1308.6L978.4 1307.8L981.4 1307L984.4 1305.9L987.4 1304.8L990.4 1303.6L993.4 1302.4L996.4 1301.1L999.4 1299.7L1002.4 1298.4L1005.4 1297L1008.4 1295.6L1011.4 1294.3L1014.4 1292.9L1017.4 1291.4L1020.4 1289.9L1023.4 1288.3L1026.4 1286.7L1029.4 1285L1032.4 1283.3L1035.4 1281.5L1038.4 1279.6L1041.4 1277.6L1044.4 1275.8L1047.4 1274L1050.4 1272.1L1053.4 1270.4L1056.4 1268.8L1059.4 1267.5L1062.4 1266.2L1065.4 1265.1L1068.4 1264.2L1071.4 1263.5L1074.4 1262.9L1077.4 1262.4L1080.4 1262.1L1083.4 1261.9L1086.4 1261.8L1089.4 1261.8L1092.4 1262.4L1095.4 1263.2L1098.4 1264.5L1101.4 1266.1L1104.4 1267.9L1107.4 1270L1110.4 1272.2L1111 1272.6L1113.4 1270.8L1116.4 1268.6L1119.4 1266.6L1122.4 1265.1L1125.4 1263.7L1128.4 1262.6L1131.4 1262L1134.4 1261.8L1137.4 1261.9L1140.4 1262L1143.4 1262.3L1146.4 1262.7L1149.4 1263.2L1152.4 1263.9L1155.4 1264.7L1158.4 1265.8L1161.4 1267L1164.4 1268.3L1167.4 1269.8L1170.4 1271.5L1173.4 1273.3L1176.4 1275.1L1179.4 1277L1182.4 1278.9L1185.4 1280.8L1188.4 1282.6L1191.4 1284.4L1194.4 1286.1L1197.4 1287.7L1200.4 1289.3L1203.4 1290.9L1206.4 1292.3L1209.4 1293.8L1212.4 1295.1L1215.4 1296.5L1218.4 1297.9L1221.4 1299.2L1224.4 1300.6L1227.4 1301.9L1230.4 1303.2L1233.4 1304.4L1236.4 1305.5L1239.4 1306.6L1242.4 1307.5L1245.4 1308.3L1248.4 1309L1251.4 1309.6L1254.4 1310.1L1257.4 1310.4L1260.4 1310.6L1263.4 1310.8L1266.4 1311L1269.4 1311L1271.2 1311L1272.4 1311L1275.4 1311L1278.4 1310.9L1281.4 1310.7L1284.4 1310.5L1287.4 1310.2L1290.4 1309.7L1293.4 1309.1L1296.4 1308.4L1299.4 1307.7L1302.4 1306.8L1305.4 1305.7L1308.4 1304.6L1311.4 1303.4L1314.4 1302.2L1317.4 1300.9L1320.4 1299.5L1323.4 1298.1L1326.4 1296.8L1329.4 1295.4L1332.4 1294L1335.4 1292.6L1338.4 1291.1L1341.4 1289.6L1344.4 1288.1L1347.4 1286.4L1350.4 1284.7L1353.4 1283L1356.4 1281.1L1359.4 1279.2L1362.4 1277.3L1365.4 1275.5L1368.4 1273.7L1371.4 1271.8L1374.4 1270.1L1377.4 1268.6L1380.4 1267.3L1383.4 1266L1386.4 1264.9L1389.4 1264L1392.4 1263.4L1395.4 1262.8L1398.4 1262.4L1401.4 1262L1404.4 1261.9L1407.4 1261.8L1410.4 1261.9L1413.4 1262.5L1416.4 1263.4L1419.4 1264.8L1422.4 1266.3L1425.4 1268.2L1428.4 1270.4L1431.4 1272.6L1431.4 1272.6L1434.4 1270.4L1437.4 1268.3L1440.4 1266.3L1443.4 1264.8L1446.4 1263.5L1449.4 1262.5L1452.4 1261.9L1455.4 1261.8L1458.4 1261.9L1461.4 1262L1464.4 1262.4L1467.4 1262.8L1470.4 1263.3L1473.4 1264L1476.4 1264.9L1479.4 1266L1482.4 1267.2L1485.4 1268.6L1488.4 1270.1L1491.4 1271.8L1494.4 1273.6L1497.4 1275.5L1500.4 1277.3L1503.4 1279.2L1506.4 1281.1L1509.4 1283L1512.4 1284.7L1515.4 1286.4L1518.4 1288L1521.4 1289.6L1524.4 1291.1L1527.4 1292.6L1530.4 1294L1532.2 1294.8L1534.5 1294.8L1534.5 1325.8L1532.2 1325.8L1530.4 1324.7L1527.4 1323L1524.4 1321.2L1521.4 1319.4L1518.4 1317.5L1515.4 1315.5L1512.4 1313.5L1509.4 1311.5L1506.4 1309.5L1503.4 1307.5L1500.4 1305.4L1497.4 1303.4L1494.4 1301.5L1491.4 1299.5L1488.4 1297.6L1485.4 1295.9L1482.4 1294.7L1479.4 1293.5L1476.4 1292.5L1473.4 1291.7L1470.4 1291.1L1467.4 1290.6L1464.4 1290L1461.4 1289.4L1458.4 1289L1455.4 1288.7L1452.4 1288.5L1449.4 1288.3L1446.4 1288.1L1443.4 1288.4L1440.4 1288.7L1437.4 1289.5L1434.4 1290.5L1431.4 1291.6L1431.4 1291.5L1428.4 1290.5L1425.4 1289.5L1422.4 1288.7L1419.4 1288.3L1416.4 1288.1L1413.4 1288.3L1410.4 1288.5L1407.4 1288.7L1404.4 1289L1401.4 1289.4L1398.4 1290L1395.4 1290.7L1392.4 1291.1L1389.4 1291.7L1386.4 1292.6L1383.4 1293.6L1380.4 1294.7L1377.4 1296L1374.4 1297.6L1371.4 1299.5L1368.4 1301.5L1365.4 1303.5L1362.4 1305.4L1359.4 1307.5L1356.4 1309.6L1353.4 1311.6L1350.4 1313.5L1347.4 1315.5L1344.4 1317.5L1341.4 1319.4L1338.4 1321.2L1335.4 1323L1332.4 1324.8L1329.4 1326.5L1326.4 1328.1L1323.4 1329.7L1320.4 1331.1L1317.4 1332.5L1314.4 1333.8L1311.4 1335L1308.4 1336.2L1305.4 1337.3L1302.4 1338.4L1299.4 1339.3L1296.4 1340.1L1293.4 1340.8L1290.4 1341.4L1287.4 1341.8L1284.4 1342.1L1281.4 1342.4L1278.4 1342.5L1275.4 1342.7L1272.4 1342.7L1271.2 1342.7L1269.4 1342.7L1266.4 1342.7L1263.4 1342.5L1260.4 1342.3L1257.4 1342.1L1254.4 1341.7L1251.4 1341.2L1248.4 1340.6L1245.4 1339.9L1242.4 1339.2L1239.4 1338.2L1236.4 1337.1L1233.4 1336L1230.4 1334.8L1227.4 1333.5L1224.4 1332.2L1221.4 1330.8L1218.4 1329.4L1215.4 1327.8L1212.4 1326.1L1209.4 1324.4L1206.4 1322.7L1203.4 1320.9L1200.4 1319L1197.4 1317.1L1194.4 1315.2L1191.4 1313.1L1188.4 1311.2L1185.4 1309.2L1182.4 1307.1L1179.4 1305.1L1176.4 1303.1L1173.4 1301.1L1170.4 1299.1L1167.4 1297.3L1164.4 1295.7L1161.4 1294.5L1158.4 1293.4L1155.4 1292.4L1152.4 1291.6L1149.4 1291L1146.4 1290.6L1143.4 1289.9L1140.4 1289.3L1137.4 1288.9L1134.4 1288.7L1131.4 1288.4L1128.4 1288.3L1125.4 1288.2L1122.4 1288.4L1119.4 1288.8L1116.4 1289.7L1113.4 1290.7L1111 1291.6L1110.4 1291.3L1107.4 1290.3L1104.4 1289.3L1101.4 1288.7L1098.4 1288.3L1095.4 1288.1L1092.4 1288.3L1089.4 1288.5L1086.4 1288.8L1083.4 1289.1L1080.4 1289.5L1077.4 1290.1L1074.4 1290.7L1071.4 1291.2L1068.4 1291.9L1065.4 1292.7L1062.4 1293.8L1059.4 1294.9L1056.4 1296.2L1053.4 1298L1050.4 1299.9L1047.4 1301.8L1044.4 1303.8L1041.4 1305.8L1038.4 1307.9L1035.4 1309.9L1032.4 1311.9L1029.4 1313.9L1026.4 1315.9L1023.4 1317.8L1020.4 1319.7L1017.4 1321.5L1014.4 1323.3L1011.4 1325.1L1008.4 1326.8L1005.4 1328.4L1002.4 1329.9L999.4 1331.3L996.4 1332.7L993.4 1334L990.4 1335.2L987.4 1336.4L984.4 1337.5L981.4 1338.6L978.4 1339.5L975.4 1340.2L972.4 1340.9L969.4 1341.4L966.4 1341.9L963.4 1342.2L960.4 1342.4L957.4 1342.6L954.4 1342.7L951.4 1342.7L950.7 1342.7L948.4 1342.7L945.4 1342.6L942.4 1342.5L939.4 1342.3L936.4 1342L933.4 1341.7L930.4 1341.1L927.4 1340.5L924.4 1339.8L921.4 1339L918.4 1338L915.4 1336.9L912.4 1335.8L909.4 1334.6L906.4 1333.3L903.4 1332L900.4 1330.6L897.4 1329.2L895.1 1329.2Z" fill="#00fdff"/>
<path d="M895.1 1298.4L897.4 1298.4L900.4 1299.8L903.4 1301.1L906.4 1302.5L909.4 1303.7L912.4 1304.9L915.4 1306.1L918.4 1307.2L921.4 1308.2L924.4 1309L927.4 1309.7L930.4 1310.3L933.4 1310.8L936.4 1311.2L939.4 1311.4L942.4 1311.6L945.4 1311.7L948.4 1311.8L950.7 1311.8L951.4 1311.8L954.4 1311.8L957.4 1311.7L960.4 1311.5L963.4 1311.3L966.4 1311L969.4 1310.6L972.4 1310L975.4 1309.3L978.4 1308.6L981.4 1307.7L984.4 1306.7L987.4 1305.6L990.4 1304.4L993.4 1303.2L996.4 1301.9L999.4 1300.5L1002.4 1299.1L1005.4 1297.8L1008.4 1296.4L1011.4 1295L1014.4 1293.6L1017.4 1292.2L1020.4 1290.7L1023.4 1289.1L1026.4 1287.5L1029.4 1285.8L1032.4 1284.1L1035.4 1282.2L1038.4 1280.3L1041.4 1278.4L1044.4 1276.5L1047.4 1274.7L1050.4 1272.9L1053.4 1271.1L1056.4 1269.5L1059.4 1268.2L1062.4 1266.9L1065.4 1265.8L1068.4 1264.9L1071.4 1264.1L1074.4 1263.6L1077.4 1263.1L1080.4 1262.7L1083.4 1262.5L1086.4 1262.5L1089.4 1262.5L1092.4 1263L1095.4 1263.8L1098.4 1265.1L1101.4 1266.6L1104.4 1268.4L1107.4 1270.4L1110.4 1272.6L1111 1273.1L1113.4 1271.2L1116.4 1269.1L1119.4 1267.1L1122.4 1265.6L1125.4 1264.2L1128.4 1263.2L1131.4 1262.6L1134.4 1262.5L1137.4 1262.5L1140.4 1262.6L1143.4 1262.9L1146.4 1263.4L1149.4 1263.9L1152.4 1264.6L1155.4 1265.4L1158.4 1266.5L1161.4 1267.7L1164.4 1269L1167.4 1270.5L1170.4 1272.2L1173.4 1274L1176.4 1275.9L1179.4 1277.7L1182.4 1279.6L1185.4 1281.5L1188.4 1283.4L1191.4 1285.1L1194.4 1286.9L1197.4 1288.5L1200.4 1290.1L1203.4 1291.6L1206.4 1293.1L1209.4 1294.5L1212.4 1295.9L1215.4 1297.3L1218.4 1298.6L1221.4 1300L1224.4 1301.4L1227.4 1302.7L1230.4 1304L1233.4 1305.1L1236.4 1306.3L1239.4 1307.4L1242.4 1308.3L1245.4 1309.1L1248.4 1309.8L1251.4 1310.4L1254.4 1310.9L1257.4 1311.2L1260.4 1311.4L1263.4 1311.6L1266.4 1311.8L1269.4 1311.8L1271.2 1311.8L1272.4 1311.8L1275.4 1311.8L1278.4 1311.7L1281.4 1311.5L1284.4 1311.3L1287.4 1311L1290.4 1310.5L1293.4 1309.9L1296.4 1309.2L1299.4 1308.5L1302.4 1307.6L1305.4 1306.5L1308.4 1305.4L1311.4 1304.2L1314.4 1303L1317.4 1301.6L1320.4 1300.3L1323.4 1298.9L1326.4 1297.5L1329.4 1296.2L1332.4 1294.8L1335.4 1293.4L1338.4 1291.9L1341.4 1290.4L1344.4 1288.8L1347.4 1287.2L1350.4 1285.5L1353.4 1283.7L1356.4 1281.9L1359.4 1280L1362.4 1278L1365.4 1276.2L1368.4 1274.4L1371.4 1272.5L1374.4 1270.8L1377.4 1269.3L1380.4 1268L1383.4 1266.7L1386.4 1265.6L1389.4 1264.7L1392.4 1264L1395.4 1263.5L1398.4 1263L1401.4 1262.7L1404.4 1262.5L1407.4 1262.5L1410.4 1262.5L1413.4 1263.1L1416.4 1264L1419.4 1265.3L1422.4 1266.8L1425.4 1268.7L1428.4 1270.8L1431.4 1273L1431.4 1273.1L1434.4 1270.9L1437.4 1268.8L1440.4 1266.9L1443.4 1265.4L1446.4 1264L1449.4 1263.1L1452.4 1262.5L1455.4 1262.5L1458.4 1262.5L1461.4 1262.7L1464.4 1263L1467.4 1263.5L1470.4 1264L1473.4 1264.7L1476.4 1265.6L1479.4 1266.7L1482.4 1267.9L1485.4 1269.3L1488.4 1270.8L1491.4 1272.5L1494.4 1274.3L1497.4 1276.2L1500.4 1278L1503.4 1279.9L1506.4 1281.9L1509.4 1283.7L1512.4 1285.5L1515.4 1287.2L1518.4 1288.8L1521.4 1290.4L1524.4 1291.9L1527.4 1293.4L1530.4 1294.8L1532.2 1295.6L1534.5 1295.6L1534.5 1325L1532.2 1325L1530.4 1324L1527.4 1322.3L1524.4 1320.5L1521.4 1318.7L1518.4 1316.8L1515.4 1314.9L1512.4 1312.8L1509.4 1310.9L1506.4 1308.9L1503.4 1306.8L1500.4 1304.8L1497.4 1302.8L1494.4 1300.8L1491.4 1298.9L1488.4 1297L1485.4 1295.3L1482.4 1294L1479.4 1292.9L1476.4 1291.9L1473.4 1291L1470.4 1290.4L1467.4 1289.9L1464.4 1289.3L1461.4 1288.7L1458.4 1288.3L1455.4 1288L1452.4 1287.8L1449.4 1287.6L1446.4 1287.5L1443.4 1287.7L1440.4 1288.1L1437.4 1288.9L1434.4 1289.9L1431.4 1291L1431.4 1291L1428.4 1289.9L1425.4 1288.9L1422.4 1288.1L1419.4 1287.7L1416.4 1287.5L1413.4 1287.6L1410.4 1287.8L1407.4 1288L1404.4 1288.3L1401.4 1288.7L1398.4 1289.3L1395.4 1289.9L1392.4 1290.4L1389.4 1291L1386.4 1291.9L1383.4 1292.9L1380.4 1294.1L1377.4 1295.3L1374.4 1297L1371.4 1298.9L1368.4 1300.9L1365.4 1302.9L1362.4 1304.8L1359.4 1306.9L1356.4 1309L1353.4 1311L1350.4 1312.9L1347.4 1314.9L1344.4 1316.8L1341.4 1318.7L1338.4 1320.5L1335.4 1322.3L1332.4 1324L1329.4 1325.7L1326.4 1327.4L1323.4 1328.9L1320.4 1330.3L1317.4 1331.7L1314.4 1333L1311.4 1334.2L1308.4 1335.4L1305.4 1336.6L1302.4 1337.6L1299.4 1338.5L1296.4 1339.3L1293.4 1340L1290.4 1340.6L1287.4 1341.1L1284.4 1341.4L1281.4 1341.6L1278.4 1341.8L1275.4 1341.9L1272.4 1342L1271.2 1342L1269.4 1342L1266.4 1341.9L1263.4 1341.7L1260.4 1341.5L1257.4 1341.3L1254.4 1341L1251.4 1340.5L1248.4 1339.8L1245.4 1339.2L1242.4 1338.4L1239.4 1337.4L1236.4 1336.3L1233.4 1335.2L1230.4 1334L1227.4 1332.7L1224.4 1331.4L1221.4 1330L1218.4 1328.6L1215.4 1327L1212.4 1325.4L1209.4 1323.7L1206.4 1322L1203.4 1320.2L1200.4 1318.3L1197.4 1316.5L1194.4 1314.5L1191.4 1312.5L1188.4 1310.6L1185.4 1308.6L1182.4 1306.5L1179.4 1304.4L1176.4 1302.5L1173.4 1300.5L1170.4 1298.5L1167.4 1296.7L1164.4 1295.1L1161.4 1293.8L1158.4 1292.7L1155.4 1291.7L1152.4 1290.9L1149.4 1290.3L1146.4 1289.8L1143.4 1289.2L1140.4 1288.6L1137.4 1288.2L1134.4 1288L1131.4 1287.7L1128.4 1287.6L1125.4 1287.5L1122.4 1287.8L1119.4 1288.2L1116.4 1289.1L1113.4 1290.1L1111 1291L1110.4 1290.8L1107.4 1289.7L1104.4 1288.7L1101.4 1288L1098.4 1287.6L1095.4 1287.5L1092.4 1287.6L1089.4 1287.8L1086.4 1288.1L1083.4 1288.3L1080.4 1288.8L1077.4 1289.4L1074.4 1290L1071.4 1290.5L1068.4 1291.2L1065.4 1292.1L1062.4 1293.1L1059.4 1294.3L1056.4 1295.6L1053.4 1297.3L1050.4 1299.2L1047.4 1301.2L1044.4 1303.2L1041.4 1305.2L1038.4 1307.2L1035.4 1309.3L1032.4 1311.3L1029.4 1313.2L1026.4 1315.2L1023.4 1317.2L1020.4 1319L1017.4 1320.8L1014.4 1322.6L1011.4 1324.3L1008.4 1326L1005.4 1327.6L1002.4 1329.1L999.4 1330.5L996.4 1331.9L993.4 1333.2L990.4 1334.4L987.4 1335.6L984.4 1336.8L981.4 1337.8L978.4 1338.7L975.4 1339.4L972.4 1340.1L969.4 1340.7L966.4 1341.1L963.4 1341.4L960.4 1341.6L957.4 1341.8L954.4 1341.9L951.4 1342L950.7 1342L948.4 1342L945.4 1341.9L942.4 1341.7L939.4 1341.5L936.4 1341.3L933.4 1340.9L930.4 1340.4L927.4 1339.7L924.4 1339L921.4 1338.2L918.4 1337.2L915.4 1336.1L912.4 1335L909.4 1333.8L906.4 1332.5L903.4 1331.2L900.4 1329.8L897.4 1328.4L895.1 1328.4Z" fill="#29ffd6"/>
<path d="M895.1 1299.1L897.4 1299.1L900.4 1300.4L903.4 1301.8L906.4 1303.2L909.4 1304.4L912.4 1305.6L915.4 1306.8L918.4 1307.9L921.4 1308.9L924.4 1309.6L927.4 1310.3L930.4 1311L933.4 1311.5L936.4 1311.9L939.4 1312.1L942.4 1312.3L945.4 1312.4L948.4 1312.5L950.7 1312.5L951.4 1312.5L954.4 1312.5L957.4 1312.4L960.4 1312.2L963.4 1312L966.4 1311.7L969.4 1311.3L972.4 1310.7L975.4 1310L978.4 1309.3L981.4 1308.4L984.4 1307.4L987.4 1306.2L990.4 1305.1L993.4 1303.9L996.4 1302.6L999.4 1301.2L1002.4 1299.8L1005.4 1298.4L1008.4 1297.1L1011.4 1295.7L1014.4 1294.3L1017.4 1292.8L1020.4 1291.3L1023.4 1289.8L1026.4 1288.1L1029.4 1286.5L1032.4 1284.7L1035.4 1282.9L1038.4 1281L1041.4 1279L1044.4 1277.2L1047.4 1275.3L1050.4 1273.5L1053.4 1271.7L1056.4 1270.2L1059.4 1268.8L1062.4 1267.6L1065.4 1266.4L1068.4 1265.5L1071.4 1264.7L1074.4 1264.2L1077.4 1263.7L1080.4 1263.3L1083.4 1263.1L1086.4 1263L1089.4 1263L1092.4 1263.5L1095.4 1264.3L1098.4 1265.6L1101.4 1267L1104.4 1268.8L1107.4 1270.9L1110.4 1273L1111 1273.4L1113.4 1271.6L1116.4 1269.6L1119.4 1267.6L1122.4 1266.1L1125.4 1264.7L1128.4 1263.8L1131.4 1263.2L1134.4 1263L1137.4 1263.1L1140.4 1263.2L1143.4 1263.5L1146.4 1264L1149.4 1264.5L1152.4 1265.2L1155.4 1266L1158.4 1267.1L1161.4 1268.3L1164.4 1269.6L1167.4 1271.1L1170.4 1272.8L1173.4 1274.7L1176.4 1276.5L1179.4 1278.3L1182.4 1280.2L1185.4 1282.2L1188.4 1284.1L1191.4 1285.8L1194.4 1287.5L1197.4 1289.2L1200.4 1290.8L1203.4 1292.3L1206.4 1293.8L1209.4 1295.2L1212.4 1296.6L1215.4 1297.9L1218.4 1299.3L1221.4 1300.7L1224.4 1302.1L1227.4 1303.4L1230.4 1304.6L1233.4 1305.8L1236.4 1307L1239.4 1308.1L1242.4 1309L1245.4 1309.8L1248.4 1310.5L1251.4 1311.1L1254.4 1311.6L1257.4 1311.9L1260.4 1312.1L1263.4 1312.3L1266.4 1312.5L1269.4 1312.5L1271.2 1312.5L1272.4 1312.5L1275.4 1312.5L1278.4 1312.4L1281.4 1312.2L1284.4 1312L1287.4 1311.7L1290.4 1311.2L1293.4 1310.6L1296.4 1309.9L1299.4 1309.2L1302.4 1308.3L1305.4 1307.2L1308.4 1306L1311.4 1304.9L1314.4 1303.6L1317.4 1302.3L1320.4 1300.9L1323.4 1299.6L1326.4 1298.2L1329.4 1296.8L1332.4 1295.5L1335.4 1294L1338.4 1292.6L1341.4 1291.1L1344.4 1289.5L1347.4 1287.9L1350.4 1286.1L1353.4 1284.4L1356.4 1282.5L1359.4 1280.6L1362.4 1278.7L1365.4 1276.9L1368.4 1275L1371.4 1273.2L1374.4 1271.4L1377.4 1269.9L1380.4 1268.6L1383.4 1267.3L1386.4 1266.2L1389.4 1265.3L1392.4 1264.6L1395.4 1264.1L1398.4 1263.6L1401.4 1263.3L1404.4 1263.1L1407.4 1263L1410.4 1263.1L1413.4 1263.6L1416.4 1264.5L1419.4 1265.8L1422.4 1267.3L1425.4 1269.2L1428.4 1271.2L1431.4 1273.4L1431.4 1273.4L1434.4 1271.3L1437.4 1269.2L1440.4 1267.3L1443.4 1265.8L1446.4 1264.5L1449.4 1263.6L1452.4 1263.1L1455.4 1263L1458.4 1263.1L1461.4 1263.3L1464.4 1263.6L1467.4 1264.1L1470.4 1264.6L1473.4 1265.3L1476.4 1266.2L1479.4 1267.3L1482.4 1268.6L1485.4 1269.9L1488.4 1271.4L1491.4 1273.1L1494.4 1275L1497.4 1276.8L1500.4 1278.7L1503.4 1280.6L1506.4 1282.5L1509.4 1284.4L1512.4 1286.1L1515.4 1287.8L1518.4 1289.5L1521.4 1291L1524.4 1292.5L1527.4 1294L1530.4 1295.4L1532.2 1296.3L1534.5 1296.3L1534.5 1323.7L1532.2 1323.7L1530.4 1322.7L1527.4 1321L1524.4 1319.3L1521.4 1317.5L1518.4 1315.7L1515.4 1313.8L1512.4 1311.8L1509.4 1309.9L1506.4 1307.9L1503.4 1305.8L1500.4 1303.7L1497.4 1301.8L1494.4 1299.8L1491.4 1297.8L1488.4 1295.9L1485.4 1294.3L1482.4 1293L1479.4 1291.8L1476.4 1290.7L1473.4 1289.9L1470.4 1289.2L1467.4 1288.7L1464.4 1288L1461.4 1287.5L1458.4 1287.1L1455.4 1286.8L1452.4 1286.6L1449.4 1286.4L1446.4 1286.3L1443.4 1286.6L1440.4 1287.1L1437.4 1287.9L1434.4 1289L1431.4 1290.2L1431.4 1290.1L1428.4 1289L1425.4 1287.9L1422.4 1287.1L1419.4 1286.6L1416.4 1286.3L1413.4 1286.4L1410.4 1286.6L1407.4 1286.8L1404.4 1287.1L1401.4 1287.5L1398.4 1288.1L1395.4 1288.7L1392.4 1289.2L1389.4 1289.9L1386.4 1290.7L1383.4 1291.8L1380.4 1293L1377.4 1294.3L1374.4 1296L1371.4 1297.8L1368.4 1299.8L1365.4 1301.8L1362.4 1303.8L1359.4 1305.8L1356.4 1307.9L1353.4 1309.9L1350.4 1311.8L1347.4 1313.8L1344.4 1315.7L1341.4 1317.5L1338.4 1319.3L1335.4 1321.1L1332.4 1322.7L1329.4 1324.4L1326.4 1326L1323.4 1327.5L1320.4 1328.9L1317.4 1330.3L1314.4 1331.6L1311.4 1332.9L1308.4 1334.1L1305.4 1335.2L1302.4 1336.3L1299.4 1337.2L1296.4 1338L1293.4 1338.7L1290.4 1339.3L1287.4 1339.7L1284.4 1340.1L1281.4 1340.3L1278.4 1340.5L1275.4 1340.6L1272.4 1340.7L1271.2 1340.7L1269.4 1340.7L1266.4 1340.6L1263.4 1340.4L1260.4 1340.2L1257.4 1340L1254.4 1339.7L1251.4 1339.1L1248.4 1338.5L1245.4 1337.8L1242.4 1337.1L1239.4 1336.1L1236.4 1335L1233.4 1333.8L1230.4 1332.7L1227.4 1331.4L1224.4 1330.1L1221.4 1328.7L1218.4 1327.3L1215.4 1325.7L1212.4 1324.1L1209.4 1322.4L1206.4 1320.7L1203.4 1319L1200.4 1317.2L1197.4 1315.3L1194.4 1313.4L1191.4 1311.4L1188.4 1309.5L1185.4 1307.5L1182.4 1305.4L1179.4 1303.4L1176.4 1301.4L1173.4 1299.4L1170.4 1297.5L1167.4 1295.6L1164.4 1294L1161.4 1292.7L1158.4 1291.6L1155.4 1290.6L1152.4 1289.7L1149.4 1289.1L1146.4 1288.6L1143.4 1287.9L1140.4 1287.4L1137.4 1287L1134.4 1286.7L1131.4 1286.5L1128.4 1286.4L1125.4 1286.4L1122.4 1286.7L1119.4 1287.2L1116.4 1288.1L1113.4 1289.2L1111 1290.2L1110.4 1289.9L1107.4 1288.8L1104.4 1287.7L1101.4 1287L1098.4 1286.5L1095.4 1286.3L1092.4 1286.5L1089.4 1286.6L1086.4 1286.8L1083.4 1287.1L1080.4 1287.6L1077.4 1288.2L1074.4 1288.8L1071.4 1289.3L1068.4 1290L1065.4 1290.9L1062.4 1292L1059.4 1293.2L1056.4 1294.6L1053.4 1296.3L1050.4 1298.2L1047.4 1300.2L1044.4 1302.1L1041.4 1304.1L1038.4 1306.2L1035.4 1308.2L1032.4 1310.2L1029.4 1312.2L1026.4 1314.1L1023.4 1316L1020.4 1317.8L1017.4 1319.6L1014.4 1321.4L1011.4 1323L1008.4 1324.7L1005.4 1326.3L1002.4 1327.8L999.4 1329.2L996.4 1330.6L993.4 1331.9L990.4 1333.1L987.4 1334.3L984.4 1335.4L981.4 1336.5L978.4 1337.4L975.4 1338.1L972.4 1338.8L969.4 1339.4L966.4 1339.8L963.4 1340.1L960.4 1340.3L957.4 1340.5L954.4 1340.6L951.4 1340.7L950.7 1340.7L948.4 1340.7L945.4 1340.6L942.4 1340.4L939.4 1340.2L936.4 1340L933.4 1339.6L930.4 1339L927.4 1338.4L924.4 1337.7L921.4 1336.9L918.4 1335.9L915.4 1334.8L912.4 1333.6L909.4 1332.4L906.4 1331.2L903.4 1329.8L900.4 1328.4L897.4 1327L895.1 1327Z" fill="#54ffab"/>
<path d="M895.1 1299.7L897.4 1299.7L900.4 1301.1L903.4 1302.5L906.4 1303.8L909.4 1305.1L912.4 1306.3L915.4 1307.5L918.4 1308.6L921.4 1309.5L924.4 1310.3L927.4 1311L930.4 1311.7L933.4 1312.2L936.4 1312.6L939.4 1312.8L942.4 1313L945.4 1313.1L948.4 1313.2L950.7 1313.2L951.4 1313.2L954.4 1313.2L957.4 1313.1L960.4 1312.9L963.4 1312.7L966.4 1312.4L969.4 1312L972.4 1311.4L975.4 1310.7L978.4 1310L981.4 1309.1L984.4 1308.1L987.4 1306.9L990.4 1305.8L993.4 1304.5L996.4 1303.2L999.4 1301.9L1002.4 1300.5L1005.4 1299.1L1008.4 1297.8L1011.4 1296.4L1014.4 1295L1017.4 1293.5L1020.4 1292L1023.4 1290.4L1026.4 1288.8L1029.4 1287.1L1032.4 1285.4L1035.4 1283.5L1038.4 1281.6L1041.4 1279.7L1044.4 1277.8L1047.4 1276L1050.4 1274.1L1053.4 1272.4L1056.4 1270.8L1059.4 1269.4L1062.4 1268.2L1065.4 1267L1068.4 1266.1L1071.4 1265.3L1074.4 1264.7L1077.4 1264.3L1080.4 1263.9L1083.4 1263.7L1086.4 1263.6L1089.4 1263.6L1092.4 1264.1L1095.4 1264.8L1098.4 1266.1L1101.4 1267.5L1104.4 1269.2L1107.4 1271.3L1110.4 1273.4L1111 1273.8L1113.4 1272L1116.4 1270L1119.4 1268.1L1122.4 1266.6L1125.4 1265.2L1128.4 1264.3L1131.4 1263.7L1134.4 1263.6L1137.4 1263.6L1140.4 1263.8L1143.4 1264.1L1146.4 1264.6L1149.4 1265.1L1152.4 1265.8L1155.4 1266.6L1158.4 1267.7L1161.4 1269L1164.4 1270.3L1167.4 1271.8L1170.4 1273.5L1173.4 1275.3L1176.4 1277.1L1179.4 1279L1182.4 1280.9L1185.4 1282.8L1188.4 1284.7L1191.4 1286.5L1194.4 1288.2L1197.4 1289.8L1200.4 1291.4L1203.4 1293L1206.4 1294.4L1209.4 1295.9L1212.4 1297.3L1215.4 1298.6L1218.4 1300L1221.4 1301.4L1224.4 1302.7L1227.4 1304.1L1230.4 1305.3L1233.4 1306.5L1236.4 1307.7L1239.4 1308.7L1242.4 1309.7L1245.4 1310.5L1248.4 1311.1L1251.4 1311.8L1254.4 1312.3L1257.4 1312.6L1260.4 1312.8L1263.4 1313L1266.4 1313.2L1269.4 1313.2L1271.2 1313.2L1272.4 1313.2L1275.4 1313.2L1278.4 1313.1L1281.4 1312.9L1284.4 1312.7L1287.4 1312.3L1290.4 1311.9L1293.4 1311.3L1296.4 1310.6L1299.4 1309.9L1302.4 1308.9L1305.4 1307.9L1308.4 1306.7L1311.4 1305.5L1314.4 1304.3L1317.4 1303L1320.4 1301.6L1323.4 1300.2L1326.4 1298.9L1329.4 1297.5L1332.4 1296.1L1335.4 1294.7L1338.4 1293.2L1341.4 1291.7L1344.4 1290.2L1347.4 1288.5L1350.4 1286.8L1353.4 1285.1L1356.4 1283.2L1359.4 1281.3L1362.4 1279.3L1365.4 1277.5L1368.4 1275.6L1371.4 1273.8L1374.4 1272.1L1377.4 1270.5L1380.4 1269.2L1383.4 1268L1386.4 1266.8L1389.4 1265.9L1392.4 1265.2L1395.4 1264.7L1398.4 1264.2L1401.4 1263.8L1404.4 1263.6L1407.4 1263.6L1410.4 1263.6L1413.4 1264.2L1416.4 1265L1419.4 1266.3L1422.4 1267.8L1425.4 1269.6L1428.4 1271.6L1431.4 1273.8L1431.4 1273.8L1434.4 1271.7L1437.4 1269.6L1440.4 1267.8L1443.4 1266.3L1446.4 1265L1449.4 1264.2L1452.4 1263.6L1455.4 1263.6L1458.4 1263.6L1461.4 1263.8L1464.4 1264.2L1467.4 1264.6L1470.4 1265.2L1473.4 1265.9L1476.4 1266.8L1479.4 1267.9L1482.4 1269.2L1485.4 1270.5L1488.4 1272L1491.4 1273.8L1494.4 1275.6L1497.4 1277.5L1500.4 1279.3L1503.4 1281.2L1506.4 1283.2L1509.4 1285L1512.4 1286.8L1515.4 1288.5L1518.4 1290.1L1521.4 1291.7L1524.4 1293.2L1527.4 1294.7L1530.4 1296.1L1532.2 1296.9L1534.5 1296.9L1534.5 1322.6L1532.2 1322.6L1530.4 1321.7L1527.4 1320L1524.4 1318.3L1521.4 1316.5L1518.4 1314.7L1515.4 1312.8L1512.4 1310.9L1509.4 1309L1506.4 1307L1503.4 1304.9L1500.4 1302.8L1497.4 1300.9L1494.4 1298.9L1491.4 1296.9L1488.4 1295L1485.4 1293.4L1482.4 1292.1L1479.4 1290.9L1476.4 1289.8L1473.4 1288.9L1470.4 1288.2L1467.4 1287.7L1464.4 1287L1461.4 1286.5L1458.4 1286.1L1455.4 1285.8L1452.4 1285.6L1449.4 1285.4L1446.4 1285.4L1443.4 1285.7L1440.4 1286.2L1437.4 1287.1L1434.4 1288.2L1431.4 1289.4L1431.4 1289.4L1428.4 1288.2L1425.4 1287.1L1422.4 1286.2L1419.4 1285.7L1416.4 1285.4L1413.4 1285.4L1410.4 1285.6L1407.4 1285.8L1404.4 1286.1L1401.4 1286.5L1398.4 1287L1395.4 1287.7L1392.4 1288.2L1389.4 1288.9L1386.4 1289.8L1383.4 1290.9L1380.4 1292.1L1377.4 1293.4L1374.4 1295.1L1371.4 1296.9L1368.4 1298.9L1365.4 1300.9L1362.4 1302.9L1359.4 1304.9L1356.4 1307L1353.4 1309L1350.4 1310.9L1347.4 1312.9L1344.4 1314.7L1341.4 1316.5L1338.4 1318.3L1335.4 1320L1332.4 1321.7L1329.4 1323.3L1326.4 1324.9L1323.4 1326.4L1320.4 1327.8L1317.4 1329.2L1314.4 1330.5L1311.4 1331.8L1308.4 1332.9L1305.4 1334.1L1302.4 1335.2L1299.4 1336.1L1296.4 1336.9L1293.4 1337.6L1290.4 1338.2L1287.4 1338.6L1284.4 1339L1281.4 1339.2L1278.4 1339.4L1275.4 1339.5L1272.4 1339.6L1271.2 1339.6L1269.4 1339.6L1266.4 1339.5L1263.4 1339.4L1260.4 1339.2L1257.4 1338.9L1254.4 1338.6L1251.4 1338.1L1248.4 1337.4L1245.4 1336.7L1242.4 1335.9L1239.4 1335L1236.4 1333.9L1233.4 1332.7L1230.4 1331.5L1227.4 1330.3L1224.4 1328.9L1221.4 1327.5L1218.4 1326.2L1215.4 1324.6L1212.4 1323L1209.4 1321.4L1206.4 1319.7L1203.4 1318L1200.4 1316.2L1197.4 1314.4L1194.4 1312.5L1191.4 1310.5L1188.4 1308.6L1185.4 1306.6L1182.4 1304.5L1179.4 1302.5L1176.4 1300.5L1173.4 1298.5L1170.4 1296.6L1167.4 1294.7L1164.4 1293.1L1161.4 1291.8L1158.4 1290.7L1155.4 1289.6L1152.4 1288.8L1149.4 1288.1L1146.4 1287.6L1143.4 1286.9L1140.4 1286.4L1137.4 1286L1134.4 1285.7L1131.4 1285.5L1128.4 1285.4L1125.4 1285.4L1122.4 1285.8L1119.4 1286.3L1116.4 1287.3L1113.4 1288.4L1111 1289.4L1110.4 1289.2L1107.4 1288L1104.4 1286.9L1101.4 1286.1L1098.4 1285.6L1095.4 1285.4L1092.4 1285.5L1089.4 1285.6L1086.4 1285.8L1083.4 1286.1L1080.4 1286.6L1077.4 1287.1L1074.4 1287.8L1071.4 1288.4L1068.4 1289L1065.4 1290L1062.4 1291.1L1059.4 1292.3L1056.4 1293.7L1053.4 1295.4L1050.4 1297.3L1047.4 1299.3L1044.4 1301.2L1041.4 1303.2L1038.4 1305.3L1035.4 1307.4L1032.4 1309.3L1029.4 1311.3L1026.4 1313.2L1023.4 1315.1L1020.4 1316.9L1017.4 1318.6L1014.4 1320.3L1011.4 1322L1008.4 1323.6L1005.4 1325.2L1002.4 1326.7L999.4 1328.1L996.4 1329.4L993.4 1330.7L990.4 1332L987.4 1333.2L984.4 1334.3L981.4 1335.4L978.4 1336.3L975.4 1337L972.4 1337.7L969.4 1338.3L966.4 1338.7L963.4 1339L960.4 1339.2L957.4 1339.4L954.4 1339.5L951.4 1339.6L950.7 1339.6L948.4 1339.6L945.4 1339.5L942.4 1339.3L939.4 1339.1L936.4 1338.9L933.4 1338.5L930.4 1338L927.4 1337.3L924.4 1336.6L921.4 1335.8L918.4 1334.8L915.4 1333.7L912.4 1332.5L909.4 1331.3L906.4 1330L903.4 1328.7L900.4 1327.3L897.4 1325.9L895.1 1325.9Z" fill="#80ff80"/>
<path d="M895.1 1300.4L897.4 1300.4L900.4 1301.8L903.4 1303.2L906.4 1304.5L909.4 1305.8L912.4 1307L915.4 1308.1L918.4 1309.2L921.4 1310.2L924.4 1311L927.4 1311.7L930.4 1312.4L933.4 1312.9L936.4 1313.3L939.4 1313.5L942.4 1313.7L945.4 1313.8L948.4 1313.9L950.7 1313.9L951.4 1313.9L954.4 1313.9L957.4 1313.8L960.4 1313.6L963.4 1313.4L966.4 1313.1L969.4 1312.7L972.4 1312.1L975.4 1311.4L978.4 1310.7L981.4 1309.8L984.4 1308.7L987.4 1307.6L990.4 1306.4L993.4 1305.2L996.4 1303.9L999.4 1302.5L1002.4 1301.2L1005.4 1299.8L1008.4 1298.4L1011.4 1297.1L1014.4 1295.6L1017.4 1294.2L1020.4 1292.7L1023.4 1291.1L1026.4 1289.5L1029.4 1287.8L1032.4 1286L1035.4 1284.2L1038.4 1282.3L1041.4 1280.3L1044.4 1278.5L1047.4 1276.6L1050.4 1274.8L1053.4 1273L1056.4 1271.4L1059.4 1270L1062.4 1268.8L1065.4 1267.6L1068.4 1266.7L1071.4 1265.9L1074.4 1265.3L1077.4 1264.8L1080.4 1264.5L1083.4 1264.2L1086.4 1264.2L1089.4 1264.1L1092.4 1264.6L1095.4 1265.4L1098.4 1266.5L1101.4 1268L1104.4 1269.7L1107.4 1271.7L1110.4 1273.8L1111 1274.2L1113.4 1272.5L1116.4 1270.4L1119.4 1268.5L1122.4 1267.1L1125.4 1265.7L1128.4 1264.8L1131.4 1264.3L1134.4 1264.1L1137.4 1264.2L1140.4 1264.4L1143.4 1264.7L1146.4 1265.1L1149.4 1265.7L1152.4 1266.4L1155.4 1267.2L1158.4 1268.3L1161.4 1269.6L1164.4 1270.9L1167.4 1272.4L1170.4 1274.1L1173.4 1275.9L1176.4 1277.8L1179.4 1279.6L1182.4 1281.5L1185.4 1283.5L1188.4 1285.4L1191.4 1287.1L1194.4 1288.9L1197.4 1290.5L1200.4 1292.1L1203.4 1293.6L1206.4 1295.1L1209.4 1296.5L1212.4 1297.9L1215.4 1299.3L1218.4 1300.7L1221.4 1302L1224.4 1303.4L1227.4 1304.7L1230.4 1306L1233.4 1307.2L1236.4 1308.3L1239.4 1309.4L1242.4 1310.4L1245.4 1311.1L1248.4 1311.8L1251.4 1312.5L1254.4 1313L1257.4 1313.3L1260.4 1313.5L1263.4 1313.7L1266.4 1313.9L1269.4 1313.9L1271.2 1313.9L1272.4 1313.9L1275.4 1313.9L1278.4 1313.7L1281.4 1313.6L1284.4 1313.3L1287.4 1313L1290.4 1312.6L1293.4 1312L1296.4 1311.3L1299.4 1310.5L1302.4 1309.6L1305.4 1308.6L1308.4 1307.4L1311.4 1306.2L1314.4 1305L1317.4 1303.7L1320.4 1302.3L1323.4 1300.9L1326.4 1299.6L1329.4 1298.2L1332.4 1296.8L1335.4 1295.4L1338.4 1293.9L1341.4 1292.4L1344.4 1290.8L1347.4 1289.2L1350.4 1287.5L1353.4 1285.7L1356.4 1283.9L1359.4 1281.9L1362.4 1280L1365.4 1278.1L1368.4 1276.3L1371.4 1274.4L1374.4 1272.7L1377.4 1271.2L1380.4 1269.8L1383.4 1268.6L1386.4 1267.4L1389.4 1266.5L1392.4 1265.8L1395.4 1265.2L1398.4 1264.8L1401.4 1264.4L1404.4 1264.2L1407.4 1264.1L1410.4 1264.2L1413.4 1264.7L1416.4 1265.5L1419.4 1266.8L1422.4 1268.2L1425.4 1270L1428.4 1272.1L1431.4 1274.2L1431.4 1274.2L1434.4 1272.1L1437.4 1270.1L1440.4 1268.2L1443.4 1266.8L1446.4 1265.6L1449.4 1264.7L1452.4 1264.2L1455.4 1264.1L1458.4 1264.2L1461.4 1264.4L1464.4 1264.8L1467.4 1265.2L1470.4 1265.8L1473.4 1266.5L1476.4 1267.4L1479.4 1268.5L1482.4 1269.8L1485.4 1271.1L1488.4 1272.7L1491.4 1274.4L1494.4 1276.3L1497.4 1278.1L1500.4 1280L1503.4 1281.9L1506.4 1283.8L1509.4 1285.7L1512.4 1287.4L1515.4 1289.2L1518.4 1290.8L1521.4 1292.4L1524.4 1293.9L1527.4 1295.4L1530.4 1296.8L1532.2 1297.6L1534.5 1297.6L1534.5 1321.7L1532.2 1321.7L1530.4 1320.7L1527.4 1319.1L1524.4 1317.4L1521.4 1315.6L1518.4 1313.9L1515.4 1312L1512.4 1310.1L1509.4 1308.2L1506.4 1306.2L1503.4 1304.1L1500.4 1302.1L1497.4 1300.1L1494.4 1298.1L1491.4 1296.1L1488.4 1294.3L1485.4 1292.6L1482.4 1291.3L1479.4 1290L1476.4 1288.9L1473.4 1288L1470.4 1287.3L1467.4 1286.8L1464.4 1286.1L1461.4 1285.6L1458.4 1285.2L1455.4 1284.9L1452.4 1284.7L1449.4 1284.6L1446.4 1284.5L1443.4 1284.9L1440.4 1285.5L1437.4 1286.4L1434.4 1287.5L1431.4 1288.8L1431.4 1288.8L1428.4 1287.5L1425.4 1286.4L1422.4 1285.4L1419.4 1284.9L1416.4 1284.5L1413.4 1284.6L1410.4 1284.7L1407.4 1284.9L1404.4 1285.2L1401.4 1285.6L1398.4 1286.1L1395.4 1286.8L1392.4 1287.4L1389.4 1288L1386.4 1288.9L1383.4 1290L1380.4 1291.3L1377.4 1292.6L1374.4 1294.3L1371.4 1296.2L1368.4 1298.1L1365.4 1300.1L1362.4 1302.1L1359.4 1304.2L1356.4 1306.2L1353.4 1308.2L1350.4 1310.1L1347.4 1312L1344.4 1313.9L1341.4 1315.7L1338.4 1317.4L1335.4 1319.1L1332.4 1320.7L1329.4 1322.3L1326.4 1323.9L1323.4 1325.4L1320.4 1326.8L1317.4 1328.2L1314.4 1329.5L1311.4 1330.8L1308.4 1332L1305.4 1333.1L1302.4 1334.2L1299.4 1335.1L1296.4 1335.9L1293.4 1336.6L1290.4 1337.2L1287.4 1337.7L1284.4 1338L1281.4 1338.2L1278.4 1338.4L1275.4 1338.6L1272.4 1338.6L1271.2 1338.6L1269.4 1338.6L1266.4 1338.5L1263.4 1338.4L1260.4 1338.2L1257.4 1337.9L1254.4 1337.6L1251.4 1337.1L1248.4 1336.4L1245.4 1335.7L1242.4 1335L1239.4 1334L1236.4 1332.9L1233.4 1331.7L1230.4 1330.5L1227.4 1329.3L1224.4 1327.9L1221.4 1326.5L1218.4 1325.1L1215.4 1323.6L1212.4 1322L1209.4 1320.4L1206.4 1318.8L1203.4 1317.1L1200.4 1315.3L1197.4 1313.5L1194.4 1311.7L1191.4 1309.7L1188.4 1307.8L1185.4 1305.8L1182.4 1303.8L1179.4 1301.7L1176.4 1299.7L1173.4 1297.8L1170.4 1295.8L1167.4 1293.9L1164.4 1292.3L1161.4 1291L1158.4 1289.8L1155.4 1288.8L1152.4 1287.9L1149.4 1287.2L1146.4 1286.7L1143.4 1286L1140.4 1285.5L1137.4 1285.1L1134.4 1284.9L1131.4 1284.6L1128.4 1284.5L1125.4 1284.6L1122.4 1285L1119.4 1285.6L1116.4 1286.6L1113.4 1287.7L1111 1288.8L1110.4 1288.5L1107.4 1287.3L1104.4 1286.2L1101.4 1285.3L1098.4 1284.8L1095.4 1284.5L1092.4 1284.6L1089.4 1284.7L1086.4 1284.9L1083.4 1285.2L1080.4 1285.7L1077.4 1286.2L1074.4 1286.9L1071.4 1287.5L1068.4 1288.2L1065.4 1289.1L1062.4 1290.3L1059.4 1291.5L1056.4 1292.9L1053.4 1294.6L1050.4 1296.5L1047.4 1298.5L1044.4 1300.5L1041.4 1302.4L1038.4 1304.5L1035.4 1306.6L1032.4 1308.6L1029.4 1310.5L1026.4 1312.4L1023.4 1314.2L1020.4 1316L1017.4 1317.7L1014.4 1319.4L1011.4 1321L1008.4 1322.6L1005.4 1324.2L1002.4 1325.7L999.4 1327.1L996.4 1328.4L993.4 1329.7L990.4 1331L987.4 1332.2L984.4 1333.3L981.4 1334.4L978.4 1335.3L975.4 1336L972.4 1336.7L969.4 1337.3L966.4 1337.7L963.4 1338L960.4 1338.3L957.4 1338.5L954.4 1338.6L951.4 1338.6L950.7 1338.6L948.4 1338.6L945.4 1338.5L942.4 1338.4L939.4 1338.1L936.4 1337.9L933.4 1337.5L930.4 1337L927.4 1336.3L924.4 1335.6L921.4 1334.8L918.4 1333.8L915.4 1332.7L912.4 1331.5L909.4 1330.3L906.4 1329L903.4 1327.7L900.4 1326.3L897.4 1324.9L895.1 1324.9Z" fill="#abff54"/>
<path d="M895.1 1301.1L897.4 1301.1L900.4 1302.5L903.4 1303.9L906.4 1305.2L909.4 1306.5L912.4 1307.7L915.4 1308.8L918.4 1309.9L921.4 1310.9L924.4 1311.7L927.4 1312.4L930.4 1313L933.4 1313.6L936.4 1313.9L939.4 1314.2L942.4 1314.4L945.4 1314.5L948.4 1314.6L950.7 1314.6L951.4 1314.6L954.4 1314.6L957.4 1314.5L960.4 1314.3L963.4 1314.1L966.4 1313.8L969.4 1313.3L972.4 1312.8L975.4 1312.1L978.4 1311.4L981.4 1310.5L984.4 1309.4L987.4 1308.3L990.4 1307.1L993.4 1305.9L996.4 1304.6L999.4 1303.2L1002.4 1301.8L1005.4 1300.5L1008.4 1299.1L1011.4 1297.7L1014.4 1296.3L1017.4 1294.8L1020.4 1293.3L1023.4 1291.8L1026.4 1290.1L1029.4 1288.4L1032.4 1286.7L1035.4 1284.8L1038.4 1282.9L1041.4 1281L1044.4 1279.1L1047.4 1277.2L1050.4 1275.4L1053.4 1273.6L1056.4 1272L1059.4 1270.7L1062.4 1269.4L1065.4 1268.2L1068.4 1267.3L1071.4 1266.5L1074.4 1265.9L1077.4 1265.4L1080.4 1265L1083.4 1264.8L1086.4 1264.7L1089.4 1264.7L1092.4 1265.1L1095.4 1265.9L1098.4 1267L1101.4 1268.4L1104.4 1270.1L1107.4 1272.1L1110.4 1274.2L1111 1274.6L1113.4 1272.9L1116.4 1270.8L1119.4 1269L1122.4 1267.5L1125.4 1266.2L1128.4 1265.3L1131.4 1264.8L1134.4 1264.7L1137.4 1264.8L1140.4 1264.9L1143.4 1265.3L1146.4 1265.7L1149.4 1266.3L1152.4 1267L1155.4 1267.8L1158.4 1268.9L1161.4 1270.2L1164.4 1271.5L1167.4 1273L1170.4 1274.7L1173.4 1276.6L1176.4 1278.4L1179.4 1280.3L1182.4 1282.2L1185.4 1284.1L1188.4 1286L1191.4 1287.8L1194.4 1289.5L1197.4 1291.2L1200.4 1292.8L1203.4 1294.3L1206.4 1295.8L1209.4 1297.2L1212.4 1298.6L1215.4 1300L1218.4 1301.3L1221.4 1302.7L1224.4 1304.1L1227.4 1305.4L1230.4 1306.7L1233.4 1307.9L1236.4 1309L1239.4 1310.1L1242.4 1311.1L1245.4 1311.8L1248.4 1312.5L1251.4 1313.1L1254.4 1313.6L1257.4 1314L1260.4 1314.2L1263.4 1314.4L1266.4 1314.6L1269.4 1314.6L1271.2 1314.6L1272.4 1314.6L1275.4 1314.6L1278.4 1314.4L1281.4 1314.3L1284.4 1314L1287.4 1313.7L1290.4 1313.2L1293.4 1312.6L1296.4 1312L1299.4 1311.2L1302.4 1310.3L1305.4 1309.2L1308.4 1308.1L1311.4 1306.9L1314.4 1305.7L1317.4 1304.4L1320.4 1303L1323.4 1301.6L1326.4 1300.2L1329.4 1298.9L1332.4 1297.5L1335.4 1296.1L1338.4 1294.6L1341.4 1293.1L1344.4 1291.5L1347.4 1289.9L1350.4 1288.1L1353.4 1286.4L1356.4 1284.5L1359.4 1282.6L1362.4 1280.6L1365.4 1278.8L1368.4 1276.9L1371.4 1275.1L1374.4 1273.3L1377.4 1271.8L1380.4 1270.4L1383.4 1269.2L1386.4 1268L1389.4 1267.1L1392.4 1266.4L1395.4 1265.8L1398.4 1265.3L1401.4 1265L1404.4 1264.8L1407.4 1264.7L1410.4 1264.7L1413.4 1265.2L1416.4 1266L1419.4 1267.3L1422.4 1268.7L1425.4 1270.5L1428.4 1272.5L1431.4 1274.6L1431.4 1274.6L1434.4 1272.5L1437.4 1270.5L1440.4 1268.7L1443.4 1267.3L1446.4 1266.1L1449.4 1265.2L1452.4 1264.7L1455.4 1264.7L1458.4 1264.8L1461.4 1265L1464.4 1265.3L1467.4 1265.8L1470.4 1266.4L1473.4 1267.1L1476.4 1268L1479.4 1269.2L1482.4 1270.4L1485.4 1271.7L1488.4 1273.3L1491.4 1275L1494.4 1276.9L1497.4 1278.8L1500.4 1280.6L1503.4 1282.5L1506.4 1284.5L1509.4 1286.4L1512.4 1288.1L1515.4 1289.8L1518.4 1291.5L1521.4 1293L1524.4 1294.6L1527.4 1296L1530.4 1297.5L1532.2 1298.3L1534.5 1298.3L1534.5 1320.7L1532.2 1320.7L1530.4 1319.8L1527.4 1318.2L1524.4 1316.5L1521.4 1314.8L1518.4 1313L1515.4 1311.2L1512.4 1309.3L1509.4 1307.4L1506.4 1305.4L1503.4 1303.3L1500.4 1301.3L1497.4 1299.3L1494.4 1297.3L1491.4 1295.3L1488.4 1293.5L1485.4 1291.8L1482.4 1290.4L1479.4 1289.2L1476.4 1288.1L1473.4 1287.2L1470.4 1286.5L1467.4 1285.9L1464.4 1285.2L1461.4 1284.7L1458.4 1284.3L1455.4 1284L1452.4 1283.8L1449.4 1283.7L1446.4 1283.7L1443.4 1284.1L1440.4 1284.7L1437.4 1285.7L1434.4 1286.8L1431.4 1288.1L1431.4 1288.1L1428.4 1286.8L1425.4 1285.6L1422.4 1284.7L1419.4 1284.1L1416.4 1283.7L1413.4 1283.7L1410.4 1283.8L1407.4 1284L1404.4 1284.3L1401.4 1284.7L1398.4 1285.2L1395.4 1285.9L1392.4 1286.5L1389.4 1287.2L1386.4 1288.1L1383.4 1289.2L1380.4 1290.5L1377.4 1291.8L1374.4 1293.5L1371.4 1295.4L1368.4 1297.3L1365.4 1299.3L1362.4 1301.3L1359.4 1303.4L1356.4 1305.4L1353.4 1307.4L1350.4 1309.3L1347.4 1311.2L1344.4 1313L1341.4 1314.8L1338.4 1316.5L1335.4 1318.2L1332.4 1319.8L1329.4 1321.4L1326.4 1322.9L1323.4 1324.4L1320.4 1325.8L1317.4 1327.2L1314.4 1328.5L1311.4 1329.8L1308.4 1331L1305.4 1332.1L1302.4 1333.2L1299.4 1334.1L1296.4 1334.9L1293.4 1335.6L1290.4 1336.2L1287.4 1336.7L1284.4 1337L1281.4 1337.3L1278.4 1337.5L1275.4 1337.6L1272.4 1337.7L1271.2 1337.7L1269.4 1337.7L1266.4 1337.6L1263.4 1337.4L1260.4 1337.2L1257.4 1337L1254.4 1336.6L1251.4 1336.1L1248.4 1335.5L1245.4 1334.8L1242.4 1334L1239.4 1333L1236.4 1331.9L1233.4 1330.7L1230.4 1329.5L1227.4 1328.3L1224.4 1326.9L1221.4 1325.5L1218.4 1324.1L1215.4 1322.6L1212.4 1321.1L1209.4 1319.5L1206.4 1317.9L1203.4 1316.2L1200.4 1314.5L1197.4 1312.7L1194.4 1310.9L1191.4 1309L1188.4 1307.1L1185.4 1305L1182.4 1303L1179.4 1300.9L1176.4 1299L1173.4 1297L1170.4 1295L1167.4 1293.2L1164.4 1291.5L1161.4 1290.2L1158.4 1289L1155.4 1287.9L1152.4 1287L1149.4 1286.4L1146.4 1285.8L1143.4 1285.1L1140.4 1284.6L1137.4 1284.2L1134.4 1284L1131.4 1283.8L1128.4 1283.7L1125.4 1283.7L1122.4 1284.2L1119.4 1284.8L1116.4 1285.9L1113.4 1287.1L1111 1288.1L1110.4 1287.9L1107.4 1286.6L1104.4 1285.4L1101.4 1284.6L1098.4 1284L1095.4 1283.7L1092.4 1283.7L1089.4 1283.8L1086.4 1284.1L1083.4 1284.3L1080.4 1284.8L1077.4 1285.3L1074.4 1286L1071.4 1286.6L1068.4 1287.3L1065.4 1288.3L1062.4 1289.4L1059.4 1290.7L1056.4 1292.1L1053.4 1293.8L1050.4 1295.7L1047.4 1297.7L1044.4 1299.7L1041.4 1301.7L1038.4 1303.7L1035.4 1305.8L1032.4 1307.8L1029.4 1309.7L1026.4 1311.6L1023.4 1313.4L1020.4 1315.1L1017.4 1316.8L1014.4 1318.5L1011.4 1320.1L1008.4 1321.6L1005.4 1323.2L1002.4 1324.6L999.4 1326L996.4 1327.4L993.4 1328.7L990.4 1330L987.4 1331.2L984.4 1332.3L981.4 1333.4L978.4 1334.3L975.4 1335L972.4 1335.7L969.4 1336.3L966.4 1336.8L963.4 1337.1L960.4 1337.3L957.4 1337.5L954.4 1337.6L951.4 1337.7L950.7 1337.7L948.4 1337.7L945.4 1337.6L942.4 1337.4L939.4 1337.2L936.4 1336.9L933.4 1336.5L930.4 1336L927.4 1335.3L924.4 1334.6L921.4 1333.8L918.4 1332.8L915.4 1331.7L912.4 1330.5L909.4 1329.3L906.4 1328L903.4 1326.7L900.4 1325.3L897.4 1323.9L895.1 1323.9Z" fill="#d6ff29"/>
<path d="M895.1 1301.8L897.4 1301.8L900.4 1303.2L903.4 1304.6L906.4 1305.9L909.4 1307.2L912.4 1308.4L915.4 1309.5L918.4 1310.6L921.4 1311.6L924.4 1312.4L927.4 1313.1L930.4 1313.8L933.4 1314.3L936.4 1314.7L939.4 1314.9L942.4 1315.1L945.4 1315.3L948.4 1315.3L950.7 1315.3L951.4 1315.4L954.4 1315.3L957.4 1315.2L960.4 1315L963.4 1314.8L966.4 1314.5L969.4 1314.1L972.4 1313.5L975.4 1312.8L978.4 1312.1L981.4 1311.2L984.4 1310.1L987.4 1309L990.4 1307.8L993.4 1306.6L996.4 1305.3L999.4 1303.9L1002.4 1302.5L1005.4 1301.2L1008.4 1299.8L1011.4 1298.4L1014.4 1297L1017.4 1295.5L1020.4 1294L1023.4 1292.5L1026.4 1290.8L1029.4 1289.1L1032.4 1287.4L1035.4 1285.5L1038.4 1283.6L1041.4 1281.6L1044.4 1279.8L1047.4 1277.9L1050.4 1276L1053.4 1274.3L1056.4 1272.7L1059.4 1271.3L1062.4 1270L1065.4 1268.9L1068.4 1267.9L1071.4 1267.1L1074.4 1266.5L1077.4 1266L1080.4 1265.6L1083.4 1265.4L1086.4 1265.3L1089.4 1265.3L1092.4 1265.7L1095.4 1266.4L1098.4 1267.5L1101.4 1268.9L1104.4 1270.6L1107.4 1272.5L1110.4 1274.6L1111 1275L1113.4 1273.3L1116.4 1271.3L1119.4 1269.4L1122.4 1268L1125.4 1266.8L1128.4 1265.9L1131.4 1265.4L1134.4 1265.3L1137.4 1265.4L1140.4 1265.5L1143.4 1265.9L1146.4 1266.3L1149.4 1266.9L1152.4 1267.6L1155.4 1268.5L1158.4 1269.6L1161.4 1270.8L1164.4 1272.1L1167.4 1273.6L1170.4 1275.4L1173.4 1277.2L1176.4 1279.1L1179.4 1280.9L1182.4 1282.9L1185.4 1284.8L1188.4 1286.7L1191.4 1288.5L1194.4 1290.2L1197.4 1291.9L1200.4 1293.5L1203.4 1295L1206.4 1296.5L1209.4 1297.9L1212.4 1299.3L1215.4 1300.7L1218.4 1302L1221.4 1303.4L1224.4 1304.8L1227.4 1306.1L1230.4 1307.4L1233.4 1308.6L1236.4 1309.7L1239.4 1310.8L1242.4 1311.8L1245.4 1312.5L1248.4 1313.2L1251.4 1313.9L1254.4 1314.4L1257.4 1314.7L1260.4 1314.9L1263.4 1315.1L1266.4 1315.3L1269.4 1315.3L1271.2 1315.3L1272.4 1315.3L1275.4 1315.3L1278.4 1315.2L1281.4 1315L1284.4 1314.8L1287.4 1314.4L1290.4 1314L1293.4 1313.4L1296.4 1312.7L1299.4 1311.9L1302.4 1311L1305.4 1309.9L1308.4 1308.8L1311.4 1307.6L1314.4 1306.4L1317.4 1305.1L1320.4 1303.7L1323.4 1302.3L1326.4 1300.9L1329.4 1299.6L1332.4 1298.2L1335.4 1296.8L1338.4 1295.3L1341.4 1293.7L1344.4 1292.2L1347.4 1290.5L1350.4 1288.8L1353.4 1287.1L1356.4 1285.2L1359.4 1283.2L1362.4 1281.3L1365.4 1279.4L1368.4 1277.6L1371.4 1275.7L1374.4 1274L1377.4 1272.4L1380.4 1271.1L1383.4 1269.8L1386.4 1268.7L1389.4 1267.7L1392.4 1267L1395.4 1266.4L1398.4 1265.9L1401.4 1265.6L1404.4 1265.4L1407.4 1265.3L1410.4 1265.3L1413.4 1265.8L1416.4 1266.6L1419.4 1267.8L1422.4 1269.2L1425.4 1270.9L1428.4 1272.9L1431.4 1275L1431.4 1275L1434.4 1272.9L1437.4 1270.9L1440.4 1269.2L1443.4 1267.8L1446.4 1266.6L1449.4 1265.8L1452.4 1265.3L1455.4 1265.3L1458.4 1265.4L1461.4 1265.6L1464.4 1265.9L1467.4 1266.4L1470.4 1267L1473.4 1267.7L1476.4 1268.7L1479.4 1269.8L1482.4 1271L1485.4 1272.4L1488.4 1273.9L1491.4 1275.7L1494.4 1277.5L1497.4 1279.4L1500.4 1281.3L1503.4 1283.2L1506.4 1285.2L1509.4 1287L1512.4 1288.8L1515.4 1290.5L1518.4 1292.1L1521.4 1293.7L1524.4 1295.3L1527.4 1296.7L1530.4 1298.2L1532.2 1299L1534.5 1299L1534.5 1319.9L1532.2 1319.9L1530.4 1319L1527.4 1317.4L1524.4 1315.7L1521.4 1314L1518.4 1312.3L1515.4 1310.5L1512.4 1308.6L1509.4 1306.7L1506.4 1304.7L1503.4 1302.7L1500.4 1300.6L1497.4 1298.6L1494.4 1296.6L1491.4 1294.7L1488.4 1292.8L1485.4 1291.1L1482.4 1289.8L1479.4 1288.5L1476.4 1287.4L1473.4 1286.4L1470.4 1285.7L1467.4 1285.1L1464.4 1284.4L1461.4 1283.9L1458.4 1283.5L1455.4 1283.3L1452.4 1283L1449.4 1282.9L1446.4 1283L1443.4 1283.4L1440.4 1284L1437.4 1285L1434.4 1286.3L1431.4 1287.6L1431.4 1287.6L1428.4 1286.2L1425.4 1285L1422.4 1284L1419.4 1283.4L1416.4 1283L1413.4 1282.9L1410.4 1283L1407.4 1283.3L1404.4 1283.5L1401.4 1283.9L1398.4 1284.5L1395.4 1285.1L1392.4 1285.7L1389.4 1286.4L1386.4 1287.4L1383.4 1288.5L1380.4 1289.8L1377.4 1291.2L1374.4 1292.8L1371.4 1294.7L1368.4 1296.7L1365.4 1298.7L1362.4 1300.6L1359.4 1302.7L1356.4 1304.8L1353.4 1306.8L1350.4 1308.7L1347.4 1310.5L1344.4 1312.3L1341.4 1314.1L1338.4 1315.8L1335.4 1317.4L1332.4 1319L1329.4 1320.5L1326.4 1322.1L1323.4 1323.6L1320.4 1325L1317.4 1326.3L1314.4 1327.7L1311.4 1328.9L1308.4 1330.1L1305.4 1331.3L1302.4 1332.4L1299.4 1333.3L1296.4 1334.1L1293.4 1334.8L1290.4 1335.4L1287.4 1335.9L1284.4 1336.2L1281.4 1336.4L1278.4 1336.6L1275.4 1336.8L1272.4 1336.9L1271.2 1336.9L1269.4 1336.9L1266.4 1336.8L1263.4 1336.6L1260.4 1336.4L1257.4 1336.2L1254.4 1335.8L1251.4 1335.3L1248.4 1334.6L1245.4 1333.9L1242.4 1333.1L1239.4 1332.2L1236.4 1331.1L1233.4 1329.9L1230.4 1328.7L1227.4 1327.4L1224.4 1326.1L1221.4 1324.7L1218.4 1323.3L1215.4 1321.8L1212.4 1320.3L1209.4 1318.7L1206.4 1317.1L1203.4 1315.4L1200.4 1313.7L1197.4 1312L1194.4 1310.2L1191.4 1308.3L1188.4 1306.4L1185.4 1304.4L1182.4 1302.3L1179.4 1300.3L1176.4 1298.3L1173.4 1296.3L1170.4 1294.3L1167.4 1292.5L1164.4 1290.9L1161.4 1289.5L1158.4 1288.3L1155.4 1287.2L1152.4 1286.3L1149.4 1285.6L1146.4 1285L1143.4 1284.3L1140.4 1283.8L1137.4 1283.5L1134.4 1283.2L1131.4 1283L1128.4 1282.9L1125.4 1283L1122.4 1283.5L1119.4 1284.2L1116.4 1285.2L1113.4 1286.5L1111 1287.6L1110.4 1287.3L1107.4 1286L1104.4 1284.8L1101.4 1283.9L1098.4 1283.3L1095.4 1282.9L1092.4 1282.9L1089.4 1283.1L1086.4 1283.3L1083.4 1283.6L1080.4 1284L1077.4 1284.6L1074.4 1285.2L1071.4 1285.8L1068.4 1286.6L1065.4 1287.6L1062.4 1288.7L1059.4 1290L1056.4 1291.4L1053.4 1293.1L1050.4 1295L1047.4 1297L1044.4 1299L1041.4 1301L1038.4 1303.1L1035.4 1305.1L1032.4 1307.1L1029.4 1309L1026.4 1310.9L1023.4 1312.6L1020.4 1314.4L1017.4 1316.1L1014.4 1317.7L1011.4 1319.3L1008.4 1320.8L1005.4 1322.3L1002.4 1323.8L999.4 1325.2L996.4 1326.6L993.4 1327.9L990.4 1329.1L987.4 1330.3L984.4 1331.5L981.4 1332.6L978.4 1333.5L975.4 1334.2L972.4 1334.9L969.4 1335.5L966.4 1335.9L963.4 1336.2L960.4 1336.5L957.4 1336.7L954.4 1336.8L951.4 1336.9L950.7 1336.9L948.4 1336.8L945.4 1336.7L942.4 1336.6L939.4 1336.4L936.4 1336.1L933.4 1335.7L930.4 1335.2L927.4 1334.5L924.4 1333.8L921.4 1333L918.4 1332L915.4 1330.9L912.4 1329.7L909.4 1328.5L906.4 1327.2L903.4 1325.8L900.4 1324.4L897.4 1323L895.1 1323Z" fill="#fffd00"/>
<path d="M895.1 1302.6L897.4 1302.6L900.4 1304L903.4 1305.3L906.4 1306.7L909.4 1308L912.4 1309.2L915.4 1310.3L918.4 1311.4L921.4 1312.4L924.4 1313.2L927.4 1313.9L930.4 1314.6L933.4 1315.1L936.4 1315.5L939.4 1315.7L942.4 1315.9L945.4 1316.1L948.4 1316.2L950.7 1316.2L951.4 1316.2L954.4 1316.1L957.4 1316L960.4 1315.8L963.4 1315.6L966.4 1315.3L969.4 1314.9L972.4 1314.3L975.4 1313.6L978.4 1312.9L981.4 1312L984.4 1310.9L987.4 1309.8L990.4 1308.6L993.4 1307.4L996.4 1306.1L999.4 1304.7L1002.4 1303.3L1005.4 1302L1008.4 1300.6L1011.4 1299.2L1014.4 1297.8L1017.4 1296.3L1020.4 1294.8L1023.4 1293.2L1026.4 1291.6L1029.4 1289.9L1032.4 1288.2L1035.4 1286.3L1038.4 1284.3L1041.4 1282.4L1044.4 1280.5L1047.4 1278.6L1050.4 1276.8L1053.4 1275L1056.4 1273.4L1059.4 1272L1062.4 1270.7L1065.4 1269.6L1068.4 1268.6L1071.4 1267.8L1074.4 1267.2L1077.4 1266.7L1080.4 1266.3L1083.4 1266.1L1086.4 1266L1089.4 1265.9L1092.4 1266.3L1095.4 1267L1098.4 1268.1L1101.4 1269.4L1104.4 1271.1L1107.4 1273L1110.4 1275.1L1111 1275.4L1113.4 1273.8L1116.4 1271.8L1119.4 1270L1122.4 1268.6L1125.4 1267.4L1128.4 1266.5L1131.4 1266L1134.4 1265.9L1137.4 1266L1140.4 1266.2L1143.4 1266.5L1146.4 1267L1149.4 1267.6L1152.4 1268.3L1155.4 1269.2L1158.4 1270.3L1161.4 1271.5L1164.4 1272.9L1167.4 1274.4L1170.4 1276.1L1173.4 1278L1176.4 1279.8L1179.4 1281.7L1182.4 1283.6L1185.4 1285.6L1188.4 1287.5L1191.4 1289.3L1194.4 1291L1197.4 1292.6L1200.4 1294.2L1203.4 1295.8L1206.4 1297.3L1209.4 1298.7L1212.4 1300.1L1215.4 1301.5L1218.4 1302.8L1221.4 1304.2L1224.4 1305.6L1227.4 1306.9L1230.4 1308.2L1233.4 1309.4L1236.4 1310.5L1239.4 1311.6L1242.4 1312.6L1245.4 1313.3L1248.4 1314L1251.4 1314.7L1254.4 1315.2L1257.4 1315.5L1260.4 1315.7L1263.4 1315.9L1266.4 1316.1L1269.4 1316.2L1271.2 1316.2L1272.4 1316.2L1275.4 1316.1L1278.4 1316L1281.4 1315.8L1284.4 1315.6L1287.4 1315.2L1290.4 1314.8L1293.4 1314.2L1296.4 1313.5L1299.4 1312.7L1302.4 1311.8L1305.4 1310.7L1308.4 1309.6L1311.4 1308.4L1314.4 1307.2L1317.4 1305.8L1320.4 1304.5L1323.4 1303.1L1326.4 1301.7L1329.4 1300.3L1332.4 1299L1335.4 1297.5L1338.4 1296.1L1341.4 1294.5L1344.4 1293L1347.4 1291.3L1350.4 1289.6L1353.4 1287.8L1356.4 1286L1359.4 1284L1362.4 1282.1L1365.4 1280.2L1368.4 1278.3L1371.4 1276.5L1374.4 1274.7L1377.4 1273.1L1380.4 1271.8L1383.4 1270.5L1386.4 1269.4L1389.4 1268.4L1392.4 1267.7L1395.4 1267.1L1398.4 1266.6L1401.4 1266.2L1404.4 1266L1407.4 1265.9L1410.4 1265.9L1413.4 1266.4L1416.4 1267.2L1419.4 1268.3L1422.4 1269.7L1425.4 1271.4L1428.4 1273.4L1431.4 1275.4L1431.4 1275.4L1434.4 1273.4L1437.4 1271.4L1440.4 1269.7L1443.4 1268.3L1446.4 1267.2L1449.4 1266.4L1452.4 1266L1455.4 1265.9L1458.4 1266L1461.4 1266.2L1464.4 1266.6L1467.4 1267.1L1470.4 1267.7L1473.4 1268.4L1476.4 1269.4L1479.4 1270.5L1482.4 1271.8L1485.4 1273.1L1488.4 1274.7L1491.4 1276.4L1494.4 1278.3L1497.4 1280.2L1500.4 1282L1503.4 1284L1506.4 1285.9L1509.4 1287.8L1512.4 1289.6L1515.4 1291.3L1518.4 1292.9L1521.4 1294.5L1524.4 1296L1527.4 1297.5L1530.4 1298.9L1532.2 1299.8L1534.5 1299.8L1534.5 1319.2L1532.2 1319.2L1530.4 1318.3L1527.4 1316.7L1524.4 1315.1L1521.4 1313.4L1518.4 1311.7L1515.4 1309.9L1512.4 1308L1509.4 1306.1L1506.4 1304.1L1503.4 1302.1L1500.4 1300L1497.4 1298L1494.4 1296L1491.4 1294.1L1488.4 1292.2L1485.4 1290.5L1482.4 1289.2L1479.4 1287.9L1476.4 1286.7L1473.4 1285.8L1470.4 1285L1467.4 1284.4L1464.4 1283.7L1461.4 1283.2L1458.4 1282.8L1455.4 1282.6L1452.4 1282.4L1449.4 1282.3L1446.4 1282.3L1443.4 1282.8L1440.4 1283.5L1437.4 1284.5L1434.4 1285.7L1431.4 1287.1L1431.4 1287.1L1428.4 1285.7L1425.4 1284.5L1422.4 1283.4L1419.4 1282.8L1416.4 1282.3L1413.4 1282.3L1410.4 1282.4L1407.4 1282.6L1404.4 1282.8L1401.4 1283.2L1398.4 1283.8L1395.4 1284.4L1392.4 1285L1389.4 1285.8L1386.4 1286.7L1383.4 1287.9L1380.4 1289.2L1377.4 1290.6L1374.4 1292.2L1371.4 1294.1L1368.4 1296.1L1365.4 1298.1L1362.4 1300L1359.4 1302.1L1356.4 1304.2L1353.4 1306.2L1350.4 1308.1L1347.4 1309.9L1344.4 1311.7L1341.4 1313.4L1338.4 1315.1L1335.4 1316.7L1332.4 1318.3L1329.4 1319.8L1326.4 1321.3L1323.4 1322.8L1320.4 1324.2L1317.4 1325.6L1314.4 1326.9L1311.4 1328.2L1308.4 1329.4L1305.4 1330.5L1302.4 1331.6L1299.4 1332.6L1296.4 1333.3L1293.4 1334L1290.4 1334.6L1287.4 1335.1L1284.4 1335.5L1281.4 1335.7L1278.4 1335.9L1275.4 1336L1272.4 1336.1L1271.2 1336.1L1269.4 1336.1L1266.4 1336L1263.4 1335.9L1260.4 1335.7L1257.4 1335.4L1254.4 1335L1251.4 1334.5L1248.4 1333.9L1245.4 1333.2L1242.4 1332.4L1239.4 1331.4L1236.4 1330.3L1233.4 1329.1L1230.4 1327.9L1227.4 1326.7L1224.4 1325.3L1221.4 1323.9L1218.4 1322.5L1215.4 1321L1212.4 1319.5L1209.4 1318L1206.4 1316.4L1203.4 1314.8L1200.4 1313.1L1197.4 1311.4L1194.4 1309.6L1191.4 1307.7L1188.4 1305.8L1185.4 1303.8L1182.4 1301.7L1179.4 1299.7L1176.4 1297.7L1173.4 1295.7L1170.4 1293.7L1167.4 1291.9L1164.4 1290.3L1161.4 1288.9L1158.4 1287.7L1155.4 1286.5L1152.4 1285.6L1149.4 1284.9L1146.4 1284.3L1143.4 1283.6L1140.4 1283.1L1137.4 1282.8L1134.4 1282.5L1131.4 1282.3L1128.4 1282.2L1125.4 1282.4L1122.4 1282.9L1119.4 1283.6L1116.4 1284.7L1113.4 1286L1111 1287.1L1110.4 1286.8L1107.4 1285.5L1104.4 1284.2L1101.4 1283.3L1098.4 1282.7L1095.4 1282.3L1092.4 1282.3L1089.4 1282.4L1086.4 1282.6L1083.4 1282.9L1080.4 1283.3L1077.4 1283.9L1074.4 1284.5L1071.4 1285.2L1068.4 1285.9L1065.4 1286.9L1062.4 1288.1L1059.4 1289.4L1056.4 1290.8L1053.4 1292.5L1050.4 1294.4L1047.4 1296.4L1044.4 1298.4L1041.4 1300.4L1038.4 1302.5L1035.4 1304.5L1032.4 1306.5L1029.4 1308.4L1026.4 1310.2L1023.4 1312L1020.4 1313.7L1017.4 1315.4L1014.4 1317L1011.4 1318.5L1008.4 1320.1L1005.4 1321.6L1002.4 1323L999.4 1324.4L996.4 1325.8L993.4 1327.1L990.4 1328.4L987.4 1329.6L984.4 1330.7L981.4 1331.8L978.4 1332.7L975.4 1333.4L972.4 1334.1L969.4 1334.7L966.4 1335.2L963.4 1335.5L960.4 1335.7L957.4 1335.9L954.4 1336.1L951.4 1336.1L950.7 1336.1L948.4 1336.1L945.4 1336L942.4 1335.8L939.4 1335.6L936.4 1335.4L933.4 1335L930.4 1334.4L927.4 1333.8L924.4 1333.1L921.4 1332.2L918.4 1331.2L915.4 1330.1L912.4 1328.9L909.4 1327.7L906.4 1326.4L903.4 1325.1L900.4 1323.7L897.4 1322.3L895.1 1322.3Z" fill="#ffd200"/>
<path d="M895.1 1303.4L897.4 1303.4L900.4 1304.8L903.4 1306.1L906.4 1307.5L909.4 1308.8L912.4 1310L915.4 1311.1L918.4 1312.2L921.4 1313.2L924.4 1314L927.4 1314.7L930.4 1315.4L933.4 1315.9L936.4 1316.3L939.4 1316.5L942.4 1316.7L945.4 1316.9L948.4 1317L950.7 1317L951.4 1317L954.4 1316.9L957.4 1316.8L960.4 1316.6L963.4 1316.4L966.4 1316.1L969.4 1315.7L972.4 1315.1L975.4 1314.4L978.4 1313.7L981.4 1312.8L984.4 1311.7L987.4 1310.6L990.4 1309.4L993.4 1308.2L996.4 1306.9L999.4 1305.5L1002.4 1304.1L1005.4 1302.7L1008.4 1301.4L1011.4 1300L1014.4 1298.6L1017.4 1297.1L1020.4 1295.6L1023.4 1294L1026.4 1292.4L1029.4 1290.7L1032.4 1288.9L1035.4 1287.1L1038.4 1285.1L1041.4 1283.1L1044.4 1281.3L1047.4 1279.4L1050.4 1277.5L1053.4 1275.7L1056.4 1274.1L1059.4 1272.7L1062.4 1271.4L1065.4 1270.3L1068.4 1269.3L1071.4 1268.5L1074.4 1267.9L1077.4 1267.4L1080.4 1267L1083.4 1266.7L1086.4 1266.6L1089.4 1266.6L1092.4 1266.9L1095.4 1267.6L1098.4 1268.7L1101.4 1270L1104.4 1271.6L1107.4 1273.5L1110.4 1275.5L1111 1275.9L1113.4 1274.2L1116.4 1272.3L1119.4 1270.5L1122.4 1269.1L1125.4 1267.9L1128.4 1267.1L1131.4 1266.7L1134.4 1266.6L1137.4 1266.7L1140.4 1266.9L1143.4 1267.2L1146.4 1267.7L1149.4 1268.3L1152.4 1269L1155.4 1269.9L1158.4 1271L1161.4 1272.3L1164.4 1273.6L1167.4 1275.1L1170.4 1276.8L1173.4 1278.7L1176.4 1280.6L1179.4 1282.4L1182.4 1284.4L1185.4 1286.3L1188.4 1288.3L1191.4 1290L1194.4 1291.8L1197.4 1293.4L1200.4 1295L1203.4 1296.6L1206.4 1298L1209.4 1299.5L1212.4 1300.9L1215.4 1302.2L1218.4 1303.6L1221.4 1305L1224.4 1306.4L1227.4 1307.7L1230.4 1309L1233.4 1310.2L1236.4 1311.3L1239.4 1312.4L1242.4 1313.4L1245.4 1314.2L1248.4 1314.8L1251.4 1315.5L1254.4 1316L1257.4 1316.3L1260.4 1316.6L1263.4 1316.8L1266.4 1316.9L1269.4 1317L1271.2 1317L1272.4 1317L1275.4 1316.9L1278.4 1316.8L1281.4 1316.6L1284.4 1316.4L1287.4 1316.1L1290.4 1315.6L1293.4 1315L1296.4 1314.3L1299.4 1313.5L1302.4 1312.6L1305.4 1311.5L1308.4 1310.4L1311.4 1309.2L1314.4 1308L1317.4 1306.6L1320.4 1305.3L1323.4 1303.9L1326.4 1302.5L1329.4 1301.1L1332.4 1299.7L1335.4 1298.3L1338.4 1296.8L1341.4 1295.3L1344.4 1293.7L1347.4 1292.1L1350.4 1290.4L1353.4 1288.6L1356.4 1286.7L1359.4 1284.8L1362.4 1282.8L1365.4 1280.9L1368.4 1279.1L1371.4 1277.2L1374.4 1275.4L1377.4 1273.9L1380.4 1272.5L1383.4 1271.2L1386.4 1270.1L1389.4 1269.1L1392.4 1268.4L1395.4 1267.8L1398.4 1267.3L1401.4 1266.9L1404.4 1266.7L1407.4 1266.6L1410.4 1266.6L1413.4 1267L1416.4 1267.7L1419.4 1268.9L1422.4 1270.2L1425.4 1271.9L1428.4 1273.8L1431.4 1275.9L1431.4 1275.9L1434.4 1273.9L1437.4 1271.9L1440.4 1270.2L1443.4 1268.9L1446.4 1267.8L1449.4 1267L1452.4 1266.6L1455.4 1266.6L1458.4 1266.7L1461.4 1266.9L1464.4 1267.3L1467.4 1267.8L1470.4 1268.4L1473.4 1269.1L1476.4 1270.1L1479.4 1271.2L1482.4 1272.5L1485.4 1273.8L1488.4 1275.4L1491.4 1277.2L1494.4 1279L1497.4 1280.9L1500.4 1282.8L1503.4 1284.7L1506.4 1286.7L1509.4 1288.6L1512.4 1290.4L1515.4 1292.1L1518.4 1293.7L1521.4 1295.3L1524.4 1296.8L1527.4 1298.3L1530.4 1299.7L1532.2 1300.6L1534.5 1300.6L1534.5 1318.4L1532.2 1318.4L1530.4 1317.5L1527.4 1316L1524.4 1314.4L1521.4 1312.7L1518.4 1311L1515.4 1309.3L1512.4 1307.4L1509.4 1305.5L1506.4 1303.5L1503.4 1301.5L1500.4 1299.4L1497.4 1297.4L1494.4 1295.4L1491.4 1293.5L1488.4 1291.6L1485.4 1289.9L1482.4 1288.5L1479.4 1287.2L1476.4 1286.1L1473.4 1285.1L1470.4 1284.4L1467.4 1283.7L1464.4 1283.1L1461.4 1282.5L1458.4 1282.1L1455.4 1281.9L1452.4 1281.7L1449.4 1281.6L1446.4 1281.7L1443.4 1282.2L1440.4 1282.9L1437.4 1283.9L1434.4 1285.2L1431.4 1286.6L1431.4 1286.6L1428.4 1285.2L1425.4 1283.9L1422.4 1282.9L1419.4 1282.2L1416.4 1281.7L1413.4 1281.6L1410.4 1281.7L1407.4 1281.9L1404.4 1282.1L1401.4 1282.5L1398.4 1283.1L1395.4 1283.7L1392.4 1284.4L1389.4 1285.1L1386.4 1286.1L1383.4 1287.3L1380.4 1288.6L1377.4 1290L1374.4 1291.6L1371.4 1293.5L1368.4 1295.5L1365.4 1297.5L1362.4 1299.4L1359.4 1301.5L1356.4 1303.6L1353.4 1305.6L1350.4 1307.4L1347.4 1309.3L1344.4 1311L1341.4 1312.7L1338.4 1314.4L1335.4 1316L1332.4 1317.6L1329.4 1319.1L1326.4 1320.6L1323.4 1322L1320.4 1323.4L1317.4 1324.8L1314.4 1326.2L1311.4 1327.4L1308.4 1328.6L1305.4 1329.8L1302.4 1330.9L1299.4 1331.8L1296.4 1332.6L1293.4 1333.3L1290.4 1333.9L1287.4 1334.4L1284.4 1334.7L1281.4 1335L1278.4 1335.2L1275.4 1335.3L1272.4 1335.4L1271.2 1335.4L1269.4 1335.4L1266.4 1335.3L1263.4 1335.1L1260.4 1334.9L1257.4 1334.7L1254.4 1334.3L1251.4 1333.8L1248.4 1333.1L1245.4 1332.4L1242.4 1331.6L1239.4 1330.7L1236.4 1329.6L1233.4 1328.4L1230.4 1327.2L1227.4 1325.9L1224.4 1324.5L1221.4 1323.1L1218.4 1321.7L1215.4 1320.3L1212.4 1318.8L1209.4 1317.3L1206.4 1315.7L1203.4 1314.1L1200.4 1312.4L1197.4 1310.7L1194.4 1308.9L1191.4 1307.1L1188.4 1305.2L1185.4 1303.2L1182.4 1301.1L1179.4 1299.1L1176.4 1297.1L1173.4 1295.1L1170.4 1293.1L1167.4 1291.3L1164.4 1289.7L1161.4 1288.3L1158.4 1287L1155.4 1285.9L1152.4 1285L1149.4 1284.2L1146.4 1283.6L1143.4 1282.9L1140.4 1282.4L1137.4 1282.1L1134.4 1281.8L1131.4 1281.7L1128.4 1281.6L1125.4 1281.7L1122.4 1282.3L1119.4 1283L1116.4 1284.1L1113.4 1285.4L1111 1286.6L1110.4 1286.3L1107.4 1284.9L1104.4 1283.7L1101.4 1282.7L1098.4 1282.1L1095.4 1281.6L1092.4 1281.6L1089.4 1281.7L1086.4 1281.9L1083.4 1282.2L1080.4 1282.6L1077.4 1283.2L1074.4 1283.8L1071.4 1284.5L1068.4 1285.3L1065.4 1286.3L1062.4 1287.5L1059.4 1288.8L1056.4 1290.2L1053.4 1291.9L1050.4 1293.8L1047.4 1295.8L1044.4 1297.8L1041.4 1299.8L1038.4 1301.9L1035.4 1303.9L1032.4 1305.9L1029.4 1307.8L1026.4 1309.6L1023.4 1311.3L1020.4 1313L1017.4 1314.7L1014.4 1316.3L1011.4 1317.8L1008.4 1319.3L1005.4 1320.8L1002.4 1322.3L999.4 1323.7L996.4 1325.1L993.4 1326.4L990.4 1327.6L987.4 1328.8L984.4 1330L981.4 1331L978.4 1332L975.4 1332.7L972.4 1333.4L969.4 1334L966.4 1334.5L963.4 1334.8L960.4 1335L957.4 1335.2L954.4 1335.3L951.4 1335.4L950.7 1335.4L948.4 1335.4L945.4 1335.3L942.4 1335.1L939.4 1334.9L936.4 1334.6L933.4 1334.2L930.4 1333.7L927.4 1333L924.4 1332.3L921.4 1331.5L918.4 1330.5L915.4 1329.4L912.4 1328.2L909.4 1327L906.4 1325.7L903.4 1324.3L900.4 1322.9L897.4 1321.5L895.1 1321.5Z" fill="#ffa700"/>
<path d="M895.1 1304.2L897.4 1304.2L900.4 1305.5L903.4 1306.9L906.4 1308.3L909.4 1309.6L912.4 1310.8L915.4 1311.9L918.4 1313L921.4 1314L924.4 1314.8L927.4 1315.5L930.4 1316.2L933.4 1316.7L936.4 1317.1L939.4 1317.3L942.4 1317.5L945.4 1317.7L948.4 1317.8L950.7 1317.8L951.4 1317.8L954.4 1317.8L957.4 1317.6L960.4 1317.4L963.4 1317.2L966.4 1316.9L969.4 1316.5L972.4 1315.9L975.4 1315.2L978.4 1314.5L981.4 1313.6L984.4 1312.5L987.4 1311.4L990.4 1310.2L993.4 1309L996.4 1307.7L999.4 1306.3L1002.4 1304.9L1005.4 1303.5L1008.4 1302.2L1011.4 1300.8L1014.4 1299.4L1017.4 1297.9L1020.4 1296.4L1023.4 1294.8L1026.4 1293.2L1029.4 1291.5L1032.4 1289.7L1035.4 1287.8L1038.4 1285.9L1041.4 1283.9L1044.4 1282L1047.4 1280.1L1050.4 1278.3L1053.4 1276.5L1056.4 1274.8L1059.4 1273.5L1062.4 1272.2L1065.4 1271L1068.4 1270L1071.4 1269.2L1074.4 1268.6L1077.4 1268.1L1080.4 1267.7L1083.4 1267.4L1086.4 1267.3L1089.4 1267.2L1092.4 1267.5L1095.4 1268.2L1098.4 1269.2L1101.4 1270.5L1104.4 1272.1L1107.4 1274L1110.4 1276L1111 1276.4L1113.4 1274.7L1116.4 1272.8L1119.4 1271L1122.4 1269.7L1125.4 1268.5L1128.4 1267.7L1131.4 1267.3L1134.4 1267.2L1137.4 1267.3L1140.4 1267.5L1143.4 1267.9L1146.4 1268.4L1149.4 1269L1152.4 1269.7L1155.4 1270.6L1158.4 1271.7L1161.4 1273L1164.4 1274.3L1167.4 1275.8L1170.4 1277.6L1173.4 1279.4L1176.4 1281.3L1179.4 1283.2L1182.4 1285.1L1185.4 1287.1L1188.4 1289L1191.4 1290.8L1194.4 1292.6L1197.4 1294.2L1200.4 1295.8L1203.4 1297.3L1206.4 1298.8L1209.4 1300.3L1212.4 1301.7L1215.4 1303L1218.4 1304.4L1221.4 1305.8L1224.4 1307.2L1227.4 1308.5L1230.4 1309.8L1233.4 1311L1236.4 1312.1L1239.4 1313.2L1242.4 1314.2L1245.4 1315L1248.4 1315.6L1251.4 1316.3L1254.4 1316.8L1257.4 1317.1L1260.4 1317.4L1263.4 1317.6L1266.4 1317.7L1269.4 1317.8L1271.2 1317.8L1272.4 1317.8L1275.4 1317.7L1278.4 1317.6L1281.4 1317.4L1284.4 1317.2L1287.4 1316.9L1290.4 1316.4L1293.4 1315.8L1296.4 1315.1L1299.4 1314.3L1302.4 1313.4L1305.4 1312.3L1308.4 1311.2L1311.4 1310L1314.4 1308.8L1317.4 1307.4L1320.4 1306.1L1323.4 1304.7L1326.4 1303.3L1329.4 1301.9L1332.4 1300.5L1335.4 1299.1L1338.4 1297.6L1341.4 1296.1L1344.4 1294.5L1347.4 1292.9L1350.4 1291.2L1353.4 1289.4L1356.4 1287.5L1359.4 1285.5L1362.4 1283.6L1365.4 1281.7L1368.4 1279.8L1371.4 1277.9L1374.4 1276.2L1377.4 1274.6L1380.4 1273.2L1383.4 1271.9L1386.4 1270.8L1389.4 1269.8L1392.4 1269.1L1395.4 1268.5L1398.4 1268L1401.4 1267.6L1404.4 1267.4L1407.4 1267.3L1410.4 1267.2L1413.4 1267.6L1416.4 1268.3L1419.4 1269.5L1422.4 1270.8L1425.4 1272.4L1428.4 1274.3L1431.4 1276.3L1431.4 1276.4L1434.4 1274.4L1437.4 1272.5L1440.4 1270.8L1443.4 1269.5L1446.4 1268.4L1449.4 1267.6L1452.4 1267.2L1455.4 1267.3L1458.4 1267.4L1461.4 1267.6L1464.4 1268L1467.4 1268.5L1470.4 1269.1L1473.4 1269.8L1476.4 1270.8L1479.4 1271.9L1482.4 1273.2L1485.4 1274.6L1488.4 1276.1L1491.4 1277.9L1494.4 1279.8L1497.4 1281.7L1500.4 1283.5L1503.4 1285.5L1506.4 1287.5L1509.4 1289.4L1512.4 1291.1L1515.4 1292.8L1518.4 1294.5L1521.4 1296.1L1524.4 1297.6L1527.4 1299.1L1530.4 1300.5L1532.2 1301.3L1534.5 1301.3L1534.5 1317.7L1532.2 1317.7L1530.4 1316.8L1527.4 1315.3L1524.4 1313.7L1521.4 1312.1L1518.4 1310.4L1515.4 1308.6L1512.4 1306.8L1509.4 1304.9L1506.4 1302.9L1503.4 1300.9L1500.4 1298.8L1497.4 1296.8L1494.4 1294.8L1491.4 1292.9L1488.4 1291L1485.4 1289.3L1482.4 1287.9L1479.4 1286.6L1476.4 1285.4L1473.4 1284.4L1470.4 1283.7L1467.4 1283L1464.4 1282.4L1461.4 1281.8L1458.4 1281.5L1455.4 1281.2L1452.4 1281L1449.4 1280.9L1446.4 1281L1443.4 1281.6L1440.4 1282.3L1437.4 1283.4L1434.4 1284.7L1431.4 1286.1L1431.4 1286.1L1428.4 1284.6L1425.4 1283.3L1422.4 1282.3L1419.4 1281.6L1416.4 1281L1413.4 1280.9L1410.4 1281L1407.4 1281.2L1404.4 1281.5L1401.4 1281.8L1398.4 1282.4L1395.4 1283L1392.4 1283.7L1389.4 1284.5L1386.4 1285.4L1383.4 1286.6L1380.4 1287.9L1377.4 1289.4L1374.4 1291L1371.4 1292.9L1368.4 1294.9L1365.4 1296.9L1362.4 1298.8L1359.4 1300.9L1356.4 1303L1353.4 1305L1350.4 1306.8L1347.4 1308.7L1344.4 1310.4L1341.4 1312.1L1338.4 1313.7L1335.4 1315.3L1332.4 1316.8L1329.4 1318.3L1326.4 1319.8L1323.4 1321.2L1320.4 1322.7L1317.4 1324L1314.4 1325.4L1311.4 1326.6L1308.4 1327.8L1305.4 1329L1302.4 1330.1L1299.4 1331.1L1296.4 1331.8L1293.4 1332.5L1290.4 1333.1L1287.4 1333.6L1284.4 1334L1281.4 1334.2L1278.4 1334.4L1275.4 1334.6L1272.4 1334.7L1271.2 1334.7L1269.4 1334.6L1266.4 1334.6L1263.4 1334.4L1260.4 1334.2L1257.4 1333.9L1254.4 1333.6L1251.4 1333L1248.4 1332.4L1245.4 1331.7L1242.4 1330.9L1239.4 1329.9L1236.4 1328.8L1233.4 1327.6L1230.4 1326.4L1227.4 1325.1L1224.4 1323.8L1221.4 1322.4L1218.4 1321L1215.4 1319.5L1212.4 1318L1209.4 1316.5L1206.4 1315L1203.4 1313.4L1200.4 1311.8L1197.4 1310.1L1194.4 1308.3L1191.4 1306.5L1188.4 1304.6L1185.4 1302.6L1182.4 1300.5L1179.4 1298.4L1176.4 1296.5L1173.4 1294.5L1170.4 1292.5L1167.4 1290.7L1164.4 1289.1L1161.4 1287.7L1158.4 1286.4L1155.4 1285.2L1152.4 1284.3L1149.4 1283.6L1146.4 1282.9L1143.4 1282.3L1140.4 1281.7L1137.4 1281.4L1134.4 1281.2L1131.4 1281L1128.4 1280.9L1125.4 1281.1L1122.4 1281.7L1119.4 1282.4L1116.4 1283.6L1113.4 1284.9L1111 1286.1L1110.4 1285.8L1107.4 1284.4L1104.4 1283.1L1101.4 1282.1L1098.4 1281.4L1095.4 1281L1092.4 1280.9L1089.4 1281L1086.4 1281.2L1083.4 1281.5L1080.4 1281.9L1077.4 1282.5L1074.4 1283.1L1071.4 1283.8L1068.4 1284.6L1065.4 1285.6L1062.4 1286.9L1059.4 1288.2L1056.4 1289.6L1053.4 1291.3L1050.4 1293.2L1047.4 1295.2L1044.4 1297.2L1041.4 1299.2L1038.4 1301.3L1035.4 1303.3L1032.4 1305.3L1029.4 1307.2L1026.4 1309L1023.4 1310.7L1020.4 1312.4L1017.4 1314L1014.4 1315.6L1011.4 1317.1L1008.4 1318.6L1005.4 1320.1L1002.4 1321.5L999.4 1322.9L996.4 1324.3L993.4 1325.6L990.4 1326.9L987.4 1328.1L984.4 1329.2L981.4 1330.3L978.4 1331.2L975.4 1331.9L972.4 1332.6L969.4 1333.2L966.4 1333.7L963.4 1334L960.4 1334.3L957.4 1334.5L954.4 1334.6L951.4 1334.7L950.7 1334.7L948.4 1334.6L945.4 1334.5L942.4 1334.4L939.4 1334.1L936.4 1333.9L933.4 1333.5L930.4 1332.9L927.4 1332.3L924.4 1331.5L921.4 1330.7L918.4 1329.7L915.4 1328.6L912.4 1327.4L909.4 1326.2L906.4 1324.9L903.4 1323.5L900.4 1322.1L897.4 1320.7L895.1 1320.7Z" fill="#ff7c00"/>
<path d="M895.1 1308.5L897.4 1308.5L900.4 1309.9L903.4 1311.3L906.4 1312.6L909.4 1313.9L912.4 1315.1L915.4 1316.3L918.4 1317.4L921.4 1318.4L924.4 1319.2L927.4 1319.9L930.4 1320.6L933.4 1321.1L936.4 1321.5L939.4 1321.7L942.4 1322L945.4 1322.1L948.4 1322.2L950.7 1322.2L951.4 1322.2L954.4 1322.2L957.4 1322.1L960.4 1321.9L963.4 1321.6L966.4 1321.3L969.4 1320.9L972.4 1320.3L975.4 1319.6L978.4 1318.9L981.4 1318L984.4 1316.9L987.4 1315.7L990.4 1314.5L993.4 1313.3L996.4 1312L999.4 1310.6L1002.4 1309.2L1005.4 1307.8L1008.4 1306.5L1011.4 1305.1L1014.4 1303.6L1017.4 1302.2L1020.4 1300.6L1023.4 1299L1026.4 1297.4L1029.4 1295.7L1032.4 1293.9L1035.4 1292L1038.4 1290L1041.4 1288L1044.4 1286.1L1047.4 1284.2L1050.4 1282.3L1053.4 1280.4L1056.4 1278.8L1059.4 1277.4L1062.4 1276L1065.4 1274.8L1068.4 1273.8L1071.4 1273L1074.4 1272.4L1077.4 1271.8L1080.4 1271.3L1083.4 1271L1086.4 1270.9L1089.4 1270.7L1092.4 1270.9L1095.4 1271.4L1098.4 1272.3L1101.4 1273.5L1104.4 1274.9L1107.4 1276.6L1110.4 1278.5L1111 1278.8L1113.4 1277.3L1116.4 1275.5L1119.4 1273.9L1122.4 1272.7L1125.4 1271.7L1128.4 1271.1L1131.4 1270.8L1134.4 1270.8L1137.4 1271L1140.4 1271.2L1143.4 1271.6L1146.4 1272.1L1149.4 1272.8L1152.4 1273.5L1155.4 1274.4L1158.4 1275.6L1161.4 1276.9L1164.4 1278.3L1167.4 1279.8L1170.4 1281.6L1173.4 1283.5L1176.4 1285.4L1179.4 1287.3L1182.4 1289.3L1185.4 1291.3L1188.4 1293.2L1191.4 1295.1L1194.4 1296.8L1197.4 1298.5L1200.4 1300.1L1203.4 1301.6L1206.4 1303.1L1209.4 1304.5L1212.4 1305.9L1215.4 1307.3L1218.4 1308.7L1221.4 1310.1L1224.4 1311.5L1227.4 1312.8L1230.4 1314.1L1233.4 1315.3L1236.4 1316.5L1239.4 1317.6L1242.4 1318.5L1245.4 1319.3L1248.4 1320L1251.4 1320.7L1254.4 1321.2L1257.4 1321.5L1260.4 1321.8L1263.4 1322L1266.4 1322.1L1269.4 1322.2L1271.2 1322.2L1272.4 1322.2L1275.4 1322.2L1278.4 1322L1281.4 1321.8L1284.4 1321.6L1287.4 1321.3L1290.4 1320.8L1293.4 1320.2L1296.4 1319.5L1299.4 1318.7L1302.4 1317.8L1305.4 1316.7L1308.4 1315.5L1311.4 1314.3L1314.4 1313.1L1317.4 1311.8L1320.4 1310.4L1323.4 1309L1326.4 1307.6L1329.4 1306.2L1332.4 1304.8L1335.4 1303.4L1338.4 1301.9L1341.4 1300.4L1344.4 1298.8L1347.4 1297.1L1350.4 1295.4L1353.4 1293.6L1356.4 1291.7L1359.4 1289.7L1362.4 1287.7L1365.4 1285.8L1368.4 1283.9L1371.4 1281.9L1374.4 1280.1L1377.4 1278.5L1380.4 1277.1L1383.4 1275.8L1386.4 1274.6L1389.4 1273.7L1392.4 1272.9L1395.4 1272.2L1398.4 1271.7L1401.4 1271.3L1404.4 1271L1407.4 1270.8L1410.4 1270.8L1413.4 1271L1416.4 1271.6L1419.4 1272.5L1422.4 1273.7L1425.4 1275.2L1428.4 1276.9L1431.4 1278.8L1431.4 1278.8L1434.4 1277L1437.4 1275.2L1440.4 1273.7L1443.4 1272.5L1446.4 1271.6L1449.4 1271L1452.4 1270.8L1455.4 1270.8L1458.4 1271L1461.4 1271.2L1464.4 1271.7L1467.4 1272.2L1470.4 1272.9L1473.4 1273.6L1476.4 1274.6L1479.4 1275.8L1482.4 1277.1L1485.4 1278.5L1488.4 1280.1L1491.4 1281.9L1494.4 1283.8L1497.4 1285.7L1500.4 1287.6L1503.4 1289.6L1506.4 1291.6L1509.4 1293.6L1512.4 1295.4L1515.4 1297.1L1518.4 1298.7L1521.4 1300.3L1524.4 1301.9L1527.4 1303.4L1530.4 1304.8L1532.2 1305.6L1534.5 1305.6L1534.5 1317.2L1532.2 1317.2L1530.4 1316.3L1527.4 1314.8L1524.4 1313.2L1521.4 1311.6L1518.4 1309.9L1515.4 1308.2L1512.4 1306.4L1509.4 1304.5L1506.4 1302.5L1503.4 1300.4L1500.4 1298.4L1497.4 1296.4L1494.4 1294.4L1491.4 1292.4L1488.4 1290.6L1485.4 1288.9L1482.4 1287.5L1479.4 1286.2L1476.4 1285L1473.4 1284L1470.4 1283.2L1467.4 1282.5L1464.4 1281.9L1461.4 1281.3L1458.4 1281L1455.4 1280.7L1452.4 1280.5L1449.4 1280.4L1446.4 1280.6L1443.4 1281.1L1440.4 1281.9L1437.4 1283L1434.4 1284.3L1431.4 1285.7L1431.4 1285.7L1428.4 1284.3L1425.4 1282.9L1422.4 1281.9L1419.4 1281.1L1416.4 1280.6L1413.4 1280.4L1410.4 1280.5L1407.4 1280.7L1404.4 1281L1401.4 1281.3L1398.4 1281.9L1395.4 1282.5L1392.4 1283.2L1389.4 1284L1386.4 1285L1383.4 1286.2L1380.4 1287.5L1377.4 1288.9L1374.4 1290.6L1371.4 1292.5L1368.4 1294.5L1365.4 1296.4L1362.4 1298.4L1359.4 1300.5L1356.4 1302.5L1353.4 1304.5L1350.4 1306.4L1347.4 1308.2L1344.4 1309.9L1341.4 1311.6L1338.4 1313.2L1335.4 1314.8L1332.4 1316.3L1329.4 1317.8L1326.4 1319.3L1323.4 1320.7L1320.4 1322.1L1317.4 1323.5L1314.4 1324.9L1311.4 1326.1L1308.4 1327.3L1305.4 1328.5L1302.4 1329.6L1299.4 1330.5L1296.4 1331.3L1293.4 1332L1290.4 1332.6L1287.4 1333.1L1284.4 1333.5L1281.4 1333.7L1278.4 1333.9L1275.4 1334.1L1272.4 1334.1L1271.2 1334.1L1269.4 1334.1L1266.4 1334L1263.4 1333.9L1260.4 1333.6L1257.4 1333.4L1254.4 1333L1251.4 1332.5L1248.4 1331.9L1245.4 1331.1L1242.4 1330.4L1239.4 1329.4L1236.4 1328.3L1233.4 1327.1L1230.4 1325.9L1227.4 1324.6L1224.4 1323.2L1221.4 1321.8L1218.4 1320.4L1215.4 1319L1212.4 1317.5L1209.4 1316L1206.4 1314.5L1203.4 1312.9L1200.4 1311.3L1197.4 1309.6L1194.4 1307.9L1191.4 1306.1L1188.4 1304.2L1185.4 1302.1L1182.4 1300.1L1179.4 1298L1176.4 1296.1L1173.4 1294.1L1170.4 1292.1L1167.4 1290.3L1164.4 1288.6L1161.4 1287.3L1158.4 1285.9L1155.4 1284.8L1152.4 1283.8L1149.4 1283.1L1146.4 1282.4L1143.4 1281.8L1140.4 1281.3L1137.4 1280.9L1134.4 1280.7L1131.4 1280.5L1128.4 1280.4L1125.4 1280.7L1122.4 1281.3L1119.4 1282L1116.4 1283.2L1113.4 1284.5L1111 1285.7L1110.4 1285.4L1107.4 1284L1104.4 1282.7L1101.4 1281.7L1098.4 1281L1095.4 1280.5L1092.4 1280.4L1089.4 1280.6L1086.4 1280.8L1083.4 1281L1080.4 1281.4L1077.4 1282L1074.4 1282.6L1071.4 1283.3L1068.4 1284.1L1065.4 1285.2L1062.4 1286.4L1059.4 1287.8L1056.4 1289.2L1053.4 1290.9L1050.4 1292.8L1047.4 1294.8L1044.4 1296.8L1041.4 1298.8L1038.4 1300.8L1035.4 1302.9L1032.4 1304.9L1029.4 1306.7L1026.4 1308.5L1023.4 1310.2L1020.4 1311.9L1017.4 1313.5L1014.4 1315.1L1011.4 1316.6L1008.4 1318.1L1005.4 1319.5L1002.4 1320.9L999.4 1322.4L996.4 1323.7L993.4 1325.1L990.4 1326.3L987.4 1327.5L984.4 1328.7L981.4 1329.8L978.4 1330.7L975.4 1331.4L972.4 1332.1L969.4 1332.7L966.4 1333.2L963.4 1333.5L960.4 1333.7L957.4 1333.9L954.4 1334.1L951.4 1334.1L950.7 1334.1L948.4 1334.1L945.4 1334L942.4 1333.8L939.4 1333.6L936.4 1333.4L933.4 1332.9L930.4 1332.4L927.4 1331.7L924.4 1331L921.4 1330.2L918.4 1329.2L915.4 1328.1L912.4 1326.9L909.4 1325.7L906.4 1324.4L903.4 1323L900.4 1321.6L897.4 1320.2L895.1 1320.2Z" fill="#ff5100"/>
<path d="M895.1 1311.6L897.4 1311.6L900.4 1313L903.4 1314.4L906.4 1315.8L909.4 1317.1L912.4 1318.3L915.4 1319.4L918.4 1320.6L921.4 1321.6L924.4 1322.4L927.4 1323.1L930.4 1323.8L933.4 1324.3L936.4 1324.7L939.4 1325L942.4 1325.2L945.4 1325.4L948.4 1325.5L950.7 1325.5L951.4 1325.5L954.4 1325.4L957.4 1325.3L960.4 1325.1L963.4 1324.8L966.4 1324.5L969.4 1324.1L972.4 1323.5L975.4 1322.8L978.4 1322L981.4 1321.1L984.4 1320.1L987.4 1318.9L990.4 1317.7L993.4 1316.5L996.4 1315.1L999.4 1313.8L1002.4 1312.4L1005.4 1311L1008.4 1309.6L1011.4 1308.2L1014.4 1306.7L1017.4 1305.3L1020.4 1303.7L1023.4 1302.1L1026.4 1300.5L1029.4 1298.8L1032.4 1297L1035.4 1295.1L1038.4 1293L1041.4 1291L1044.4 1289.1L1047.4 1287.1L1050.4 1285.2L1053.4 1283.3L1056.4 1281.7L1059.4 1280.2L1062.4 1278.9L1065.4 1277.6L1068.4 1276.6L1071.4 1275.8L1074.4 1275.1L1077.4 1274.5L1080.4 1274L1083.4 1273.7L1086.4 1273.5L1089.4 1273.3L1092.4 1273.4L1095.4 1273.8L1098.4 1274.6L1101.4 1275.6L1104.4 1276.9L1107.4 1278.6L1110.4 1280.3L1111 1280.6L1113.4 1279.2L1116.4 1277.5L1119.4 1276L1122.4 1274.9L1125.4 1274L1128.4 1273.5L1131.4 1273.3L1134.4 1273.4L1137.4 1273.6L1140.4 1273.8L1143.4 1274.3L1146.4 1274.8L1149.4 1275.5L1152.4 1276.3L1155.4 1277.2L1158.4 1278.4L1161.4 1279.7L1164.4 1281.1L1167.4 1282.7L1170.4 1284.5L1173.4 1286.4L1176.4 1288.4L1179.4 1290.3L1182.4 1292.3L1185.4 1294.3L1188.4 1296.3L1191.4 1298.1L1194.4 1299.9L1197.4 1301.5L1200.4 1303.1L1203.4 1304.7L1206.4 1306.2L1209.4 1307.7L1212.4 1309.1L1215.4 1310.5L1218.4 1311.8L1221.4 1313.2L1224.4 1314.6L1227.4 1316L1230.4 1317.3L1233.4 1318.5L1236.4 1319.6L1239.4 1320.8L1242.4 1321.7L1245.4 1322.5L1248.4 1323.2L1251.4 1323.9L1254.4 1324.4L1257.4 1324.8L1260.4 1325L1263.4 1325.2L1266.4 1325.4L1269.4 1325.5L1271.2 1325.5L1272.4 1325.5L1275.4 1325.4L1278.4 1325.2L1281.4 1325L1284.4 1324.8L1287.4 1324.5L1290.4 1324L1293.4 1323.4L1296.4 1322.7L1299.4 1321.9L1302.4 1321L1305.4 1319.9L1308.4 1318.7L1311.4 1317.5L1314.4 1316.2L1317.4 1314.9L1320.4 1313.5L1323.4 1312.1L1326.4 1310.7L1329.4 1309.3L1332.4 1307.9L1335.4 1306.5L1338.4 1305L1341.4 1303.5L1344.4 1301.9L1347.4 1300.2L1350.4 1298.5L1353.4 1296.7L1356.4 1294.7L1359.4 1292.7L1362.4 1290.7L1365.4 1288.7L1368.4 1286.8L1371.4 1284.9L1374.4 1283L1377.4 1281.4L1380.4 1280L1383.4 1278.7L1386.4 1277.4L1389.4 1276.4L1392.4 1275.6L1395.4 1275L1398.4 1274.4L1401.4 1273.9L1404.4 1273.6L1407.4 1273.4L1410.4 1273.3L1413.4 1273.5L1416.4 1273.9L1419.4 1274.8L1422.4 1275.8L1425.4 1277.2L1428.4 1278.8L1431.4 1280.6L1431.4 1280.6L1434.4 1278.9L1437.4 1277.2L1440.4 1275.8L1443.4 1274.8L1446.4 1273.9L1449.4 1273.5L1452.4 1273.3L1455.4 1273.4L1458.4 1273.6L1461.4 1273.9L1464.4 1274.4L1467.4 1275L1470.4 1275.6L1473.4 1276.4L1476.4 1277.4L1479.4 1278.6L1482.4 1280L1485.4 1281.4L1488.4 1283L1491.4 1284.8L1494.4 1286.8L1497.4 1288.7L1500.4 1290.6L1503.4 1292.6L1506.4 1294.7L1509.4 1296.6L1512.4 1298.4L1515.4 1300.2L1518.4 1301.8L1521.4 1303.4L1524.4 1305L1527.4 1306.5L1530.4 1307.9L1532.2 1308.8L1534.5 1308.8L1534.5 1316.8L1532.2 1316.8L1530.4 1315.9L1527.4 1314.4L1524.4 1312.8L1521.4 1311.2L1518.4 1309.5L1515.4 1307.8L1512.4 1306L1509.4 1304.1L1506.4 1302.1L1503.4 1300.1L1500.4 1298L1497.4 1296L1494.4 1294.1L1491.4 1292.1L1488.4 1290.2L1485.4 1288.5L1482.4 1287.1L1479.4 1285.8L1476.4 1284.6L1473.4 1283.6L1470.4 1282.8L1467.4 1282.1L1464.4 1281.5L1461.4 1280.9L1458.4 1280.6L1455.4 1280.3L1452.4 1280.1L1449.4 1280L1446.4 1280.2L1443.4 1280.8L1440.4 1281.5L1437.4 1282.6L1434.4 1284L1431.4 1285.4L1431.4 1285.4L1428.4 1284L1425.4 1282.6L1422.4 1281.5L1419.4 1280.7L1416.4 1280.2L1413.4 1280L1410.4 1280.1L1407.4 1280.3L1404.4 1280.6L1401.4 1280.9L1398.4 1281.5L1395.4 1282.1L1392.4 1282.8L1389.4 1283.6L1386.4 1284.6L1383.4 1285.8L1380.4 1287.1L1377.4 1288.6L1374.4 1290.2L1371.4 1292.1L1368.4 1294.1L1365.4 1296.1L1362.4 1298L1359.4 1300.1L1356.4 1302.2L1353.4 1304.2L1350.4 1306L1347.4 1307.8L1344.4 1309.6L1341.4 1311.2L1338.4 1312.8L1335.4 1314.4L1332.4 1315.9L1329.4 1317.4L1326.4 1318.8L1323.4 1320.2L1320.4 1321.6L1317.4 1323L1314.4 1324.4L1311.4 1325.6L1308.4 1326.9L1305.4 1328L1302.4 1329.1L1299.4 1330.1L1296.4 1330.8L1293.4 1331.5L1290.4 1332.2L1287.4 1332.7L1284.4 1333L1281.4 1333.2L1278.4 1333.5L1275.4 1333.6L1272.4 1333.7L1271.2 1333.7L1269.4 1333.7L1266.4 1333.6L1263.4 1333.4L1260.4 1333.2L1257.4 1333L1254.4 1332.6L1251.4 1332.1L1248.4 1331.4L1245.4 1330.7L1242.4 1329.9L1239.4 1328.9L1236.4 1327.8L1233.4 1326.6L1230.4 1325.4L1227.4 1324.1L1224.4 1322.8L1221.4 1321.4L1218.4 1320L1215.4 1318.5L1212.4 1317.1L1209.4 1315.6L1206.4 1314.1L1203.4 1312.5L1200.4 1310.9L1197.4 1309.2L1194.4 1307.5L1191.4 1305.7L1188.4 1303.8L1185.4 1301.8L1182.4 1299.7L1179.4 1297.7L1176.4 1295.7L1173.4 1293.7L1170.4 1291.7L1167.4 1289.9L1164.4 1288.3L1161.4 1286.9L1158.4 1285.6L1155.4 1284.4L1152.4 1283.4L1149.4 1282.7L1146.4 1282L1143.4 1281.3L1140.4 1280.8L1137.4 1280.5L1134.4 1280.3L1131.4 1280.1L1128.4 1280L1125.4 1280.3L1122.4 1280.9L1119.4 1281.7L1116.4 1282.9L1113.4 1284.2L1111 1285.4L1110.4 1285.1L1107.4 1283.7L1104.4 1282.4L1101.4 1281.4L1098.4 1280.6L1095.4 1280.1L1092.4 1280L1089.4 1280.1L1086.4 1280.4L1083.4 1280.6L1080.4 1281L1077.4 1281.6L1074.4 1282.2L1071.4 1282.9L1068.4 1283.7L1065.4 1284.8L1062.4 1286L1059.4 1287.4L1056.4 1288.8L1053.4 1290.6L1050.4 1292.5L1047.4 1294.4L1044.4 1296.4L1041.4 1298.4L1038.4 1300.5L1035.4 1302.5L1032.4 1304.5L1029.4 1306.4L1026.4 1308.1L1023.4 1309.8L1020.4 1311.5L1017.4 1313.1L1014.4 1314.7L1011.4 1316.2L1008.4 1317.6L1005.4 1319.1L1002.4 1320.5L999.4 1321.9L996.4 1323.3L993.4 1324.6L990.4 1325.9L987.4 1327.1L984.4 1328.2L981.4 1329.3L978.4 1330.2L975.4 1331L972.4 1331.7L969.4 1332.3L966.4 1332.7L963.4 1333L960.4 1333.3L957.4 1333.5L954.4 1333.6L951.4 1333.7L950.7 1333.7L948.4 1333.7L945.4 1333.6L942.4 1333.4L939.4 1333.2L936.4 1332.9L933.4 1332.5L930.4 1331.9L927.4 1331.3L924.4 1330.6L921.4 1329.7L918.4 1328.7L915.4 1327.6L912.4 1326.4L909.4 1325.2L906.4 1323.9L903.4 1322.5L900.4 1321.1L897.4 1319.7L895.1 1319.7Z" fill="#ff2600"/>
<path d="M895.1 1313.9L897.4 1313.9L900.4 1315.3L903.4 1316.7L906.4 1318.1L909.4 1319.4L912.4 1320.6L915.4 1321.8L918.4 1322.9L921.4 1323.9L924.4 1324.7L927.4 1325.5L930.4 1326.1L933.4 1326.7L936.4 1327.1L939.4 1327.3L942.4 1327.5L945.4 1327.7L948.4 1327.8L950.7 1327.9L951.4 1327.9L954.4 1327.8L957.4 1327.6L960.4 1327.4L963.4 1327.2L966.4 1326.9L969.4 1326.4L972.4 1325.8L975.4 1325.1L978.4 1324.4L981.4 1323.5L984.4 1322.4L987.4 1321.2L990.4 1320L993.4 1318.8L996.4 1317.5L999.4 1316.1L1002.4 1314.7L1005.4 1313.3L1008.4 1311.9L1011.4 1310.5L1014.4 1309L1017.4 1307.5L1020.4 1306L1023.4 1304.4L1026.4 1302.8L1029.4 1301.1L1032.4 1299.2L1035.4 1297.3L1038.4 1295.3L1041.4 1293.2L1044.4 1291.3L1047.4 1289.3L1050.4 1287.4L1053.4 1285.5L1056.4 1283.8L1059.4 1282.3L1062.4 1281L1065.4 1279.7L1068.4 1278.6L1071.4 1277.8L1074.4 1277.1L1077.4 1276.5L1080.4 1276L1083.4 1275.6L1086.4 1275.4L1089.4 1275.2L1092.4 1275.2L1095.4 1275.5L1098.4 1276.2L1101.4 1277.2L1104.4 1278.4L1107.4 1280L1110.4 1281.6L1111 1281.9L1113.4 1280.5L1116.4 1279L1119.4 1277.6L1122.4 1276.6L1125.4 1275.7L1128.4 1275.3L1131.4 1275.2L1134.4 1275.3L1137.4 1275.5L1140.4 1275.8L1143.4 1276.3L1146.4 1276.8L1149.4 1277.5L1152.4 1278.3L1155.4 1279.3L1158.4 1280.5L1161.4 1281.8L1164.4 1283.2L1167.4 1284.8L1170.4 1286.6L1173.4 1288.6L1176.4 1290.6L1179.4 1292.5L1182.4 1294.5L1185.4 1296.6L1188.4 1298.5L1191.4 1300.4L1194.4 1302.1L1197.4 1303.8L1200.4 1305.4L1203.4 1307L1206.4 1308.5L1209.4 1310L1212.4 1311.4L1215.4 1312.8L1218.4 1314.1L1221.4 1315.6L1224.4 1317L1227.4 1318.3L1230.4 1319.6L1233.4 1320.8L1236.4 1322L1239.4 1323.1L1242.4 1324.1L1245.4 1324.9L1248.4 1325.6L1251.4 1326.2L1254.4 1326.7L1257.4 1327.1L1260.4 1327.4L1263.4 1327.6L1266.4 1327.7L1269.4 1327.8L1271.2 1327.9L1272.4 1327.9L1275.4 1327.8L1278.4 1327.6L1281.4 1327.4L1284.4 1327.2L1287.4 1326.8L1290.4 1326.3L1293.4 1325.7L1296.4 1325L1299.4 1324.2L1302.4 1323.3L1305.4 1322.2L1308.4 1321L1311.4 1319.8L1314.4 1318.6L1317.4 1317.2L1320.4 1315.8L1323.4 1314.4L1326.4 1313L1329.4 1311.6L1332.4 1310.2L1335.4 1308.8L1338.4 1307.3L1341.4 1305.7L1344.4 1304.1L1347.4 1302.5L1350.4 1300.7L1353.4 1298.9L1356.4 1296.9L1359.4 1294.9L1362.4 1292.9L1365.4 1290.9L1368.4 1289L1371.4 1287L1374.4 1285.2L1377.4 1283.5L1380.4 1282.1L1383.4 1280.7L1386.4 1279.5L1389.4 1278.5L1392.4 1277.7L1395.4 1277L1398.4 1276.4L1401.4 1275.9L1404.4 1275.6L1407.4 1275.4L1410.4 1275.2L1413.4 1275.3L1416.4 1275.6L1419.4 1276.4L1422.4 1277.4L1425.4 1278.7L1428.4 1280.2L1431.4 1281.9L1431.4 1281.9L1434.4 1280.3L1437.4 1278.7L1440.4 1277.4L1443.4 1276.4L1446.4 1275.6L1449.4 1275.3L1452.4 1275.2L1455.4 1275.3L1458.4 1275.5L1461.4 1275.9L1464.4 1276.4L1467.4 1277L1470.4 1277.7L1473.4 1278.5L1476.4 1279.5L1479.4 1280.7L1482.4 1282.1L1485.4 1283.5L1488.4 1285.1L1491.4 1287L1494.4 1288.9L1497.4 1290.9L1500.4 1292.8L1503.4 1294.9L1506.4 1296.9L1509.4 1298.9L1512.4 1300.7L1515.4 1302.4L1518.4 1304.1L1521.4 1305.7L1524.4 1307.3L1527.4 1308.8L1530.4 1310.2L1532.2 1311.1L1534.5 1311.1L1534.5 1316.3L1532.2 1316.3L1530.4 1315.4L1527.4 1313.9L1524.4 1312.4L1521.4 1310.8L1518.4 1309.1L1515.4 1307.4L1512.4 1305.6L1509.4 1303.8L1506.4 1301.8L1503.4 1299.7L1500.4 1297.7L1497.4 1295.7L1494.4 1293.7L1491.4 1291.7L1488.4 1289.8L1485.4 1288.2L1482.4 1286.7L1479.4 1285.4L1476.4 1284.2L1473.4 1283.2L1470.4 1282.4L1467.4 1281.7L1464.4 1281L1461.4 1280.5L1458.4 1280.1L1455.4 1279.9L1452.4 1279.7L1449.4 1279.6L1446.4 1279.8L1443.4 1280.4L1440.4 1281.2L1437.4 1282.3L1434.4 1283.7L1431.4 1285.1L1431.4 1285.1L1428.4 1283.6L1425.4 1282.3L1422.4 1281.1L1419.4 1280.4L1416.4 1279.8L1413.4 1279.6L1410.4 1279.7L1407.4 1279.9L1404.4 1280.1L1401.4 1280.5L1398.4 1281L1395.4 1281.7L1392.4 1282.4L1389.4 1283.2L1386.4 1284.2L1383.4 1285.4L1380.4 1286.8L1377.4 1288.2L1374.4 1289.9L1371.4 1291.7L1368.4 1293.7L1365.4 1295.7L1362.4 1297.7L1359.4 1299.7L1356.4 1301.8L1353.4 1303.8L1350.4 1305.7L1347.4 1307.5L1344.4 1309.2L1341.4 1310.8L1338.4 1312.4L1335.4 1314L1332.4 1315.5L1329.4 1316.9L1326.4 1318.4L1323.4 1319.8L1320.4 1321.2L1317.4 1322.6L1314.4 1323.9L1311.4 1325.2L1308.4 1326.4L1305.4 1327.6L1302.4 1328.7L1299.4 1329.6L1296.4 1330.4L1293.4 1331.1L1290.4 1331.7L1287.4 1332.2L1284.4 1332.6L1281.4 1332.8L1278.4 1333L1275.4 1333.2L1272.4 1333.2L1271.2 1333.3L1269.4 1333.2L1266.4 1333.1L1263.4 1333L1260.4 1332.8L1257.4 1332.5L1254.4 1332.1L1251.4 1331.6L1248.4 1331L1245.4 1330.2L1242.4 1329.4L1239.4 1328.5L1236.4 1327.3L1233.4 1326.2L1230.4 1325L1227.4 1323.7L1224.4 1322.3L1221.4 1320.9L1218.4 1319.5L1215.4 1318.1L1212.4 1316.6L1209.4 1315.2L1206.4 1313.7L1203.4 1312.1L1200.4 1310.5L1197.4 1308.8L1194.4 1307.1L1191.4 1305.3L1188.4 1303.4L1185.4 1301.4L1182.4 1299.3L1179.4 1297.3L1176.4 1295.3L1173.4 1293.3L1170.4 1291.4L1167.4 1289.5L1164.4 1287.9L1161.4 1286.5L1158.4 1285.2L1155.4 1284L1152.4 1283L1149.4 1282.2L1146.4 1281.6L1143.4 1280.9L1140.4 1280.4L1137.4 1280.1L1134.4 1279.9L1131.4 1279.7L1128.4 1279.6L1125.4 1279.9L1122.4 1280.5L1119.4 1281.3L1116.4 1282.5L1113.4 1283.9L1111 1285.1L1110.4 1284.8L1107.4 1283.4L1104.4 1282L1101.4 1281L1098.4 1280.3L1095.4 1279.7L1092.4 1279.6L1089.4 1279.7L1086.4 1279.9L1083.4 1280.2L1080.4 1280.6L1077.4 1281.1L1074.4 1281.8L1071.4 1282.5L1068.4 1283.3L1065.4 1284.4L1062.4 1285.7L1059.4 1287L1056.4 1288.5L1053.4 1290.2L1050.4 1292.1L1047.4 1294.1L1044.4 1296.1L1041.4 1298L1038.4 1300.1L1035.4 1302.2L1032.4 1304.1L1029.4 1306L1026.4 1307.8L1023.4 1309.5L1020.4 1311.1L1017.4 1312.7L1014.4 1314.2L1011.4 1315.7L1008.4 1317.2L1005.4 1318.6L1002.4 1320L999.4 1321.4L996.4 1322.8L993.4 1324.2L990.4 1325.4L987.4 1326.6L984.4 1327.8L981.4 1328.8L978.4 1329.8L975.4 1330.5L972.4 1331.2L969.4 1331.8L966.4 1332.3L963.4 1332.6L960.4 1332.8L957.4 1333L954.4 1333.2L951.4 1333.3L950.7 1333.3L948.4 1333.2L945.4 1333.1L942.4 1332.9L939.4 1332.7L936.4 1332.5L933.4 1332L930.4 1331.5L927.4 1330.8L924.4 1330.1L921.4 1329.3L918.4 1328.3L915.4 1327.1L912.4 1325.9L909.4 1324.7L906.4 1323.4L903.4 1322.1L900.4 1320.7L897.4 1319.3L895.1 1319.3Z" fill="#fa0000"/>
<path d="M895.1 1315L897.4 1315L900.4 1316.4L903.4 1317.8L906.4 1319.2L909.4 1320.5L912.4 1321.7L915.4 1322.9L918.4 1324L921.4 1325L924.4 1325.8L927.4 1326.6L930.4 1327.2L933.4 1327.8L936.4 1328.2L939.4 1328.4L942.4 1328.7L945.4 1328.9L948.4 1329L950.7 1329L951.4 1329L954.4 1328.9L957.4 1328.8L960.4 1328.6L963.4 1328.3L966.4 1328L969.4 1327.5L972.4 1326.9L975.4 1326.2L978.4 1325.5L981.4 1324.6L984.4 1323.5L987.4 1322.3L990.4 1321.1L993.4 1319.9L996.4 1318.6L999.4 1317.2L1002.4 1315.8L1005.4 1314.4L1008.4 1313L1011.4 1311.6L1014.4 1310.1L1017.4 1308.6L1020.4 1307.1L1023.4 1305.5L1026.4 1303.8L1029.4 1302.1L1032.4 1300.3L1035.4 1298.4L1038.4 1296.3L1041.4 1294.3L1044.4 1292.3L1047.4 1290.3L1050.4 1288.4L1053.4 1286.5L1056.4 1284.8L1059.4 1283.3L1062.4 1282L1065.4 1280.7L1068.4 1279.6L1071.4 1278.8L1074.4 1278L1077.4 1277.4L1080.4 1276.9L1083.4 1276.5L1086.4 1276.3L1089.4 1276.1L1092.4 1276.1L1095.4 1276.3L1098.4 1277L1101.4 1277.9L1104.4 1279.1L1107.4 1280.6L1110.4 1282.2L1111 1282.5L1113.4 1281.2L1116.4 1279.7L1119.4 1278.3L1122.4 1277.3L1125.4 1276.6L1128.4 1276.1L1131.4 1276.1L1134.4 1276.2L1137.4 1276.4L1140.4 1276.7L1143.4 1277.2L1146.4 1277.8L1149.4 1278.5L1152.4 1279.3L1155.4 1280.3L1158.4 1281.5L1161.4 1282.8L1164.4 1284.2L1167.4 1285.8L1170.4 1287.7L1173.4 1289.6L1176.4 1291.6L1179.4 1293.5L1182.4 1295.6L1185.4 1297.6L1188.4 1299.6L1191.4 1301.5L1194.4 1303.2L1197.4 1304.9L1200.4 1306.5L1203.4 1308.1L1206.4 1309.6L1209.4 1311L1212.4 1312.5L1215.4 1313.8L1218.4 1315.2L1221.4 1316.6L1224.4 1318.1L1227.4 1319.4L1230.4 1320.7L1233.4 1321.9L1236.4 1323.1L1239.4 1324.2L1242.4 1325.2L1245.4 1326L1248.4 1326.7L1251.4 1327.3L1254.4 1327.9L1257.4 1328.2L1260.4 1328.5L1263.4 1328.7L1266.4 1328.9L1269.4 1329L1271.2 1329L1272.4 1329L1275.4 1328.9L1278.4 1328.7L1281.4 1328.5L1284.4 1328.3L1287.4 1328L1290.4 1327.4L1293.4 1326.8L1296.4 1326.1L1299.4 1325.3L1302.4 1324.4L1305.4 1323.3L1308.4 1322.1L1311.4 1320.9L1314.4 1319.7L1317.4 1318.3L1320.4 1316.9L1323.4 1315.5L1326.4 1314.1L1329.4 1312.7L1332.4 1311.3L1335.4 1309.9L1338.4 1308.4L1341.4 1306.8L1344.4 1305.2L1347.4 1303.6L1350.4 1301.8L1353.4 1300L1356.4 1298L1359.4 1296L1362.4 1293.9L1365.4 1292L1368.4 1290L1371.4 1288L1374.4 1286.2L1377.4 1284.5L1380.4 1283.1L1383.4 1281.7L1386.4 1280.5L1389.4 1279.4L1392.4 1278.6L1395.4 1277.9L1398.4 1277.3L1401.4 1276.8L1404.4 1276.5L1407.4 1276.3L1410.4 1276.1L1413.4 1276.1L1416.4 1276.4L1419.4 1277.2L1422.4 1278.1L1425.4 1279.4L1428.4 1280.9L1431.4 1282.5L1431.4 1282.5L1434.4 1280.9L1437.4 1279.4L1440.4 1278.1L1443.4 1277.2L1446.4 1276.5L1449.4 1276.1L1452.4 1276.1L1455.4 1276.3L1458.4 1276.5L1461.4 1276.8L1464.4 1277.3L1467.4 1277.9L1470.4 1278.6L1473.4 1279.4L1476.4 1280.5L1479.4 1281.7L1482.4 1283.1L1485.4 1284.5L1488.4 1286.2L1491.4 1288L1494.4 1290L1497.4 1291.9L1500.4 1293.9L1503.4 1295.9L1506.4 1298L1509.4 1300L1512.4 1301.8L1515.4 1303.5L1518.4 1305.2L1521.4 1306.8L1524.4 1308.3L1527.4 1309.8L1530.4 1311.3L1532.2 1312.1L1534.5 1312.1L1534.5 1315.9L1532.2 1315.9L1530.4 1315L1527.4 1313.6L1524.4 1312L1521.4 1310.4L1518.4 1308.8L1515.4 1307.1L1512.4 1305.3L1509.4 1303.5L1506.4 1301.5L1503.4 1299.4L1500.4 1297.3L1497.4 1295.4L1494.4 1293.4L1491.4 1291.4L1488.4 1289.5L1485.4 1287.9L1482.4 1286.4L1479.4 1285.1L1476.4 1283.8L1473.4 1282.8L1470.4 1282L1467.4 1281.3L1464.4 1280.7L1461.4 1280.1L1458.4 1279.8L1455.4 1279.5L1452.4 1279.3L1449.4 1279.3L1446.4 1279.5L1443.4 1280.1L1440.4 1280.8L1437.4 1282L1434.4 1283.4L1431.4 1284.8L1431.4 1284.8L1428.4 1283.3L1425.4 1282L1422.4 1280.8L1419.4 1280L1416.4 1279.4L1413.4 1279.3L1410.4 1279.3L1407.4 1279.5L1404.4 1279.8L1401.4 1280.1L1398.4 1280.7L1395.4 1281.3L1392.4 1282L1389.4 1282.8L1386.4 1283.9L1383.4 1285.1L1380.4 1286.4L1377.4 1287.9L1374.4 1289.6L1371.4 1291.4L1368.4 1293.4L1365.4 1295.4L1362.4 1297.4L1359.4 1299.4L1356.4 1301.5L1353.4 1303.5L1350.4 1305.4L1347.4 1307.1L1344.4 1308.8L1341.4 1310.5L1338.4 1312L1335.4 1313.6L1332.4 1315.1L1329.4 1316.5L1326.4 1317.9L1323.4 1319.4L1320.4 1320.8L1317.4 1322.2L1314.4 1323.5L1311.4 1324.8L1308.4 1326L1305.4 1327.2L1302.4 1328.3L1299.4 1329.2L1296.4 1330L1293.4 1330.7L1290.4 1331.3L1287.4 1331.8L1284.4 1332.2L1281.4 1332.4L1278.4 1332.6L1275.4 1332.8L1272.4 1332.9L1271.2 1332.9L1269.4 1332.8L1266.4 1332.7L1263.4 1332.6L1260.4 1332.4L1257.4 1332.1L1254.4 1331.7L1251.4 1331.2L1248.4 1330.6L1245.4 1329.8L1242.4 1329L1239.4 1328.1L1236.4 1326.9L1233.4 1325.8L1230.4 1324.5L1227.4 1323.3L1224.4 1321.9L1221.4 1320.5L1218.4 1319.1L1215.4 1317.7L1212.4 1316.2L1209.4 1314.8L1206.4 1313.3L1203.4 1311.7L1200.4 1310.1L1197.4 1308.5L1194.4 1306.8L1191.4 1305L1188.4 1303.1L1185.4 1301.1L1182.4 1299L1179.4 1297L1176.4 1295L1173.4 1293L1170.4 1291.1L1167.4 1289.2L1164.4 1287.6L1161.4 1286.2L1158.4 1284.8L1155.4 1283.7L1152.4 1282.7L1149.4 1281.9L1146.4 1281.2L1143.4 1280.6L1140.4 1280.1L1137.4 1279.7L1134.4 1279.5L1131.4 1279.3L1128.4 1279.3L1125.4 1279.5L1122.4 1280.2L1119.4 1281L1116.4 1282.2L1113.4 1283.6L1111 1284.9L1110.4 1284.6L1107.4 1283.1L1104.4 1281.7L1101.4 1280.7L1098.4 1279.9L1095.4 1279.4L1092.4 1279.3L1089.4 1279.4L1086.4 1279.6L1083.4 1279.8L1080.4 1280.2L1077.4 1280.8L1074.4 1281.4L1071.4 1282.2L1068.4 1283L1065.4 1284.1L1062.4 1285.3L1059.4 1286.7L1056.4 1288.2L1053.4 1289.9L1050.4 1291.8L1047.4 1293.8L1044.4 1295.7L1041.4 1297.7L1038.4 1299.8L1035.4 1301.8L1032.4 1303.8L1029.4 1305.7L1026.4 1307.4L1023.4 1309.1L1020.4 1310.7L1017.4 1312.3L1014.4 1313.8L1011.4 1315.3L1008.4 1316.8L1005.4 1318.2L1002.4 1319.6L999.4 1321L996.4 1322.4L993.4 1323.7L990.4 1325L987.4 1326.2L984.4 1327.4L981.4 1328.4L978.4 1329.4L975.4 1330.1L972.4 1330.8L969.4 1331.4L966.4 1331.9L963.4 1332.2L960.4 1332.4L957.4 1332.6L954.4 1332.8L951.4 1332.9L950.7 1332.9L948.4 1332.8L945.4 1332.7L942.4 1332.5L939.4 1332.3L936.4 1332.1L933.4 1331.6L930.4 1331.1L927.4 1330.4L924.4 1329.7L921.4 1328.9L918.4 1327.9L915.4 1326.7L912.4 1325.5L909.4 1324.3L906.4 1323L903.4 1321.7L900.4 1320.3L897.4 1318.8L895.1 1318.8Z" fill="#cf0000"/>
<path d="M895.1 1315.9L897.4 1315.9L900.4 1317.3L903.4 1318.7L906.4 1320.1L909.4 1321.4L912.4 1322.6L915.4 1323.8L918.4 1324.9L921.4 1326L924.4 1326.8L927.4 1327.5L930.4 1328.2L933.4 1328.7L936.4 1329.1L939.4 1329.4L942.4 1329.6L945.4 1329.8L948.4 1329.9L950.7 1329.9L951.4 1329.9L954.4 1329.9L957.4 1329.7L960.4 1329.5L963.4 1329.3L966.4 1329L969.4 1328.5L972.4 1327.9L975.4 1327.2L978.4 1326.4L981.4 1325.5L984.4 1324.4L987.4 1323.3L990.4 1322.1L993.4 1320.8L996.4 1319.5L999.4 1318.1L1002.4 1316.7L1005.4 1315.3L1008.4 1313.9L1011.4 1312.5L1014.4 1311L1017.4 1309.5L1020.4 1308L1023.4 1306.4L1026.4 1304.8L1029.4 1303L1032.4 1301.2L1035.4 1299.3L1038.4 1297.2L1041.4 1295.1L1044.4 1293.2L1047.4 1291.2L1050.4 1289.2L1053.4 1287.3L1056.4 1285.6L1059.4 1284.2L1062.4 1282.8L1065.4 1281.5L1068.4 1280.4L1071.4 1279.6L1074.4 1278.8L1077.4 1278.2L1080.4 1277.7L1083.4 1277.3L1086.4 1277.1L1089.4 1276.9L1092.4 1276.8L1095.4 1277L1098.4 1277.7L1101.4 1278.6L1104.4 1279.7L1107.4 1281.2L1110.4 1282.8L1111 1283.1L1113.4 1281.8L1116.4 1280.3L1119.4 1278.9L1122.4 1278L1125.4 1277.2L1128.4 1276.9L1131.4 1276.8L1134.4 1277L1137.4 1277.2L1140.4 1277.5L1143.4 1278L1146.4 1278.6L1149.4 1279.3L1152.4 1280.1L1155.4 1281.1L1158.4 1282.3L1161.4 1283.7L1164.4 1285.1L1167.4 1286.7L1170.4 1288.5L1173.4 1290.5L1176.4 1292.5L1179.4 1294.4L1182.4 1296.4L1185.4 1298.5L1188.4 1300.5L1191.4 1302.4L1194.4 1304.1L1197.4 1305.8L1200.4 1307.4L1203.4 1309L1206.4 1310.5L1209.4 1312L1212.4 1313.4L1215.4 1314.8L1218.4 1316.2L1221.4 1317.6L1224.4 1319L1227.4 1320.3L1230.4 1321.6L1233.4 1322.8L1236.4 1324L1239.4 1325.1L1242.4 1326.1L1245.4 1326.9L1248.4 1327.6L1251.4 1328.3L1254.4 1328.8L1257.4 1329.2L1260.4 1329.4L1263.4 1329.7L1266.4 1329.8L1269.4 1329.9L1271.2 1329.9L1272.4 1329.9L1275.4 1329.9L1278.4 1329.7L1281.4 1329.5L1284.4 1329.2L1287.4 1328.9L1290.4 1328.4L1293.4 1327.8L1296.4 1327.1L1299.4 1326.3L1302.4 1325.3L1305.4 1324.2L1308.4 1323.1L1311.4 1321.9L1314.4 1320.6L1317.4 1319.2L1320.4 1317.8L1323.4 1316.4L1326.4 1315L1329.4 1313.6L1332.4 1312.2L1335.4 1310.8L1338.4 1309.3L1341.4 1307.7L1344.4 1306.1L1347.4 1304.5L1350.4 1302.7L1353.4 1300.9L1356.4 1298.9L1359.4 1296.8L1362.4 1294.8L1365.4 1292.8L1368.4 1290.9L1371.4 1288.9L1374.4 1287L1377.4 1285.4L1380.4 1283.9L1383.4 1282.6L1386.4 1281.3L1389.4 1280.3L1392.4 1279.4L1395.4 1278.7L1398.4 1278.1L1401.4 1277.6L1404.4 1277.2L1407.4 1277L1410.4 1276.9L1413.4 1276.8L1416.4 1277.1L1419.4 1277.8L1422.4 1278.7L1425.4 1280L1428.4 1281.5L1431.4 1283.1L1431.4 1283.1L1434.4 1281.5L1437.4 1280L1440.4 1278.7L1443.4 1277.9L1446.4 1277.1L1449.4 1276.8L1452.4 1276.9L1455.4 1277L1458.4 1277.2L1461.4 1277.6L1464.4 1278.1L1467.4 1278.7L1470.4 1279.4L1473.4 1280.2L1476.4 1281.3L1479.4 1282.5L1482.4 1283.9L1485.4 1285.4L1488.4 1287L1491.4 1288.9L1494.4 1290.8L1497.4 1292.8L1500.4 1294.8L1503.4 1296.8L1506.4 1298.9L1509.4 1300.9L1512.4 1302.7L1515.4 1304.4L1518.4 1306.1L1521.4 1307.7L1524.4 1309.3L1527.4 1310.8L1530.4 1312.2L1532.2 1313.1L1534.5 1313.1L1534.5 1315.5L1532.2 1315.5L1530.4 1314.7L1527.4 1313.2L1524.4 1311.7L1521.4 1310.1L1518.4 1308.5L1515.4 1306.8L1512.4 1305L1509.4 1303.1L1506.4 1301.1L1503.4 1299.1L1500.4 1297L1497.4 1295L1494.4 1293.1L1491.4 1291.1L1488.4 1289.2L1485.4 1287.5L1482.4 1286.1L1479.4 1284.7L1476.4 1283.5L1473.4 1282.5L1470.4 1281.7L1467.4 1280.9L1464.4 1280.3L1461.4 1279.8L1458.4 1279.4L1455.4 1279.2L1452.4 1279L1449.4 1278.9L1446.4 1279.1L1443.4 1279.7L1440.4 1280.5L1437.4 1281.7L1434.4 1283.1L1431.4 1284.6L1431.4 1284.6L1428.4 1283.1L1425.4 1281.7L1422.4 1280.5L1419.4 1279.7L1416.4 1279.1L1413.4 1278.9L1410.4 1279L1407.4 1279.2L1404.4 1279.4L1401.4 1279.8L1398.4 1280.3L1395.4 1281L1392.4 1281.7L1389.4 1282.5L1386.4 1283.5L1383.4 1284.8L1380.4 1286.1L1377.4 1287.6L1374.4 1289.2L1371.4 1291.1L1368.4 1293.1L1365.4 1295.1L1362.4 1297L1359.4 1299.1L1356.4 1301.2L1353.4 1303.2L1350.4 1305L1347.4 1306.8L1344.4 1308.5L1341.4 1310.1L1338.4 1311.7L1335.4 1313.2L1332.4 1314.7L1329.4 1316.1L1326.4 1317.5L1323.4 1319L1320.4 1320.4L1317.4 1321.8L1314.4 1323.1L1311.4 1324.4L1308.4 1325.6L1305.4 1326.8L1302.4 1327.9L1299.4 1328.8L1296.4 1329.6L1293.4 1330.3L1290.4 1330.9L1287.4 1331.4L1284.4 1331.8L1281.4 1332L1278.4 1332.2L1275.4 1332.4L1272.4 1332.5L1271.2 1332.5L1269.4 1332.5L1266.4 1332.4L1263.4 1332.2L1260.4 1332L1257.4 1331.7L1254.4 1331.3L1251.4 1330.8L1248.4 1330.2L1245.4 1329.4L1242.4 1328.6L1239.4 1327.7L1236.4 1326.5L1233.4 1325.4L1230.4 1324.1L1227.4 1322.9L1224.4 1321.5L1221.4 1320.1L1218.4 1318.7L1215.4 1317.3L1212.4 1315.9L1209.4 1314.4L1206.4 1312.9L1203.4 1311.4L1200.4 1309.8L1197.4 1308.2L1194.4 1306.5L1191.4 1304.7L1188.4 1302.8L1185.4 1300.8L1182.4 1298.7L1179.4 1296.7L1176.4 1294.7L1173.4 1292.7L1170.4 1290.7L1167.4 1288.9L1164.4 1287.3L1161.4 1285.9L1158.4 1284.5L1155.4 1283.3L1152.4 1282.3L1149.4 1281.5L1146.4 1280.8L1143.4 1280.2L1140.4 1279.7L1137.4 1279.4L1134.4 1279.1L1131.4 1279L1128.4 1278.9L1125.4 1279.2L1122.4 1279.9L1119.4 1280.7L1116.4 1281.9L1113.4 1283.3L1111 1284.6L1110.4 1284.3L1107.4 1282.8L1104.4 1281.4L1101.4 1280.4L1098.4 1279.6L1095.4 1279L1092.4 1278.9L1089.4 1279L1086.4 1279.2L1083.4 1279.5L1080.4 1279.9L1077.4 1280.4L1074.4 1281.1L1071.4 1281.8L1068.4 1282.6L1065.4 1283.7L1062.4 1285L1059.4 1286.4L1056.4 1287.8L1053.4 1289.6L1050.4 1291.5L1047.4 1293.4L1044.4 1295.4L1041.4 1297.4L1038.4 1299.5L1035.4 1301.5L1032.4 1303.5L1029.4 1305.3L1026.4 1307.1L1023.4 1308.8L1020.4 1310.4L1017.4 1312L1014.4 1313.5L1011.4 1314.9L1008.4 1316.4L1005.4 1317.8L1002.4 1319.2L999.4 1320.6L996.4 1322L993.4 1323.3L990.4 1324.6L987.4 1325.8L984.4 1327L981.4 1328L978.4 1329L975.4 1329.7L972.4 1330.4L969.4 1331L966.4 1331.5L963.4 1331.8L960.4 1332.1L957.4 1332.3L954.4 1332.4L951.4 1332.5L950.7 1332.5L948.4 1332.4L945.4 1332.3L942.4 1332.2L939.4 1331.9L936.4 1331.7L933.4 1331.3L930.4 1330.7L927.4 1330L924.4 1329.3L921.4 1328.5L918.4 1327.5L915.4 1326.3L912.4 1325.1L909.4 1323.9L906.4 1322.6L903.4 1321.3L900.4 1319.8L897.4 1318.4L895.1 1318.4Z" fill="#a40000"/>
<rect x="897.4" y="1320.9" width="634.8" height="2.4" fill="#f0f" opacity="0.5"/>
<rect x="897.4" y="1323.3" width="634.8" height="3.8" fill="#f0f"/>
<path d="M198.8 2019.9v-9.5M289.9 2019.9v-9.5M381 2019.9v-9.5M472.1 2019.9v-9.5M563.2 2019.9v-9.5M654.3 2019.9v-9.5M107.7 1950.33h9.5M107.7 1880.76h9.5M107.7 1811.19h9.5M107.7 1741.61h9.5M107.7 1672.04h9.5M107.7 1602.47h9.5" stroke="#000" stroke-width="1.5" fill="none"/>
<rect x="107.7" y="1532.9" width="637.7" height="487" fill="none" stroke="#000" stroke-width="1.5"/>
<text x="107.7" y="2050.25" font-size="23.3" text-anchor="middle" textLength="15.2" lengthAdjust="spacingAndGlyphs">0</text>
<text x="198.8" y="2050.25" font-size="23.3" text-anchor="middle" textLength="29.3" lengthAdjust="spacingAndGlyphs">60</text>
<text x="289.9" y="2050.25" font-size="23.3" text-anchor="middle" textLength="39.1" lengthAdjust="spacingAndGlyphs">120</text>
<text x="381" y="2050.25" font-size="23.3" text-anchor="middle" textLength="39.1" lengthAdjust="spacingAndGlyphs">180</text>
<text x="472.1" y="2050.25" font-size="23.3" text-anchor="middle" textLength="43.4" lengthAdjust="spacingAndGlyphs">240</text>
<text x="563.2" y="2050.25" font-size="23.3" text-anchor="middle" textLength="44.5" lengthAdjust="spacingAndGlyphs">300</text>
<text x="654.3" y="2050.25" font-size="23.3" text-anchor="middle" textLength="43.4" lengthAdjust="spacingAndGlyphs">360</text>
<text x="745.4" y="2050.25" font-size="23.3" text-anchor="middle" textLength="43.4" lengthAdjust="spacingAndGlyphs">420</text>
<text x="95.7" y="2026.8" font-size="23.3" text-anchor="end" textLength="15.2" lengthAdjust="spacingAndGlyphs">0</text>
<text x="95.7" y="1957.23" font-size="23.3" text-anchor="end" textLength="14.1" lengthAdjust="spacingAndGlyphs">2</text>
<text x="95.7" y="1887.66" font-size="23.3" text-anchor="end" textLength="14.1" lengthAdjust="spacingAndGlyphs">4</text>
<text x="95.7" y="1818.09" font-size="23.3" text-anchor="end" textLength="14.1" lengthAdjust="spacingAndGlyphs">6</text>
<text x="95.7" y="1748.51" font-size="23.3" text-anchor="end" textLength="14.1" lengthAdjust="spacingAndGlyphs">8</text>
<text x="95.7" y="1678.94" font-size="23.3" text-anchor="end" textLength="25" lengthAdjust="spacingAndGlyphs">10</text>
<text x="95.7" y="1609.37" font-size="23.3" text-anchor="end" textLength="23.9" lengthAdjust="spacingAndGlyphs">12</text>
<text x="95.7" y="1539.8" font-size="23.3" text-anchor="end" textLength="23.9" lengthAdjust="spacingAndGlyphs">14</text>
<rect x="698.3" y="1548.7" width="31.3" height="453.9" fill="url(#jgc)" stroke="#000" stroke-width="1.4"/>
<text x="686.3" y="2010.3" font-size="23.3" text-anchor="end" textLength="15.2" lengthAdjust="spacingAndGlyphs">0</text>
<text x="686.3" y="1945.46" font-size="23.3" text-anchor="end" textLength="14.1" lengthAdjust="spacingAndGlyphs">2</text>
<text x="686.3" y="1880.61" font-size="23.3" text-anchor="end" textLength="14.1" lengthAdjust="spacingAndGlyphs">4</text>
<text x="686.3" y="1815.77" font-size="23.3" text-anchor="end" textLength="14.1" lengthAdjust="spacingAndGlyphs">6</text>
<text x="686.3" y="1750.93" font-size="23.3" text-anchor="end" textLength="14.1" lengthAdjust="spacingAndGlyphs">8</text>
<text x="686.3" y="1686.09" font-size="23.3" text-anchor="end" textLength="25" lengthAdjust="spacingAndGlyphs">10</text>
<text x="686.3" y="1621.24" font-size="23.3" text-anchor="end" textLength="23.9" lengthAdjust="spacingAndGlyphs">12</text>
<text x="686.3" y="1556.4" font-size="23.3" text-anchor="end" textLength="23.9" lengthAdjust="spacingAndGlyphs">14</text>
<path d="M698.3 1937.76h7.4M698.3 1872.91h7.4M698.3 1808.07h7.4M698.3 1743.23h7.4M698.3 1678.39h7.4M698.3 1613.54h7.4" stroke="#000" stroke-width="1.3" fill="none"/>
<path d="M107.7 2019.9L210.04 2019.9L210.64 2016.07L213.98 2017.81L218.99 2018.68L223.85 2018.16L229.17 2016.42L241.84 1996.25L243.59 1986.11L245.87 1973.7L248.9 1958.56L251.94 1945L254.98 1933.04L258.01 1922.68L261.05 1913.91L264.09 1906.73L267.12 1901.15L270.16 1897.16L273.2 1894.77L276.23 1893.98L276.23 1893.98L279.27 1894.77L282.31 1897.16L285.34 1901.15L288.38 1906.73L291.42 1913.91L294.45 1922.68L297.49 1933.04L300.53 1945L303.56 1958.56L306.6 1973.7L308.88 1986.11L310.63 1996.25L323.3 2016.42L328.62 2018.16L333.48 2018.68L338.49 2017.81L341.83 2016.07L342.43 2019.9L527.22 2019.9L527.82 2016.07L531.16 2017.81L536.17 2018.68L541.03 2018.16L546.35 2016.42L559.02 1996.25L560.77 1986.11L563.05 1973.7L566.08 1958.56L569.12 1945L572.16 1933.04L575.19 1922.68L578.23 1913.91L581.27 1906.73L584.3 1901.15L587.34 1897.16L590.38 1894.77L593.41 1893.98L593.41 1893.98L596.45 1894.77L599.49 1897.16L602.52 1901.15L605.56 1906.73L608.6 1913.91L611.63 1922.68L614.67 1933.04L617.71 1945L620.74 1958.56L623.78 1973.7L626.06 1986.11L627.81 1996.25L640.48 2016.42L645.8 2018.16L650.66 2018.68L655.67 2017.81L659.01 2016.07L659.61 2019.9L745.4 2019.9" stroke="url(#jg)" stroke-width="4.5" fill="none" stroke-linejoin="round" stroke-linecap="round"/>
<path d="M992.68 2019.7v-9.5M1072.42 2019.7v-9.5M1152.17 2019.7v-9.5M1231.91 2019.7v-9.5M1311.66 2019.7v-9.5M1391.41 2019.7v-9.5M1471.15 2019.7v-9.5M912.93 1950.16h9.5M912.93 1880.61h9.5M912.93 1811.07h9.5M912.93 1741.53h9.5M912.93 1671.99h9.5M912.93 1602.44h9.5" stroke="#000" stroke-width="1.5" fill="none"/>
<rect x="912.93" y="1532.9" width="637.97" height="486.8" fill="none" stroke="#000" stroke-width="1.5"/>
<text x="912.93" y="2050.25" font-size="23.3" text-anchor="middle" textLength="15.2" lengthAdjust="spacingAndGlyphs">0</text>
<text x="992.68" y="2050.25" font-size="23.3" text-anchor="middle" textLength="29.3" lengthAdjust="spacingAndGlyphs">80</text>
<text x="1072.42" y="2050.25" font-size="23.3" text-anchor="middle" textLength="39.1" lengthAdjust="spacingAndGlyphs">160</text>
<text x="1152.17" y="2050.25" font-size="23.3" text-anchor="middle" textLength="43.4" lengthAdjust="spacingAndGlyphs">240</text>
<text x="1231.91" y="2050.25" font-size="23.3" text-anchor="middle" textLength="43.4" lengthAdjust="spacingAndGlyphs">320</text>
<text x="1311.66" y="2050.25" font-size="23.3" text-anchor="middle" textLength="44.5" lengthAdjust="spacingAndGlyphs">400</text>
<text x="1391.41" y="2050.25" font-size="23.3" text-anchor="middle" textLength="43.4" lengthAdjust="spacingAndGlyphs">480</text>
<text x="1471.15" y="2050.25" font-size="23.3" text-anchor="middle" textLength="43.4" lengthAdjust="spacingAndGlyphs">560</text>
<text x="1550.9" y="2050.25" font-size="23.3" text-anchor="middle" textLength="43.4" lengthAdjust="spacingAndGlyphs">640</text>
<text x="900.43" y="2026.6" font-size="23.3" text-anchor="end" textLength="15.2" lengthAdjust="spacingAndGlyphs">0</text>
<text x="900.43" y="1957.06" font-size="23.3" text-anchor="end" textLength="14.1" lengthAdjust="spacingAndGlyphs">2</text>
<text x="900.43" y="1887.51" font-size="23.3" text-anchor="end" textLength="14.1" lengthAdjust="spacingAndGlyphs">4</text>
<text x="900.43" y="1817.97" font-size="23.3" text-anchor="end" textLength="14.1" lengthAdjust="spacingAndGlyphs">6</text>
<text x="900.43" y="1748.43" font-size="23.3" text-anchor="end" textLength="14.1" lengthAdjust="spacingAndGlyphs">8</text>
<text x="900.43" y="1678.89" font-size="23.3" text-anchor="end" textLength="25" lengthAdjust="spacingAndGlyphs">10</text>
<text x="900.43" y="1609.34" font-size="23.3" text-anchor="end" textLength="23.9" lengthAdjust="spacingAndGlyphs">12</text>
<text x="900.43" y="1539.8" font-size="23.3" text-anchor="end" textLength="23.9" lengthAdjust="spacingAndGlyphs">14</text>
<rect x="1503.8" y="1548.7" width="31.3" height="454.2" fill="url(#jhc)" stroke="#000" stroke-width="1.4"/>
<text x="1491.8" y="2010.6" font-size="23.3" text-anchor="end" textLength="15.2" lengthAdjust="spacingAndGlyphs">0</text>
<text x="1491.8" y="1945.71" font-size="23.3" text-anchor="end" textLength="14.1" lengthAdjust="spacingAndGlyphs">2</text>
<text x="1491.8" y="1880.83" font-size="23.3" text-anchor="end" textLength="14.1" lengthAdjust="spacingAndGlyphs">4</text>
<text x="1491.8" y="1815.94" font-size="23.3" text-anchor="end" textLength="14.1" lengthAdjust="spacingAndGlyphs">6</text>
<text x="1491.8" y="1751.06" font-size="23.3" text-anchor="end" textLength="14.1" lengthAdjust="spacingAndGlyphs">8</text>
<text x="1491.8" y="1686.17" font-size="23.3" text-anchor="end" textLength="25" lengthAdjust="spacingAndGlyphs">10</text>
<text x="1491.8" y="1621.29" font-size="23.3" text-anchor="end" textLength="23.9" lengthAdjust="spacingAndGlyphs">12</text>
<text x="1491.8" y="1556.4" font-size="23.3" text-anchor="end" textLength="23.9" lengthAdjust="spacingAndGlyphs">14</text>
<path d="M1503.8 1938.01h7.4M1503.8 1873.13h7.4M1503.8 1808.24h7.4M1503.8 1743.36h7.4M1503.8 1678.47h7.4M1503.8 1613.59h7.4" stroke="#000" stroke-width="1.3" fill="none"/>
<path d="M912.93 1759.61L914.82 1741.88L921.2 1662.95L926.89 1592.71L927.88 1579.15L928.68 1583.05L929.48 1586.8L930.47 1591.19L931.47 1595.49L932.97 1602.23L934.46 1608.7L935.96 1614.36L937.45 1619.83L938.95 1625.69L940.44 1631.3L941.94 1636.09L943.43 1640.69L944.93 1645.63L946.42 1650.43L947.92 1654.83L949.41 1658.77L950.91 1662.04L952.4 1665.03L953.9 1668.17L955.39 1670.94L956.89 1673.04L958.39 1674.77L959.38 1676.16L960.68 1676.85L962.37 1675.81L964.37 1674.42L965.86 1674.07L968.85 1674.07L970.35 1674.42L972.34 1675.81L974.04 1676.85L975.33 1676.16L976.33 1674.77L977.82 1673.04L979.32 1670.94L980.81 1668.17L982.31 1665.03L983.8 1662.04L985.3 1658.77L986.79 1654.83L988.29 1650.43L989.79 1645.63L991.28 1640.69L992.78 1636.09L994.27 1631.3L995.77 1625.69L997.26 1619.83L998.76 1614.36L1000.25 1608.7L1001.75 1602.23L1003.24 1595.49L1004.24 1591.19L1005.24 1586.8L1006.03 1583.05L1006.83 1579.15L1007.83 1592.71L1013.51 1662.95L1019.89 1741.88L1023.68 1777.34L1027.57 1797.86L1030.06 1815.24L1033.85 1872.27L1037.73 1935.9L1041.52 1996.75L1043.91 2008.23L1046.6 2014.48L1051.69 2017.61L1054.88 2017.27L1057.87 2015.88L1058.27 2019.7L1114.09 2019.7L1114.49 2017.61L1142.3 2017.61L1142.7 2019.7L1198.52 2019.7L1198.92 2015.88L1201.91 2017.27L1205.1 2017.61L1210.18 2014.48L1212.88 2008.23L1215.27 1996.75L1219.06 1935.9L1222.94 1872.27L1226.73 1815.24L1229.22 1797.86L1233.11 1777.34L1236.9 1741.88L1243.28 1662.95L1248.96 1592.71L1249.96 1579.15L1250.76 1583.05L1251.55 1586.8L1252.55 1591.19L1253.55 1595.49L1255.04 1602.23L1256.54 1608.7L1258.03 1614.36L1259.53 1619.83L1261.02 1625.69L1262.52 1631.3L1264.01 1636.09L1265.51 1640.69L1267 1645.63L1268.5 1650.43L1269.99 1654.83L1271.49 1658.77L1272.98 1662.04L1274.48 1665.03L1275.97 1668.17L1277.47 1670.94L1278.97 1673.04L1280.46 1674.77L1281.46 1676.16L1282.75 1676.85L1284.45 1675.81L1286.44 1674.42L1287.94 1674.07L1290.93 1674.07L1292.42 1674.42L1294.42 1675.81L1296.11 1676.85L1297.41 1676.16L1298.4 1674.77L1299.9 1673.04L1301.39 1670.94L1302.89 1668.17L1304.38 1665.03L1305.88 1662.04L1307.37 1658.77L1308.87 1654.83L1310.37 1650.43L1311.86 1645.63L1313.36 1640.69L1314.85 1636.09L1316.35 1631.3L1317.84 1625.69L1319.34 1619.83L1320.83 1614.36L1322.33 1608.7L1323.82 1602.23L1325.32 1595.49L1326.31 1591.19L1327.31 1586.8L1328.11 1583.05L1328.91 1579.15L1329.9 1592.71L1335.59 1662.95L1341.96 1741.88L1345.75 1777.34L1349.64 1797.86L1352.13 1815.24L1355.92 1872.27L1359.81 1935.9L1363.6 1996.75L1365.99 2008.23L1368.68 2014.48L1373.76 2017.61L1376.95 2017.27L1379.94 2015.88L1380.34 2019.7L1436.17 2019.7L1436.56 2017.61L1464.38 2017.61L1464.77 2019.7L1520.6 2019.7L1521 2015.88L1523.99 2017.27L1527.18 2017.61L1532.26 2014.48L1534.95 2008.23L1537.34 1996.75L1541.13 1935.9L1545.02 1872.27L1548.81 1815.24L1550.9 1800.64" stroke="url(#jh)" stroke-width="4.5" fill="none" stroke-linejoin="round" stroke-linecap="round"/>
<text x="816.45" y="23.9" font-size="28.4" text-anchor="middle" textLength="633.9" lengthAdjust="spacingAndGlyphs">Uranus's moons and the magnetopause during</text>
<text x="816.1" y="56" font-size="28.4" text-anchor="middle" textLength="984.6" lengthAdjust="spacingAndGlyphs">spring equinox:9 February 2050, 12:00 a.m. Coordinated Universal Time</text>
<text transform="translate(0.09 105.1) scale(1.017 1.073)" font-size="36" font-weight="bold" stroke="#000" stroke-width="1" stroke-linejoin="round">a</text>
<text transform="translate(801.96 104.83) scale(1.195 1.092)" font-size="36" font-weight="bold" stroke="#000" stroke-width="1" stroke-linejoin="round">b</text>
<text transform="translate(-0.6 818.0) scale(1.175 1.063)" font-size="36" font-weight="bold" stroke="#000" stroke-width="1" stroke-linejoin="round">c</text>
<text transform="translate(802.61 817.97) scale(1.195 1.101)" font-size="36" font-weight="bold" stroke="#000" stroke-width="1" stroke-linejoin="round">d</text>
<text transform="translate(-0.65 1174.9) scale(1.224 1.063)" font-size="36" font-weight="bold" stroke="#000" stroke-width="1" stroke-linejoin="round">e</text>
<text transform="translate(803.2 1174.55) scale(1.176 1.104)" font-size="36" font-weight="bold" stroke="#000" stroke-width="1" stroke-linejoin="round">f</text>
<text transform="translate(-0.62 1534.5) scale(1.186 1.038)" font-size="36" font-weight="bold" stroke="#000" stroke-width="1" stroke-linejoin="round">g</text>
<text transform="translate(801.97 1534.56) scale(1.192 1.081)" font-size="36" font-weight="bold" stroke="#000" stroke-width="1" stroke-linejoin="round">h</text>
<text x="162.7" y="186.1" font-size="28.2" textLength="82.9" lengthAdjust="spacingAndGlyphs">Titania</text>
<text x="127.6" y="240.9" font-size="28.2" textLength="95" lengthAdjust="spacingAndGlyphs">Oberon</text>
<text x="186.2" y="633.3" font-size="28.2" font-style="italic">Z</text>
<text x="108" y="710.9" font-size="28.2" font-style="italic">X</text>
<text x="210.9" y="708.8" font-size="28.2" textLength="57.2" lengthAdjust="spacingAndGlyphs">USO</text>
<text x="1013.2" y="632" font-size="28.2" font-style="italic">Y</text>
<text x="935" y="712" font-size="28.2" font-style="italic">X</text>
<text x="1038.7" y="709.4" font-size="28.2" textLength="57.4" lengthAdjust="spacingAndGlyphs">USO</text>
<text x="409.6" y="826.9" font-size="28.2" text-anchor="middle" textLength="82.7" lengthAdjust="spacingAndGlyphs">Titania</text>
<text x="409.6" y="1107" font-size="28.2" text-anchor="middle" textLength="101" lengthAdjust="spacingAndGlyphs">Time (h)</text>
<text x="1222.3" y="826.9" font-size="28.2" text-anchor="middle" textLength="95.5" lengthAdjust="spacingAndGlyphs">Oberon</text>
<text x="1223.4" y="1107.6" font-size="28.2" text-anchor="middle" textLength="100.8" lengthAdjust="spacingAndGlyphs">Time (h)</text>
<text x="19.4" y="938.2" font-size="28.2" text-anchor="middle" transform="rotate(-90 19.4 938.2)"><tspan font-style="italic">θ</tspan> (°)</text>
<text x="836" y="939.4" font-size="28.2" text-anchor="middle" transform="rotate(-90 836 939.4)"><tspan font-style="italic">θ</tspan> (°)</text>
<text x="412.5" y="1187.1" font-size="28.2" text-anchor="middle" textLength="585" lengthAdjust="spacingAndGlyphs">Probability of orbiting outside magnetosphere</text>
<text x="1215.4" y="1186.5" font-size="28.2" text-anchor="middle" textLength="586.5" lengthAdjust="spacingAndGlyphs">Probability of orbiting outside magnetosphere</text>
<text x="409.5" y="1371.5" font-size="28.2" text-anchor="middle" textLength="81" lengthAdjust="spacingAndGlyphs" fill="#ff00ff">Titania</text>
<text x="1112.4" y="1351.9" font-size="28.2" text-anchor="middle" textLength="95.2" lengthAdjust="spacingAndGlyphs" fill="#ff00ff">Oberon</text>
<text x="411.8" y="1467.5" font-size="28.2" text-anchor="middle" textLength="101.5" lengthAdjust="spacingAndGlyphs">Time (h)</text>
<text x="1215.3" y="1471.5" font-size="28.2" text-anchor="middle" textLength="101.5" lengthAdjust="spacingAndGlyphs">Time (h)</text>
<text x="22.6" y="1299.5" font-size="26.6" text-anchor="middle" transform="rotate(-90 22.6 1299.5)"><tspan font-style="italic">r</tspan> (<tspan font-style="italic">R</tspan><tspan font-size="19" dy="5.5">U</tspan><tspan dy="-5.5">)</tspan></text>
<text x="829.7" y="1304" font-size="26.6" text-anchor="middle" transform="rotate(-90 829.7 1304)"><tspan font-style="italic">r</tspan> (<tspan font-style="italic">R</tspan><tspan font-size="19" dy="5.5">U</tspan><tspan dy="-5.5">)</tspan></text>
<text x="45.8" y="1776" font-size="28.2" text-anchor="middle" textLength="137.5" lengthAdjust="spacingAndGlyphs" transform="rotate(-90 45.8 1776)">Probability</text>
<text x="852.2" y="1776" font-size="28.2" text-anchor="middle" textLength="137.5" lengthAdjust="spacingAndGlyphs" transform="rotate(-90 852.2 1776)">Probability</text>
<text x="640.4" y="1776" font-size="28.2" text-anchor="middle" textLength="182.5" lengthAdjust="spacingAndGlyphs" transform="rotate(-90 640.4 1776)">Probability (%)</text>
<text x="1445.7" y="1776" font-size="28.2" text-anchor="middle" textLength="182.5" lengthAdjust="spacingAndGlyphs" transform="rotate(-90 1445.7 1776)">Probability (%)</text>
<text x="426.3" y="2091" font-size="28.2" text-anchor="middle" textLength="102.5" lengthAdjust="spacingAndGlyphs">Time (h)</text>
<text x="1233" y="2091" font-size="28.2" text-anchor="middle" textLength="101" lengthAdjust="spacingAndGlyphs">Time (h)</text>
</svg>
</body>
</html>
